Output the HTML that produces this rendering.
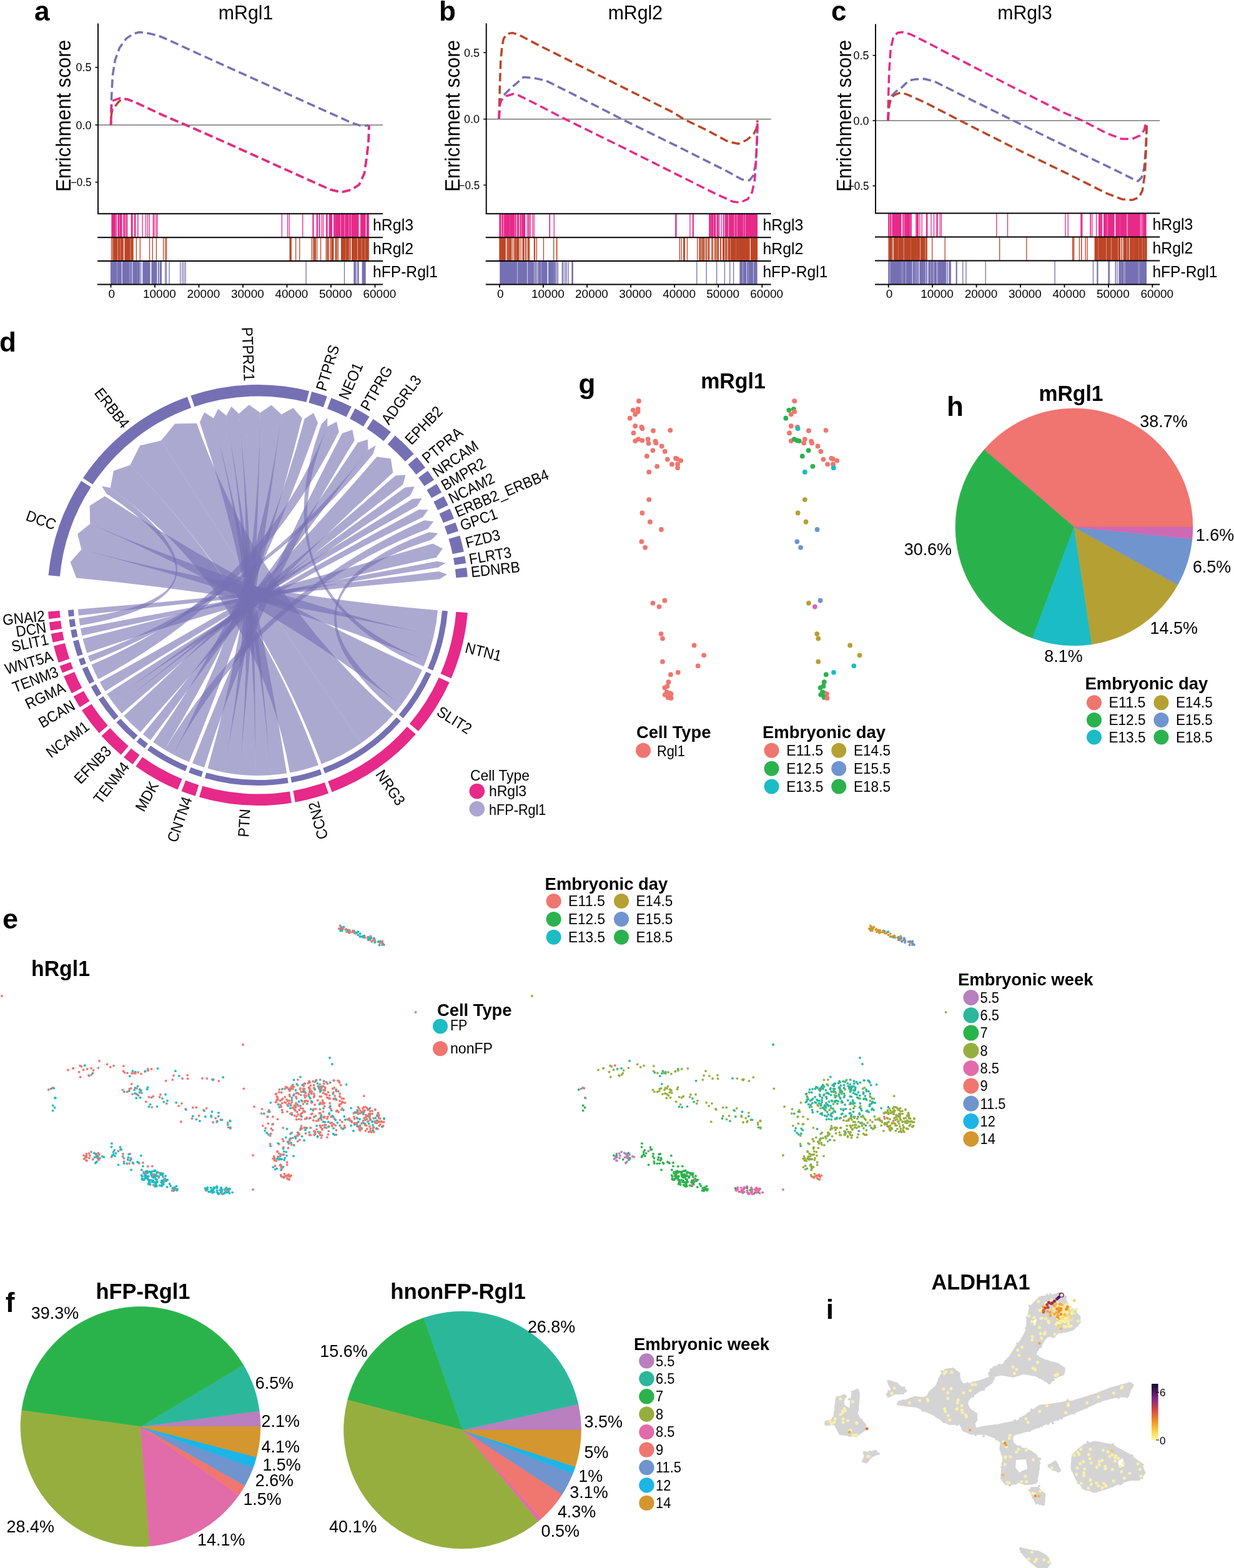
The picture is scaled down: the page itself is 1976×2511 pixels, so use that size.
<!DOCTYPE html>
<html><head><meta charset="utf-8"><title>Figure</title>
<style>html,body{margin:0;padding:0;background:#fff;}svg{display:block;}
text{font-family:"Liberation Sans",Arial,sans-serif;}</style></head>
<body><svg width="1976" height="2511" viewBox="0 0 1976 2511">
<rect width="1976" height="2511" fill="#fff"/>
<text x="55" y="33" font-size="44" font-weight="bold">a</text>
<text x="393.6" y="30.8" font-size="31.5" text-anchor="middle" textLength="87.5" lengthAdjust="spacingAndGlyphs">mRgl1</text>
<text x="113" y="185.5" font-size="33" text-anchor="middle" textLength="243" lengthAdjust="spacingAndGlyphs" transform="rotate(-90 113 185.5)">Enrichment score</text>
<line x1="157" y1="200.2" x2="613" y2="200.2" stroke="#777" stroke-width="1.6"/>
<line x1="157" y1="37.5" x2="157" y2="342.2" stroke="#000" stroke-width="1.9"/>
<line x1="152.5" y1="107.9" x2="157" y2="107.9" stroke="#000" stroke-width="1.6"/>
<text x="146.4" y="114.2" font-size="17.7" text-anchor="end" textLength="25" lengthAdjust="spacingAndGlyphs">0.5</text>
<line x1="152.5" y1="200.2" x2="157" y2="200.2" stroke="#000" stroke-width="1.6"/>
<text x="146.4" y="206.5" font-size="17.7" text-anchor="end" textLength="25" lengthAdjust="spacingAndGlyphs">0.0</text>
<line x1="152.5" y1="291.7" x2="157" y2="291.7" stroke="#000" stroke-width="1.6"/>
<text x="146.4" y="298" font-size="17.7" text-anchor="end" textLength="33.5" lengthAdjust="spacingAndGlyphs">−0.5</text>
<path d="M190.51 342.2V380.3M183.56 342.2V380.3M203.66 342.2V380.3M180.41 342.2V380.3M199.03 342.2V380.3M192.2 342.2V380.3M179.83 342.2V380.3M197.89 342.2V380.3M179.01 342.2V380.3M194.93 342.2V380.3M180.31 342.2V380.3M181.15 342.2V380.3M194.56 342.2V380.3M210.73 342.2V380.3M182.47 342.2V380.3M186.47 342.2V380.3M202.71 342.2V380.3M215.58 342.2V380.3M200.69 342.2V380.3M193.44 342.2V380.3M216.73 342.2V380.3M179.37 342.2V380.3M212 342.2V380.3M189.14 342.2V380.3M183.3 342.2V380.3M182.23 342.2V380.3M189.9 342.2V380.3M210.3 342.2V380.3M184.76 342.2V380.3M247 342.2V380.3M249.89 342.2V380.3M236.46 342.2V380.3M245.3 342.2V380.3M220.85 342.2V380.3M220.69 342.2V380.3M228.07 342.2V380.3M251.98 342.2V380.3M239.24 342.2V380.3M233.52 342.2V380.3M451.45 342.2V380.3M460.52 342.2V380.3M463.24 342.2V380.3M484.74 342.2V380.3M511.22 342.2V380.3M500.96 342.2V380.3M508.41 342.2V380.3M507.3 342.2V380.3M515.2 342.2V380.3M511.91 342.2V380.3M501.95 342.2V380.3M517.57 342.2V380.3M523.66 342.2V380.3M527.26 342.2V380.3M531.32 342.2V380.3M524.07 342.2V380.3M528.11 342.2V380.3M522.71 342.2V380.3M530.25 342.2V380.3M531.41 342.2V380.3M529.11 342.2V380.3M583.65 342.2V380.3M552.17 342.2V380.3M573.55 342.2V380.3M567.9 342.2V380.3M567.08 342.2V380.3M560.15 342.2V380.3M581.66 342.2V380.3M587.53 342.2V380.3M561.15 342.2V380.3M571.81 342.2V380.3M537.98 342.2V380.3M573.9 342.2V380.3M570.85 342.2V380.3M590.24 342.2V380.3M580.65 342.2V380.3M550.53 342.2V380.3M556.21 342.2V380.3M572.06 342.2V380.3M535.85 342.2V380.3M560.46 342.2V380.3M544 342.2V380.3M541.15 342.2V380.3M537.89 342.2V380.3M577.64 342.2V380.3M541.83 342.2V380.3M548.46 342.2V380.3M556.49 342.2V380.3M583.42 342.2V380.3M539.1 342.2V380.3M559.76 342.2V380.3M565.38 342.2V380.3M584.09 342.2V380.3M580.5 342.2V380.3M583.01 342.2V380.3M550.19 342.2V380.3M557.86 342.2V380.3M554.69 342.2V380.3M584.14 342.2V380.3M588.26 342.2V380.3M543.04 342.2V380.3M544.46 342.2V380.3M547.58 342.2V380.3M547.66 342.2V380.3M561.76 342.2V380.3M567.6 342.2V380.3M549.31 342.2V380.3M534.81 342.2V380.3M558.06 342.2V380.3M555.28 342.2V380.3M566.32 342.2V380.3M588 342.2V380.3M573.28 342.2V380.3M563.47 342.2V380.3M569.2 342.2V380.3M572.48 342.2V380.3M537.61 342.2V380.3M585 342.2V380.3M578.3 342.2V380.3M583.6 342.2V380.3M579.3 342.2V380.3M556.57 342.2V380.3M556.94 342.2V380.3M540.39 342.2V380.3M570.13 342.2V380.3M538.07 342.2V380.3M538.36 342.2V380.3M546.28 342.2V380.3M543.68 342.2V380.3M553.64 342.2V380.3M537.53 342.2V380.3M534.6 342.2V380.3M543.06 342.2V380.3M540.27 342.2V380.3M554.96 342.2V380.3M536.01 342.2V380.3M583.59 342.2V380.3M569 342.2V380.3M542.91 342.2V380.3M548.72 342.2V380.3M554.05 342.2V380.3M554.99 342.2V380.3M541.47 342.2V380.3M582.16 342.2V380.3M590.24 342.2V380.3M560.7 342.2V380.3M561.7 342.2V380.3M539.4 342.2V380.3M540.31 342.2V380.3M553.79 342.2V380.3M549.42 342.2V380.3M581.04 342.2V380.3M543.63 342.2V380.3M535.88 342.2V380.3M587.88 342.2V380.3M564.19 342.2V380.3M542.8 342.2V380.3M565.03 342.2V380.3M536.1 342.2V380.3M564.18 342.2V380.3M589.43 342.2V380.3M582.97 342.2V380.3M573.6 342.2V380.3M549.22 342.2V380.3M555.14 342.2V380.3M543.94 342.2V380.3M577.85 342.2V380.3M564.43 342.2V380.3M578.25 342.2V380.3" stroke="#E7298A" stroke-width="1.3" fill="none"/>
<path d="M189.35 380.3V418M185.52 380.3V418M206.68 380.3V418M212.91 380.3V418M208.16 380.3V418M206.48 380.3V418M206.92 380.3V418M204.1 380.3V418M185.65 380.3V418M196.11 380.3V418M190.28 380.3V418M178.54 380.3V418M178.5 380.3V418M187.55 380.3V418M186.82 380.3V418M202.4 380.3V418M211.89 380.3V418M193.58 380.3V418M211.19 380.3V418M213.02 380.3V418M211.84 380.3V418M190.61 380.3V418M185.43 380.3V418M185.66 380.3V418M184.57 380.3V418M184.85 380.3V418M199.94 380.3V418M209.87 380.3V418M207.72 380.3V418M194.74 380.3V418M200.98 380.3V418M206.25 380.3V418M180.55 380.3V418M201.25 380.3V418M210.21 380.3V418M205.63 380.3V418M204.47 380.3V418M194.69 380.3V418M183.92 380.3V418M205.87 380.3V418M189.46 380.3V418M206.29 380.3V418M212.44 380.3V418M191.73 380.3V418M191.93 380.3V418M211.54 380.3V418M203.56 380.3V418M183.61 380.3V418M182.07 380.3V418M182.93 380.3V418M210.03 380.3V418M206.5 380.3V418M182.76 380.3V418M207.22 380.3V418M212.75 380.3V418M201.13 380.3V418M190.1 380.3V418M197.23 380.3V418M224.29 380.3V418M218.4 380.3V418M266.63 380.3V418M250.43 380.3V418M244.23 380.3V418M264.75 380.3V418M239.55 380.3V418M261.63 380.3V418M479.76 380.3V418M464.15 380.3V418M465.19 380.3V418M466.23 380.3V418M464.9 380.3V418M473.68 380.3V418M501.62 380.3V418M504.55 380.3V418M499.27 380.3V418M513.55 380.3V418M503.35 380.3V418M505.26 380.3V418M507.56 380.3V418M541.05 380.3V418M530.99 380.3V418M541.33 380.3V418M532.68 380.3V418M533.31 380.3V418M533.13 380.3V418M522.63 380.3V418M531.4 380.3V418M526.05 380.3V418M522.33 380.3V418M538.87 380.3V418M525.83 380.3V418M532.09 380.3V418M537.33 380.3V418M533.82 380.3V418M529.02 380.3V418M533.03 380.3V418M533.8 380.3V418M538.56 380.3V418M524.45 380.3V418M570.95 380.3V418M556.99 380.3V418M558.26 380.3V418M580.43 380.3V418M568.59 380.3V418M571.01 380.3V418M579.89 380.3V418M586.71 380.3V418M565.71 380.3V418M573.28 380.3V418M568.49 380.3V418M568.79 380.3V418M576.87 380.3V418M566.11 380.3V418M569.74 380.3V418M567.26 380.3V418M588.01 380.3V418M577.16 380.3V418M585.1 380.3V418M588.04 380.3V418M557.48 380.3V418M570.91 380.3V418M588.09 380.3V418M583.47 380.3V418M552 380.3V418M551.31 380.3V418M565.66 380.3V418M549.11 380.3V418M556.64 380.3V418M549.14 380.3V418M575.83 380.3V418M580.96 380.3V418M586.02 380.3V418M552.78 380.3V418M577.92 380.3V418M575.42 380.3V418M552.26 380.3V418M585.38 380.3V418M589.18 380.3V418M555.69 380.3V418M588.5 380.3V418M563.69 380.3V418M567.68 380.3V418M590.18 380.3V418M583.13 380.3V418M553.09 380.3V418M565.18 380.3V418M568.94 380.3V418M561.04 380.3V418M554.63 380.3V418M560.12 380.3V418M578.19 380.3V418M546.73 380.3V418M570.67 380.3V418M565.58 380.3V418M546.67 380.3V418M560.7 380.3V418M573.79 380.3V418M568.8 380.3V418M548.74 380.3V418M589.96 380.3V418M581.16 380.3V418M589.36 380.3V418M550.55 380.3V418M557.75 380.3V418M547.63 380.3V418M580.74 380.3V418M557.97 380.3V418M551.66 380.3V418M564.77 380.3V418M586.66 380.3V418M582.53 380.3V418M557.44 380.3V418M552.55 380.3V418M587.01 380.3V418M571.41 380.3V418M577.22 380.3V418M549.87 380.3V418M548.44 380.3V418M576.67 380.3V418M564.9 380.3V418M549.1 380.3V418M587.87 380.3V418M574.26 380.3V418M581.75 380.3V418M549.61 380.3V418" stroke="#BC4526" stroke-width="1.3" fill="none"/>
<path d="M247.82 418V455.5M182.97 418V455.5M248.36 418V455.5M214.77 418V455.5M205.36 418V455.5M222.92 418V455.5M253.61 418V455.5M199.5 418V455.5M188.11 418V455.5M220.78 418V455.5M197.08 418V455.5M186.49 418V455.5M190.76 418V455.5M181.64 418V455.5M194.07 418V455.5M203.12 418V455.5M202.55 418V455.5M239.88 418V455.5M201.32 418V455.5M218.57 418V455.5M192.11 418V455.5M206 418V455.5M178.99 418V455.5M198.07 418V455.5M178.76 418V455.5M237.71 418V455.5M222.76 418V455.5M193.06 418V455.5M216.49 418V455.5M254.26 418V455.5M186.23 418V455.5M244.76 418V455.5M213 418V455.5M218.16 418V455.5M246.05 418V455.5M209.79 418V455.5M219.12 418V455.5M233.99 418V455.5M258.19 418V455.5M205.65 418V455.5M245.86 418V455.5M235.55 418V455.5M229.73 418V455.5M210.74 418V455.5M206.05 418V455.5M181.97 418V455.5M188.16 418V455.5M183.31 418V455.5M238.35 418V455.5M198.49 418V455.5M190.91 418V455.5M184.44 418V455.5M246.6 418V455.5M249 418V455.5M232.57 418V455.5M200.66 418V455.5M197.39 418V455.5M201.57 418V455.5M215.24 418V455.5M190.44 418V455.5M214.12 418V455.5M199.12 418V455.5M256.49 418V455.5M257.38 418V455.5M222.43 418V455.5M197.58 418V455.5M256.81 418V455.5M202.92 418V455.5M206.79 418V455.5M177.59 418V455.5M208.84 418V455.5M216.48 418V455.5M218.79 418V455.5M194.01 418V455.5M218.96 418V455.5M177.91 418V455.5M199.2 418V455.5M184.87 418V455.5M210.31 418V455.5M180.92 418V455.5M179.35 418V455.5M202.49 418V455.5M196.62 418V455.5M225.6 418V455.5M220.96 418V455.5M239.14 418V455.5M231.51 418V455.5M236.31 418V455.5M249.7 418V455.5M209.49 418V455.5M204.29 418V455.5M258.38 418V455.5M189.78 418V455.5M236.98 418V455.5M230.33 418V455.5M181.1 418V455.5M246.1 418V455.5M250.76 418V455.5M229.02 418V455.5M237.77 418V455.5M244.21 418V455.5M188.94 418V455.5M220.52 418V455.5M218.93 418V455.5M246.08 418V455.5M243.59 418V455.5M245.38 418V455.5M225.47 418V455.5M250.83 418V455.5M233.59 418V455.5M234.44 418V455.5M196.39 418V455.5M180.06 418V455.5M188.43 418V455.5M207.13 418V455.5M186.12 418V455.5M246.15 418V455.5M223.37 418V455.5M229.06 418V455.5M228.93 418V455.5M233.4 418V455.5M217.69 418V455.5M177.77 418V455.5M243.02 418V455.5M238.96 418V455.5M218.81 418V455.5M221.46 418V455.5M231.65 418V455.5M182.92 418V455.5M238.01 418V455.5M198.21 418V455.5M264.6 418V455.5M266.48 418V455.5M271.06 418V455.5M288.67 418V455.5M294.51 418V455.5M297.08 418V455.5M291.82 418V455.5M490.08 418V455.5M551.49 418V455.5M583.05 418V455.5M585.04 418V455.5M581.45 418V455.5M582.07 418V455.5M568.52 418V455.5M570.19 418V455.5M572.75 418V455.5M584.47 418V455.5M573.96 418V455.5M580.27 418V455.5M566.96 418V455.5M568.11 418V455.5M573.1 418V455.5M582.77 418V455.5M583.25 418V455.5M582.86 418V455.5M573.63 418V455.5" stroke="#7570B3" stroke-width="1.3" fill="none"/>
<line x1="156" y1="342.2" x2="613" y2="342.2" stroke="#000" stroke-width="2"/>
<line x1="156" y1="380.3" x2="613" y2="380.3" stroke="#000" stroke-width="2"/>
<line x1="156" y1="418" x2="613" y2="418" stroke="#000" stroke-width="2"/>
<line x1="156" y1="455.5" x2="613" y2="455.5" stroke="#000" stroke-width="2"/>
<text x="597" y="368.75" font-size="26" textLength="65" lengthAdjust="spacingAndGlyphs">hRgl3</text>
<text x="597" y="406.65" font-size="26" textLength="65" lengthAdjust="spacingAndGlyphs">hRgl2</text>
<text x="597" y="444.25" font-size="26" textLength="104" lengthAdjust="spacingAndGlyphs">hFP-Rgl1</text>
<line x1="177.5" y1="455.5" x2="177.5" y2="460.5" stroke="#000" stroke-width="1.8"/>
<text x="178.8" y="477" font-size="17.5" text-anchor="middle" textLength="10.55" lengthAdjust="spacingAndGlyphs">0</text>
<line x1="248" y1="455.5" x2="248" y2="460.5" stroke="#000" stroke-width="1.8"/>
<text x="255.4" y="477" font-size="17.5" text-anchor="middle" textLength="52.75" lengthAdjust="spacingAndGlyphs">10000</text>
<line x1="318.5" y1="455.5" x2="318.5" y2="460.5" stroke="#000" stroke-width="1.8"/>
<text x="325.9" y="477" font-size="17.5" text-anchor="middle" textLength="52.75" lengthAdjust="spacingAndGlyphs">20000</text>
<line x1="389" y1="455.5" x2="389" y2="460.5" stroke="#000" stroke-width="1.8"/>
<text x="396.4" y="477" font-size="17.5" text-anchor="middle" textLength="52.75" lengthAdjust="spacingAndGlyphs">30000</text>
<line x1="459.5" y1="455.5" x2="459.5" y2="460.5" stroke="#000" stroke-width="1.8"/>
<text x="466.9" y="477" font-size="17.5" text-anchor="middle" textLength="52.75" lengthAdjust="spacingAndGlyphs">40000</text>
<line x1="530" y1="455.5" x2="530" y2="460.5" stroke="#000" stroke-width="1.8"/>
<text x="537.4" y="477" font-size="17.5" text-anchor="middle" textLength="52.75" lengthAdjust="spacingAndGlyphs">50000</text>
<line x1="600.5" y1="455.5" x2="600.5" y2="460.5" stroke="#000" stroke-width="1.8"/>
<text x="607.9" y="477" font-size="17.5" text-anchor="middle" textLength="52.75" lengthAdjust="spacingAndGlyphs">60000</text>
<path d="M177.5 200.6 L178.3 162.1 L180.3 120.8 L184.4 96 L191.3 76.8 L202.3 61.6 L213.3 54.2 L222.9 51.5 L238.1 53.4 L254.6 57.5 L273.8 65.8 L315.1 85 L370.1 109.8 L425.2 134.6 L480.2 159.3 L535.3 184.1 L562.8 196.5 L579.3 202 L590.3 200.6" stroke="#7570B3" stroke-width="3.5" fill="none" stroke-dasharray="13.5 6.5" stroke-linejoin="round"/>
<path d="M177.5 200.6 L178.3 184.1 L180.3 173.1 L184.4 170.3 L188.5 164.8 L194 159.3 L198 158.3 L205 159.3 L218.8 164.8 L260.1 184.1 L298.6 200.6 L342.6 219.9 L397.7 244.6 L452.7 269.4 L507.7 294.2 L529.7 303.8 L546.3 307.9 L562.8 303.8 L575.2 295.6 L583.4 277.7 L587.5 250.1 L590.3 222.6 L590.8 200.6" stroke="#BC4526" stroke-width="3.5" fill="none" stroke-dasharray="13.5 6.5" stroke-linejoin="round" stroke-dashoffset="7.21"/>
<path d="M177.5 200.6 L178.9 162.1 L185.8 159.3 L192.7 157.1 L198 158 L205 159.3 L218.8 164.8 L260.1 184.1 L298.6 200.6 L342.6 219.9 L397.7 244.6 L452.7 269.4 L507.7 294.2 L529.7 303.8 L546.3 307.9 L562.8 303.8 L575.2 295.6 L583.4 277.7 L587.5 250.1 L590.3 222.6 L590.8 200.6" stroke="#E7298A" stroke-width="3.5" fill="none" stroke-dasharray="13.5 6.5" stroke-linejoin="round"/>
<text x="703" y="32.7" font-size="44" font-weight="bold">b</text>
<text x="1017.4" y="30.8" font-size="31.5" text-anchor="middle" textLength="87.5" lengthAdjust="spacingAndGlyphs">mRgl2</text>
<text x="735.7" y="185.5" font-size="33" text-anchor="middle" textLength="243" lengthAdjust="spacingAndGlyphs" transform="rotate(-90 735.7 185.5)">Enrichment score</text>
<line x1="778.7" y1="190.7" x2="1234.6" y2="190.7" stroke="#777" stroke-width="1.6"/>
<line x1="778.7" y1="37.2" x2="778.7" y2="342.2" stroke="#000" stroke-width="1.9"/>
<line x1="774.2" y1="84.3" x2="778.7" y2="84.3" stroke="#000" stroke-width="1.6"/>
<text x="768.1" y="90.6" font-size="17.7" text-anchor="end" textLength="25" lengthAdjust="spacingAndGlyphs">0.5</text>
<line x1="774.2" y1="190.7" x2="778.7" y2="190.7" stroke="#000" stroke-width="1.6"/>
<text x="768.1" y="197" font-size="17.7" text-anchor="end" textLength="25" lengthAdjust="spacingAndGlyphs">0.0</text>
<line x1="774.2" y1="296.4" x2="778.7" y2="296.4" stroke="#000" stroke-width="1.6"/>
<text x="768.1" y="302.7" font-size="17.7" text-anchor="end" textLength="33.5" lengthAdjust="spacingAndGlyphs">−0.5</text>
<path d="M820.89 342.2V380.3M818.78 342.2V380.3M818.85 342.2V380.3M804.72 342.2V380.3M836.22 342.2V380.3M808 342.2V380.3M839.65 342.2V380.3M837.95 342.2V380.3M800.61 342.2V380.3M818.55 342.2V380.3M833.22 342.2V380.3M839.24 342.2V380.3M818.17 342.2V380.3M810.82 342.2V380.3M808.43 342.2V380.3M838.33 342.2V380.3M808.46 342.2V380.3M823.53 342.2V380.3M805.66 342.2V380.3M821.2 342.2V380.3M838.62 342.2V380.3M805.29 342.2V380.3M833.23 342.2V380.3M820.57 342.2V380.3M835.94 342.2V380.3M828.48 342.2V380.3M809.3 342.2V380.3M836.38 342.2V380.3M819.66 342.2V380.3M800.91 342.2V380.3M800.05 342.2V380.3M819.88 342.2V380.3M818.22 342.2V380.3M812.17 342.2V380.3M805.62 342.2V380.3M813.88 342.2V380.3M812.74 342.2V380.3M834.05 342.2V380.3M799.97 342.2V380.3M830.41 342.2V380.3M834 342.2V380.3M804.78 342.2V380.3M837.55 342.2V380.3M828.88 342.2V380.3M836.54 342.2V380.3M811.68 342.2V380.3M815.03 342.2V380.3M815.87 342.2V380.3M840.49 342.2V380.3M823.84 342.2V380.3M814.56 342.2V380.3M817.3 342.2V380.3M811.08 342.2V380.3M801.86 342.2V380.3M804.03 342.2V380.3M833.82 342.2V380.3M811.51 342.2V380.3M837.92 342.2V380.3M810.03 342.2V380.3M810.7 342.2V380.3M820.66 342.2V380.3M807.62 342.2V380.3M815.07 342.2V380.3M838.76 342.2V380.3M835.84 342.2V380.3M832.9 342.2V380.3M825.54 342.2V380.3M837.02 342.2V380.3M838.13 342.2V380.3M822.22 342.2V380.3M829.14 342.2V380.3M801.91 342.2V380.3M829.66 342.2V380.3M818.22 342.2V380.3M830.49 342.2V380.3M826.09 342.2V380.3M811.53 342.2V380.3M801.89 342.2V380.3M837.56 342.2V380.3M805.07 342.2V380.3M819.09 342.2V380.3M813.87 342.2V380.3M812 342.2V380.3M829.93 342.2V380.3M839.58 342.2V380.3M846.37 342.2V380.3M855.25 342.2V380.3M847.28 342.2V380.3M853.03 342.2V380.3M849.38 342.2V380.3M844.29 342.2V380.3M879.96 342.2V380.3M880.41 342.2V380.3M887.26 342.2V380.3M1082.96 342.2V380.3M1081.79 342.2V380.3M1109.38 342.2V380.3M1110.26 342.2V380.3M1104.9 342.2V380.3M1138.03 342.2V380.3M1139.51 342.2V380.3M1136.66 342.2V380.3M1143.7 342.2V380.3M1136.67 342.2V380.3M1140.82 342.2V380.3M1141.36 342.2V380.3M1150.08 342.2V380.3M1158.98 342.2V380.3M1155.13 342.2V380.3M1145.69 342.2V380.3M1145.72 342.2V380.3M1148.81 342.2V380.3M1144.68 342.2V380.3M1143.6 342.2V380.3M1135.86 342.2V380.3M1141.9 342.2V380.3M1161.24 342.2V380.3M1137.65 342.2V380.3M1148.23 342.2V380.3M1151.76 342.2V380.3M1158.3 342.2V380.3M1140.17 342.2V380.3M1141.71 342.2V380.3M1174.68 342.2V380.3M1182.31 342.2V380.3M1184.64 342.2V380.3M1210.27 342.2V380.3M1204.96 342.2V380.3M1206.18 342.2V380.3M1163.24 342.2V380.3M1163.77 342.2V380.3M1197.94 342.2V380.3M1207.33 342.2V380.3M1186.02 342.2V380.3M1191.77 342.2V380.3M1162.15 342.2V380.3M1181.9 342.2V380.3M1208.9 342.2V380.3M1203.79 342.2V380.3M1205.3 342.2V380.3M1211.19 342.2V380.3M1174.68 342.2V380.3M1167.65 342.2V380.3M1169.93 342.2V380.3M1188.5 342.2V380.3M1196.55 342.2V380.3M1209.64 342.2V380.3M1198.55 342.2V380.3M1194.8 342.2V380.3M1200.73 342.2V380.3M1185.22 342.2V380.3M1189.97 342.2V380.3M1164.14 342.2V380.3M1201.61 342.2V380.3M1173.88 342.2V380.3M1208.55 342.2V380.3M1194.71 342.2V380.3M1177.47 342.2V380.3M1168.6 342.2V380.3M1174.85 342.2V380.3M1194.24 342.2V380.3M1197.39 342.2V380.3M1167.8 342.2V380.3M1165.69 342.2V380.3M1188.6 342.2V380.3M1191.55 342.2V380.3M1181.72 342.2V380.3M1173.42 342.2V380.3M1192.47 342.2V380.3M1162.67 342.2V380.3M1177.36 342.2V380.3M1185.39 342.2V380.3M1210.52 342.2V380.3M1194.66 342.2V380.3M1206.73 342.2V380.3M1186.12 342.2V380.3M1173.99 342.2V380.3M1174.61 342.2V380.3M1210.61 342.2V380.3M1197.69 342.2V380.3M1177.65 342.2V380.3M1163.24 342.2V380.3M1187.28 342.2V380.3M1196.17 342.2V380.3M1183.33 342.2V380.3M1175.12 342.2V380.3M1195.81 342.2V380.3M1208.82 342.2V380.3M1173.59 342.2V380.3M1163.86 342.2V380.3M1179.2 342.2V380.3M1183.36 342.2V380.3M1196.58 342.2V380.3M1172.14 342.2V380.3M1202.35 342.2V380.3M1199.43 342.2V380.3M1187.61 342.2V380.3M1172.5 342.2V380.3M1211.07 342.2V380.3M1177.87 342.2V380.3M1203.51 342.2V380.3M1173.79 342.2V380.3M1173.32 342.2V380.3M1200.51 342.2V380.3M1177.02 342.2V380.3M1210.17 342.2V380.3M1187.16 342.2V380.3M1171.59 342.2V380.3M1173.41 342.2V380.3M1183.18 342.2V380.3M1195.71 342.2V380.3M1210.01 342.2V380.3M1169.53 342.2V380.3M1181.99 342.2V380.3M1172.89 342.2V380.3M1211.29 342.2V380.3M1169.3 342.2V380.3M1164.76 342.2V380.3M1165.18 342.2V380.3M1181.99 342.2V380.3M1207.46 342.2V380.3M1206.72 342.2V380.3M1199.11 342.2V380.3M1212.47 342.2V380.3M1209.14 342.2V380.3M1178.75 342.2V380.3M1171.5 342.2V380.3M1209.36 342.2V380.3M1199.79 342.2V380.3M1163.75 342.2V380.3M1195.66 342.2V380.3M1181.25 342.2V380.3M1181.01 342.2V380.3M1178.88 342.2V380.3M1170.68 342.2V380.3M1162.29 342.2V380.3" stroke="#E7298A" stroke-width="1.3" fill="none"/>
<path d="M805.39 380.3V418M806.8 380.3V418M818.65 380.3V418M802.33 380.3V418M818.82 380.3V418M803.97 380.3V418M806.9 380.3V418M816.02 380.3V418M816.03 380.3V418M808.38 380.3V418M800.87 380.3V418M809.19 380.3V418M807.21 380.3V418M817.94 380.3V418M803.69 380.3V418M807.05 380.3V418M817.5 380.3V418M800.49 380.3V418M807.96 380.3V418M815.83 380.3V418M814.94 380.3V418M800.7 380.3V418M800.58 380.3V418M801.13 380.3V418M817.95 380.3V418M804.94 380.3V418M814.56 380.3V418M817.53 380.3V418M806.55 380.3V418M805.24 380.3V418M818.69 380.3V418M812 380.3V418M805.04 380.3V418M813.96 380.3V418M806.11 380.3V418M805.31 380.3V418M799.97 380.3V418M814.72 380.3V418M817.88 380.3V418M812.34 380.3V418M818.41 380.3V418M800.38 380.3V418M804.49 380.3V418M809.22 380.3V418M842.31 380.3V418M842.24 380.3V418M828.73 380.3V418M825.5 380.3V418M829.76 380.3V418M831.27 380.3V418M841.63 380.3V418M823.88 380.3V418M838.64 380.3V418M837.11 380.3V418M839.12 380.3V418M837.93 380.3V418M833.99 380.3V418M827.33 380.3V418M827.13 380.3V418M828.14 380.3V418M838.15 380.3V418M821.4 380.3V418M824.22 380.3V418M837.45 380.3V418M855.47 380.3V418M846.52 380.3V418M845 380.3V418M870.44 380.3V418M859.32 380.3V418M891.42 380.3V418M886.67 380.3V418M891.79 380.3V418M856.33 380.3V418M847.47 380.3V418M1088.36 380.3V418M1096.25 380.3V418M1100.4 380.3V418M1095.24 380.3V418M1091.07 380.3V418M1094.65 380.3V418M1147.53 380.3V418M1150.4 380.3V418M1154.33 380.3V418M1159.6 380.3V418M1149.88 380.3V418M1120.95 380.3V418M1159.28 380.3V418M1130.14 380.3V418M1144.69 380.3V418M1134.36 380.3V418M1153.8 380.3V418M1125.11 380.3V418M1127.68 380.3V418M1127.56 380.3V418M1122.66 380.3V418M1161.58 380.3V418M1145.29 380.3V418M1131.88 380.3V418M1135.59 380.3V418M1167.35 380.3V418M1141.51 380.3V418M1126.82 380.3V418M1157.55 380.3V418M1149.29 380.3V418M1167.27 380.3V418M1119.95 380.3V418M1139.78 380.3V418M1158.12 380.3V418M1159.26 380.3V418M1163.19 380.3V418M1116.65 380.3V418M1130.14 380.3V418M1120.85 380.3V418M1124.59 380.3V418M1166.31 380.3V418M1145.55 380.3V418M1164.03 380.3V418M1134.32 380.3V418M1206.59 380.3V418M1187.89 380.3V418M1179.41 380.3V418M1202.63 380.3V418M1210.16 380.3V418M1172.49 380.3V418M1194.48 380.3V418M1195.55 380.3V418M1177.51 380.3V418M1184.28 380.3V418M1174.09 380.3V418M1176.9 380.3V418M1179.18 380.3V418M1194.63 380.3V418M1196.97 380.3V418M1176.87 380.3V418M1168.26 380.3V418M1182.42 380.3V418M1198.17 380.3V418M1176.05 380.3V418M1181.75 380.3V418M1176.87 380.3V418M1203.41 380.3V418M1192.33 380.3V418M1170.59 380.3V418M1172.3 380.3V418M1185.48 380.3V418M1192.42 380.3V418M1196.41 380.3V418M1171.84 380.3V418M1175.09 380.3V418M1198.93 380.3V418M1186.13 380.3V418M1180.45 380.3V418M1181.54 380.3V418M1210.49 380.3V418M1181.76 380.3V418M1193.15 380.3V418M1183.77 380.3V418M1186.42 380.3V418M1206.51 380.3V418M1212.44 380.3V418M1184.06 380.3V418M1176.59 380.3V418M1200.4 380.3V418M1176.88 380.3V418M1168.01 380.3V418M1208.18 380.3V418M1186.75 380.3V418M1204.54 380.3V418M1185.97 380.3V418M1207.34 380.3V418M1188.42 380.3V418M1175.04 380.3V418M1168.42 380.3V418M1192.48 380.3V418M1196.48 380.3V418M1208.55 380.3V418M1171.74 380.3V418M1195.65 380.3V418M1184.38 380.3V418M1190.37 380.3V418M1174.29 380.3V418M1180.45 380.3V418M1191.12 380.3V418M1209.25 380.3V418M1172.63 380.3V418M1189.75 380.3V418M1203.84 380.3V418M1211.11 380.3V418M1176.6 380.3V418M1173.43 380.3V418M1210.04 380.3V418M1211.5 380.3V418M1189.4 380.3V418M1170.14 380.3V418M1209.28 380.3V418M1185.14 380.3V418M1208.3 380.3V418M1195.57 380.3V418M1204.73 380.3V418M1174.94 380.3V418M1202.99 380.3V418M1177.71 380.3V418M1185.89 380.3V418M1205.7 380.3V418M1204.93 380.3V418M1175.95 380.3V418M1177.53 380.3V418M1185.68 380.3V418M1190.97 380.3V418M1184.95 380.3V418M1173.27 380.3V418" stroke="#BC4526" stroke-width="1.3" fill="none"/>
<path d="M809.94 418V455.5M829.36 418V455.5M836.36 418V455.5M801.57 418V455.5M822.75 418V455.5M830.68 418V455.5M801.45 418V455.5M833.96 418V455.5M804.68 418V455.5M824.26 418V455.5M822.25 418V455.5M825.38 418V455.5M812.34 418V455.5M816.97 418V455.5M823.58 418V455.5M817.2 418V455.5M826.67 418V455.5M818.06 418V455.5M817.71 418V455.5M800.85 418V455.5M825.05 418V455.5M819.79 418V455.5M809.46 418V455.5M830.93 418V455.5M831.6 418V455.5M818.52 418V455.5M807.2 418V455.5M819.13 418V455.5M804.25 418V455.5M805.12 418V455.5M817.4 418V455.5M803.63 418V455.5M817.86 418V455.5M820.63 418V455.5M801.56 418V455.5M825.76 418V455.5M803.24 418V455.5M829.71 418V455.5M831.5 418V455.5M820.69 418V455.5M802.11 418V455.5M820.38 418V455.5M815.26 418V455.5M838.54 418V455.5M805.43 418V455.5M834.73 418V455.5M840.38 418V455.5M829.65 418V455.5M833.02 418V455.5M807.77 418V455.5M839.8 418V455.5M819.89 418V455.5M838.78 418V455.5M837.13 418V455.5M806.61 418V455.5M831.94 418V455.5M837.72 418V455.5M802.56 418V455.5M814.16 418V455.5M830.63 418V455.5M806.35 418V455.5M836.33 418V455.5M811.08 418V455.5M833.05 418V455.5M805.73 418V455.5M820.31 418V455.5M837.28 418V455.5M808.37 418V455.5M810.58 418V455.5M820.46 418V455.5M812.87 418V455.5M801.4 418V455.5M807.3 418V455.5M806.45 418V455.5M837.95 418V455.5M827.52 418V455.5M836.29 418V455.5M806.76 418V455.5M831.8 418V455.5M804.58 418V455.5M821.47 418V455.5M825.76 418V455.5M814.52 418V455.5M835.38 418V455.5M822.46 418V455.5M823.47 418V455.5M835.77 418V455.5M804.15 418V455.5M840.25 418V455.5M825.49 418V455.5M815.92 418V455.5M883.02 418V455.5M854.64 418V455.5M893.28 418V455.5M871.28 418V455.5M859.72 418V455.5M881.26 418V455.5M864.09 418V455.5M849.95 418V455.5M880.14 418V455.5M843.11 418V455.5M884.19 418V455.5M854.05 418V455.5M874.58 418V455.5M892.94 418V455.5M871.74 418V455.5M875.88 418V455.5M857.19 418V455.5M840.63 418V455.5M842.34 418V455.5M848.49 418V455.5M873.34 418V455.5M863.56 418V455.5M867.84 418V455.5M888.23 418V455.5M847.57 418V455.5M852.64 418V455.5M875.32 418V455.5M841.73 418V455.5M840.68 418V455.5M859.44 418V455.5M846.2 418V455.5M859.56 418V455.5M852.48 418V455.5M871.62 418V455.5M871.91 418V455.5M851.41 418V455.5M873.76 418V455.5M865.83 418V455.5M847.71 418V455.5M890.41 418V455.5M853.51 418V455.5M848.49 418V455.5M845.64 418V455.5M874.52 418V455.5M886.94 418V455.5M882.19 418V455.5M861.94 418V455.5M854.61 418V455.5M841.15 418V455.5M874.88 418V455.5M870.48 418V455.5M859.19 418V455.5M874.92 418V455.5M864.17 418V455.5M890.44 418V455.5M879.6 418V455.5M853.77 418V455.5M888.65 418V455.5M842.88 418V455.5M868.84 418V455.5M862.16 418V455.5M853.19 418V455.5M843.65 418V455.5M882.01 418V455.5M841.2 418V455.5M869.88 418V455.5M890.64 418V455.5M848.11 418V455.5M851.16 418V455.5M872.92 418V455.5M867.53 418V455.5M874.7 418V455.5M883.85 418V455.5M849.84 418V455.5M857.01 418V455.5M856.53 418V455.5M843.12 418V455.5M887.9 418V455.5M882.23 418V455.5M878.63 418V455.5M840.88 418V455.5M885.51 418V455.5M880.22 418V455.5M865.31 418V455.5M880.04 418V455.5M910.17 418V455.5M904.78 418V455.5M901.9 418V455.5M904.93 418V455.5M900.32 418V455.5M907.39 418V455.5M917.25 418V455.5M915.95 418V455.5M1115.79 418V455.5M1131.11 418V455.5M1147.62 418V455.5M1160.43 418V455.5M1168.76 418V455.5M1174.61 418V455.5M1199.23 418V455.5M1192 418V455.5M1202.56 418V455.5M1211.62 418V455.5M1190.65 418V455.5M1209.23 418V455.5M1184.99 418V455.5M1191.86 418V455.5M1191.18 418V455.5M1205.41 418V455.5M1211.04 418V455.5M1205.48 418V455.5M1193.73 418V455.5M1209.23 418V455.5M1193.77 418V455.5M1191.27 418V455.5M1210 418V455.5M1202.24 418V455.5M1203.98 418V455.5M1203.21 418V455.5M1212 418V455.5M1197.72 418V455.5M1208.1 418V455.5M1204.12 418V455.5M1208.6 418V455.5M1196.82 418V455.5M1204.87 418V455.5M1200.55 418V455.5M1193.19 418V455.5M1190.51 418V455.5M1202.02 418V455.5M1186.75 418V455.5M1210.09 418V455.5M1188.62 418V455.5M1185.32 418V455.5M1187.56 418V455.5M1210.6 418V455.5M1194.23 418V455.5M1188.54 418V455.5M1185.37 418V455.5M1185.73 418V455.5M1203.98 418V455.5M1202.33 418V455.5M1204.1 418V455.5M1205.22 418V455.5M1186.41 418V455.5M1201.11 418V455.5M1194.75 418V455.5M1207.48 418V455.5M1207.54 418V455.5M1209.55 418V455.5M1186.41 418V455.5M1208.89 418V455.5M1210.19 418V455.5M1211.03 418V455.5M1187.57 418V455.5M1190.33 418V455.5M1187.7 418V455.5M1185.53 418V455.5M1208.32 418V455.5M1207.32 418V455.5M1202.34 418V455.5M1207.69 418V455.5M1202.27 418V455.5M1192.62 418V455.5M1187.37 418V455.5M1187.31 418V455.5" stroke="#7570B3" stroke-width="1.3" fill="none"/>
<line x1="777.7" y1="342.2" x2="1234.6" y2="342.2" stroke="#000" stroke-width="2"/>
<line x1="777.7" y1="380.3" x2="1234.6" y2="380.3" stroke="#000" stroke-width="2"/>
<line x1="777.7" y1="418" x2="1234.6" y2="418" stroke="#000" stroke-width="2"/>
<line x1="777.7" y1="455.5" x2="1234.6" y2="455.5" stroke="#000" stroke-width="2"/>
<text x="1221.4" y="368.75" font-size="26" textLength="65" lengthAdjust="spacingAndGlyphs">hRgl3</text>
<text x="1221.4" y="406.65" font-size="26" textLength="65" lengthAdjust="spacingAndGlyphs">hRgl2</text>
<text x="1221.4" y="444.25" font-size="26" textLength="104" lengthAdjust="spacingAndGlyphs">hFP-Rgl1</text>
<line x1="799.9" y1="455.5" x2="799.9" y2="460.5" stroke="#000" stroke-width="1.8"/>
<text x="801.2" y="477" font-size="17.5" text-anchor="middle" textLength="10.55" lengthAdjust="spacingAndGlyphs">0</text>
<line x1="869.97" y1="455.5" x2="869.97" y2="460.5" stroke="#000" stroke-width="1.8"/>
<text x="877.37" y="477" font-size="17.5" text-anchor="middle" textLength="52.75" lengthAdjust="spacingAndGlyphs">10000</text>
<line x1="940.03" y1="455.5" x2="940.03" y2="460.5" stroke="#000" stroke-width="1.8"/>
<text x="947.43" y="477" font-size="17.5" text-anchor="middle" textLength="52.75" lengthAdjust="spacingAndGlyphs">20000</text>
<line x1="1010.1" y1="455.5" x2="1010.1" y2="460.5" stroke="#000" stroke-width="1.8"/>
<text x="1017.5" y="477" font-size="17.5" text-anchor="middle" textLength="52.75" lengthAdjust="spacingAndGlyphs">30000</text>
<line x1="1080.17" y1="455.5" x2="1080.17" y2="460.5" stroke="#000" stroke-width="1.8"/>
<text x="1087.57" y="477" font-size="17.5" text-anchor="middle" textLength="52.75" lengthAdjust="spacingAndGlyphs">40000</text>
<line x1="1150.23" y1="455.5" x2="1150.23" y2="460.5" stroke="#000" stroke-width="1.8"/>
<text x="1157.63" y="477" font-size="17.5" text-anchor="middle" textLength="52.75" lengthAdjust="spacingAndGlyphs">50000</text>
<line x1="1220.3" y1="455.5" x2="1220.3" y2="460.5" stroke="#000" stroke-width="1.8"/>
<text x="1227.7" y="477" font-size="17.5" text-anchor="middle" textLength="52.75" lengthAdjust="spacingAndGlyphs">60000</text>
<path d="M799.2 190.4 L800.3 164.8 L805.3 153.8 L816.3 142.8 L827.3 133.2 L838.3 123.6 L854.8 124.9 L874.1 129.1 L912.6 148.3 L995.1 190.4 L1077.7 230.9 L1160.3 272.2 L1187.8 287.3 L1200.2 288.7 L1205.7 281.8 L1209.8 263.9 L1212.5 222.6 L1213.1 195" stroke="#7570B3" stroke-width="3.5" fill="none" stroke-dasharray="13.5 6.5" stroke-linejoin="round"/>
<path d="M799.2 190.4 L800.3 140.1 L801.7 98.8 L803.9 74 L806.6 61.6 L812.1 54.2 L820.4 52.6 L830 55.3 L857.6 69.9 L912.6 97.4 L995.1 138.7 L1077.7 180 L1094.2 190.4 L1132.7 208.9 L1165.8 226.8 L1182.3 230.3 L1196 224 L1207 214.4 L1211.2 206.1 L1213.1 192.4" stroke="#BC4526" stroke-width="3.5" fill="none" stroke-dasharray="13.5 6.5" stroke-linejoin="round"/>
<path d="M799.2 190.4 L799.8 170.3 L802.5 160.7 L810.8 153.8 L821.8 150.5 L830 152.5 L857.6 166.2 L904.3 190.4 L995.1 235 L1077.7 276.3 L1146.5 310.7 L1174 323.1 L1185 324.4 L1197.4 318.9 L1204.3 307.9 L1208.4 288.7 L1211.2 250.1 L1212.5 208.9 L1213.1 195" stroke="#E7298A" stroke-width="3.5" fill="none" stroke-dasharray="13.5 6.5" stroke-linejoin="round"/>
<text x="1331" y="32.7" font-size="44" font-weight="bold">c</text>
<text x="1641" y="30.8" font-size="31.5" text-anchor="middle" textLength="87.5" lengthAdjust="spacingAndGlyphs">mRgl3</text>
<text x="1363" y="185.5" font-size="33" text-anchor="middle" textLength="243" lengthAdjust="spacingAndGlyphs" transform="rotate(-90 1363 185.5)">Enrichment score</text>
<line x1="1402" y1="193.2" x2="1857.3" y2="193.2" stroke="#777" stroke-width="1.6"/>
<line x1="1402" y1="38.4" x2="1402" y2="341.6" stroke="#000" stroke-width="1.9"/>
<line x1="1397.5" y1="88.7" x2="1402" y2="88.7" stroke="#000" stroke-width="1.6"/>
<text x="1391.4" y="95" font-size="17.7" text-anchor="end" textLength="25" lengthAdjust="spacingAndGlyphs">0.5</text>
<line x1="1397.5" y1="193.2" x2="1402" y2="193.2" stroke="#000" stroke-width="1.6"/>
<text x="1391.4" y="199.5" font-size="17.7" text-anchor="end" textLength="25" lengthAdjust="spacingAndGlyphs">0.0</text>
<line x1="1397.5" y1="297.6" x2="1402" y2="297.6" stroke="#000" stroke-width="1.6"/>
<text x="1391.4" y="303.9" font-size="17.7" text-anchor="end" textLength="33.5" lengthAdjust="spacingAndGlyphs">−0.5</text>
<path d="M1450.98 341.6V379.6M1430.35 341.6V379.6M1434.62 341.6V379.6M1438.52 341.6V379.6M1423.48 341.6V379.6M1432.28 341.6V379.6M1433.25 341.6V379.6M1449.43 341.6V379.6M1436.44 341.6V379.6M1434.68 341.6V379.6M1458.69 341.6V379.6M1441.51 341.6V379.6M1454.49 341.6V379.6M1445.79 341.6V379.6M1423.86 341.6V379.6M1438.12 341.6V379.6M1439 341.6V379.6M1451.56 341.6V379.6M1435.65 341.6V379.6M1449.01 341.6V379.6M1442.78 341.6V379.6M1430.79 341.6V379.6M1454.89 341.6V379.6M1426.09 341.6V379.6M1453.31 341.6V379.6M1429.06 341.6V379.6M1422.75 341.6V379.6M1430.24 341.6V379.6M1451.16 341.6V379.6M1459.21 341.6V379.6M1422.86 341.6V379.6M1441.03 341.6V379.6M1441.05 341.6V379.6M1452.45 341.6V379.6M1429.59 341.6V379.6M1441.17 341.6V379.6M1435.66 341.6V379.6M1453.76 341.6V379.6M1432.43 341.6V379.6M1457.94 341.6V379.6M1433.29 341.6V379.6M1430.72 341.6V379.6M1448.82 341.6V379.6M1441.31 341.6V379.6M1426.8 341.6V379.6M1446.47 341.6V379.6M1425.72 341.6V379.6M1452.12 341.6V379.6M1448.73 341.6V379.6M1452.08 341.6V379.6M1446.15 341.6V379.6M1435.98 341.6V379.6M1437.68 341.6V379.6M1437.43 341.6V379.6M1455.95 341.6V379.6M1425.92 341.6V379.6M1455.87 341.6V379.6M1423.64 341.6V379.6M1430.4 341.6V379.6M1432.53 341.6V379.6M1456.35 341.6V379.6M1441.41 341.6V379.6M1436.86 341.6V379.6M1455.71 341.6V379.6M1431.42 341.6V379.6M1439.91 341.6V379.6M1442.55 341.6V379.6M1450.87 341.6V379.6M1450.82 341.6V379.6M1446.83 341.6V379.6M1435.71 341.6V379.6M1434.9 341.6V379.6M1468.36 341.6V379.6M1505.18 341.6V379.6M1495.49 341.6V379.6M1499.77 341.6V379.6M1469.12 341.6V379.6M1483.53 341.6V379.6M1501.45 341.6V379.6M1491.05 341.6V379.6M1466.79 341.6V379.6M1484.78 341.6V379.6M1507.43 341.6V379.6M1472.78 341.6V379.6M1470.3 341.6V379.6M1476.18 341.6V379.6M1595.8 341.6V379.6M1613.51 341.6V379.6M1706.02 341.6V379.6M1710.25 341.6V379.6M1730.9 341.6V379.6M1731.46 341.6V379.6M1732.84 341.6V379.6M1745.97 341.6V379.6M1748.79 341.6V379.6M1746.45 341.6V379.6M1759.74 341.6V379.6M1755.57 341.6V379.6M1767.9 341.6V379.6M1833.38 341.6V379.6M1767.89 341.6V379.6M1789.39 341.6V379.6M1835.01 341.6V379.6M1820.64 341.6V379.6M1815.95 341.6V379.6M1793.25 341.6V379.6M1775.08 341.6V379.6M1808.7 341.6V379.6M1768.29 341.6V379.6M1775.86 341.6V379.6M1789.7 341.6V379.6M1762.74 341.6V379.6M1790.52 341.6V379.6M1820.34 341.6V379.6M1812.92 341.6V379.6M1798.24 341.6V379.6M1808.27 341.6V379.6M1795.4 341.6V379.6M1770.95 341.6V379.6M1806.09 341.6V379.6M1790.95 341.6V379.6M1816.53 341.6V379.6M1829.24 341.6V379.6M1792.87 341.6V379.6M1803.83 341.6V379.6M1817.15 341.6V379.6M1792.2 341.6V379.6M1777.55 341.6V379.6M1815.11 341.6V379.6M1827.12 341.6V379.6M1819.05 341.6V379.6M1813.42 341.6V379.6M1825.01 341.6V379.6M1811.86 341.6V379.6M1808.97 341.6V379.6M1794.69 341.6V379.6M1783.97 341.6V379.6M1807.96 341.6V379.6M1767.6 341.6V379.6M1792.08 341.6V379.6M1819.68 341.6V379.6M1814.42 341.6V379.6M1808.06 341.6V379.6M1779.18 341.6V379.6M1792.38 341.6V379.6M1794.79 341.6V379.6M1807.45 341.6V379.6M1791.3 341.6V379.6M1811.53 341.6V379.6M1830.93 341.6V379.6M1774.08 341.6V379.6M1809.95 341.6V379.6M1819.36 341.6V379.6M1789.73 341.6V379.6M1797.43 341.6V379.6M1834.31 341.6V379.6M1763.06 341.6V379.6M1801.5 341.6V379.6M1772.39 341.6V379.6M1819.64 341.6V379.6M1831.72 341.6V379.6M1799.66 341.6V379.6M1767.85 341.6V379.6M1803.87 341.6V379.6M1801.32 341.6V379.6M1814.73 341.6V379.6M1799.13 341.6V379.6M1808.79 341.6V379.6M1823.23 341.6V379.6M1799.85 341.6V379.6M1791.38 341.6V379.6M1832.28 341.6V379.6M1776.14 341.6V379.6M1812.23 341.6V379.6M1790.02 341.6V379.6M1818.19 341.6V379.6M1769.47 341.6V379.6M1835.06 341.6V379.6M1787.2 341.6V379.6M1764.46 341.6V379.6M1781.03 341.6V379.6M1790.57 341.6V379.6M1761.17 341.6V379.6M1792 341.6V379.6M1792.15 341.6V379.6M1813.28 341.6V379.6M1786.95 341.6V379.6M1780.33 341.6V379.6M1777.23 341.6V379.6M1816.57 341.6V379.6M1831.67 341.6V379.6M1800.26 341.6V379.6M1776.81 341.6V379.6M1821.14 341.6V379.6M1789.98 341.6V379.6M1776.29 341.6V379.6M1769.99 341.6V379.6M1819.24 341.6V379.6M1821.75 341.6V379.6M1808.42 341.6V379.6M1795.85 341.6V379.6M1802.92 341.6V379.6M1777.35 341.6V379.6M1833.49 341.6V379.6M1787.02 341.6V379.6M1808.76 341.6V379.6M1822.45 341.6V379.6M1822.26 341.6V379.6M1795.77 341.6V379.6M1782.55 341.6V379.6M1801.87 341.6V379.6M1769.68 341.6V379.6M1823.59 341.6V379.6M1787.15 341.6V379.6M1824.88 341.6V379.6M1780.5 341.6V379.6M1788.78 341.6V379.6M1779.45 341.6V379.6M1792.58 341.6V379.6M1774.3 341.6V379.6M1760.36 341.6V379.6M1815.07 341.6V379.6M1781.55 341.6V379.6M1778.79 341.6V379.6M1783.12 341.6V379.6M1796.64 341.6V379.6M1792.76 341.6V379.6M1808.65 341.6V379.6M1810.32 341.6V379.6M1787.73 341.6V379.6M1830.82 341.6V379.6M1825.17 341.6V379.6M1764.5 341.6V379.6M1823.15 341.6V379.6M1829.07 341.6V379.6M1819.81 341.6V379.6M1770.84 341.6V379.6M1823.41 341.6V379.6M1808.33 341.6V379.6M1761.3 341.6V379.6M1761.03 341.6V379.6M1832.57 341.6V379.6M1810.06 341.6V379.6M1779.18 341.6V379.6" stroke="#E7298A" stroke-width="1.3" fill="none"/>
<path d="M1429.06 379.6V417.6M1431.65 379.6V417.6M1437.35 379.6V417.6M1471.37 379.6V417.6M1444.42 379.6V417.6M1432.27 379.6V417.6M1479.39 379.6V417.6M1472.34 379.6V417.6M1433.23 379.6V417.6M1478.57 379.6V417.6M1460.84 379.6V417.6M1471.69 379.6V417.6M1464.61 379.6V417.6M1478.75 379.6V417.6M1472.11 379.6V417.6M1475.29 379.6V417.6M1435.08 379.6V417.6M1466.14 379.6V417.6M1455.98 379.6V417.6M1469.22 379.6V417.6M1450.2 379.6V417.6M1478.04 379.6V417.6M1457.5 379.6V417.6M1439.28 379.6V417.6M1437.38 379.6V417.6M1431.44 379.6V417.6M1453.62 379.6V417.6M1426.37 379.6V417.6M1451.99 379.6V417.6M1431.76 379.6V417.6M1453.51 379.6V417.6M1453.94 379.6V417.6M1456.53 379.6V417.6M1476.8 379.6V417.6M1423.11 379.6V417.6M1475.42 379.6V417.6M1452.04 379.6V417.6M1457.97 379.6V417.6M1464.41 379.6V417.6M1475.4 379.6V417.6M1446.21 379.6V417.6M1448.96 379.6V417.6M1482.93 379.6V417.6M1427.43 379.6V417.6M1462.64 379.6V417.6M1462.59 379.6V417.6M1424.49 379.6V417.6M1460.93 379.6V417.6M1465.5 379.6V417.6M1481.11 379.6V417.6M1443.42 379.6V417.6M1484.25 379.6V417.6M1454.72 379.6V417.6M1453.09 379.6V417.6M1478.98 379.6V417.6M1424.83 379.6V417.6M1467.73 379.6V417.6M1461.91 379.6V417.6M1443.93 379.6V417.6M1476.73 379.6V417.6M1445.66 379.6V417.6M1452.45 379.6V417.6M1455.65 379.6V417.6M1471.02 379.6V417.6M1435.91 379.6V417.6M1449.99 379.6V417.6M1449.18 379.6V417.6M1457.44 379.6V417.6M1474.54 379.6V417.6M1441.06 379.6V417.6M1474.6 379.6V417.6M1448.01 379.6V417.6M1454.29 379.6V417.6M1439.74 379.6V417.6M1454.45 379.6V417.6M1483.83 379.6V417.6M1463.74 379.6V417.6M1472.36 379.6V417.6M1443.45 379.6V417.6M1442.58 379.6V417.6M1441.46 379.6V417.6M1459.47 379.6V417.6M1462.5 379.6V417.6M1471.87 379.6V417.6M1425.21 379.6V417.6M1468.01 379.6V417.6M1478.23 379.6V417.6M1456.9 379.6V417.6M1425.82 379.6V417.6M1441.54 379.6V417.6M1423.09 379.6V417.6M1434.61 379.6V417.6M1480.47 379.6V417.6M1460.86 379.6V417.6M1463.96 379.6V417.6M1472.17 379.6V417.6M1479.75 379.6V417.6M1461.06 379.6V417.6M1461.37 379.6V417.6M1462 379.6V417.6M1466.36 379.6V417.6M1460.09 379.6V417.6M1465.4 379.6V417.6M1436.02 379.6V417.6M1464.52 379.6V417.6M1451.41 379.6V417.6M1470.52 379.6V417.6M1429.06 379.6V417.6M1434.07 379.6V417.6M1425.02 379.6V417.6M1471.26 379.6V417.6M1480.01 379.6V417.6M1463.81 379.6V417.6M1445.83 379.6V417.6M1474.28 379.6V417.6M1472.02 379.6V417.6M1457.94 379.6V417.6M1438.88 379.6V417.6M1441.64 379.6V417.6M1449.15 379.6V417.6M1492.67 379.6V417.6M1513.18 379.6V417.6M1600.69 379.6V417.6M1643.87 379.6V417.6M1717.94 379.6V417.6M1731.67 379.6V417.6M1717.53 379.6V417.6M1719.66 379.6V417.6M1738.17 379.6V417.6M1731.88 379.6V417.6M1741.07 379.6V417.6M1728.43 379.6V417.6M1754.29 379.6V417.6M1785.29 379.6V417.6M1802.32 379.6V417.6M1831.06 379.6V417.6M1834.64 379.6V417.6M1792.64 379.6V417.6M1787.4 379.6V417.6M1761.59 379.6V417.6M1806.69 379.6V417.6M1770.76 379.6V417.6M1765.73 379.6V417.6M1754.4 379.6V417.6M1753.51 379.6V417.6M1809.95 379.6V417.6M1763.23 379.6V417.6M1833.44 379.6V417.6M1760.44 379.6V417.6M1825.4 379.6V417.6M1763.83 379.6V417.6M1754.59 379.6V417.6M1812.91 379.6V417.6M1773.25 379.6V417.6M1814.09 379.6V417.6M1768.69 379.6V417.6M1757.28 379.6V417.6M1817.46 379.6V417.6M1812.43 379.6V417.6M1824.23 379.6V417.6M1813.77 379.6V417.6M1760.12 379.6V417.6M1805.37 379.6V417.6M1812.07 379.6V417.6M1791.4 379.6V417.6M1830.62 379.6V417.6M1774.23 379.6V417.6M1833.28 379.6V417.6M1812.73 379.6V417.6M1754.06 379.6V417.6M1754.33 379.6V417.6M1807.2 379.6V417.6M1821.06 379.6V417.6M1759.73 379.6V417.6M1778.97 379.6V417.6M1813.75 379.6V417.6M1766.91 379.6V417.6M1824.68 379.6V417.6M1793.54 379.6V417.6M1758.08 379.6V417.6M1783.67 379.6V417.6M1800.91 379.6V417.6M1789.58 379.6V417.6M1809.38 379.6V417.6M1765.16 379.6V417.6M1819.4 379.6V417.6M1783.31 379.6V417.6M1806.72 379.6V417.6M1805.46 379.6V417.6M1787.86 379.6V417.6M1785.18 379.6V417.6M1818.47 379.6V417.6M1831.66 379.6V417.6M1818.34 379.6V417.6M1800.23 379.6V417.6M1777.42 379.6V417.6M1758.15 379.6V417.6M1834.08 379.6V417.6M1811.57 379.6V417.6M1821.89 379.6V417.6M1780.71 379.6V417.6M1803.47 379.6V417.6M1834.37 379.6V417.6M1822.22 379.6V417.6M1803.08 379.6V417.6M1778.76 379.6V417.6M1788.74 379.6V417.6M1826.94 379.6V417.6M1784.42 379.6V417.6M1810.04 379.6V417.6M1803.14 379.6V417.6M1827.61 379.6V417.6M1820.24 379.6V417.6M1776.66 379.6V417.6M1753.25 379.6V417.6M1774.98 379.6V417.6M1788.23 379.6V417.6M1801.88 379.6V417.6M1820.94 379.6V417.6M1826.88 379.6V417.6M1756.63 379.6V417.6M1822.38 379.6V417.6M1820.59 379.6V417.6M1825.2 379.6V417.6M1800.65 379.6V417.6M1775.88 379.6V417.6M1823.87 379.6V417.6M1820.2 379.6V417.6M1810.03 379.6V417.6M1829.07 379.6V417.6M1781.94 379.6V417.6M1760.18 379.6V417.6M1799.14 379.6V417.6M1819.4 379.6V417.6M1769.77 379.6V417.6M1815.47 379.6V417.6M1830.57 379.6V417.6M1772.57 379.6V417.6M1803.56 379.6V417.6M1809.45 379.6V417.6M1791.79 379.6V417.6M1770.28 379.6V417.6M1774.29 379.6V417.6M1815.55 379.6V417.6M1818.92 379.6V417.6M1791.33 379.6V417.6M1760.4 379.6V417.6M1820.16 379.6V417.6M1817.3 379.6V417.6M1772.47 379.6V417.6M1801.29 379.6V417.6M1827.67 379.6V417.6M1826.69 379.6V417.6M1796.49 379.6V417.6M1792.73 379.6V417.6M1802.1 379.6V417.6M1768.83 379.6V417.6M1769.1 379.6V417.6M1768.13 379.6V417.6M1811.39 379.6V417.6M1783.27 379.6V417.6M1800.03 379.6V417.6M1786.57 379.6V417.6M1796.11 379.6V417.6M1765.5 379.6V417.6M1756.82 379.6V417.6M1836 379.6V417.6M1784.2 379.6V417.6M1761.93 379.6V417.6M1805.71 379.6V417.6M1818.56 379.6V417.6M1766.09 379.6V417.6M1802.76 379.6V417.6M1781.78 379.6V417.6M1796.29 379.6V417.6M1754.82 379.6V417.6M1755.9 379.6V417.6M1835.44 379.6V417.6M1825.11 379.6V417.6M1793.54 379.6V417.6M1800.26 379.6V417.6M1774.86 379.6V417.6M1817.89 379.6V417.6M1788.52 379.6V417.6M1831.79 379.6V417.6M1816.89 379.6V417.6M1821.18 379.6V417.6M1833.2 379.6V417.6M1774.23 379.6V417.6M1756.26 379.6V417.6M1769.82 379.6V417.6M1768.14 379.6V417.6" stroke="#BC4526" stroke-width="1.3" fill="none"/>
<path d="M1430.3 417.6V455.4M1427.33 417.6V455.4M1473.35 417.6V455.4M1501.83 417.6V455.4M1464.35 417.6V455.4M1508.78 417.6V455.4M1505.39 417.6V455.4M1428.53 417.6V455.4M1477.05 417.6V455.4M1458.82 417.6V455.4M1433.6 417.6V455.4M1509.88 417.6V455.4M1446.07 417.6V455.4M1474 417.6V455.4M1480.92 417.6V455.4M1509.62 417.6V455.4M1483.56 417.6V455.4M1458.43 417.6V455.4M1463.45 417.6V455.4M1437.22 417.6V455.4M1510.47 417.6V455.4M1512.83 417.6V455.4M1442.85 417.6V455.4M1426.21 417.6V455.4M1445.95 417.6V455.4M1454.69 417.6V455.4M1504.74 417.6V455.4M1504.91 417.6V455.4M1498.79 417.6V455.4M1426.98 417.6V455.4M1494.17 417.6V455.4M1487.19 417.6V455.4M1481.47 417.6V455.4M1512.26 417.6V455.4M1427.77 417.6V455.4M1435.86 417.6V455.4M1491.31 417.6V455.4M1508.07 417.6V455.4M1484.22 417.6V455.4M1449.85 417.6V455.4M1476.45 417.6V455.4M1491.58 417.6V455.4M1432.28 417.6V455.4M1452.14 417.6V455.4M1446.06 417.6V455.4M1433.98 417.6V455.4M1466.44 417.6V455.4M1438.02 417.6V455.4M1444.37 417.6V455.4M1435.71 417.6V455.4M1484.28 417.6V455.4M1423.85 417.6V455.4M1487.88 417.6V455.4M1440.43 417.6V455.4M1425.97 417.6V455.4M1507.01 417.6V455.4M1442.74 417.6V455.4M1507.58 417.6V455.4M1501.47 417.6V455.4M1503.47 417.6V455.4M1435.4 417.6V455.4M1463.35 417.6V455.4M1431.51 417.6V455.4M1507.11 417.6V455.4M1499.24 417.6V455.4M1479.81 417.6V455.4M1463.81 417.6V455.4M1453.58 417.6V455.4M1497.5 417.6V455.4M1466.1 417.6V455.4M1479.79 417.6V455.4M1435.67 417.6V455.4M1442.84 417.6V455.4M1427.86 417.6V455.4M1487.56 417.6V455.4M1472.99 417.6V455.4M1435.85 417.6V455.4M1501.83 417.6V455.4M1446.91 417.6V455.4M1460.12 417.6V455.4M1436.85 417.6V455.4M1447.34 417.6V455.4M1499 417.6V455.4M1453.1 417.6V455.4M1437.95 417.6V455.4M1467.32 417.6V455.4M1451.61 417.6V455.4M1504.78 417.6V455.4M1433.08 417.6V455.4M1511.64 417.6V455.4M1427.87 417.6V455.4M1504.04 417.6V455.4M1483.43 417.6V455.4M1441.89 417.6V455.4M1466.09 417.6V455.4M1448.71 417.6V455.4M1446.13 417.6V455.4M1441.02 417.6V455.4M1455.81 417.6V455.4M1512.76 417.6V455.4M1513.41 417.6V455.4M1506.77 417.6V455.4M1431.57 417.6V455.4M1449 417.6V455.4M1504.15 417.6V455.4M1427.92 417.6V455.4M1488.72 417.6V455.4M1449.38 417.6V455.4M1511.64 417.6V455.4M1424.16 417.6V455.4M1496.04 417.6V455.4M1453.68 417.6V455.4M1435.44 417.6V455.4M1422.87 417.6V455.4M1498.33 417.6V455.4M1470.56 417.6V455.4M1439.59 417.6V455.4M1462.26 417.6V455.4M1505.58 417.6V455.4M1442.54 417.6V455.4M1474.62 417.6V455.4M1435.25 417.6V455.4M1439.07 417.6V455.4M1492.72 417.6V455.4M1487.37 417.6V455.4M1440.58 417.6V455.4M1429.9 417.6V455.4M1430.64 417.6V455.4M1478.01 417.6V455.4M1467.73 417.6V455.4M1447.59 417.6V455.4M1441.42 417.6V455.4M1478.36 417.6V455.4M1487.02 417.6V455.4M1496.46 417.6V455.4M1475.68 417.6V455.4M1441.08 417.6V455.4M1428.67 417.6V455.4M1489.29 417.6V455.4M1459.79 417.6V455.4M1488.28 417.6V455.4M1427.73 417.6V455.4M1496.37 417.6V455.4M1453.16 417.6V455.4M1499.21 417.6V455.4M1501.27 417.6V455.4M1467.51 417.6V455.4M1424.1 417.6V455.4M1505.42 417.6V455.4M1466.01 417.6V455.4M1501.95 417.6V455.4M1446.9 417.6V455.4M1439.61 417.6V455.4M1498.28 417.6V455.4M1456.06 417.6V455.4M1437.56 417.6V455.4M1456.43 417.6V455.4M1476.76 417.6V455.4M1423.12 417.6V455.4M1469.94 417.6V455.4M1463.21 417.6V455.4M1469.56 417.6V455.4M1433.68 417.6V455.4M1487.64 417.6V455.4M1496.91 417.6V455.4M1501.35 417.6V455.4M1451.87 417.6V455.4M1487.33 417.6V455.4M1457.36 417.6V455.4M1490.98 417.6V455.4M1428.26 417.6V455.4M1502.02 417.6V455.4M1509.4 417.6V455.4M1467.67 417.6V455.4M1531.3 417.6V455.4M1531.89 417.6V455.4M1532.13 417.6V455.4M1514.29 417.6V455.4M1546.98 417.6V455.4M1521.3 417.6V455.4M1519.88 417.6V455.4M1517.12 417.6V455.4M1522.23 417.6V455.4M1541.79 417.6V455.4M1514.62 417.6V455.4M1516.91 417.6V455.4M1578.18 417.6V455.4M1689.14 417.6V455.4M1750.52 417.6V455.4M1757.89 417.6V455.4M1757.6 417.6V455.4M1756.92 417.6V455.4M1786.13 417.6V455.4M1775.98 417.6V455.4M1788.95 417.6V455.4M1786.37 417.6V455.4M1775.01 417.6V455.4M1776.33 417.6V455.4M1813.41 417.6V455.4M1813.73 417.6V455.4M1803.76 417.6V455.4M1796.66 417.6V455.4M1809.44 417.6V455.4M1797.33 417.6V455.4M1817.84 417.6V455.4M1829.98 417.6V455.4M1797.79 417.6V455.4M1816.98 417.6V455.4M1824.82 417.6V455.4M1798.56 417.6V455.4M1828.4 417.6V455.4M1833.43 417.6V455.4M1808.68 417.6V455.4M1810.11 417.6V455.4M1829.01 417.6V455.4M1814.85 417.6V455.4M1808.99 417.6V455.4M1833.59 417.6V455.4M1826.18 417.6V455.4M1806.42 417.6V455.4M1801.99 417.6V455.4M1806.26 417.6V455.4M1810.79 417.6V455.4M1835.39 417.6V455.4M1827.42 417.6V455.4M1832.31 417.6V455.4M1827.9 417.6V455.4M1829.37 417.6V455.4M1793.57 417.6V455.4M1814.48 417.6V455.4M1834.34 417.6V455.4M1833.28 417.6V455.4M1802.39 417.6V455.4M1810.19 417.6V455.4M1819.68 417.6V455.4M1807.59 417.6V455.4M1815.09 417.6V455.4M1794.28 417.6V455.4M1810.68 417.6V455.4M1813.91 417.6V455.4M1792.09 417.6V455.4M1797.44 417.6V455.4M1834.88 417.6V455.4M1826.17 417.6V455.4M1833.4 417.6V455.4M1819.7 417.6V455.4M1827.64 417.6V455.4M1831.03 417.6V455.4M1831.04 417.6V455.4M1792.7 417.6V455.4M1820.08 417.6V455.4M1803.14 417.6V455.4M1821.74 417.6V455.4M1803.48 417.6V455.4M1815.6 417.6V455.4M1832.83 417.6V455.4M1819.16 417.6V455.4M1802.45 417.6V455.4M1814.61 417.6V455.4M1810.71 417.6V455.4M1834.03 417.6V455.4M1804.12 417.6V455.4M1804.92 417.6V455.4M1820.35 417.6V455.4M1796.58 417.6V455.4M1817.95 417.6V455.4M1834.26 417.6V455.4M1814.32 417.6V455.4M1803.26 417.6V455.4M1812.18 417.6V455.4M1815.22 417.6V455.4M1797.84 417.6V455.4M1796.74 417.6V455.4M1797.08 417.6V455.4M1804.39 417.6V455.4M1809.48 417.6V455.4M1804.15 417.6V455.4M1802.13 417.6V455.4M1795.11 417.6V455.4M1815.79 417.6V455.4M1829.02 417.6V455.4M1818.66 417.6V455.4M1816.86 417.6V455.4M1820.48 417.6V455.4M1800.22 417.6V455.4M1823.18 417.6V455.4M1811.93 417.6V455.4M1815.86 417.6V455.4M1818.78 417.6V455.4M1812.3 417.6V455.4M1805.15 417.6V455.4M1802.08 417.6V455.4" stroke="#7570B3" stroke-width="1.3" fill="none"/>
<line x1="1401" y1="341.6" x2="1857.3" y2="341.6" stroke="#000" stroke-width="2"/>
<line x1="1401" y1="379.6" x2="1857.3" y2="379.6" stroke="#000" stroke-width="2"/>
<line x1="1401" y1="417.6" x2="1857.3" y2="417.6" stroke="#000" stroke-width="2"/>
<line x1="1401" y1="455.4" x2="1857.3" y2="455.4" stroke="#000" stroke-width="2"/>
<text x="1845.4" y="368.1" font-size="26" textLength="65" lengthAdjust="spacingAndGlyphs">hRgl3</text>
<text x="1845.4" y="406.1" font-size="26" textLength="65" lengthAdjust="spacingAndGlyphs">hRgl2</text>
<text x="1845.4" y="444" font-size="26" textLength="104" lengthAdjust="spacingAndGlyphs">hFP-Rgl1</text>
<line x1="1422.7" y1="455.4" x2="1422.7" y2="460.4" stroke="#000" stroke-width="1.8"/>
<text x="1424" y="477" font-size="17.5" text-anchor="middle" textLength="10.55" lengthAdjust="spacingAndGlyphs">0</text>
<line x1="1493.15" y1="455.4" x2="1493.15" y2="460.4" stroke="#000" stroke-width="1.8"/>
<text x="1500.55" y="477" font-size="17.5" text-anchor="middle" textLength="52.75" lengthAdjust="spacingAndGlyphs">10000</text>
<line x1="1563.6" y1="455.4" x2="1563.6" y2="460.4" stroke="#000" stroke-width="1.8"/>
<text x="1571" y="477" font-size="17.5" text-anchor="middle" textLength="52.75" lengthAdjust="spacingAndGlyphs">20000</text>
<line x1="1634.05" y1="455.4" x2="1634.05" y2="460.4" stroke="#000" stroke-width="1.8"/>
<text x="1641.45" y="477" font-size="17.5" text-anchor="middle" textLength="52.75" lengthAdjust="spacingAndGlyphs">30000</text>
<line x1="1704.5" y1="455.4" x2="1704.5" y2="460.4" stroke="#000" stroke-width="1.8"/>
<text x="1711.9" y="477" font-size="17.5" text-anchor="middle" textLength="52.75" lengthAdjust="spacingAndGlyphs">40000</text>
<line x1="1774.95" y1="455.4" x2="1774.95" y2="460.4" stroke="#000" stroke-width="1.8"/>
<text x="1782.35" y="477" font-size="17.5" text-anchor="middle" textLength="52.75" lengthAdjust="spacingAndGlyphs">50000</text>
<line x1="1845.4" y1="455.4" x2="1845.4" y2="460.4" stroke="#000" stroke-width="1.8"/>
<text x="1852.8" y="477" font-size="17.5" text-anchor="middle" textLength="52.75" lengthAdjust="spacingAndGlyphs">60000</text>
<path d="M1422 193.2 L1423.4 167.6 L1427.5 153.8 L1435.8 145.6 L1444 140 L1455 129.1 L1466 126.9 L1479.8 126.3 L1496.3 130.4 L1537.6 151.1 L1622.9 193.2 L1702.7 232.3 L1785.3 272.2 L1812.8 285.9 L1822.4 290 L1827.9 284.5 L1832 269.4 L1834.8 236.4 L1836.2 200.6" stroke="#7570B3" stroke-width="3.5" fill="none" stroke-dasharray="13.5 6.5" stroke-linejoin="round"/>
<path d="M1422 193.2 L1423.4 173.1 L1426.1 159.3 L1431.6 152.5 L1441.3 148.3 L1452.3 151.1 L1482.6 164.8 L1537.6 193.2 L1620.1 235 L1702.7 274.9 L1771.5 309.3 L1796.3 318.9 L1812.8 320.3 L1823.8 316.2 L1829.3 305.2 L1833.4 277.7 L1835.3 236.4 L1836.2 200.6" stroke="#BC4526" stroke-width="3.5" fill="none" stroke-dasharray="13.5 6.5" stroke-linejoin="round"/>
<path d="M1422 193.2 L1422.6 153.8 L1423.9 112.6 L1426.1 79.5 L1430.3 60.3 L1437.1 52.6 L1445.4 51.5 L1457.8 54.8 L1482.6 67.1 L1537.6 96 L1620.1 138.7 L1702.7 180 L1733 193.2 L1771.5 213 L1796.3 222.6 L1812.8 222.6 L1825.2 217.1 L1832 208.9 L1835.3 195.1" stroke="#E7298A" stroke-width="3.5" fill="none" stroke-dasharray="13.5 6.5" stroke-linejoin="round"/>
<text x="-1" y="563" font-size="44" font-weight="bold">d</text>
<g fill="#7570B3" fill-opacity="0.6">
<path d="M125.86 985.72 A289 289 0 0 1 124.89 975.67 Q413 953 702.5 914.89 L716.19 919.8 L703.89 927.55 Q413 953 125.86 985.72 Z"/>
<path d="M128.13 1001.69 A289 289 0 0 1 126.41 990.22 Q413 953 170.35 790.56 L162.85 778.5 L176.77 781.37 Q413 953 128.13 1001.69 Z"/>
<path d="M131.41 1018.01 A289 289 0 0 1 128.93 1006.16 Q413 953 699.92 898.79 L713.64 901.61 L701.64 908.83 Q413 953 131.41 1018.01 Z"/>
<path d="M139.26 1045.66 A289 289 0 0 1 132.58 1022.92 Q413 953 693.12 870.56 L708.75 878.44 L698.72 892.79 Q413 953 139.26 1045.66 Z"/>
<path d="M144.48 1059.86 A289 289 0 0 1 140.92 1050.42 Q413 953 589.54 720.41 L601.61 713.31 L597.55 726.72 Q413 953 144.48 1059.86 Z"/>
<path d="M157.36 1087.79 A289 289 0 0 1 146.39 1064.53 Q413 953 524.27 683.03 L539 675.24 L542.83 691.45 Q413 953 157.36 1087.79 Z"/>
<path d="M168.45 1107 A289 289 0 0 1 159.75 1092.23 Q413 953 660.9 798.7 L675.66 797.97 L667.89 810.54 Q413 953 168.45 1107 Z"/>
<path d="M178.6 1122.05 A289 289 0 0 1 171.18 1111.25 Q413 953 670.82 815.91 L685.6 816.2 L676.99 828.21 Q413 953 178.6 1122.05 Z"/>
<path d="M186.51 1132.51 A289 289 0 0 1 178.6 1122.05 Q413 953 648.63 780.54 L663.75 779.37 L657.34 793.11 Q413 953 186.51 1132.51 Z"/>
<path d="M194.89 1142.6 A289 289 0 0 1 186.51 1132.51 Q413 953 633.38 761.43 L649.53 760.44 L645.28 776.05 Q413 953 194.89 1142.6 Z"/>
<path d="M224.93 1172.43 A289 289 0 0 1 198.23 1146.38 Q413 953 603.41 731.62 L625.83 734.53 L629.31 756.86 Q413 953 224.93 1172.43 Z"/>
<path d="M241.1 1185.31 A289 289 0 0 1 228.78 1175.68 Q413 953 572.89 708.66 L588.81 703.77 L589.54 720.41 Q413 953 241.1 1185.31 Z"/>
<path d="M263.72 1200.46 A289 289 0 0 1 245.18 1188.28 Q413 953 487.59 670.69 L502.17 661.33 L509.03 677.24 Q413 953 263.72 1200.46 Z"/>
<path d="M277.32 1208.17 A289 289 0 0 1 263.72 1200.46 Q413 953 679.34 833.3 L694.27 835.05 L685.05 846.93 Q413 953 277.32 1208.17 Z"/>
<path d="M302.87 1220.19 A289 289 0 0 1 277.32 1208.17 Q413 953 450.61 663.43 L469.63 653.3 L483.64 669.67 Q413 953 302.87 1220.19 Z"/>
<path d="M327.06 1228.93 A289 289 0 0 1 308.02 1222.26 Q413 953 547.83 693.99 L564.35 688.2 L567.74 705.37 Q413 953 327.06 1228.93 Z"/>
<path d="M357.86 1236.69 A289 289 0 0 1 332.37 1230.52 Q413 953 416.57 661.02 L434.54 648.76 L450.61 663.43 Q413 953 357.86 1236.69 Z"/>
<path d="M382.79 1240.42 A289 289 0 0 1 357.86 1236.69 Q413 953 382.48 662.6 L398.9 648.33 L416.57 661.02 Q413 953 382.79 1240.42 Z"/>
<path d="M407.96 1241.96 A289 289 0 0 1 382.79 1240.42 Q413 953 362.29 665.44 L370.55 650.97 L382.48 662.6 Q413 953 407.96 1241.96 Z"/>
<path d="M433.16 1241.3 A289 289 0 0 1 407.96 1241.96 Q413 953 341.86 669.8 L349.33 654.72 L362.29 665.44 Q413 953 433.16 1241.3 Z"/>
<path d="M459.21 1238.28 A289 289 0 0 1 433.16 1241.3 Q413 953 319.86 676.25 L327.14 660.33 L341.86 669.8 Q413 953 459.21 1238.28 Z"/>
<path d="M509.95 1225.25 A289 289 0 0 1 464.18 1237.43 Q413 953 176.77 781.37 L181.94 753.91 L208.33 744.73 Q413 953 509.95 1225.25 Z"/>
<path d="M578.76 1189.73 A289 289 0 0 1 514.68 1223.52 Q413 953 208.33 744.73 L224.18 713.48 L258.26 705.37 Q413 953 578.76 1189.73 Z"/>
<path d="M629.78 1144.12 A289 289 0 0 1 578.76 1189.73 Q413 953 258.26 705.37 L280.25 678.4 L315.05 677.92 Q413 953 629.78 1144.12 Z"/>
<path d="M641.97 1129.33 A289 289 0 0 1 633.41 1139.92 Q413 953 687.04 852.17 L701.47 853.95 L691.18 864.22 Q413 953 641.97 1129.33 Z"/>
<path d="M675.98 1072.85 A289 289 0 0 1 641.97 1129.33 Q413 953 144.21 838.91 L143.58 810.05 L167.83 794.39 Q413 953 675.98 1072.85 Z"/>
<path d="M682.44 1057.51 A289 289 0 0 1 678.43 1067.31 Q413 953 514.78 679.31 L524.29 669.03 L524.27 683.03 Q413 953 682.44 1057.51 Z"/>
<path d="M694.59 1018.01 A289 289 0 0 1 682.44 1057.51 Q413 953 130.3 879.89 L124.19 854.96 L144.21 838.91 Q413 953 694.59 1018.01 Z"/>
<path d="M700.99 977.18 A289 289 0 0 1 694.59 1018.01 Q413 953 122.3 925.52 L112.59 900.3 L130.3 879.89 Q413 953 700.99 977.18 Z"/>
</g>
<path d="M77.5 921.29 A337 337 0 0 1 130.05 769.95 L145.58 780 A318.5 318.5 0 0 0 95.91 923.03 Z" fill="#7570B3"/>
<text x="88.98" y="840.48" font-size="24.5" text-anchor="end" textLength="48.83" lengthAdjust="spacingAndGlyphs" transform="rotate(19.15 88.98 840.48)" dy="0.36em">DCC</text>
<path d="M132.96 765.53 A337 337 0 0 1 299.95 635.53 L306.16 652.95 A318.5 318.5 0 0 0 148.33 775.82 Z" fill="#7570B3"/>
<text x="202.3" y="682.34" font-size="24.5" text-anchor="end" textLength="73.92" lengthAdjust="spacingAndGlyphs" transform="rotate(52.1 202.3 682.34)" dy="0.36em">ERBB4</text>
<path d="M305.51 633.6 A337 337 0 0 1 495.1 626.15 L490.59 644.1 A318.5 318.5 0 0 0 311.41 651.14 Z" fill="#7570B3"/>
<text x="399.53" y="610.26" font-size="24.5" text-anchor="end" textLength="86.42" lengthAdjust="spacingAndGlyphs" transform="rotate(87.75 399.53 610.26)" dy="0.36em">PTPRZ1</text>
<path d="M499.09 627.18 A337 337 0 0 1 523.83 634.75 L517.74 652.22 A318.5 318.5 0 0 0 494.36 645.07 Z" fill="#7570B3"/>
<text x="513.28" y="624.99" font-size="24.5" textLength="75.15" lengthAdjust="spacingAndGlyphs" transform="rotate(-73 513.28 624.99)" dy="0.36em">PTPRS</text>
<path d="M530.47 637.14 A337 337 0 0 1 562.84 651.15 L554.62 667.72 A318.5 318.5 0 0 0 524.02 654.48 Z" fill="#7570B3"/>
<text x="549.22" y="638.21" font-size="24.5" textLength="61.38" lengthAdjust="spacingAndGlyphs" transform="rotate(-66.6 549.22 638.21)" dy="0.36em">NEO1</text>
<path d="M568.61 654.08 A337 337 0 0 1 591.58 667.21 L581.78 682.9 A318.5 318.5 0 0 0 560.07 670.49 Z" fill="#7570B3"/>
<text x="583.2" y="655.21" font-size="24.5" textLength="77.65" lengthAdjust="spacingAndGlyphs" transform="rotate(-60.25 583.2 655.21)" dy="0.36em">PTPRG</text>
<path d="M597.53 671.01 A337 337 0 0 1 625.99 691.84 L614.3 706.18 A318.5 318.5 0 0 0 587.4 686.49 Z" fill="#7570B3"/>
<text x="615.58" y="676.21" font-size="24.5" textLength="90.19" lengthAdjust="spacingAndGlyphs" transform="rotate(-53.8 615.58 676.21)" dy="0.36em">ADGRL3</text>
<path d="M632.76 697.51 A337 337 0 0 1 662.65 726.63 L648.95 739.06 A318.5 318.5 0 0 0 620.69 711.53 Z" fill="#7570B3"/>
<text x="652.34" y="707.31" font-size="24.5" textLength="73.92" lengthAdjust="spacingAndGlyphs" transform="rotate(-45.75 652.34 707.31)" dy="0.36em">EPHB2</text>
<path d="M667.34 731.91 A337 337 0 0 1 681.07 748.78 L666.36 759.99 A318.5 318.5 0 0 0 653.38 744.05 Z" fill="#7570B3"/>
<text x="679" y="736.45" font-size="24.5" textLength="75.15" lengthAdjust="spacingAndGlyphs" transform="rotate(-39.15 679 736.45)" dy="0.36em">PTPRA</text>
<path d="M684.95 753.97 A337 337 0 0 1 694.99 768.47 L679.51 778.6 A318.5 318.5 0 0 0 670.02 764.89 Z" fill="#7570B3"/>
<text x="695" y="757.74" font-size="24.5" textLength="82.64" lengthAdjust="spacingAndGlyphs" transform="rotate(-34.7 695 757.74)" dy="0.36em">NRCAM</text>
<path d="M699.1 774.92 A337 337 0 0 1 707.17 788.59 L691.03 797.62 A318.5 318.5 0 0 0 683.4 784.69 Z" fill="#7570B3"/>
<text x="708.39" y="778.66" font-size="24.5" textLength="77.66" lengthAdjust="spacingAndGlyphs" transform="rotate(-30.55 708.39 778.66)" dy="0.36em">BMPR2</text>
<path d="M710.55 794.79 A337 337 0 0 1 717.68 808.98 L700.95 816.89 A318.5 318.5 0 0 0 694.22 803.47 Z" fill="#7570B3"/>
<text x="719.56" y="799.15" font-size="24.5" textLength="78.9" lengthAdjust="spacingAndGlyphs" transform="rotate(-26.65 719.56 799.15)" dy="0.36em">NCAM2</text>
<path d="M720.38 814.86 A337 337 0 0 1 726.98 830.58 L709.74 837.3 A318.5 318.5 0 0 0 703.51 822.44 Z" fill="#7570B3"/>
<text x="729.31" y="820.36" font-size="24.5" textLength="160.37" lengthAdjust="spacingAndGlyphs" transform="rotate(-22.75 729.31 820.36)" dy="0.36em">ERBB2_ERBB4</text>
<path d="M729.27 836.63 A337 337 0 0 1 734.05 850.54 L716.42 856.17 A318.5 318.5 0 0 0 711.91 843.02 Z" fill="#7570B3"/>
<text x="737.41" y="841.61" font-size="24.5" textLength="61.38" lengthAdjust="spacingAndGlyphs" transform="rotate(-18.95 737.41 841.61)" dy="0.36em">GPC1</text>
<path d="M736.29 857.85 A337 337 0 0 1 742.76 883.51 L724.66 887.32 A318.5 318.5 0 0 0 718.54 863.07 Z" fill="#7570B3"/>
<text x="745.59" y="869.15" font-size="24.5" textLength="56.35" lengthAdjust="spacingAndGlyphs" transform="rotate(-14.15 745.59 869.15)" dy="0.36em">FZD3</text>
<path d="M744.14 890.43 A337 337 0 0 1 746.12 902.03 L727.84 904.82 A318.5 318.5 0 0 0 725.96 893.87 Z" fill="#7570B3"/>
<text x="751.1" y="895.21" font-size="24.5" textLength="68.47" lengthAdjust="spacingAndGlyphs" transform="rotate(-9.7 751.1 895.21)" dy="0.36em">FLRT3</text>
<path d="M747.12 909.01 A337 337 0 0 1 748.72 923.63 L730.29 925.24 A318.5 318.5 0 0 0 728.78 911.43 Z" fill="#7570B3"/>
<text x="753.96" y="915.66" font-size="24.5" textLength="78.9" lengthAdjust="spacingAndGlyphs" transform="rotate(-6.25 753.96 915.66)" dy="0.36em">EDNRB</text>
<path d="M748.82 981.2 A337 337 0 0 1 722.52 1086.3 L705.53 1078.98 A318.5 318.5 0 0 0 730.38 979.65 Z" fill="#E7298A"/>
<path d="M716.93 978.52 A305 305 0 0 1 693.13 1073.64 L684.86 1070.08 A296 296 0 0 0 707.96 977.77 Z" fill="#7570B3"/>
<text x="745.74" y="1036.27" font-size="24.5" textLength="58.86" lengthAdjust="spacingAndGlyphs" transform="rotate(14.05 745.74 1036.27)" dy="0.36em">NTN1</text>
<path d="M719.66 1092.75 A337 337 0 0 1 670.02 1170.97 L655.91 1159 A318.5 318.5 0 0 0 702.82 1085.08 Z" fill="#E7298A"/>
<path d="M690.54 1079.48 A305 305 0 0 1 645.61 1150.27 L638.75 1144.45 A296 296 0 0 0 682.35 1075.75 Z" fill="#7570B3"/>
<text x="702.6" y="1136.79" font-size="24.5" textLength="60.13" lengthAdjust="spacingAndGlyphs" transform="rotate(32.4 702.6 1136.79)" dy="0.36em">SLIT2</text>
<path d="M665.79 1175.86 A337 337 0 0 1 531.57 1268.45 L525.06 1251.13 A318.5 318.5 0 0 0 651.91 1163.63 Z" fill="#E7298A"/>
<path d="M641.78 1154.7 A305 305 0 0 1 520.31 1238.5 L517.15 1230.07 A296 296 0 0 0 635.03 1148.75 Z" fill="#7570B3"/>
<text x="607.77" y="1235.34" font-size="24.5" textLength="62.62" lengthAdjust="spacingAndGlyphs" transform="rotate(55.4 607.77 1235.34)" dy="0.36em">NRG3</text>
<path d="M526.05 1270.47 A337 337 0 0 1 472.68 1284.67 L469.4 1266.47 A318.5 318.5 0 0 0 519.84 1253.05 Z" fill="#E7298A"/>
<path d="M515.31 1240.33 A305 305 0 0 1 467.01 1253.18 L465.42 1244.32 A296 296 0 0 0 512.29 1231.85 Z" fill="#7570B3"/>
<text x="501.2" y="1284.47" font-size="24.5" text-anchor="end" textLength="61.37" lengthAdjust="spacingAndGlyphs" transform="rotate(255.1 501.2 1284.47)" dy="0.36em">CCN2</text>
<path d="M466.88 1285.66 A337 337 0 0 1 318.98 1276.62 L324.14 1258.85 A318.5 318.5 0 0 0 463.92 1267.4 Z" fill="#E7298A"/>
<path d="M461.76 1254.08 A305 305 0 0 1 327.91 1245.89 L330.42 1237.25 A296 296 0 0 0 460.32 1245.19 Z" fill="#7570B3"/>
<text x="392.06" y="1295.36" font-size="24.5" text-anchor="end" textLength="45.08" lengthAdjust="spacingAndGlyphs" transform="rotate(273.5 392.06 1295.36)" dy="0.36em">PTN</text>
<path d="M312.78 1274.75 A337 337 0 0 1 290.58 1266.98 L297.3 1249.74 A318.5 318.5 0 0 0 318.29 1257.09 Z" fill="#E7298A"/>
<path d="M322.3 1244.2 A305 305 0 0 1 302.21 1237.17 L305.48 1228.78 A296 296 0 0 0 324.98 1235.61 Z" fill="#7570B3"/>
<text x="299.63" y="1276.72" font-size="24.5" text-anchor="end" textLength="75.14" lengthAdjust="spacingAndGlyphs" transform="rotate(289.3 299.63 1276.72)" dy="0.36em">CNTN4</text>
<path d="M284.58 1264.57 A337 337 0 0 1 217.3 1227.36 L228.05 1212.3 A318.5 318.5 0 0 0 291.63 1247.47 Z" fill="#E7298A"/>
<path d="M296.77 1234.99 A305 305 0 0 1 235.89 1201.31 L241.11 1193.98 A296 296 0 0 0 300.2 1226.67 Z" fill="#7570B3"/>
<text x="246.97" y="1253.14" font-size="24.5" text-anchor="end" textLength="50.09" lengthAdjust="spacingAndGlyphs" transform="rotate(298.95 246.97 1253.14)" dy="0.36em">MDK</text>
<path d="M212.54 1223.9 A337 337 0 0 1 198.19 1212.66 L209.98 1198.41 A318.5 318.5 0 0 0 223.55 1209.03 Z" fill="#E7298A"/>
<path d="M231.58 1198.18 A305 305 0 0 1 218.59 1188.01 L224.32 1181.07 A296 296 0 0 0 236.93 1190.94 Z" fill="#7570B3"/>
<text x="201.59" y="1223.1" font-size="24.5" text-anchor="end" textLength="76.39" lengthAdjust="spacingAndGlyphs" transform="rotate(308.05 201.59 1223.1)" dy="0.36em">TENM4</text>
<path d="M193.69 1208.87 A337 337 0 0 1 162.56 1178.5 L176.31 1166.12 A318.5 318.5 0 0 0 205.73 1194.83 Z" fill="#E7298A"/>
<path d="M214.51 1184.58 A305 305 0 0 1 186.34 1157.08 L193.03 1151.06 A296 296 0 0 0 220.37 1177.74 Z" fill="#7570B3"/>
<text x="173.44" y="1198.48" font-size="24.5" text-anchor="end" textLength="72.65" lengthAdjust="spacingAndGlyphs" transform="rotate(314.3 173.44 1198.48)" dy="0.36em">EFNB3</text>
<path d="M158.66 1174.09 A337 337 0 0 1 131.01 1137.53 L146.49 1127.4 A318.5 318.5 0 0 0 172.62 1161.95 Z" fill="#E7298A"/>
<path d="M182.81 1153.1 A305 305 0 0 1 157.79 1120.01 L165.32 1115.08 A296 296 0 0 0 189.61 1147.19 Z" fill="#7570B3"/>
<text x="139.43" y="1159.9" font-size="24.5" text-anchor="end" textLength="78.9" lengthAdjust="spacingAndGlyphs" transform="rotate(322.9 139.43 1159.9)" dy="0.36em">NCAM1</text>
<path d="M127.83 1132.58 A337 337 0 0 1 117.68 1115.35 L133.9 1106.44 A318.5 318.5 0 0 0 143.49 1122.72 Z" fill="#E7298A"/>
<path d="M154.91 1115.53 A305 305 0 0 1 145.73 1099.93 L153.61 1095.6 A296 296 0 0 0 162.53 1110.73 Z" fill="#7570B3"/>
<text x="117.46" y="1127.09" font-size="24.5" text-anchor="end" textLength="62.63" lengthAdjust="spacingAndGlyphs" transform="rotate(329.5 117.46 1127.09)" dy="0.36em">BCAN</text>
<path d="M114.9 1110.17 A337 337 0 0 1 102.1 1083.05 L119.17 1075.91 A318.5 318.5 0 0 0 131.26 1101.54 Z" fill="#E7298A"/>
<path d="M143.2 1095.25 A305 305 0 0 1 131.63 1070.7 L139.93 1067.23 A296 296 0 0 0 151.16 1091.05 Z" fill="#7570B3"/>
<text x="102.77" y="1099.31" font-size="24.5" text-anchor="end" textLength="67.62" lengthAdjust="spacingAndGlyphs" transform="rotate(334.75 102.77 1099.31)" dy="0.36em">RGMA</text>
<path d="M99.88 1077.6 A337 337 0 0 1 95.72 1066.6 L113.14 1060.36 A318.5 318.5 0 0 0 117.07 1070.76 Z" fill="#E7298A"/>
<path d="M129.61 1065.77 A305 305 0 0 1 125.85 1055.81 L134.32 1052.78 A296 296 0 0 0 137.98 1062.45 Z" fill="#7570B3"/>
<text x="92.14" y="1074.24" font-size="24.5" text-anchor="end" textLength="76.39" lengthAdjust="spacingAndGlyphs" transform="rotate(339.3 92.14 1074.24)" dy="0.36em">TENM3</text>
<path d="M93.79 1061.05 A337 337 0 0 1 86.01 1034.53 L103.96 1030.05 A318.5 318.5 0 0 0 111.31 1055.12 Z" fill="#E7298A"/>
<path d="M124.1 1050.79 A305 305 0 0 1 117.06 1026.79 L125.79 1024.61 A296 296 0 0 0 132.63 1047.9 Z" fill="#7570B3"/>
<text x="83.87" y="1049.56" font-size="24.5" text-anchor="end" textLength="78.89" lengthAdjust="spacingAndGlyphs" transform="rotate(343.65 83.87 1049.56)" dy="0.36em">WNT5A</text>
<path d="M84.64 1028.81 A337 337 0 0 1 81.75 1014.99 L99.94 1011.59 A318.5 318.5 0 0 0 102.66 1024.65 Z" fill="#E7298A"/>
<path d="M115.82 1021.61 A305 305 0 0 1 113.2 1009.11 L122.05 1007.45 A296 296 0 0 0 124.59 1019.59 Z" fill="#7570B3"/>
<text x="77.25" y="1023.14" font-size="24.5" text-anchor="end" textLength="60.13" lengthAdjust="spacingAndGlyphs" transform="rotate(348.2 77.25 1023.14)" dy="0.36em">SLIT1</text>
<path d="M80.82 1009.78 A337 337 0 0 1 78.81 996.4 L97.15 994.02 A318.5 318.5 0 0 0 99.05 1006.66 Z" fill="#E7298A"/>
<path d="M112.36 1004.39 A305 305 0 0 1 110.54 992.28 L119.47 991.12 A296 296 0 0 0 121.23 1002.87 Z" fill="#7570B3"/>
<text x="73.81" y="1003.99" font-size="24.5" text-anchor="end" textLength="48.83" lengthAdjust="spacingAndGlyphs" transform="rotate(351.45 73.81 1003.99)" dy="0.36em">DCN</text>
<path d="M78.17 991.15 A337 337 0 0 1 77.04 979.44 L95.48 977.99 A318.5 318.5 0 0 0 96.55 989.06 Z" fill="#E7298A"/>
<path d="M109.96 987.53 A305 305 0 0 1 108.94 976.93 L117.91 976.22 A296 296 0 0 0 118.9 986.51 Z" fill="#7570B3"/>
<text x="71.58" y="985.88" font-size="24.5" text-anchor="end" textLength="67.64" lengthAdjust="spacingAndGlyphs" transform="rotate(354.5 71.58 985.88)" dy="0.36em">GNAI2</text>
<text x="753" y="1249.6" font-size="24.5" textLength="95" lengthAdjust="spacingAndGlyphs">Cell Type</text>
<circle cx="763.8" cy="1267" r="12.3" fill="#E7298A"/>
<text x="783" y="1275.4" font-size="24.5" textLength="60" lengthAdjust="spacingAndGlyphs">hRgl3</text>
<circle cx="763.8" cy="1295.3" r="12.3" fill="#AAA6D1"/>
<text x="783" y="1304.7" font-size="24.5" textLength="91.4" lengthAdjust="spacingAndGlyphs">hFP-Rgl1</text>
<text x="926.5" y="630" font-size="44" font-weight="bold">g</text>
<text x="1174" y="621.8" font-size="35" font-weight="bold" text-anchor="middle" textLength="103.6" lengthAdjust="spacingAndGlyphs">mRgl1</text>
<circle cx="1022.94" cy="642.18" r="3.9" fill="#EF766F"/>
<circle cx="1013.77" cy="656.79" r="3.9" fill="#EF766F"/>
<circle cx="1021.58" cy="655.09" r="3.9" fill="#EF766F"/>
<circle cx="1021.58" cy="659.16" r="3.9" fill="#EF766F"/>
<circle cx="1017.16" cy="663.58" r="3.9" fill="#EF766F"/>
<circle cx="1008.67" cy="669.69" r="3.9" fill="#EF766F"/>
<circle cx="1017.16" cy="682.26" r="3.9" fill="#EF766F"/>
<circle cx="1027.35" cy="683.95" r="3.9" fill="#EF766F"/>
<circle cx="1028.37" cy="686.33" r="3.9" fill="#EF766F"/>
<circle cx="1014.45" cy="693.46" r="3.9" fill="#EF766F"/>
<circle cx="1046.03" cy="689.73" r="3.9" fill="#EF766F"/>
<circle cx="1073.2" cy="689.05" r="3.9" fill="#EF766F"/>
<circle cx="1017.16" cy="706.03" r="3.9" fill="#EF766F"/>
<circle cx="1022.26" cy="703.31" r="3.9" fill="#EF766F"/>
<circle cx="1028.37" cy="705.35" r="3.9" fill="#EF766F"/>
<circle cx="1037.54" cy="703.31" r="3.9" fill="#EF766F"/>
<circle cx="1038.56" cy="710.1" r="3.9" fill="#EF766F"/>
<circle cx="1049.42" cy="706.71" r="3.9" fill="#EF766F"/>
<circle cx="1050.44" cy="709.42" r="3.9" fill="#EF766F"/>
<circle cx="1059.61" cy="714.52" r="3.9" fill="#EF766F"/>
<circle cx="1045.35" cy="721.31" r="3.9" fill="#EF766F"/>
<circle cx="1064.71" cy="723.01" r="3.9" fill="#EF766F"/>
<circle cx="1035.84" cy="730.48" r="3.9" fill="#EF766F"/>
<circle cx="1068.78" cy="735.57" r="3.9" fill="#EF766F"/>
<circle cx="1082.03" cy="733.88" r="3.9" fill="#EF766F"/>
<circle cx="1084.4" cy="734.89" r="3.9" fill="#EF766F"/>
<circle cx="1090.18" cy="737.61" r="3.9" fill="#EF766F"/>
<circle cx="1075.91" cy="743.38" r="3.9" fill="#EF766F"/>
<circle cx="1085.08" cy="743.38" r="3.9" fill="#EF766F"/>
<circle cx="1085.08" cy="749.16" r="3.9" fill="#EF766F"/>
<circle cx="1052.14" cy="746.78" r="3.9" fill="#EF766F"/>
<circle cx="1039.24" cy="755.95" r="3.9" fill="#EF766F"/>
<circle cx="1039.24" cy="800.1" r="3.9" fill="#EF766F"/>
<circle cx="1028.37" cy="821.49" r="3.9" fill="#EF766F"/>
<circle cx="1040.93" cy="835.76" r="3.9" fill="#EF766F"/>
<circle cx="1058.93" cy="847.98" r="3.9" fill="#EF766F"/>
<circle cx="1027.35" cy="867.34" r="3.9" fill="#EF766F"/>
<circle cx="1033.12" cy="876.85" r="3.9" fill="#EF766F"/>
<circle cx="1045.35" cy="965.82" r="3.9" fill="#EF766F"/>
<circle cx="1055.54" cy="971.6" r="3.9" fill="#EF766F"/>
<circle cx="1064.37" cy="961.75" r="3.9" fill="#EF766F"/>
<circle cx="1058.59" cy="1015.06" r="3.9" fill="#EF766F"/>
<circle cx="1060.97" cy="1022.54" r="3.9" fill="#EF766F"/>
<circle cx="1111.57" cy="1033.4" r="3.9" fill="#EF766F"/>
<circle cx="1127.19" cy="1049.36" r="3.9" fill="#EF766F"/>
<circle cx="1117.68" cy="1066.34" r="3.9" fill="#EF766F"/>
<circle cx="1060.97" cy="1059.55" r="3.9" fill="#EF766F"/>
<circle cx="1073.88" cy="1080.27" r="3.9" fill="#EF766F"/>
<circle cx="1085.76" cy="1076.87" r="3.9" fill="#EF766F"/>
<circle cx="1070.48" cy="1092.15" r="3.9" fill="#EF766F"/>
<circle cx="1068.44" cy="1098.95" r="3.9" fill="#EF766F"/>
<circle cx="1064.37" cy="1101.32" r="3.9" fill="#EF766F"/>
<circle cx="1067.76" cy="1108.45" r="3.9" fill="#EF766F"/>
<circle cx="1064.71" cy="1112.53" r="3.9" fill="#EF766F"/>
<circle cx="1072.52" cy="1110.15" r="3.9" fill="#EF766F"/>
<circle cx="1074.55" cy="1111.17" r="3.9" fill="#EF766F"/>
<circle cx="1069.8" cy="1116.94" r="3.9" fill="#EF766F"/>
<circle cx="1074.55" cy="1117.96" r="3.9" fill="#EF766F"/>
<circle cx="1272.2" cy="642.18" r="3.9" fill="#EF766F"/>
<circle cx="1263.37" cy="656.79" r="3.9" fill="#2BB24E"/>
<circle cx="1270.84" cy="655.09" r="3.9" fill="#2BB24E"/>
<circle cx="1272.2" cy="659.16" r="3.9" fill="#EF766F"/>
<circle cx="1266.77" cy="663.58" r="3.9" fill="#EF766F"/>
<circle cx="1258.28" cy="669.69" r="3.9" fill="#2BB24E"/>
<circle cx="1266.77" cy="682.26" r="3.9" fill="#EF766F"/>
<circle cx="1276.96" cy="683.95" r="3.9" fill="#EF766F"/>
<circle cx="1277.64" cy="686.33" r="3.9" fill="#1CBCC4"/>
<circle cx="1264.05" cy="693.46" r="3.9" fill="#EF766F"/>
<circle cx="1294.95" cy="689.73" r="3.9" fill="#EF766F"/>
<circle cx="1322.46" cy="689.05" r="3.9" fill="#EF766F"/>
<circle cx="1266.77" cy="706.03" r="3.9" fill="#EF766F"/>
<circle cx="1271.86" cy="703.31" r="3.9" fill="#2BB24E"/>
<circle cx="1275.94" cy="705.35" r="3.9" fill="#2BB24E"/>
<circle cx="1279.67" cy="706.03" r="3.9" fill="#2BB24E"/>
<circle cx="1287.14" cy="709.42" r="3.9" fill="#EF766F"/>
<circle cx="1288.84" cy="703.31" r="3.9" fill="#EF766F"/>
<circle cx="1299.03" cy="706.71" r="3.9" fill="#EF766F"/>
<circle cx="1300.05" cy="709.42" r="3.9" fill="#EF766F"/>
<circle cx="1309.56" cy="714.52" r="3.9" fill="#EF766F"/>
<circle cx="1294.62" cy="721.31" r="3.9" fill="#2BB24E"/>
<circle cx="1314.31" cy="723.01" r="3.9" fill="#EF766F"/>
<circle cx="1284.77" cy="730.48" r="3.9" fill="#2BB24E"/>
<circle cx="1318.39" cy="735.57" r="3.9" fill="#EF766F"/>
<circle cx="1331.29" cy="733.88" r="3.9" fill="#EF766F"/>
<circle cx="1333.67" cy="734.89" r="3.9" fill="#EF766F"/>
<circle cx="1340.12" cy="737.61" r="3.9" fill="#EF766F"/>
<circle cx="1325.18" cy="743.38" r="3.9" fill="#EF766F"/>
<circle cx="1334.01" cy="743.38" r="3.9" fill="#EF766F"/>
<circle cx="1334.69" cy="749.16" r="3.9" fill="#1CBCC4"/>
<circle cx="1301.41" cy="746.78" r="3.9" fill="#2BB24E"/>
<circle cx="1288.84" cy="755.95" r="3.9" fill="#1CBCC4"/>
<circle cx="1288.84" cy="800.1" r="3.9" fill="#B5A033"/>
<circle cx="1277.64" cy="821.49" r="3.9" fill="#B5A033"/>
<circle cx="1290.54" cy="835.76" r="3.9" fill="#B5A033"/>
<circle cx="1308.54" cy="847.98" r="3.9" fill="#7094D0"/>
<circle cx="1276.28" cy="867.34" r="3.9" fill="#7094D0"/>
<circle cx="1282.05" cy="876.85" r="3.9" fill="#7094D0"/>
<circle cx="1294.95" cy="965.82" r="3.9" fill="#B5A033"/>
<circle cx="1304.8" cy="971.6" r="3.9" fill="#D566B8"/>
<circle cx="1313.63" cy="961.75" r="3.9" fill="#7094D0"/>
<circle cx="1308.2" cy="1015.06" r="3.9" fill="#B5A033"/>
<circle cx="1310.24" cy="1022.54" r="3.9" fill="#B5A033"/>
<circle cx="1361.18" cy="1033.4" r="3.9" fill="#B5A033"/>
<circle cx="1376.46" cy="1049.36" r="3.9" fill="#B5A033"/>
<circle cx="1367.29" cy="1066.34" r="3.9" fill="#1CBCC4"/>
<circle cx="1310.24" cy="1059.55" r="3.9" fill="#B5A033"/>
<circle cx="1322.8" cy="1080.27" r="3.9" fill="#2BB24E"/>
<circle cx="1335.03" cy="1076.87" r="3.9" fill="#1CBCC4"/>
<circle cx="1319.75" cy="1092.15" r="3.9" fill="#2BB24E"/>
<circle cx="1318.39" cy="1098.95" r="3.9" fill="#2BB24E"/>
<circle cx="1313.63" cy="1101.32" r="3.9" fill="#2BB24E"/>
<circle cx="1317.03" cy="1108.45" r="3.9" fill="#2BB24E"/>
<circle cx="1314.31" cy="1112.53" r="3.9" fill="#2BB24E"/>
<circle cx="1320.42" cy="1110.15" r="3.9" fill="#2BB24E"/>
<circle cx="1323.82" cy="1111.17" r="3.9" fill="#EF766F"/>
<circle cx="1319.75" cy="1116.94" r="3.9" fill="#2BB24E"/>
<circle cx="1324.5" cy="1117.96" r="3.9" fill="#EF766F"/>
<text x="1019" y="1181.6" font-size="28" font-weight="bold" textLength="119.4" lengthAdjust="spacingAndGlyphs">Cell Type</text>
<circle cx="1030" cy="1201.8" r="12" fill="#EF766F"/>
<text x="1052" y="1210.6" font-size="23.5" textLength="44.8" lengthAdjust="spacingAndGlyphs">Rgl1</text>
<text x="1221" y="1181.6" font-size="28" font-weight="bold" textLength="197" lengthAdjust="spacingAndGlyphs">Embryonic day</text>
<circle cx="1235.5" cy="1201.8" r="12" fill="#EF766F"/>
<text x="1259.3" y="1210" font-size="23.5" textLength="59" lengthAdjust="spacingAndGlyphs">E11.5</text>
<circle cx="1235.5" cy="1230.7" r="12" fill="#2BB24E"/>
<text x="1259.3" y="1238.9" font-size="23.5" textLength="59" lengthAdjust="spacingAndGlyphs">E12.5</text>
<circle cx="1235.5" cy="1259.6" r="12" fill="#1CBCC4"/>
<text x="1259.3" y="1267.8" font-size="23.5" textLength="59" lengthAdjust="spacingAndGlyphs">E13.5</text>
<circle cx="1343.2" cy="1201.8" r="12" fill="#B5A033"/>
<text x="1367" y="1210" font-size="23.5" textLength="59" lengthAdjust="spacingAndGlyphs">E14.5</text>
<circle cx="1343.2" cy="1230.7" r="12" fill="#7094D0"/>
<text x="1367" y="1238.9" font-size="23.5" textLength="59" lengthAdjust="spacingAndGlyphs">E15.5</text>
<circle cx="1343.2" cy="1259.6" r="12" fill="#2BB24E"/>
<text x="1367" y="1267.8" font-size="23.5" textLength="59" lengthAdjust="spacingAndGlyphs">E18.5</text>
<text x="1516" y="666.3" font-size="44" font-weight="bold">h</text>
<text x="1715" y="641.8" font-size="35" font-weight="bold" text-anchor="middle" textLength="103.2" lengthAdjust="spacingAndGlyphs">mRgl1</text>
<path d="M1720 844 L1910 844 A190 190 0 0 0 1575.91 720.15 Z" fill="#F07470" stroke="#F07470" stroke-width="0.6"/>
<path d="M1720 844 L1575.91 720.15 A190 190 0 0 0 1653.4 1021.94 Z" fill="#29B24B" stroke="#29B24B" stroke-width="0.6"/>
<path d="M1720 844 L1653.4 1021.94 A190 190 0 0 0 1748.54 1031.84 Z" fill="#1BBCC5" stroke="#1BBCC5" stroke-width="0.6"/>
<path d="M1720 844 L1748.54 1031.84 A190 190 0 0 0 1885.92 936.58 Z" fill="#B5A034" stroke="#B5A034" stroke-width="0.6"/>
<path d="M1720 844 L1885.92 936.58 A190 190 0 0 0 1909.04 863.07 Z" fill="#6F94CE" stroke="#6F94CE" stroke-width="0.6"/>
<path d="M1720 844 L1909.04 863.07 A190 190 0 0 0 1910 844 Z" fill="#CF69B4" stroke="#CF69B4" stroke-width="0.6"/>
<text x="1825.3" y="684" font-size="28" textLength="76.37" lengthAdjust="spacingAndGlyphs">38.7%</text>
<text x="1914.8" y="866.4" font-size="28" textLength="61.39" lengthAdjust="spacingAndGlyphs">1.6%</text>
<text x="1909.9" y="917" font-size="28" textLength="61.39" lengthAdjust="spacingAndGlyphs">6.5%</text>
<text x="1841.5" y="1014.6" font-size="28" textLength="76.37" lengthAdjust="spacingAndGlyphs">14.5%</text>
<text x="1672.3" y="1060" font-size="28" textLength="61.39" lengthAdjust="spacingAndGlyphs">8.1%</text>
<text x="1447.7" y="889.2" font-size="28" textLength="76.37" lengthAdjust="spacingAndGlyphs">30.6%</text>
<text x="1737.4" y="1104" font-size="28" font-weight="bold" textLength="197" lengthAdjust="spacingAndGlyphs">Embryonic day</text>
<circle cx="1752" cy="1125.2" r="12" fill="#EF766F"/>
<text x="1775.5" y="1133.4" font-size="23.5" textLength="59" lengthAdjust="spacingAndGlyphs">E11.5</text>
<circle cx="1752" cy="1152.9" r="12" fill="#2BB24E"/>
<text x="1775.5" y="1161.1" font-size="23.5" textLength="59" lengthAdjust="spacingAndGlyphs">E12.5</text>
<circle cx="1752" cy="1180.6" r="12" fill="#1CBCC4"/>
<text x="1775.5" y="1188.8" font-size="23.5" textLength="59" lengthAdjust="spacingAndGlyphs">E13.5</text>
<circle cx="1859.4" cy="1125.2" r="12" fill="#B5A033"/>
<text x="1882.9" y="1133.4" font-size="23.5" textLength="59" lengthAdjust="spacingAndGlyphs">E14.5</text>
<circle cx="1859.4" cy="1152.9" r="12" fill="#7094D0"/>
<text x="1882.9" y="1161.1" font-size="23.5" textLength="59" lengthAdjust="spacingAndGlyphs">E15.5</text>
<circle cx="1859.4" cy="1180.6" r="12" fill="#2BB24E"/>
<text x="1882.9" y="1188.8" font-size="23.5" textLength="59" lengthAdjust="spacingAndGlyphs">E18.5</text>
<text x="4" y="1486.5" font-size="45" font-weight="bold">e</text>
<text x="50" y="1563" font-size="35.5" font-weight="bold" textLength="94" lengthAdjust="spacingAndGlyphs">hRgl1</text>
<circle cx="564.39" cy="1492.74" r="1.9" fill="#EF766F"/>
<circle cx="577.23" cy="1499.66" r="1.9" fill="#1CBCC4"/>
<circle cx="548.04" cy="1486.99" r="1.9" fill="#1CBCC4"/>
<circle cx="550.51" cy="1484.39" r="1.9" fill="#1CBCC4"/>
<circle cx="554.36" cy="1487.85" r="1.9" fill="#EF766F"/>
<circle cx="558.89" cy="1489.98" r="1.9" fill="#EF766F"/>
<circle cx="570.89" cy="1494.12" r="1.9" fill="#1CBCC4"/>
<circle cx="565.35" cy="1490.3" r="1.9" fill="#1CBCC4"/>
<circle cx="561.06" cy="1492.89" r="1.9" fill="#EF766F"/>
<circle cx="566.8" cy="1491.59" r="1.9" fill="#1CBCC4"/>
<circle cx="544.13" cy="1488.26" r="1.9" fill="#EF766F"/>
<circle cx="568.03" cy="1494.39" r="1.9" fill="#1CBCC4"/>
<circle cx="545.38" cy="1490.48" r="1.9" fill="#1CBCC4"/>
<circle cx="557.52" cy="1490.08" r="1.9" fill="#1CBCC4"/>
<circle cx="573.43" cy="1497.29" r="1.9" fill="#1CBCC4"/>
<circle cx="581.07" cy="1500.02" r="1.9" fill="#EF766F"/>
<circle cx="598.89" cy="1503.79" r="1.9" fill="#1CBCC4"/>
<circle cx="567.07" cy="1490.8" r="1.9" fill="#EF766F"/>
<circle cx="554.89" cy="1492.34" r="1.9" fill="#EF766F"/>
<circle cx="549.39" cy="1487.11" r="1.9" fill="#EF766F"/>
<circle cx="559.2" cy="1494.02" r="1.9" fill="#EF766F"/>
<circle cx="592.8" cy="1504.29" r="1.9" fill="#1CBCC4"/>
<circle cx="558.34" cy="1492.79" r="1.9" fill="#1CBCC4"/>
<circle cx="599.14" cy="1503.13" r="1.9" fill="#EF766F"/>
<circle cx="546.63" cy="1484.55" r="1.9" fill="#1CBCC4"/>
<circle cx="588.49" cy="1501.4" r="1.9" fill="#EF766F"/>
<circle cx="547.24" cy="1488.12" r="1.9" fill="#1CBCC4"/>
<circle cx="560.04" cy="1489.77" r="1.9" fill="#EF766F"/>
<circle cx="569.39" cy="1494.71" r="1.9" fill="#EF766F"/>
<circle cx="547.72" cy="1490.23" r="1.9" fill="#1CBCC4"/>
<circle cx="581.3" cy="1499.05" r="1.9" fill="#EF766F"/>
<circle cx="593.28" cy="1499.25" r="1.9" fill="#EF766F"/>
<circle cx="570.09" cy="1493.35" r="1.9" fill="#1CBCC4"/>
<circle cx="573.57" cy="1492.28" r="1.9" fill="#1CBCC4"/>
<circle cx="589.72" cy="1500.77" r="1.9" fill="#1CBCC4"/>
<circle cx="589.52" cy="1505.09" r="1.9" fill="#1CBCC4"/>
<circle cx="576.48" cy="1500.02" r="1.9" fill="#1CBCC4"/>
<circle cx="583.38" cy="1498.36" r="1.9" fill="#1CBCC4"/>
<circle cx="582.88" cy="1499.47" r="1.9" fill="#1CBCC4"/>
<circle cx="588.3" cy="1501.33" r="1.9" fill="#EF766F"/>
<circle cx="579.89" cy="1499.8" r="1.9" fill="#1CBCC4"/>
<circle cx="542.69" cy="1487.12" r="1.9" fill="#EF766F"/>
<circle cx="593.42" cy="1502.22" r="1.9" fill="#1CBCC4"/>
<circle cx="581.46" cy="1501.1" r="1.9" fill="#1CBCC4"/>
<circle cx="591.14" cy="1505.28" r="1.9" fill="#EF766F"/>
<circle cx="573.13" cy="1492.1" r="1.9" fill="#1CBCC4"/>
<circle cx="559.74" cy="1492.28" r="1.9" fill="#EF766F"/>
<circle cx="564.8" cy="1491.86" r="1.9" fill="#EF766F"/>
<circle cx="598.21" cy="1505.86" r="1.9" fill="#EF766F"/>
<circle cx="544.68" cy="1482.44" r="1.9" fill="#EF766F"/>
<circle cx="545.53" cy="1486.1" r="1.9" fill="#EF766F"/>
<circle cx="556.83" cy="1489.94" r="1.9" fill="#1CBCC4"/>
<circle cx="576.68" cy="1495.34" r="1.9" fill="#1CBCC4"/>
<circle cx="553.05" cy="1488.78" r="1.9" fill="#EF766F"/>
<circle cx="584.25" cy="1501.52" r="1.9" fill="#EF766F"/>
<circle cx="600.47" cy="1505.91" r="1.9" fill="#EF766F"/>
<circle cx="614.92" cy="1513.09" r="1.9" fill="#1CBCC4"/>
<circle cx="598.41" cy="1504.59" r="1.9" fill="#EF766F"/>
<circle cx="612.22" cy="1507.23" r="1.9" fill="#EF766F"/>
<circle cx="594.4" cy="1501.93" r="1.9" fill="#1CBCC4"/>
<circle cx="598.75" cy="1502.28" r="1.9" fill="#1CBCC4"/>
<circle cx="607.48" cy="1513.29" r="1.9" fill="#1CBCC4"/>
<circle cx="590.1" cy="1504.48" r="1.9" fill="#1CBCC4"/>
<circle cx="590.89" cy="1502.71" r="1.9" fill="#1CBCC4"/>
<circle cx="598.25" cy="1505.16" r="1.9" fill="#EF766F"/>
<circle cx="608.68" cy="1507.45" r="1.9" fill="#1CBCC4"/>
<circle cx="613.75" cy="1512.12" r="1.9" fill="#1CBCC4"/>
<circle cx="606.24" cy="1508.07" r="1.9" fill="#1CBCC4"/>
<circle cx="595.21" cy="1507.9" r="1.9" fill="#1CBCC4"/>
<circle cx="612.33" cy="1510.27" r="1.9" fill="#1CBCC4"/>
<circle cx="600.68" cy="1507.78" r="1.9" fill="#EF766F"/>
<circle cx="600.05" cy="1509.33" r="1.9" fill="#1CBCC4"/>
<circle cx="608.41" cy="1510.02" r="1.9" fill="#EF766F"/>
<circle cx="611.94" cy="1513.11" r="1.9" fill="#EF766F"/>
<circle cx="611.05" cy="1509.28" r="1.9" fill="#EF766F"/>
<circle cx="605.58" cy="1508.18" r="1.9" fill="#1CBCC4"/>
<circle cx="595.01" cy="1507.16" r="1.9" fill="#EF766F"/>
<circle cx="512.91" cy="1740.59" r="1.9" fill="#EF766F"/>
<circle cx="499.51" cy="1748.2" r="1.9" fill="#EF766F"/>
<circle cx="490.34" cy="1754.93" r="1.9" fill="#EF766F"/>
<circle cx="459.23" cy="1741.88" r="1.9" fill="#EF766F"/>
<circle cx="498.59" cy="1784.29" r="1.9" fill="#EF766F"/>
<circle cx="464.85" cy="1774.69" r="1.9" fill="#1CBCC4"/>
<circle cx="476.69" cy="1750.08" r="1.9" fill="#1CBCC4"/>
<circle cx="456.06" cy="1743.72" r="1.9" fill="#EF766F"/>
<circle cx="486.43" cy="1779.54" r="1.9" fill="#EF766F"/>
<circle cx="461.49" cy="1770.88" r="1.9" fill="#1CBCC4"/>
<circle cx="452.53" cy="1759.45" r="1.9" fill="#EF766F"/>
<circle cx="520.08" cy="1746.29" r="1.9" fill="#EF766F"/>
<circle cx="443.28" cy="1761.41" r="1.9" fill="#EF766F"/>
<circle cx="457.81" cy="1740.57" r="1.9" fill="#EF766F"/>
<circle cx="549.37" cy="1765.3" r="1.9" fill="#EF766F"/>
<circle cx="493.1" cy="1763.58" r="1.9" fill="#EF766F"/>
<circle cx="538.45" cy="1747.43" r="1.9" fill="#EF766F"/>
<circle cx="487.65" cy="1743.82" r="1.9" fill="#EF766F"/>
<circle cx="530.79" cy="1778.28" r="1.9" fill="#1CBCC4"/>
<circle cx="485.44" cy="1767.99" r="1.9" fill="#EF766F"/>
<circle cx="533.49" cy="1751.63" r="1.9" fill="#1CBCC4"/>
<circle cx="527.48" cy="1784.62" r="1.9" fill="#EF766F"/>
<circle cx="539.88" cy="1778.48" r="1.9" fill="#EF766F"/>
<circle cx="484.94" cy="1775.35" r="1.9" fill="#EF766F"/>
<circle cx="495.96" cy="1733.43" r="1.9" fill="#EF766F"/>
<circle cx="512.73" cy="1748.24" r="1.9" fill="#1CBCC4"/>
<circle cx="477.42" cy="1770.91" r="1.9" fill="#EF766F"/>
<circle cx="512.39" cy="1776.47" r="1.9" fill="#EF766F"/>
<circle cx="441.25" cy="1765.07" r="1.9" fill="#EF766F"/>
<circle cx="487.97" cy="1735.13" r="1.9" fill="#EF766F"/>
<circle cx="451.9" cy="1744.05" r="1.9" fill="#1CBCC4"/>
<circle cx="495.46" cy="1791" r="1.9" fill="#EF766F"/>
<circle cx="511.33" cy="1782.9" r="1.9" fill="#EF766F"/>
<circle cx="495.47" cy="1742.94" r="1.9" fill="#EF766F"/>
<circle cx="487.7" cy="1763.8" r="1.9" fill="#EF766F"/>
<circle cx="471.43" cy="1770.11" r="1.9" fill="#EF766F"/>
<circle cx="523.1" cy="1753" r="1.9" fill="#EF766F"/>
<circle cx="527" cy="1759" r="1.9" fill="#1CBCC4"/>
<circle cx="544.23" cy="1762.89" r="1.9" fill="#EF766F"/>
<circle cx="467.26" cy="1761.81" r="1.9" fill="#1CBCC4"/>
<circle cx="490.84" cy="1791.3" r="1.9" fill="#1CBCC4"/>
<circle cx="451.87" cy="1766.54" r="1.9" fill="#EF766F"/>
<circle cx="445.09" cy="1760.15" r="1.9" fill="#EF766F"/>
<circle cx="516.63" cy="1762.04" r="1.9" fill="#EF766F"/>
<circle cx="486.25" cy="1778.8" r="1.9" fill="#EF766F"/>
<circle cx="468.79" cy="1737.28" r="1.9" fill="#1CBCC4"/>
<circle cx="512.18" cy="1755.85" r="1.9" fill="#EF766F"/>
<circle cx="504.02" cy="1769.14" r="1.9" fill="#EF766F"/>
<circle cx="462.47" cy="1744.86" r="1.9" fill="#1CBCC4"/>
<circle cx="447.44" cy="1744.87" r="1.9" fill="#EF766F"/>
<circle cx="450.84" cy="1761.47" r="1.9" fill="#EF766F"/>
<circle cx="517.11" cy="1767.81" r="1.9" fill="#EF766F"/>
<circle cx="496.04" cy="1745.49" r="1.9" fill="#EF766F"/>
<circle cx="451.45" cy="1777.64" r="1.9" fill="#EF766F"/>
<circle cx="464.25" cy="1755.58" r="1.9" fill="#EF766F"/>
<circle cx="481.05" cy="1770.86" r="1.9" fill="#1CBCC4"/>
<circle cx="501.33" cy="1778.2" r="1.9" fill="#1CBCC4"/>
<circle cx="484" cy="1737.59" r="1.9" fill="#1CBCC4"/>
<circle cx="448.48" cy="1762.62" r="1.9" fill="#EF766F"/>
<circle cx="472.32" cy="1777.43" r="1.9" fill="#EF766F"/>
<circle cx="517.92" cy="1739.64" r="1.9" fill="#EF766F"/>
<circle cx="520.55" cy="1751.99" r="1.9" fill="#EF766F"/>
<circle cx="523.81" cy="1757.3" r="1.9" fill="#EF766F"/>
<circle cx="502.82" cy="1788.72" r="1.9" fill="#1CBCC4"/>
<circle cx="488.25" cy="1780.49" r="1.9" fill="#EF766F"/>
<circle cx="483.12" cy="1787.97" r="1.9" fill="#1CBCC4"/>
<circle cx="481.72" cy="1753.57" r="1.9" fill="#EF766F"/>
<circle cx="485.6" cy="1743.63" r="1.9" fill="#EF766F"/>
<circle cx="499.93" cy="1783.52" r="1.9" fill="#EF766F"/>
<circle cx="524.93" cy="1788.38" r="1.9" fill="#EF766F"/>
<circle cx="498.58" cy="1765.8" r="1.9" fill="#EF766F"/>
<circle cx="512.88" cy="1782.72" r="1.9" fill="#EF766F"/>
<circle cx="447.42" cy="1772.94" r="1.9" fill="#1CBCC4"/>
<circle cx="514.36" cy="1743.07" r="1.9" fill="#EF766F"/>
<circle cx="469.05" cy="1743.72" r="1.9" fill="#EF766F"/>
<circle cx="528.14" cy="1759.36" r="1.9" fill="#EF766F"/>
<circle cx="516.95" cy="1764.36" r="1.9" fill="#EF766F"/>
<circle cx="518.88" cy="1789.91" r="1.9" fill="#EF766F"/>
<circle cx="514.42" cy="1785.82" r="1.9" fill="#1CBCC4"/>
<circle cx="513.09" cy="1765.84" r="1.9" fill="#EF766F"/>
<circle cx="488.36" cy="1757.45" r="1.9" fill="#EF766F"/>
<circle cx="460.14" cy="1741.97" r="1.9" fill="#EF766F"/>
<circle cx="476.88" cy="1738.04" r="1.9" fill="#EF766F"/>
<circle cx="491.79" cy="1767.61" r="1.9" fill="#1CBCC4"/>
<circle cx="465.72" cy="1744.33" r="1.9" fill="#EF766F"/>
<circle cx="466.75" cy="1741.38" r="1.9" fill="#EF766F"/>
<circle cx="527.74" cy="1754.35" r="1.9" fill="#EF766F"/>
<circle cx="495.88" cy="1748.48" r="1.9" fill="#1CBCC4"/>
<circle cx="478.5" cy="1764.23" r="1.9" fill="#1CBCC4"/>
<circle cx="483.56" cy="1763.49" r="1.9" fill="#EF766F"/>
<circle cx="494.51" cy="1755.05" r="1.9" fill="#1CBCC4"/>
<circle cx="511.05" cy="1743.59" r="1.9" fill="#EF766F"/>
<circle cx="467.27" cy="1782.64" r="1.9" fill="#EF766F"/>
<circle cx="502.82" cy="1742.47" r="1.9" fill="#EF766F"/>
<circle cx="532.33" cy="1786.94" r="1.9" fill="#1CBCC4"/>
<circle cx="469.28" cy="1773.62" r="1.9" fill="#EF766F"/>
<circle cx="491" cy="1789.91" r="1.9" fill="#EF766F"/>
<circle cx="472.79" cy="1778.31" r="1.9" fill="#EF766F"/>
<circle cx="463.08" cy="1762.64" r="1.9" fill="#EF766F"/>
<circle cx="536.35" cy="1755.08" r="1.9" fill="#EF766F"/>
<circle cx="474.72" cy="1759.08" r="1.9" fill="#EF766F"/>
<circle cx="520.68" cy="1741.33" r="1.9" fill="#EF766F"/>
<circle cx="481.7" cy="1774.31" r="1.9" fill="#EF766F"/>
<circle cx="494.72" cy="1733.32" r="1.9" fill="#1CBCC4"/>
<circle cx="462.5" cy="1766.97" r="1.9" fill="#EF766F"/>
<circle cx="502.65" cy="1751.34" r="1.9" fill="#EF766F"/>
<circle cx="517.54" cy="1750.13" r="1.9" fill="#EF766F"/>
<circle cx="474.96" cy="1787.88" r="1.9" fill="#EF766F"/>
<circle cx="475.84" cy="1780.84" r="1.9" fill="#EF766F"/>
<circle cx="449.2" cy="1769.52" r="1.9" fill="#EF766F"/>
<circle cx="483.95" cy="1782.15" r="1.9" fill="#EF766F"/>
<circle cx="467.2" cy="1739.74" r="1.9" fill="#EF766F"/>
<circle cx="488.51" cy="1762.95" r="1.9" fill="#EF766F"/>
<circle cx="534.7" cy="1759.43" r="1.9" fill="#EF766F"/>
<circle cx="441.52" cy="1752.17" r="1.9" fill="#EF766F"/>
<circle cx="529.64" cy="1775.51" r="1.9" fill="#EF766F"/>
<circle cx="478.3" cy="1751.86" r="1.9" fill="#EF766F"/>
<circle cx="482.81" cy="1762.32" r="1.9" fill="#1CBCC4"/>
<circle cx="511.66" cy="1743.71" r="1.9" fill="#EF766F"/>
<circle cx="503.35" cy="1754.68" r="1.9" fill="#EF766F"/>
<circle cx="497.73" cy="1776.04" r="1.9" fill="#1CBCC4"/>
<circle cx="547.75" cy="1775.1" r="1.9" fill="#EF766F"/>
<circle cx="467.09" cy="1764.99" r="1.9" fill="#EF766F"/>
<circle cx="547.31" cy="1759.04" r="1.9" fill="#EF766F"/>
<circle cx="543.47" cy="1769.68" r="1.9" fill="#EF766F"/>
<circle cx="467.63" cy="1785.08" r="1.9" fill="#1CBCC4"/>
<circle cx="510.7" cy="1741.47" r="1.9" fill="#1CBCC4"/>
<circle cx="544.23" cy="1751.52" r="1.9" fill="#EF766F"/>
<circle cx="460.42" cy="1762.68" r="1.9" fill="#EF766F"/>
<circle cx="546.95" cy="1776.91" r="1.9" fill="#EF766F"/>
<circle cx="525.08" cy="1758.33" r="1.9" fill="#EF766F"/>
<circle cx="495.17" cy="1741.34" r="1.9" fill="#EF766F"/>
<circle cx="459.19" cy="1760.88" r="1.9" fill="#EF766F"/>
<circle cx="476.86" cy="1769.77" r="1.9" fill="#EF766F"/>
<circle cx="508.72" cy="1762.21" r="1.9" fill="#EF766F"/>
<circle cx="517.53" cy="1780.34" r="1.9" fill="#EF766F"/>
<circle cx="538.5" cy="1761.15" r="1.9" fill="#EF766F"/>
<circle cx="543.69" cy="1768.65" r="1.9" fill="#EF766F"/>
<circle cx="544.66" cy="1756.37" r="1.9" fill="#EF766F"/>
<circle cx="542.03" cy="1780.91" r="1.9" fill="#EF766F"/>
<circle cx="473.95" cy="1766.61" r="1.9" fill="#EF766F"/>
<circle cx="490.86" cy="1762.62" r="1.9" fill="#EF766F"/>
<circle cx="519.39" cy="1766.54" r="1.9" fill="#EF766F"/>
<circle cx="486.31" cy="1746.16" r="1.9" fill="#EF766F"/>
<circle cx="550.04" cy="1777.62" r="1.9" fill="#1CBCC4"/>
<circle cx="533.73" cy="1749.46" r="1.9" fill="#EF766F"/>
<circle cx="532.75" cy="1743.47" r="1.9" fill="#EF766F"/>
<circle cx="474.72" cy="1750.5" r="1.9" fill="#EF766F"/>
<circle cx="533.99" cy="1760.05" r="1.9" fill="#EF766F"/>
<circle cx="544.06" cy="1755.54" r="1.9" fill="#EF766F"/>
<circle cx="552.3" cy="1766.19" r="1.9" fill="#EF766F"/>
<circle cx="460.05" cy="1780.12" r="1.9" fill="#EF766F"/>
<circle cx="513.91" cy="1745.9" r="1.9" fill="#1CBCC4"/>
<circle cx="450.3" cy="1772.51" r="1.9" fill="#EF766F"/>
<circle cx="538.59" cy="1779.48" r="1.9" fill="#EF766F"/>
<circle cx="547.88" cy="1764.15" r="1.9" fill="#EF766F"/>
<circle cx="473.62" cy="1773.63" r="1.9" fill="#EF766F"/>
<circle cx="465.57" cy="1770.16" r="1.9" fill="#1CBCC4"/>
<circle cx="513.71" cy="1787.62" r="1.9" fill="#EF766F"/>
<circle cx="471.76" cy="1786.49" r="1.9" fill="#EF766F"/>
<circle cx="515.31" cy="1739.91" r="1.9" fill="#1CBCC4"/>
<circle cx="500.11" cy="1765.13" r="1.9" fill="#EF766F"/>
<circle cx="473.4" cy="1745.93" r="1.9" fill="#1CBCC4"/>
<circle cx="470.84" cy="1776.11" r="1.9" fill="#EF766F"/>
<circle cx="504.2" cy="1744.74" r="1.9" fill="#1CBCC4"/>
<circle cx="443.31" cy="1755.99" r="1.9" fill="#EF766F"/>
<circle cx="546.61" cy="1767.33" r="1.9" fill="#EF766F"/>
<circle cx="514.49" cy="1756.08" r="1.9" fill="#EF766F"/>
<circle cx="498.9" cy="1763.51" r="1.9" fill="#1CBCC4"/>
<circle cx="497.01" cy="1790.2" r="1.9" fill="#EF766F"/>
<circle cx="457.74" cy="1766.07" r="1.9" fill="#EF766F"/>
<circle cx="527.05" cy="1782.89" r="1.9" fill="#1CBCC4"/>
<circle cx="497.2" cy="1746.23" r="1.9" fill="#EF766F"/>
<circle cx="442.8" cy="1764.09" r="1.9" fill="#EF766F"/>
<circle cx="541.76" cy="1747.65" r="1.9" fill="#EF766F"/>
<circle cx="496.89" cy="1759.05" r="1.9" fill="#EF766F"/>
<circle cx="543.71" cy="1771.24" r="1.9" fill="#EF766F"/>
<circle cx="468.57" cy="1739.21" r="1.9" fill="#EF766F"/>
<circle cx="474.91" cy="1768.37" r="1.9" fill="#EF766F"/>
<circle cx="509.4" cy="1739.3" r="1.9" fill="#1CBCC4"/>
<circle cx="470.45" cy="1740.19" r="1.9" fill="#EF766F"/>
<circle cx="487.38" cy="1753.99" r="1.9" fill="#EF766F"/>
<circle cx="444.14" cy="1757.75" r="1.9" fill="#EF766F"/>
<circle cx="456.16" cy="1756.74" r="1.9" fill="#EF766F"/>
<circle cx="464.99" cy="1783.69" r="1.9" fill="#EF766F"/>
<circle cx="474.06" cy="1756.44" r="1.9" fill="#EF766F"/>
<circle cx="525.46" cy="1749.22" r="1.9" fill="#EF766F"/>
<circle cx="467.35" cy="1758.09" r="1.9" fill="#1CBCC4"/>
<circle cx="512.22" cy="1736.61" r="1.9" fill="#EF766F"/>
<circle cx="446.8" cy="1749.16" r="1.9" fill="#EF766F"/>
<circle cx="505.46" cy="1787.01" r="1.9" fill="#EF766F"/>
<circle cx="537.26" cy="1759.36" r="1.9" fill="#1CBCC4"/>
<circle cx="481.02" cy="1742.55" r="1.9" fill="#EF766F"/>
<circle cx="464.25" cy="1742.94" r="1.9" fill="#EF766F"/>
<circle cx="488.31" cy="1791.95" r="1.9" fill="#EF766F"/>
<circle cx="463.47" cy="1753.02" r="1.9" fill="#EF766F"/>
<circle cx="482.33" cy="1748.14" r="1.9" fill="#EF766F"/>
<circle cx="470.1" cy="1754.2" r="1.9" fill="#1CBCC4"/>
<circle cx="470.99" cy="1752.36" r="1.9" fill="#EF766F"/>
<circle cx="479.4" cy="1777.46" r="1.9" fill="#EF766F"/>
<circle cx="485.82" cy="1736.92" r="1.9" fill="#1CBCC4"/>
<circle cx="528.18" cy="1766.89" r="1.9" fill="#EF766F"/>
<circle cx="456.16" cy="1765.17" r="1.9" fill="#EF766F"/>
<circle cx="487.99" cy="1764.86" r="1.9" fill="#EF766F"/>
<circle cx="468.13" cy="1774.05" r="1.9" fill="#EF766F"/>
<circle cx="464.04" cy="1746.89" r="1.9" fill="#EF766F"/>
<circle cx="481.97" cy="1783.73" r="1.9" fill="#EF766F"/>
<circle cx="480.57" cy="1744.44" r="1.9" fill="#EF766F"/>
<circle cx="511.72" cy="1768.26" r="1.9" fill="#1CBCC4"/>
<circle cx="472.78" cy="1771.15" r="1.9" fill="#1CBCC4"/>
<circle cx="517.99" cy="1774.87" r="1.9" fill="#1CBCC4"/>
<circle cx="465.64" cy="1768.24" r="1.9" fill="#EF766F"/>
<circle cx="486.87" cy="1735.62" r="1.9" fill="#EF766F"/>
<circle cx="497.82" cy="1749.81" r="1.9" fill="#EF766F"/>
<circle cx="495.88" cy="1742.83" r="1.9" fill="#EF766F"/>
<circle cx="450.8" cy="1749.43" r="1.9" fill="#EF766F"/>
<circle cx="505.5" cy="1775.87" r="1.9" fill="#EF766F"/>
<circle cx="442.45" cy="1751.69" r="1.9" fill="#EF766F"/>
<circle cx="488.28" cy="1735.41" r="1.9" fill="#EF766F"/>
<circle cx="494.32" cy="1752.26" r="1.9" fill="#EF766F"/>
<circle cx="477.28" cy="1784.87" r="1.9" fill="#EF766F"/>
<circle cx="518.06" cy="1745.93" r="1.9" fill="#EF766F"/>
<circle cx="550.26" cy="1759.39" r="1.9" fill="#EF766F"/>
<circle cx="527.71" cy="1773.36" r="1.9" fill="#EF766F"/>
<circle cx="488.41" cy="1748.77" r="1.9" fill="#1CBCC4"/>
<circle cx="481.21" cy="1786.29" r="1.9" fill="#EF766F"/>
<circle cx="498.82" cy="1751.63" r="1.9" fill="#EF766F"/>
<circle cx="458.15" cy="1741.08" r="1.9" fill="#EF766F"/>
<circle cx="502.62" cy="1757.1" r="1.9" fill="#EF766F"/>
<circle cx="514.1" cy="1767.4" r="1.9" fill="#EF766F"/>
<circle cx="508.35" cy="1734.93" r="1.9" fill="#1CBCC4"/>
<circle cx="535.12" cy="1741.91" r="1.9" fill="#EF766F"/>
<circle cx="542.71" cy="1731.19" r="1.9" fill="#EF766F"/>
<circle cx="524.47" cy="1735.39" r="1.9" fill="#EF766F"/>
<circle cx="522.38" cy="1732.74" r="1.9" fill="#EF766F"/>
<circle cx="497.44" cy="1738.27" r="1.9" fill="#EF766F"/>
<circle cx="534.33" cy="1730.26" r="1.9" fill="#EF766F"/>
<circle cx="518.65" cy="1731.25" r="1.9" fill="#1CBCC4"/>
<circle cx="520.52" cy="1743.93" r="1.9" fill="#EF766F"/>
<circle cx="502.63" cy="1742.31" r="1.9" fill="#EF766F"/>
<circle cx="538.15" cy="1744.85" r="1.9" fill="#1CBCC4"/>
<circle cx="514.44" cy="1742.14" r="1.9" fill="#EF766F"/>
<circle cx="541.09" cy="1730.5" r="1.9" fill="#EF766F"/>
<circle cx="501.17" cy="1731.69" r="1.9" fill="#EF766F"/>
<circle cx="494.36" cy="1741.75" r="1.9" fill="#EF766F"/>
<circle cx="512.77" cy="1746.67" r="1.9" fill="#1CBCC4"/>
<circle cx="534.93" cy="1730.37" r="1.9" fill="#EF766F"/>
<circle cx="493.41" cy="1734.6" r="1.9" fill="#EF766F"/>
<circle cx="518.81" cy="1735.47" r="1.9" fill="#EF766F"/>
<circle cx="543.71" cy="1733.67" r="1.9" fill="#EF766F"/>
<circle cx="512.25" cy="1741.88" r="1.9" fill="#EF766F"/>
<circle cx="495.28" cy="1731.5" r="1.9" fill="#EF766F"/>
<circle cx="502.6" cy="1737.77" r="1.9" fill="#EF766F"/>
<circle cx="486.35" cy="1739.32" r="1.9" fill="#EF766F"/>
<circle cx="504.18" cy="1732.55" r="1.9" fill="#EF766F"/>
<circle cx="506.65" cy="1729.57" r="1.9" fill="#EF766F"/>
<circle cx="545.71" cy="1737.69" r="1.9" fill="#EF766F"/>
<circle cx="512.72" cy="1729.15" r="1.9" fill="#EF766F"/>
<circle cx="528.61" cy="1733.54" r="1.9" fill="#1CBCC4"/>
<circle cx="554.6" cy="1736.86" r="1.9" fill="#1CBCC4"/>
<circle cx="481.47" cy="1806.92" r="1.9" fill="#1CBCC4"/>
<circle cx="518.37" cy="1788.39" r="1.9" fill="#EF766F"/>
<circle cx="476.82" cy="1813.55" r="1.9" fill="#1CBCC4"/>
<circle cx="540.27" cy="1797.95" r="1.9" fill="#1CBCC4"/>
<circle cx="512.55" cy="1813.4" r="1.9" fill="#EF766F"/>
<circle cx="478.22" cy="1815.02" r="1.9" fill="#EF766F"/>
<circle cx="509.34" cy="1812.3" r="1.9" fill="#1CBCC4"/>
<circle cx="531.37" cy="1797.96" r="1.9" fill="#EF766F"/>
<circle cx="501.79" cy="1794.2" r="1.9" fill="#EF766F"/>
<circle cx="495.85" cy="1817.65" r="1.9" fill="#EF766F"/>
<circle cx="487.47" cy="1805.57" r="1.9" fill="#EF766F"/>
<circle cx="519.66" cy="1801.72" r="1.9" fill="#EF766F"/>
<circle cx="552.67" cy="1793.06" r="1.9" fill="#1CBCC4"/>
<circle cx="562.8" cy="1795.04" r="1.9" fill="#1CBCC4"/>
<circle cx="513.08" cy="1813.33" r="1.9" fill="#EF766F"/>
<circle cx="538.35" cy="1817.22" r="1.9" fill="#EF766F"/>
<circle cx="489.61" cy="1815.01" r="1.9" fill="#EF766F"/>
<circle cx="495.19" cy="1813.39" r="1.9" fill="#1CBCC4"/>
<circle cx="531.43" cy="1803.15" r="1.9" fill="#EF766F"/>
<circle cx="551.03" cy="1806.08" r="1.9" fill="#EF766F"/>
<circle cx="512.17" cy="1802.4" r="1.9" fill="#EF766F"/>
<circle cx="526.54" cy="1804.37" r="1.9" fill="#EF766F"/>
<circle cx="515.84" cy="1808.96" r="1.9" fill="#EF766F"/>
<circle cx="488.96" cy="1809.39" r="1.9" fill="#1CBCC4"/>
<circle cx="504.82" cy="1815.85" r="1.9" fill="#1CBCC4"/>
<circle cx="563.38" cy="1797.04" r="1.9" fill="#EF766F"/>
<circle cx="535.81" cy="1817.32" r="1.9" fill="#1CBCC4"/>
<circle cx="523.94" cy="1821.35" r="1.9" fill="#EF766F"/>
<circle cx="537.29" cy="1793.35" r="1.9" fill="#1CBCC4"/>
<circle cx="525.38" cy="1816.67" r="1.9" fill="#EF766F"/>
<circle cx="530.22" cy="1788.48" r="1.9" fill="#EF766F"/>
<circle cx="517.66" cy="1796.5" r="1.9" fill="#1CBCC4"/>
<circle cx="544.29" cy="1802.42" r="1.9" fill="#1CBCC4"/>
<circle cx="488.34" cy="1805.95" r="1.9" fill="#EF766F"/>
<circle cx="508.49" cy="1819.63" r="1.9" fill="#1CBCC4"/>
<circle cx="491.13" cy="1806.25" r="1.9" fill="#1CBCC4"/>
<circle cx="533.68" cy="1815.59" r="1.9" fill="#1CBCC4"/>
<circle cx="534.52" cy="1800.05" r="1.9" fill="#EF766F"/>
<circle cx="504.4" cy="1812.23" r="1.9" fill="#EF766F"/>
<circle cx="535.39" cy="1791.26" r="1.9" fill="#EF766F"/>
<circle cx="514.84" cy="1793.11" r="1.9" fill="#EF766F"/>
<circle cx="528.91" cy="1798.51" r="1.9" fill="#EF766F"/>
<circle cx="538.38" cy="1809.92" r="1.9" fill="#EF766F"/>
<circle cx="509.78" cy="1794.59" r="1.9" fill="#EF766F"/>
<circle cx="547.84" cy="1796.95" r="1.9" fill="#EF766F"/>
<circle cx="558.24" cy="1792.95" r="1.9" fill="#1CBCC4"/>
<circle cx="525.76" cy="1796.56" r="1.9" fill="#1CBCC4"/>
<circle cx="552.46" cy="1805.38" r="1.9" fill="#EF766F"/>
<circle cx="511.48" cy="1814.9" r="1.9" fill="#EF766F"/>
<circle cx="480.9" cy="1809.1" r="1.9" fill="#EF766F"/>
<circle cx="559.06" cy="1790.96" r="1.9" fill="#EF766F"/>
<circle cx="496.85" cy="1806.03" r="1.9" fill="#EF766F"/>
<circle cx="497.52" cy="1806.22" r="1.9" fill="#EF766F"/>
<circle cx="551.58" cy="1802.56" r="1.9" fill="#EF766F"/>
<circle cx="507.17" cy="1802.93" r="1.9" fill="#1CBCC4"/>
<circle cx="508.51" cy="1820.76" r="1.9" fill="#1CBCC4"/>
<circle cx="531.61" cy="1801.89" r="1.9" fill="#EF766F"/>
<circle cx="504.7" cy="1813.6" r="1.9" fill="#EF766F"/>
<circle cx="512.65" cy="1817.64" r="1.9" fill="#EF766F"/>
<circle cx="516.07" cy="1802.29" r="1.9" fill="#EF766F"/>
<circle cx="506.36" cy="1795.08" r="1.9" fill="#EF766F"/>
<circle cx="533.93" cy="1806.79" r="1.9" fill="#1CBCC4"/>
<circle cx="548.95" cy="1807.87" r="1.9" fill="#1CBCC4"/>
<circle cx="514.36" cy="1789.28" r="1.9" fill="#1CBCC4"/>
<circle cx="507.01" cy="1808.53" r="1.9" fill="#EF766F"/>
<circle cx="544.46" cy="1793.84" r="1.9" fill="#EF766F"/>
<circle cx="523.83" cy="1791.54" r="1.9" fill="#EF766F"/>
<circle cx="503.38" cy="1817.51" r="1.9" fill="#EF766F"/>
<circle cx="516.06" cy="1807.7" r="1.9" fill="#EF766F"/>
<circle cx="521.66" cy="1801.48" r="1.9" fill="#EF766F"/>
<circle cx="560.59" cy="1794.85" r="1.9" fill="#EF766F"/>
<circle cx="549.61" cy="1807.87" r="1.9" fill="#1CBCC4"/>
<circle cx="519.97" cy="1788.73" r="1.9" fill="#EF766F"/>
<circle cx="562.17" cy="1802.5" r="1.9" fill="#1CBCC4"/>
<circle cx="510.08" cy="1792.19" r="1.9" fill="#EF766F"/>
<circle cx="556.11" cy="1792.72" r="1.9" fill="#EF766F"/>
<circle cx="526.02" cy="1803.97" r="1.9" fill="#1CBCC4"/>
<circle cx="503.63" cy="1816.15" r="1.9" fill="#EF766F"/>
<circle cx="513.59" cy="1805.33" r="1.9" fill="#EF766F"/>
<circle cx="512.98" cy="1790.69" r="1.9" fill="#1CBCC4"/>
<circle cx="522.75" cy="1806.16" r="1.9" fill="#EF766F"/>
<circle cx="483.72" cy="1806.98" r="1.9" fill="#EF766F"/>
<circle cx="497.57" cy="1817.57" r="1.9" fill="#EF766F"/>
<circle cx="514.48" cy="1822.07" r="1.9" fill="#EF766F"/>
<circle cx="560.05" cy="1793.3" r="1.9" fill="#EF766F"/>
<circle cx="503.02" cy="1811.76" r="1.9" fill="#EF766F"/>
<circle cx="519.89" cy="1805.58" r="1.9" fill="#1CBCC4"/>
<circle cx="482.45" cy="1803.06" r="1.9" fill="#EF766F"/>
<circle cx="515.52" cy="1818.22" r="1.9" fill="#EF766F"/>
<circle cx="533.5" cy="1788.31" r="1.9" fill="#1CBCC4"/>
<circle cx="581.79" cy="1784.13" r="1.9" fill="#1CBCC4"/>
<circle cx="600.92" cy="1776.92" r="1.9" fill="#1CBCC4"/>
<circle cx="596.52" cy="1796.26" r="1.9" fill="#1CBCC4"/>
<circle cx="603.38" cy="1798.6" r="1.9" fill="#EF766F"/>
<circle cx="584.25" cy="1799.28" r="1.9" fill="#1CBCC4"/>
<circle cx="584.97" cy="1802.33" r="1.9" fill="#EF766F"/>
<circle cx="589.17" cy="1777.34" r="1.9" fill="#EF766F"/>
<circle cx="607.27" cy="1802.8" r="1.9" fill="#EF766F"/>
<circle cx="570.27" cy="1781.81" r="1.9" fill="#1CBCC4"/>
<circle cx="585.05" cy="1793.6" r="1.9" fill="#1CBCC4"/>
<circle cx="610.8" cy="1795.55" r="1.9" fill="#EF766F"/>
<circle cx="582.03" cy="1798.68" r="1.9" fill="#1CBCC4"/>
<circle cx="601.23" cy="1790.43" r="1.9" fill="#1CBCC4"/>
<circle cx="605.68" cy="1782.22" r="1.9" fill="#EF766F"/>
<circle cx="583.86" cy="1778.26" r="1.9" fill="#EF766F"/>
<circle cx="591.88" cy="1788.8" r="1.9" fill="#EF766F"/>
<circle cx="581.6" cy="1794.92" r="1.9" fill="#EF766F"/>
<circle cx="579.14" cy="1799.1" r="1.9" fill="#EF766F"/>
<circle cx="602.19" cy="1798.19" r="1.9" fill="#EF766F"/>
<circle cx="608.76" cy="1791.34" r="1.9" fill="#EF766F"/>
<circle cx="596.07" cy="1796.49" r="1.9" fill="#1CBCC4"/>
<circle cx="587.65" cy="1792.05" r="1.9" fill="#EF766F"/>
<circle cx="569.41" cy="1781.51" r="1.9" fill="#1CBCC4"/>
<circle cx="600.47" cy="1797.61" r="1.9" fill="#EF766F"/>
<circle cx="602.48" cy="1807.62" r="1.9" fill="#EF766F"/>
<circle cx="576.56" cy="1778.42" r="1.9" fill="#EF766F"/>
<circle cx="567.25" cy="1799.75" r="1.9" fill="#EF766F"/>
<circle cx="612.07" cy="1804.58" r="1.9" fill="#EF766F"/>
<circle cx="603.51" cy="1786.89" r="1.9" fill="#1CBCC4"/>
<circle cx="578.77" cy="1780.83" r="1.9" fill="#EF766F"/>
<circle cx="577.85" cy="1782.45" r="1.9" fill="#EF766F"/>
<circle cx="590.74" cy="1783.9" r="1.9" fill="#EF766F"/>
<circle cx="587.91" cy="1807.81" r="1.9" fill="#EF766F"/>
<circle cx="608.8" cy="1800.76" r="1.9" fill="#EF766F"/>
<circle cx="590.79" cy="1799.64" r="1.9" fill="#1CBCC4"/>
<circle cx="615.03" cy="1791.84" r="1.9" fill="#1CBCC4"/>
<circle cx="588.3" cy="1787.44" r="1.9" fill="#1CBCC4"/>
<circle cx="589.85" cy="1795.66" r="1.9" fill="#EF766F"/>
<circle cx="613.2" cy="1803.47" r="1.9" fill="#EF766F"/>
<circle cx="567.6" cy="1791.71" r="1.9" fill="#EF766F"/>
<circle cx="576.9" cy="1805.8" r="1.9" fill="#EF766F"/>
<circle cx="590.56" cy="1812.71" r="1.9" fill="#EF766F"/>
<circle cx="605.56" cy="1796.6" r="1.9" fill="#EF766F"/>
<circle cx="572.42" cy="1790.98" r="1.9" fill="#EF766F"/>
<circle cx="571.89" cy="1798.14" r="1.9" fill="#EF766F"/>
<circle cx="566.86" cy="1788.39" r="1.9" fill="#EF766F"/>
<circle cx="595.93" cy="1779.22" r="1.9" fill="#EF766F"/>
<circle cx="598.1" cy="1812.25" r="1.9" fill="#1CBCC4"/>
<circle cx="588.8" cy="1796.47" r="1.9" fill="#EF766F"/>
<circle cx="593.23" cy="1811.17" r="1.9" fill="#EF766F"/>
<circle cx="600.26" cy="1795.61" r="1.9" fill="#EF766F"/>
<circle cx="586.05" cy="1785.62" r="1.9" fill="#EF766F"/>
<circle cx="606.55" cy="1786.26" r="1.9" fill="#EF766F"/>
<circle cx="579.71" cy="1798.29" r="1.9" fill="#EF766F"/>
<circle cx="572.41" cy="1779.88" r="1.9" fill="#EF766F"/>
<circle cx="582.6" cy="1781.06" r="1.9" fill="#EF766F"/>
<circle cx="592.96" cy="1783.57" r="1.9" fill="#1CBCC4"/>
<circle cx="576.61" cy="1782.58" r="1.9" fill="#EF766F"/>
<circle cx="597.59" cy="1806.13" r="1.9" fill="#EF766F"/>
<circle cx="606.31" cy="1785.5" r="1.9" fill="#EF766F"/>
<circle cx="579.23" cy="1807.79" r="1.9" fill="#1CBCC4"/>
<circle cx="567.89" cy="1800.86" r="1.9" fill="#1CBCC4"/>
<circle cx="606.85" cy="1791.08" r="1.9" fill="#EF766F"/>
<circle cx="603.49" cy="1794.4" r="1.9" fill="#1CBCC4"/>
<circle cx="590.77" cy="1788.28" r="1.9" fill="#EF766F"/>
<circle cx="572.38" cy="1777.94" r="1.9" fill="#1CBCC4"/>
<circle cx="614.89" cy="1790.97" r="1.9" fill="#1CBCC4"/>
<circle cx="598.74" cy="1812.64" r="1.9" fill="#EF766F"/>
<circle cx="597.17" cy="1809.8" r="1.9" fill="#1CBCC4"/>
<circle cx="588.34" cy="1787.52" r="1.9" fill="#EF766F"/>
<circle cx="573.68" cy="1783.93" r="1.9" fill="#EF766F"/>
<circle cx="575.13" cy="1775.06" r="1.9" fill="#EF766F"/>
<circle cx="591.91" cy="1803.99" r="1.9" fill="#EF766F"/>
<circle cx="567.98" cy="1781.38" r="1.9" fill="#1CBCC4"/>
<circle cx="592.57" cy="1779.66" r="1.9" fill="#EF766F"/>
<circle cx="576.63" cy="1802.53" r="1.9" fill="#1CBCC4"/>
<circle cx="593.28" cy="1807.63" r="1.9" fill="#EF766F"/>
<circle cx="587.63" cy="1774.38" r="1.9" fill="#EF766F"/>
<circle cx="605.04" cy="1783.94" r="1.9" fill="#EF766F"/>
<circle cx="606.5" cy="1795.88" r="1.9" fill="#EF766F"/>
<circle cx="582.39" cy="1773.04" r="1.9" fill="#EF766F"/>
<circle cx="582.98" cy="1790.66" r="1.9" fill="#EF766F"/>
<circle cx="579.42" cy="1806.73" r="1.9" fill="#EF766F"/>
<circle cx="592.49" cy="1791.83" r="1.9" fill="#EF766F"/>
<circle cx="571.33" cy="1790.07" r="1.9" fill="#1CBCC4"/>
<circle cx="570.3" cy="1798.6" r="1.9" fill="#EF766F"/>
<circle cx="580.89" cy="1775.02" r="1.9" fill="#EF766F"/>
<circle cx="593.29" cy="1793.47" r="1.9" fill="#1CBCC4"/>
<circle cx="591.41" cy="1783.87" r="1.9" fill="#EF766F"/>
<circle cx="590.77" cy="1776.48" r="1.9" fill="#EF766F"/>
<circle cx="594.53" cy="1812.89" r="1.9" fill="#EF766F"/>
<circle cx="573.07" cy="1803.38" r="1.9" fill="#1CBCC4"/>
<circle cx="612.19" cy="1797.07" r="1.9" fill="#EF766F"/>
<circle cx="614.66" cy="1796.94" r="1.9" fill="#EF766F"/>
<circle cx="608.79" cy="1796.44" r="1.9" fill="#EF766F"/>
<circle cx="571.97" cy="1803.39" r="1.9" fill="#1CBCC4"/>
<circle cx="611.72" cy="1804.35" r="1.9" fill="#1CBCC4"/>
<circle cx="604.98" cy="1807.88" r="1.9" fill="#EF766F"/>
<circle cx="580.93" cy="1781.01" r="1.9" fill="#1CBCC4"/>
<circle cx="591.74" cy="1786.94" r="1.9" fill="#1CBCC4"/>
<circle cx="600.98" cy="1777.25" r="1.9" fill="#EF766F"/>
<circle cx="581.74" cy="1778.79" r="1.9" fill="#EF766F"/>
<circle cx="567.76" cy="1798.29" r="1.9" fill="#EF766F"/>
<circle cx="602.83" cy="1806.85" r="1.9" fill="#1CBCC4"/>
<circle cx="613.49" cy="1802.79" r="1.9" fill="#EF766F"/>
<circle cx="585.23" cy="1772.78" r="1.9" fill="#EF766F"/>
<circle cx="573.97" cy="1796.41" r="1.9" fill="#1CBCC4"/>
<circle cx="592.15" cy="1785.9" r="1.9" fill="#EF766F"/>
<circle cx="596.86" cy="1801.78" r="1.9" fill="#1CBCC4"/>
<circle cx="575.31" cy="1808.77" r="1.9" fill="#EF766F"/>
<circle cx="606.28" cy="1789.1" r="1.9" fill="#EF766F"/>
<circle cx="592.56" cy="1774.58" r="1.9" fill="#1CBCC4"/>
<circle cx="586.81" cy="1802.37" r="1.9" fill="#EF766F"/>
<circle cx="596.25" cy="1783.6" r="1.9" fill="#EF766F"/>
<circle cx="566.31" cy="1782.95" r="1.9" fill="#EF766F"/>
<circle cx="598.29" cy="1790.99" r="1.9" fill="#EF766F"/>
<circle cx="585.37" cy="1810.83" r="1.9" fill="#EF766F"/>
<circle cx="598.41" cy="1805.14" r="1.9" fill="#EF766F"/>
<circle cx="575.99" cy="1792.2" r="1.9" fill="#1CBCC4"/>
<circle cx="571.02" cy="1800.46" r="1.9" fill="#EF766F"/>
<circle cx="448.73" cy="1856.44" r="1.9" fill="#1CBCC4"/>
<circle cx="438.64" cy="1851.81" r="1.9" fill="#EF766F"/>
<circle cx="457.79" cy="1821.55" r="1.9" fill="#1CBCC4"/>
<circle cx="476.74" cy="1827.87" r="1.9" fill="#EF766F"/>
<circle cx="446.85" cy="1831.99" r="1.9" fill="#EF766F"/>
<circle cx="445.07" cy="1853.08" r="1.9" fill="#1CBCC4"/>
<circle cx="477.67" cy="1815.62" r="1.9" fill="#EF766F"/>
<circle cx="470.03" cy="1851.37" r="1.9" fill="#1CBCC4"/>
<circle cx="440.61" cy="1867.01" r="1.9" fill="#EF766F"/>
<circle cx="475.95" cy="1819.02" r="1.9" fill="#EF766F"/>
<circle cx="449.86" cy="1883.12" r="1.9" fill="#1CBCC4"/>
<circle cx="453.94" cy="1837.29" r="1.9" fill="#EF766F"/>
<circle cx="454.55" cy="1848.85" r="1.9" fill="#EF766F"/>
<circle cx="443.19" cy="1871.37" r="1.9" fill="#1CBCC4"/>
<circle cx="437.31" cy="1869.05" r="1.9" fill="#1CBCC4"/>
<circle cx="456.09" cy="1854.55" r="1.9" fill="#1CBCC4"/>
<circle cx="449.46" cy="1865.15" r="1.9" fill="#EF766F"/>
<circle cx="462.65" cy="1831.4" r="1.9" fill="#EF766F"/>
<circle cx="463.9" cy="1824.62" r="1.9" fill="#EF766F"/>
<circle cx="473.58" cy="1822.82" r="1.9" fill="#1CBCC4"/>
<circle cx="440.72" cy="1872.61" r="1.9" fill="#1CBCC4"/>
<circle cx="440.07" cy="1857.01" r="1.9" fill="#1CBCC4"/>
<circle cx="454.89" cy="1843.88" r="1.9" fill="#1CBCC4"/>
<circle cx="451.33" cy="1856.31" r="1.9" fill="#1CBCC4"/>
<circle cx="459.02" cy="1850.54" r="1.9" fill="#1CBCC4"/>
<circle cx="468.83" cy="1822.42" r="1.9" fill="#EF766F"/>
<circle cx="433.21" cy="1835.16" r="1.9" fill="#1CBCC4"/>
<circle cx="462.49" cy="1830.39" r="1.9" fill="#EF766F"/>
<circle cx="450.03" cy="1848.85" r="1.9" fill="#EF766F"/>
<circle cx="458.44" cy="1844.91" r="1.9" fill="#1CBCC4"/>
<circle cx="476.98" cy="1818.48" r="1.9" fill="#EF766F"/>
<circle cx="487.06" cy="1826.14" r="1.9" fill="#1CBCC4"/>
<circle cx="453.55" cy="1839.4" r="1.9" fill="#1CBCC4"/>
<circle cx="467.18" cy="1813.97" r="1.9" fill="#EF766F"/>
<circle cx="463.73" cy="1826.61" r="1.9" fill="#EF766F"/>
<circle cx="432.6" cy="1831.9" r="1.9" fill="#EF766F"/>
<circle cx="459.76" cy="1865.47" r="1.9" fill="#EF766F"/>
<circle cx="465.43" cy="1823.08" r="1.9" fill="#1CBCC4"/>
<circle cx="460.76" cy="1828.46" r="1.9" fill="#1CBCC4"/>
<circle cx="466.15" cy="1830.12" r="1.9" fill="#1CBCC4"/>
<circle cx="459.71" cy="1861.26" r="1.9" fill="#EF766F"/>
<circle cx="483.56" cy="1819.83" r="1.9" fill="#1CBCC4"/>
<circle cx="452.7" cy="1869.41" r="1.9" fill="#EF766F"/>
<circle cx="470.85" cy="1833.95" r="1.9" fill="#1CBCC4"/>
<circle cx="453.11" cy="1849.2" r="1.9" fill="#EF766F"/>
<circle cx="466.96" cy="1833.07" r="1.9" fill="#EF766F"/>
<circle cx="448.69" cy="1851.28" r="1.9" fill="#1CBCC4"/>
<circle cx="446.85" cy="1856.86" r="1.9" fill="#1CBCC4"/>
<circle cx="444.24" cy="1844.64" r="1.9" fill="#EF766F"/>
<circle cx="444.22" cy="1843.74" r="1.9" fill="#EF766F"/>
<circle cx="450.96" cy="1871.83" r="1.9" fill="#EF766F"/>
<circle cx="442.38" cy="1859.11" r="1.9" fill="#EF766F"/>
<circle cx="443.78" cy="1855.67" r="1.9" fill="#1CBCC4"/>
<circle cx="445.03" cy="1830.85" r="1.9" fill="#1CBCC4"/>
<circle cx="453.46" cy="1868.69" r="1.9" fill="#1CBCC4"/>
<circle cx="447.13" cy="1856.42" r="1.9" fill="#EF766F"/>
<circle cx="479.13" cy="1816.63" r="1.9" fill="#EF766F"/>
<circle cx="455.29" cy="1857.52" r="1.9" fill="#1CBCC4"/>
<circle cx="437.18" cy="1855.47" r="1.9" fill="#EF766F"/>
<circle cx="448.61" cy="1866.16" r="1.9" fill="#EF766F"/>
<circle cx="453.92" cy="1827.49" r="1.9" fill="#EF766F"/>
<circle cx="448.08" cy="1855.53" r="1.9" fill="#1CBCC4"/>
<circle cx="450.08" cy="1873.71" r="1.9" fill="#1CBCC4"/>
<circle cx="445.53" cy="1852.16" r="1.9" fill="#EF766F"/>
<circle cx="450.11" cy="1867.33" r="1.9" fill="#EF766F"/>
<circle cx="461.45" cy="1838.48" r="1.9" fill="#EF766F"/>
<circle cx="465.14" cy="1815.66" r="1.9" fill="#1CBCC4"/>
<circle cx="439.52" cy="1854.76" r="1.9" fill="#EF766F"/>
<circle cx="452.25" cy="1824.1" r="1.9" fill="#EF766F"/>
<circle cx="450.43" cy="1869.59" r="1.9" fill="#EF766F"/>
<circle cx="472.61" cy="1820.16" r="1.9" fill="#1CBCC4"/>
<circle cx="439.34" cy="1858.43" r="1.9" fill="#EF766F"/>
<circle cx="447.09" cy="1847.39" r="1.9" fill="#EF766F"/>
<circle cx="449.68" cy="1881.62" r="1.9" fill="#EF766F"/>
<circle cx="455.33" cy="1879.86" r="1.9" fill="#EF766F"/>
<circle cx="429.56" cy="1780.38" r="1.9" fill="#EF766F"/>
<circle cx="427.23" cy="1814.26" r="1.9" fill="#1CBCC4"/>
<circle cx="434.26" cy="1807.45" r="1.9" fill="#EF766F"/>
<circle cx="419.55" cy="1776.09" r="1.9" fill="#EF766F"/>
<circle cx="437.05" cy="1788.33" r="1.9" fill="#EF766F"/>
<circle cx="436.31" cy="1800.69" r="1.9" fill="#1CBCC4"/>
<circle cx="418.7" cy="1783.05" r="1.9" fill="#EF766F"/>
<circle cx="420.81" cy="1802.86" r="1.9" fill="#EF766F"/>
<circle cx="428.85" cy="1788.03" r="1.9" fill="#EF766F"/>
<circle cx="428.19" cy="1788.73" r="1.9" fill="#EF766F"/>
<circle cx="430.76" cy="1777.83" r="1.9" fill="#EF766F"/>
<circle cx="437.31" cy="1799.91" r="1.9" fill="#EF766F"/>
<circle cx="425.2" cy="1806.65" r="1.9" fill="#EF766F"/>
<circle cx="422.83" cy="1783.4" r="1.9" fill="#1CBCC4"/>
<circle cx="432.79" cy="1818.79" r="1.9" fill="#EF766F"/>
<circle cx="436.47" cy="1809.87" r="1.9" fill="#EF766F"/>
<circle cx="433.77" cy="1815.49" r="1.9" fill="#EF766F"/>
<circle cx="429.85" cy="1816.84" r="1.9" fill="#1CBCC4"/>
<circle cx="462.81" cy="1888.68" r="1.9" fill="#EF766F"/>
<circle cx="461.15" cy="1882.05" r="1.9" fill="#EF766F"/>
<circle cx="462.32" cy="1883.24" r="1.9" fill="#EF766F"/>
<circle cx="454.45" cy="1884.58" r="1.9" fill="#EF766F"/>
<circle cx="455.73" cy="1883.92" r="1.9" fill="#EF766F"/>
<circle cx="466.28" cy="1882.59" r="1.9" fill="#EF766F"/>
<circle cx="462.48" cy="1881.52" r="1.9" fill="#EF766F"/>
<circle cx="459.67" cy="1886.78" r="1.9" fill="#EF766F"/>
<circle cx="458.58" cy="1883.54" r="1.9" fill="#EF766F"/>
<circle cx="464.35" cy="1884.7" r="1.9" fill="#EF766F"/>
<circle cx="454.65" cy="1885.93" r="1.9" fill="#EF766F"/>
<circle cx="458.45" cy="1882.47" r="1.9" fill="#EF766F"/>
<circle cx="463.14" cy="1888.74" r="1.9" fill="#EF766F"/>
<circle cx="451.64" cy="1884.68" r="1.9" fill="#EF766F"/>
<circle cx="460.86" cy="1887.85" r="1.9" fill="#EF766F"/>
<circle cx="462.55" cy="1881.2" r="1.9" fill="#EF766F"/>
<circle cx="505.99" cy="1730.37" r="1.9" fill="#1CBCC4"/>
<circle cx="470.44" cy="1729.44" r="1.9" fill="#1CBCC4"/>
<circle cx="572.96" cy="1781.49" r="1.9" fill="#EF766F"/>
<circle cx="459.53" cy="1807.93" r="1.9" fill="#1CBCC4"/>
<circle cx="407.05" cy="1772.17" r="1.9" fill="#EF766F"/>
<circle cx="501.8" cy="1776.25" r="1.9" fill="#EF766F"/>
<circle cx="520.32" cy="1796.84" r="1.9" fill="#1CBCC4"/>
<circle cx="460.11" cy="1769.68" r="1.9" fill="#EF766F"/>
<circle cx="479.96" cy="1825.47" r="1.9" fill="#EF766F"/>
<circle cx="496.16" cy="1757.88" r="1.9" fill="#1CBCC4"/>
<circle cx="480.93" cy="1724.53" r="1.9" fill="#1CBCC4"/>
<circle cx="433.34" cy="1765.8" r="1.9" fill="#1CBCC4"/>
<circle cx="489.45" cy="1750.41" r="1.9" fill="#EF766F"/>
<circle cx="573.3" cy="1772.95" r="1.9" fill="#EF766F"/>
<circle cx="574.18" cy="1804.9" r="1.9" fill="#EF766F"/>
<circle cx="445.63" cy="1768.51" r="1.9" fill="#1CBCC4"/>
<circle cx="582.75" cy="1755.22" r="1.9" fill="#EF766F"/>
<circle cx="528.88" cy="1771.41" r="1.9" fill="#1CBCC4"/>
<circle cx="519.65" cy="1771.45" r="1.9" fill="#EF766F"/>
<circle cx="444.61" cy="1792.19" r="1.9" fill="#EF766F"/>
<circle cx="585.26" cy="1789.17" r="1.9" fill="#EF766F"/>
<circle cx="576.66" cy="1810.39" r="1.9" fill="#EF766F"/>
<circle cx="431.59" cy="1780.56" r="1.9" fill="#1CBCC4"/>
<circle cx="452.27" cy="1781.23" r="1.9" fill="#EF766F"/>
<circle cx="546.31" cy="1806.12" r="1.9" fill="#EF766F"/>
<circle cx="537.33" cy="1802.31" r="1.9" fill="#EF766F"/>
<circle cx="562.01" cy="1774.56" r="1.9" fill="#1CBCC4"/>
<circle cx="475.1" cy="1736.12" r="1.9" fill="#1CBCC4"/>
<circle cx="429.44" cy="1799.32" r="1.9" fill="#EF766F"/>
<circle cx="551.28" cy="1788.01" r="1.9" fill="#1CBCC4"/>
<circle cx="482.28" cy="1792.8" r="1.9" fill="#EF766F"/>
<circle cx="474.57" cy="1792.67" r="1.9" fill="#EF766F"/>
<circle cx="565.89" cy="1810.97" r="1.9" fill="#1CBCC4"/>
<circle cx="478.35" cy="1792.12" r="1.9" fill="#EF766F"/>
<circle cx="424.12" cy="1810.82" r="1.9" fill="#1CBCC4"/>
<circle cx="476.88" cy="1729.04" r="1.9" fill="#EF766F"/>
<circle cx="453.38" cy="1806.09" r="1.9" fill="#EF766F"/>
<circle cx="472.03" cy="1771.81" r="1.9" fill="#EF766F"/>
<circle cx="485.66" cy="1748.39" r="1.9" fill="#1CBCC4"/>
<circle cx="526.37" cy="1811.31" r="1.9" fill="#EF766F"/>
<circle cx="149.6" cy="1714.04" r="1.9" fill="#EF766F"/>
<circle cx="232.3" cy="1716.12" r="1.9" fill="#EF766F"/>
<circle cx="212.37" cy="1715.27" r="1.9" fill="#1CBCC4"/>
<circle cx="276.35" cy="1729.03" r="1.9" fill="#EF766F"/>
<circle cx="139.69" cy="1711.99" r="1.9" fill="#EF766F"/>
<circle cx="280.98" cy="1715.14" r="1.9" fill="#1CBCC4"/>
<circle cx="242.71" cy="1711.98" r="1.9" fill="#EF766F"/>
<circle cx="216.79" cy="1716.77" r="1.9" fill="#1CBCC4"/>
<circle cx="331.43" cy="1727.08" r="1.9" fill="#EF766F"/>
<circle cx="157.35" cy="1710.12" r="1.9" fill="#EF766F"/>
<circle cx="265.57" cy="1730.78" r="1.9" fill="#EF766F"/>
<circle cx="340.86" cy="1729.5" r="1.9" fill="#EF766F"/>
<circle cx="126.61" cy="1716.76" r="1.9" fill="#EF766F"/>
<circle cx="221.18" cy="1717.1" r="1.9" fill="#EF766F"/>
<circle cx="300.6" cy="1727.52" r="1.9" fill="#EF766F"/>
<circle cx="286.79" cy="1723.08" r="1.9" fill="#1CBCC4"/>
<circle cx="159.03" cy="1698.96" r="1.9" fill="#EF766F"/>
<circle cx="341.81" cy="1728.55" r="1.9" fill="#EF766F"/>
<circle cx="182.05" cy="1706.68" r="1.9" fill="#EF766F"/>
<circle cx="207.83" cy="1723.28" r="1.9" fill="#1CBCC4"/>
<circle cx="225.88" cy="1719.65" r="1.9" fill="#EF766F"/>
<circle cx="300.14" cy="1721.81" r="1.9" fill="#EF766F"/>
<circle cx="117.16" cy="1710.55" r="1.9" fill="#EF766F"/>
<circle cx="237.03" cy="1714.46" r="1.9" fill="#EF766F"/>
<circle cx="210.97" cy="1718.97" r="1.9" fill="#EF766F"/>
<circle cx="216.72" cy="1718.88" r="1.9" fill="#EF766F"/>
<circle cx="171.6" cy="1704.39" r="1.9" fill="#EF766F"/>
<circle cx="197.9" cy="1707.05" r="1.9" fill="#EF766F"/>
<circle cx="199.41" cy="1717.7" r="1.9" fill="#EF766F"/>
<circle cx="357.25" cy="1725.25" r="1.9" fill="#1CBCC4"/>
<circle cx="390.35" cy="1743.36" r="1.9" fill="#EF766F"/>
<circle cx="236.75" cy="1711.91" r="1.9" fill="#EF766F"/>
<circle cx="350.43" cy="1731.1" r="1.9" fill="#EF766F"/>
<circle cx="232.43" cy="1715.3" r="1.9" fill="#1CBCC4"/>
<circle cx="176.66" cy="1708.94" r="1.9" fill="#EF766F"/>
<circle cx="116.97" cy="1710.94" r="1.9" fill="#EF766F"/>
<circle cx="197.47" cy="1715.36" r="1.9" fill="#EF766F"/>
<circle cx="214.33" cy="1718.29" r="1.9" fill="#EF766F"/>
<circle cx="145.99" cy="1710.79" r="1.9" fill="#EF766F"/>
<circle cx="203.88" cy="1718.37" r="1.9" fill="#EF766F"/>
<circle cx="323.98" cy="1726.92" r="1.9" fill="#EF766F"/>
<circle cx="252.41" cy="1711.11" r="1.9" fill="#1CBCC4"/>
<circle cx="292.02" cy="1727.25" r="1.9" fill="#EF766F"/>
<circle cx="340" cy="1728.63" r="1.9" fill="#1CBCC4"/>
<circle cx="278.07" cy="1722.47" r="1.9" fill="#EF766F"/>
<circle cx="365.64" cy="1805.35" r="1.9" fill="#EF766F"/>
<circle cx="282.15" cy="1765.8" r="1.9" fill="#1CBCC4"/>
<circle cx="236.48" cy="1741.37" r="1.9" fill="#1CBCC4"/>
<circle cx="210.82" cy="1735.94" r="1.9" fill="#EF766F"/>
<circle cx="297.07" cy="1775.8" r="1.9" fill="#EF766F"/>
<circle cx="353.39" cy="1793.25" r="1.9" fill="#EF766F"/>
<circle cx="318.58" cy="1786.81" r="1.9" fill="#EF766F"/>
<circle cx="259.9" cy="1759.06" r="1.9" fill="#1CBCC4"/>
<circle cx="341.01" cy="1797.27" r="1.9" fill="#EF766F"/>
<circle cx="289.82" cy="1796.47" r="1.9" fill="#EF766F"/>
<circle cx="218.21" cy="1758.5" r="1.9" fill="#1CBCC4"/>
<circle cx="240.66" cy="1768.71" r="1.9" fill="#1CBCC4"/>
<circle cx="235.58" cy="1744.37" r="1.9" fill="#1CBCC4"/>
<circle cx="327.27" cy="1778.92" r="1.9" fill="#EF766F"/>
<circle cx="307.52" cy="1791.13" r="1.9" fill="#EF766F"/>
<circle cx="238.38" cy="1772.45" r="1.9" fill="#1CBCC4"/>
<circle cx="349.96" cy="1782.07" r="1.9" fill="#1CBCC4"/>
<circle cx="330.66" cy="1774.87" r="1.9" fill="#EF766F"/>
<circle cx="308.84" cy="1787.39" r="1.9" fill="#1CBCC4"/>
<circle cx="308.79" cy="1773.72" r="1.9" fill="#EF766F"/>
<circle cx="220.55" cy="1739.53" r="1.9" fill="#1CBCC4"/>
<circle cx="224.6" cy="1757.68" r="1.9" fill="#1CBCC4"/>
<circle cx="196.43" cy="1745.37" r="1.9" fill="#EF766F"/>
<circle cx="265.07" cy="1752.74" r="1.9" fill="#1CBCC4"/>
<circle cx="338.21" cy="1786.69" r="1.9" fill="#1CBCC4"/>
<circle cx="266.68" cy="1767.13" r="1.9" fill="#EF766F"/>
<circle cx="349.85" cy="1787.57" r="1.9" fill="#1CBCC4"/>
<circle cx="345.27" cy="1790.65" r="1.9" fill="#EF766F"/>
<circle cx="314.26" cy="1773.49" r="1.9" fill="#EF766F"/>
<circle cx="326.18" cy="1777.8" r="1.9" fill="#1CBCC4"/>
<circle cx="338.47" cy="1788.29" r="1.9" fill="#1CBCC4"/>
<circle cx="198.91" cy="1748.47" r="1.9" fill="#1CBCC4"/>
<circle cx="245.3" cy="1755.77" r="1.9" fill="#EF766F"/>
<circle cx="215.03" cy="1745.33" r="1.9" fill="#1CBCC4"/>
<circle cx="368.94" cy="1807.06" r="1.9" fill="#EF766F"/>
<circle cx="255.6" cy="1756.81" r="1.9" fill="#EF766F"/>
<circle cx="242.47" cy="1757.63" r="1.9" fill="#EF766F"/>
<circle cx="339.37" cy="1780.51" r="1.9" fill="#1CBCC4"/>
<circle cx="328.86" cy="1788.14" r="1.9" fill="#1CBCC4"/>
<circle cx="368.79" cy="1795.45" r="1.9" fill="#1CBCC4"/>
<circle cx="314.47" cy="1792.55" r="1.9" fill="#1CBCC4"/>
<circle cx="364.69" cy="1800.88" r="1.9" fill="#1CBCC4"/>
<circle cx="233.78" cy="1764.33" r="1.9" fill="#EF766F"/>
<circle cx="368.21" cy="1794.77" r="1.9" fill="#1CBCC4"/>
<circle cx="347.27" cy="1796.75" r="1.9" fill="#EF766F"/>
<circle cx="368.88" cy="1805.58" r="1.9" fill="#1CBCC4"/>
<circle cx="347.78" cy="1795.42" r="1.9" fill="#1CBCC4"/>
<circle cx="286.16" cy="1771.06" r="1.9" fill="#EF766F"/>
<circle cx="355.52" cy="1793.41" r="1.9" fill="#1CBCC4"/>
<circle cx="256.92" cy="1752.92" r="1.9" fill="#EF766F"/>
<circle cx="243.22" cy="1773.06" r="1.9" fill="#EF766F"/>
<circle cx="262.16" cy="1764.67" r="1.9" fill="#1CBCC4"/>
<circle cx="364.72" cy="1797.83" r="1.9" fill="#EF766F"/>
<circle cx="290.96" cy="1767.12" r="1.9" fill="#EF766F"/>
<circle cx="238.42" cy="1756.81" r="1.9" fill="#EF766F"/>
<circle cx="268.02" cy="1762.57" r="1.9" fill="#1CBCC4"/>
<circle cx="226.82" cy="1750.03" r="1.9" fill="#1CBCC4"/>
<circle cx="319.94" cy="1795.18" r="1.9" fill="#1CBCC4"/>
<circle cx="251.54" cy="1772.09" r="1.9" fill="#1CBCC4"/>
<circle cx="297.86" cy="1777.06" r="1.9" fill="#1CBCC4"/>
<circle cx="225.65" cy="1745.95" r="1.9" fill="#EF766F"/>
<circle cx="206.7" cy="1747.07" r="1.9" fill="#1CBCC4"/>
<circle cx="203.7" cy="1748.48" r="1.9" fill="#EF766F"/>
<circle cx="223.62" cy="1744.67" r="1.9" fill="#1CBCC4"/>
<circle cx="212.01" cy="1752.09" r="1.9" fill="#EF766F"/>
<circle cx="216.02" cy="1751.01" r="1.9" fill="#1CBCC4"/>
<circle cx="207.26" cy="1743.79" r="1.9" fill="#EF766F"/>
<circle cx="216.49" cy="1742.25" r="1.9" fill="#1CBCC4"/>
<circle cx="225.67" cy="1746.46" r="1.9" fill="#1CBCC4"/>
<circle cx="221.33" cy="1754.19" r="1.9" fill="#EF766F"/>
<circle cx="223.5" cy="1749.49" r="1.9" fill="#EF766F"/>
<circle cx="218.99" cy="1742.92" r="1.9" fill="#EF766F"/>
<circle cx="219.02" cy="1752.21" r="1.9" fill="#1CBCC4"/>
<circle cx="209.51" cy="1743.01" r="1.9" fill="#EF766F"/>
<circle cx="148.38" cy="1718.63" r="1.9" fill="#1CBCC4"/>
<circle cx="146.45" cy="1721.12" r="1.9" fill="#EF766F"/>
<circle cx="128.67" cy="1724.73" r="1.9" fill="#EF766F"/>
<circle cx="142.85" cy="1722.65" r="1.9" fill="#1CBCC4"/>
<circle cx="135.84" cy="1706.27" r="1.9" fill="#1CBCC4"/>
<circle cx="130.29" cy="1707.92" r="1.9" fill="#EF766F"/>
<circle cx="128.08" cy="1706.6" r="1.9" fill="#EF766F"/>
<circle cx="141.97" cy="1722.07" r="1.9" fill="#EF766F"/>
<circle cx="133.49" cy="1713.16" r="1.9" fill="#EF766F"/>
<circle cx="108.96" cy="1713.5" r="1.9" fill="#EF766F"/>
<circle cx="87.7" cy="1758.08" r="1.9" fill="#1CBCC4"/>
<circle cx="84.69" cy="1770.29" r="1.9" fill="#1CBCC4"/>
<circle cx="77.72" cy="1745" r="1.9" fill="#EF766F"/>
<circle cx="86.43" cy="1742.75" r="1.9" fill="#1CBCC4"/>
<circle cx="81.64" cy="1743.57" r="1.9" fill="#1CBCC4"/>
<circle cx="87.54" cy="1773.67" r="1.9" fill="#1CBCC4"/>
<circle cx="88.84" cy="1758.45" r="1.9" fill="#1CBCC4"/>
<circle cx="84.26" cy="1741.98" r="1.9" fill="#EF766F"/>
<circle cx="84.63" cy="1778.54" r="1.9" fill="#1CBCC4"/>
<circle cx="154.99" cy="1849.21" r="1.9" fill="#EF766F"/>
<circle cx="153.75" cy="1847.84" r="1.9" fill="#EF766F"/>
<circle cx="137.83" cy="1858.1" r="1.9" fill="#EF766F"/>
<circle cx="153.52" cy="1861.7" r="1.9" fill="#1CBCC4"/>
<circle cx="144.01" cy="1850.59" r="1.9" fill="#EF766F"/>
<circle cx="154.83" cy="1860.28" r="1.9" fill="#1CBCC4"/>
<circle cx="133.94" cy="1850.34" r="1.9" fill="#EF766F"/>
<circle cx="151.6" cy="1853.36" r="1.9" fill="#1CBCC4"/>
<circle cx="156.06" cy="1854.15" r="1.9" fill="#EF766F"/>
<circle cx="137.2" cy="1851.79" r="1.9" fill="#1CBCC4"/>
<circle cx="142.97" cy="1854.49" r="1.9" fill="#EF766F"/>
<circle cx="139.06" cy="1858.78" r="1.9" fill="#EF766F"/>
<circle cx="142.47" cy="1847.06" r="1.9" fill="#EF766F"/>
<circle cx="150.8" cy="1846.44" r="1.9" fill="#1CBCC4"/>
<circle cx="154.24" cy="1852.61" r="1.9" fill="#1CBCC4"/>
<circle cx="148.77" cy="1856.77" r="1.9" fill="#EF766F"/>
<circle cx="152.91" cy="1862.49" r="1.9" fill="#1CBCC4"/>
<circle cx="159.12" cy="1848.77" r="1.9" fill="#EF766F"/>
<circle cx="157.97" cy="1857.38" r="1.9" fill="#EF766F"/>
<circle cx="166.39" cy="1852.91" r="1.9" fill="#1CBCC4"/>
<circle cx="146.08" cy="1844.74" r="1.9" fill="#EF766F"/>
<circle cx="157.43" cy="1855.32" r="1.9" fill="#1CBCC4"/>
<circle cx="158.23" cy="1855.08" r="1.9" fill="#1CBCC4"/>
<circle cx="155.68" cy="1854.2" r="1.9" fill="#EF766F"/>
<circle cx="156.92" cy="1851.56" r="1.9" fill="#1CBCC4"/>
<circle cx="138.66" cy="1853.23" r="1.9" fill="#EF766F"/>
<circle cx="157.22" cy="1846.4" r="1.9" fill="#EF766F"/>
<circle cx="163.89" cy="1851.97" r="1.9" fill="#1CBCC4"/>
<circle cx="138.57" cy="1850.11" r="1.9" fill="#EF766F"/>
<circle cx="136.88" cy="1853.78" r="1.9" fill="#EF766F"/>
<circle cx="159.94" cy="1854.99" r="1.9" fill="#EF766F"/>
<circle cx="153.36" cy="1848.42" r="1.9" fill="#EF766F"/>
<circle cx="134.58" cy="1855.96" r="1.9" fill="#EF766F"/>
<circle cx="138.42" cy="1847.64" r="1.9" fill="#EF766F"/>
<circle cx="153.45" cy="1848.41" r="1.9" fill="#1CBCC4"/>
<circle cx="228.95" cy="1861.99" r="1.9" fill="#EF766F"/>
<circle cx="198.72" cy="1863" r="1.9" fill="#1CBCC4"/>
<circle cx="197.04" cy="1847.9" r="1.9" fill="#EF766F"/>
<circle cx="196.68" cy="1851.79" r="1.9" fill="#1CBCC4"/>
<circle cx="236.82" cy="1867.93" r="1.9" fill="#EF766F"/>
<circle cx="183.31" cy="1841.96" r="1.9" fill="#1CBCC4"/>
<circle cx="209.7" cy="1856.61" r="1.9" fill="#1CBCC4"/>
<circle cx="178.58" cy="1852.76" r="1.9" fill="#EF766F"/>
<circle cx="220" cy="1860.73" r="1.9" fill="#1CBCC4"/>
<circle cx="198.46" cy="1854.85" r="1.9" fill="#EF766F"/>
<circle cx="179.71" cy="1850.67" r="1.9" fill="#1CBCC4"/>
<circle cx="183.95" cy="1851.19" r="1.9" fill="#1CBCC4"/>
<circle cx="189.26" cy="1843.4" r="1.9" fill="#EF766F"/>
<circle cx="205.5" cy="1853.34" r="1.9" fill="#1CBCC4"/>
<circle cx="181.61" cy="1844.95" r="1.9" fill="#1CBCC4"/>
<circle cx="213.52" cy="1863.34" r="1.9" fill="#EF766F"/>
<circle cx="178.88" cy="1831.18" r="1.9" fill="#1CBCC4"/>
<circle cx="208.34" cy="1847.84" r="1.9" fill="#EF766F"/>
<circle cx="229.02" cy="1867.62" r="1.9" fill="#1CBCC4"/>
<circle cx="210.06" cy="1873.5" r="1.9" fill="#1CBCC4"/>
<circle cx="226.8" cy="1873.44" r="1.9" fill="#1CBCC4"/>
<circle cx="178.43" cy="1836.79" r="1.9" fill="#1CBCC4"/>
<circle cx="207.18" cy="1863.11" r="1.9" fill="#EF766F"/>
<circle cx="204.81" cy="1857.01" r="1.9" fill="#1CBCC4"/>
<circle cx="203.39" cy="1863.36" r="1.9" fill="#1CBCC4"/>
<circle cx="206.24" cy="1848.4" r="1.9" fill="#1CBCC4"/>
<circle cx="189.53" cy="1865.38" r="1.9" fill="#1CBCC4"/>
<circle cx="185.71" cy="1846.78" r="1.9" fill="#1CBCC4"/>
<circle cx="192.51" cy="1837.11" r="1.9" fill="#1CBCC4"/>
<circle cx="222.74" cy="1862.83" r="1.9" fill="#EF766F"/>
<circle cx="194.45" cy="1840.86" r="1.9" fill="#1CBCC4"/>
<circle cx="221.94" cy="1861.85" r="1.9" fill="#1CBCC4"/>
<circle cx="181.79" cy="1848.55" r="1.9" fill="#1CBCC4"/>
<circle cx="209.51" cy="1854.64" r="1.9" fill="#EF766F"/>
<circle cx="243.88" cy="1867.58" r="1.9" fill="#EF766F"/>
<circle cx="212.6" cy="1861.98" r="1.9" fill="#1CBCC4"/>
<circle cx="208.43" cy="1858.41" r="1.9" fill="#1CBCC4"/>
<circle cx="192.93" cy="1840.92" r="1.9" fill="#1CBCC4"/>
<circle cx="198.4" cy="1860.05" r="1.9" fill="#EF766F"/>
<circle cx="225.83" cy="1850.7" r="1.9" fill="#1CBCC4"/>
<circle cx="254.69" cy="1884.05" r="1.9" fill="#1CBCC4"/>
<circle cx="249.29" cy="1888.14" r="1.9" fill="#1CBCC4"/>
<circle cx="237.74" cy="1883.88" r="1.9" fill="#EF766F"/>
<circle cx="260.86" cy="1884.78" r="1.9" fill="#1CBCC4"/>
<circle cx="230.01" cy="1877.02" r="1.9" fill="#EF766F"/>
<circle cx="258.51" cy="1899.07" r="1.9" fill="#1CBCC4"/>
<circle cx="230.58" cy="1879.34" r="1.9" fill="#1CBCC4"/>
<circle cx="236.92" cy="1888.78" r="1.9" fill="#1CBCC4"/>
<circle cx="227.7" cy="1884" r="1.9" fill="#1CBCC4"/>
<circle cx="240.65" cy="1897.06" r="1.9" fill="#1CBCC4"/>
<circle cx="265.03" cy="1883.21" r="1.9" fill="#1CBCC4"/>
<circle cx="248.16" cy="1899.57" r="1.9" fill="#1CBCC4"/>
<circle cx="266.1" cy="1891.24" r="1.9" fill="#1CBCC4"/>
<circle cx="250.06" cy="1897.37" r="1.9" fill="#1CBCC4"/>
<circle cx="245.97" cy="1885.81" r="1.9" fill="#1CBCC4"/>
<circle cx="233.75" cy="1876.8" r="1.9" fill="#1CBCC4"/>
<circle cx="246.48" cy="1893.25" r="1.9" fill="#1CBCC4"/>
<circle cx="250.54" cy="1892.21" r="1.9" fill="#1CBCC4"/>
<circle cx="238.21" cy="1893.94" r="1.9" fill="#1CBCC4"/>
<circle cx="256.94" cy="1881.01" r="1.9" fill="#1CBCC4"/>
<circle cx="242.95" cy="1882.64" r="1.9" fill="#1CBCC4"/>
<circle cx="233.25" cy="1880.63" r="1.9" fill="#1CBCC4"/>
<circle cx="239.36" cy="1890.66" r="1.9" fill="#1CBCC4"/>
<circle cx="261.75" cy="1896.48" r="1.9" fill="#1CBCC4"/>
<circle cx="265.87" cy="1889.72" r="1.9" fill="#1CBCC4"/>
<circle cx="242.39" cy="1881.14" r="1.9" fill="#1CBCC4"/>
<circle cx="260.67" cy="1879.21" r="1.9" fill="#1CBCC4"/>
<circle cx="260.64" cy="1894.22" r="1.9" fill="#1CBCC4"/>
<circle cx="234.95" cy="1886.92" r="1.9" fill="#1CBCC4"/>
<circle cx="246.37" cy="1880.69" r="1.9" fill="#1CBCC4"/>
<circle cx="242.29" cy="1878.81" r="1.9" fill="#1CBCC4"/>
<circle cx="238.25" cy="1890.66" r="1.9" fill="#1CBCC4"/>
<circle cx="257.16" cy="1878.75" r="1.9" fill="#1CBCC4"/>
<circle cx="240.81" cy="1876.79" r="1.9" fill="#1CBCC4"/>
<circle cx="226.69" cy="1882.22" r="1.9" fill="#1CBCC4"/>
<circle cx="228.22" cy="1888.11" r="1.9" fill="#1CBCC4"/>
<circle cx="247.97" cy="1881.8" r="1.9" fill="#1CBCC4"/>
<circle cx="248.84" cy="1884.1" r="1.9" fill="#1CBCC4"/>
<circle cx="240.1" cy="1893.95" r="1.9" fill="#1CBCC4"/>
<circle cx="251.01" cy="1878.78" r="1.9" fill="#1CBCC4"/>
<circle cx="247.32" cy="1893.35" r="1.9" fill="#1CBCC4"/>
<circle cx="232.1" cy="1886.83" r="1.9" fill="#1CBCC4"/>
<circle cx="228.77" cy="1889.19" r="1.9" fill="#1CBCC4"/>
<circle cx="258.82" cy="1890.72" r="1.9" fill="#1CBCC4"/>
<circle cx="262.79" cy="1892.42" r="1.9" fill="#EF766F"/>
<circle cx="257.38" cy="1879.14" r="1.9" fill="#1CBCC4"/>
<circle cx="242.11" cy="1889.8" r="1.9" fill="#1CBCC4"/>
<circle cx="234.66" cy="1883.41" r="1.9" fill="#1CBCC4"/>
<circle cx="258.41" cy="1881.07" r="1.9" fill="#1CBCC4"/>
<circle cx="250.09" cy="1894.13" r="1.9" fill="#1CBCC4"/>
<circle cx="242.93" cy="1883.1" r="1.9" fill="#1CBCC4"/>
<circle cx="247.21" cy="1880.91" r="1.9" fill="#1CBCC4"/>
<circle cx="262.3" cy="1891.29" r="1.9" fill="#1CBCC4"/>
<circle cx="250.89" cy="1899.61" r="1.9" fill="#1CBCC4"/>
<circle cx="248.06" cy="1884.91" r="1.9" fill="#1CBCC4"/>
<circle cx="259.42" cy="1890.75" r="1.9" fill="#1CBCC4"/>
<circle cx="260.04" cy="1894.56" r="1.9" fill="#1CBCC4"/>
<circle cx="233.43" cy="1883.59" r="1.9" fill="#1CBCC4"/>
<circle cx="239.2" cy="1876.47" r="1.9" fill="#1CBCC4"/>
<circle cx="252.07" cy="1892.84" r="1.9" fill="#1CBCC4"/>
<circle cx="244.03" cy="1885.03" r="1.9" fill="#EF766F"/>
<circle cx="243.89" cy="1892.81" r="1.9" fill="#1CBCC4"/>
<circle cx="227.15" cy="1887.93" r="1.9" fill="#1CBCC4"/>
<circle cx="229.08" cy="1888.77" r="1.9" fill="#1CBCC4"/>
<circle cx="251.26" cy="1891.82" r="1.9" fill="#1CBCC4"/>
<circle cx="259.52" cy="1879.89" r="1.9" fill="#1CBCC4"/>
<circle cx="261.11" cy="1894.27" r="1.9" fill="#1CBCC4"/>
<circle cx="259.01" cy="1899.44" r="1.9" fill="#1CBCC4"/>
<circle cx="234.29" cy="1878.75" r="1.9" fill="#EF766F"/>
<circle cx="231.01" cy="1889.01" r="1.9" fill="#1CBCC4"/>
<circle cx="252.6" cy="1877.33" r="1.9" fill="#1CBCC4"/>
<circle cx="259.34" cy="1897.29" r="1.9" fill="#1CBCC4"/>
<circle cx="245.74" cy="1885.21" r="1.9" fill="#1CBCC4"/>
<circle cx="247.76" cy="1899.07" r="1.9" fill="#1CBCC4"/>
<circle cx="264.11" cy="1887.45" r="1.9" fill="#1CBCC4"/>
<circle cx="249" cy="1899.91" r="1.9" fill="#1CBCC4"/>
<circle cx="260.26" cy="1881.63" r="1.9" fill="#1CBCC4"/>
<circle cx="236.45" cy="1878.11" r="1.9" fill="#1CBCC4"/>
<circle cx="250.42" cy="1883.09" r="1.9" fill="#1CBCC4"/>
<circle cx="255.53" cy="1898.34" r="1.9" fill="#1CBCC4"/>
<circle cx="237.95" cy="1883.57" r="1.9" fill="#1CBCC4"/>
<circle cx="247.95" cy="1875.15" r="1.9" fill="#1CBCC4"/>
<circle cx="251.15" cy="1889.25" r="1.9" fill="#1CBCC4"/>
<circle cx="249.29" cy="1882.35" r="1.9" fill="#1CBCC4"/>
<circle cx="247.18" cy="1883.46" r="1.9" fill="#1CBCC4"/>
<circle cx="236.76" cy="1887.14" r="1.9" fill="#1CBCC4"/>
<circle cx="233.79" cy="1886" r="1.9" fill="#1CBCC4"/>
<circle cx="245.54" cy="1897.7" r="1.9" fill="#EF766F"/>
<circle cx="242.57" cy="1879.53" r="1.9" fill="#1CBCC4"/>
<circle cx="254.17" cy="1885.89" r="1.9" fill="#EF766F"/>
<circle cx="249.42" cy="1883.36" r="1.9" fill="#1CBCC4"/>
<circle cx="268.21" cy="1889.46" r="1.9" fill="#1CBCC4"/>
<circle cx="244.87" cy="1890.4" r="1.9" fill="#1CBCC4"/>
<circle cx="238.93" cy="1889.63" r="1.9" fill="#1CBCC4"/>
<circle cx="251.05" cy="1877.09" r="1.9" fill="#1CBCC4"/>
<circle cx="258.1" cy="1893.59" r="1.9" fill="#1CBCC4"/>
<circle cx="245.54" cy="1880.93" r="1.9" fill="#EF766F"/>
<circle cx="260.57" cy="1880.41" r="1.9" fill="#1CBCC4"/>
<circle cx="234.45" cy="1886.19" r="1.9" fill="#1CBCC4"/>
<circle cx="243.04" cy="1876.26" r="1.9" fill="#1CBCC4"/>
<circle cx="249.14" cy="1896.15" r="1.9" fill="#1CBCC4"/>
<circle cx="237.84" cy="1896.18" r="1.9" fill="#1CBCC4"/>
<circle cx="248.5" cy="1874.34" r="1.9" fill="#1CBCC4"/>
<circle cx="231.56" cy="1883.09" r="1.9" fill="#1CBCC4"/>
<circle cx="251.81" cy="1883.22" r="1.9" fill="#1CBCC4"/>
<circle cx="261.85" cy="1889.6" r="1.9" fill="#1CBCC4"/>
<circle cx="255.16" cy="1878.29" r="1.9" fill="#EF766F"/>
<circle cx="246.08" cy="1875.25" r="1.9" fill="#1CBCC4"/>
<circle cx="235.85" cy="1875.35" r="1.9" fill="#1CBCC4"/>
<circle cx="233.72" cy="1875.88" r="1.9" fill="#1CBCC4"/>
<circle cx="263.49" cy="1889.6" r="1.9" fill="#EF766F"/>
<circle cx="267.76" cy="1900.9" r="1.9" fill="#1CBCC4"/>
<circle cx="276.29" cy="1902.73" r="1.9" fill="#1CBCC4"/>
<circle cx="281.88" cy="1903.98" r="1.9" fill="#EF766F"/>
<circle cx="284.09" cy="1904.43" r="1.9" fill="#1CBCC4"/>
<circle cx="273.23" cy="1899.01" r="1.9" fill="#1CBCC4"/>
<circle cx="275.42" cy="1906.59" r="1.9" fill="#EF766F"/>
<circle cx="278" cy="1907.01" r="1.9" fill="#1CBCC4"/>
<circle cx="278.71" cy="1903.89" r="1.9" fill="#1CBCC4"/>
<circle cx="279.32" cy="1905.7" r="1.9" fill="#EF766F"/>
<circle cx="282.48" cy="1899.53" r="1.9" fill="#1CBCC4"/>
<circle cx="279.72" cy="1901.72" r="1.9" fill="#1CBCC4"/>
<circle cx="283.22" cy="1906.27" r="1.9" fill="#1CBCC4"/>
<circle cx="279.16" cy="1902" r="1.9" fill="#1CBCC4"/>
<circle cx="271.49" cy="1895.91" r="1.9" fill="#1CBCC4"/>
<circle cx="355.43" cy="1907.84" r="1.9" fill="#1CBCC4"/>
<circle cx="349.81" cy="1911.88" r="1.9" fill="#1CBCC4"/>
<circle cx="364.8" cy="1909.31" r="1.9" fill="#1CBCC4"/>
<circle cx="336.86" cy="1908.69" r="1.9" fill="#1CBCC4"/>
<circle cx="348.9" cy="1910.6" r="1.9" fill="#1CBCC4"/>
<circle cx="339.9" cy="1906.49" r="1.9" fill="#1CBCC4"/>
<circle cx="340.32" cy="1910.04" r="1.9" fill="#1CBCC4"/>
<circle cx="330.44" cy="1905.81" r="1.9" fill="#1CBCC4"/>
<circle cx="361.01" cy="1904.32" r="1.9" fill="#1CBCC4"/>
<circle cx="338.4" cy="1905.84" r="1.9" fill="#1CBCC4"/>
<circle cx="330.04" cy="1906.49" r="1.9" fill="#1CBCC4"/>
<circle cx="350.15" cy="1911.8" r="1.9" fill="#1CBCC4"/>
<circle cx="367.55" cy="1910.84" r="1.9" fill="#1CBCC4"/>
<circle cx="349.14" cy="1911.23" r="1.9" fill="#1CBCC4"/>
<circle cx="356.23" cy="1912" r="1.9" fill="#1CBCC4"/>
<circle cx="347.79" cy="1909.29" r="1.9" fill="#1CBCC4"/>
<circle cx="353.86" cy="1909.04" r="1.9" fill="#1CBCC4"/>
<circle cx="341.22" cy="1904.2" r="1.9" fill="#1CBCC4"/>
<circle cx="329.48" cy="1905.96" r="1.9" fill="#EF766F"/>
<circle cx="355.68" cy="1904.87" r="1.9" fill="#1CBCC4"/>
<circle cx="355.01" cy="1911.43" r="1.9" fill="#EF766F"/>
<circle cx="347.45" cy="1900.78" r="1.9" fill="#1CBCC4"/>
<circle cx="359.65" cy="1905.1" r="1.9" fill="#1CBCC4"/>
<circle cx="332.38" cy="1901.67" r="1.9" fill="#1CBCC4"/>
<circle cx="362.79" cy="1909.72" r="1.9" fill="#1CBCC4"/>
<circle cx="332.21" cy="1904.81" r="1.9" fill="#1CBCC4"/>
<circle cx="347.58" cy="1906.32" r="1.9" fill="#1CBCC4"/>
<circle cx="342.28" cy="1903.52" r="1.9" fill="#1CBCC4"/>
<circle cx="343.95" cy="1902" r="1.9" fill="#1CBCC4"/>
<circle cx="366.15" cy="1906.67" r="1.9" fill="#1CBCC4"/>
<circle cx="354.16" cy="1903.42" r="1.9" fill="#1CBCC4"/>
<circle cx="330.17" cy="1903.71" r="1.9" fill="#1CBCC4"/>
<circle cx="342.58" cy="1901.71" r="1.9" fill="#1CBCC4"/>
<circle cx="337.73" cy="1902.08" r="1.9" fill="#1CBCC4"/>
<circle cx="358.51" cy="1911.42" r="1.9" fill="#1CBCC4"/>
<circle cx="341.07" cy="1905.32" r="1.9" fill="#1CBCC4"/>
<circle cx="347.1" cy="1899.8" r="1.9" fill="#1CBCC4"/>
<circle cx="368.18" cy="1904.1" r="1.9" fill="#1CBCC4"/>
<circle cx="347.4" cy="1902.41" r="1.9" fill="#1CBCC4"/>
<circle cx="360" cy="1909.72" r="1.9" fill="#1CBCC4"/>
<circle cx="372.11" cy="1909.57" r="1.9" fill="#1CBCC4"/>
<circle cx="352.15" cy="1906.02" r="1.9" fill="#1CBCC4"/>
<circle cx="365.42" cy="1904.24" r="1.9" fill="#EF766F"/>
<circle cx="361.33" cy="1908.94" r="1.9" fill="#1CBCC4"/>
<circle cx="340.05" cy="1908.4" r="1.9" fill="#1CBCC4"/>
<circle cx="350.82" cy="1911.11" r="1.9" fill="#1CBCC4"/>
<circle cx="367.19" cy="1903.59" r="1.9" fill="#1CBCC4"/>
<circle cx="328.45" cy="1902.92" r="1.9" fill="#1CBCC4"/>
<circle cx="365.21" cy="1907.08" r="1.9" fill="#1CBCC4"/>
<circle cx="363.25" cy="1904.67" r="1.9" fill="#1CBCC4"/>
<circle cx="354.13" cy="1901.86" r="1.9" fill="#1CBCC4"/>
<circle cx="361.8" cy="1905.91" r="1.9" fill="#EF766F"/>
<circle cx="362.4" cy="1902.02" r="1.9" fill="#1CBCC4"/>
<circle cx="334.04" cy="1908.4" r="1.9" fill="#1CBCC4"/>
<circle cx="342.8" cy="1908.87" r="1.9" fill="#1CBCC4"/>
<circle cx="3" cy="1595" r="1.9" fill="#EF766F"/>
<circle cx="665.6" cy="1621" r="1.9" fill="#EF766F"/>
<circle cx="389" cy="1673" r="1.9" fill="#EF766F"/>
<circle cx="405" cy="1905" r="1.9" fill="#EF766F"/>
<circle cx="405" cy="1850" r="1.9" fill="#EF766F"/>
<circle cx="532" cy="1704" r="1.9" fill="#1CBCC4"/>
<circle cx="528" cy="1694" r="1.9" fill="#1CBCC4"/>
<circle cx="1413.39" cy="1492.74" r="1.9" fill="#D4962E"/>
<circle cx="1426.23" cy="1499.66" r="1.9" fill="#D4962E"/>
<circle cx="1397.04" cy="1486.99" r="1.9" fill="#D4962E"/>
<circle cx="1399.51" cy="1484.39" r="1.9" fill="#D4962E"/>
<circle cx="1403.36" cy="1487.85" r="1.9" fill="#D4962E"/>
<circle cx="1407.89" cy="1489.98" r="1.9" fill="#D4962E"/>
<circle cx="1419.89" cy="1494.12" r="1.9" fill="#D4962E"/>
<circle cx="1414.35" cy="1490.3" r="1.9" fill="#D4962E"/>
<circle cx="1410.06" cy="1492.89" r="1.9" fill="#D4962E"/>
<circle cx="1415.8" cy="1491.59" r="1.9" fill="#D4962E"/>
<circle cx="1393.13" cy="1488.26" r="1.9" fill="#1CB5E6"/>
<circle cx="1417.03" cy="1494.39" r="1.9" fill="#D4962E"/>
<circle cx="1394.38" cy="1490.48" r="1.9" fill="#D4962E"/>
<circle cx="1406.52" cy="1490.08" r="1.9" fill="#D4962E"/>
<circle cx="1422.43" cy="1497.29" r="1.9" fill="#D4962E"/>
<circle cx="1430.07" cy="1500.02" r="1.9" fill="#D4962E"/>
<circle cx="1447.89" cy="1503.79" r="1.9" fill="#D4962E"/>
<circle cx="1416.07" cy="1490.8" r="1.9" fill="#1CB5E6"/>
<circle cx="1403.89" cy="1492.34" r="1.9" fill="#D4962E"/>
<circle cx="1398.39" cy="1487.11" r="1.9" fill="#D4962E"/>
<circle cx="1408.2" cy="1494.02" r="1.9" fill="#D4962E"/>
<circle cx="1441.8" cy="1504.29" r="1.9" fill="#D4962E"/>
<circle cx="1407.34" cy="1492.79" r="1.9" fill="#D4962E"/>
<circle cx="1448.14" cy="1503.13" r="1.9" fill="#D4962E"/>
<circle cx="1395.63" cy="1484.55" r="1.9" fill="#D4962E"/>
<circle cx="1437.49" cy="1501.4" r="1.9" fill="#D4962E"/>
<circle cx="1396.24" cy="1488.12" r="1.9" fill="#D4962E"/>
<circle cx="1409.04" cy="1489.77" r="1.9" fill="#D4962E"/>
<circle cx="1418.39" cy="1494.71" r="1.9" fill="#D4962E"/>
<circle cx="1396.72" cy="1490.23" r="1.9" fill="#D4962E"/>
<circle cx="1430.3" cy="1499.05" r="1.9" fill="#D4962E"/>
<circle cx="1442.28" cy="1499.25" r="1.9" fill="#D4962E"/>
<circle cx="1419.09" cy="1493.35" r="1.9" fill="#D4962E"/>
<circle cx="1422.57" cy="1492.28" r="1.9" fill="#D4962E"/>
<circle cx="1438.72" cy="1500.77" r="1.9" fill="#1CB5E6"/>
<circle cx="1438.52" cy="1505.09" r="1.9" fill="#D4962E"/>
<circle cx="1425.48" cy="1500.02" r="1.9" fill="#D4962E"/>
<circle cx="1432.38" cy="1498.36" r="1.9" fill="#D4962E"/>
<circle cx="1431.88" cy="1499.47" r="1.9" fill="#D4962E"/>
<circle cx="1437.3" cy="1501.33" r="1.9" fill="#D4962E"/>
<circle cx="1428.89" cy="1499.8" r="1.9" fill="#D4962E"/>
<circle cx="1391.69" cy="1487.12" r="1.9" fill="#D4962E"/>
<circle cx="1442.42" cy="1502.22" r="1.9" fill="#D4962E"/>
<circle cx="1430.46" cy="1501.1" r="1.9" fill="#1CB5E6"/>
<circle cx="1440.14" cy="1505.28" r="1.9" fill="#D4962E"/>
<circle cx="1422.13" cy="1492.1" r="1.9" fill="#1CB5E6"/>
<circle cx="1408.74" cy="1492.28" r="1.9" fill="#D4962E"/>
<circle cx="1413.8" cy="1491.86" r="1.9" fill="#D4962E"/>
<circle cx="1447.21" cy="1505.86" r="1.9" fill="#1CB5E6"/>
<circle cx="1393.68" cy="1482.44" r="1.9" fill="#D4962E"/>
<circle cx="1394.53" cy="1486.1" r="1.9" fill="#D4962E"/>
<circle cx="1405.83" cy="1489.94" r="1.9" fill="#D4962E"/>
<circle cx="1425.68" cy="1495.34" r="1.9" fill="#D4962E"/>
<circle cx="1402.05" cy="1488.78" r="1.9" fill="#D4962E"/>
<circle cx="1433.25" cy="1501.52" r="1.9" fill="#D4962E"/>
<circle cx="1449.47" cy="1505.91" r="1.9" fill="#6F94CE"/>
<circle cx="1463.92" cy="1513.09" r="1.9" fill="#6F94CE"/>
<circle cx="1447.41" cy="1504.59" r="1.9" fill="#6F94CE"/>
<circle cx="1461.22" cy="1507.23" r="1.9" fill="#6F94CE"/>
<circle cx="1443.4" cy="1501.93" r="1.9" fill="#6F94CE"/>
<circle cx="1447.75" cy="1502.28" r="1.9" fill="#6F94CE"/>
<circle cx="1456.48" cy="1513.29" r="1.9" fill="#6F94CE"/>
<circle cx="1439.1" cy="1504.48" r="1.9" fill="#6F94CE"/>
<circle cx="1439.89" cy="1502.71" r="1.9" fill="#6F94CE"/>
<circle cx="1447.25" cy="1505.16" r="1.9" fill="#6F94CE"/>
<circle cx="1457.68" cy="1507.45" r="1.9" fill="#6F94CE"/>
<circle cx="1462.75" cy="1512.12" r="1.9" fill="#6F94CE"/>
<circle cx="1455.24" cy="1508.07" r="1.9" fill="#6F94CE"/>
<circle cx="1444.21" cy="1507.9" r="1.9" fill="#6F94CE"/>
<circle cx="1461.33" cy="1510.27" r="1.9" fill="#6F94CE"/>
<circle cx="1449.68" cy="1507.78" r="1.9" fill="#D4962E"/>
<circle cx="1449.05" cy="1509.33" r="1.9" fill="#6F94CE"/>
<circle cx="1457.41" cy="1510.02" r="1.9" fill="#D4962E"/>
<circle cx="1460.94" cy="1513.11" r="1.9" fill="#6F94CE"/>
<circle cx="1460.05" cy="1509.28" r="1.9" fill="#6F94CE"/>
<circle cx="1454.58" cy="1508.18" r="1.9" fill="#6F94CE"/>
<circle cx="1444.01" cy="1507.16" r="1.9" fill="#6F94CE"/>
<circle cx="1361.91" cy="1740.59" r="1.9" fill="#2BB89A"/>
<circle cx="1348.51" cy="1748.2" r="1.9" fill="#2BB89A"/>
<circle cx="1339.34" cy="1754.93" r="1.9" fill="#2BB89A"/>
<circle cx="1308.23" cy="1741.88" r="1.9" fill="#2BB89A"/>
<circle cx="1347.59" cy="1784.29" r="1.9" fill="#2BB89A"/>
<circle cx="1313.85" cy="1774.69" r="1.9" fill="#96AE3E"/>
<circle cx="1325.69" cy="1750.08" r="1.9" fill="#2BB89A"/>
<circle cx="1305.06" cy="1743.72" r="1.9" fill="#2BB89A"/>
<circle cx="1335.43" cy="1779.54" r="1.9" fill="#2BB89A"/>
<circle cx="1310.49" cy="1770.88" r="1.9" fill="#96AE3E"/>
<circle cx="1301.53" cy="1759.45" r="1.9" fill="#2BB89A"/>
<circle cx="1369.08" cy="1746.29" r="1.9" fill="#2BB89A"/>
<circle cx="1292.28" cy="1761.41" r="1.9" fill="#2BB89A"/>
<circle cx="1306.81" cy="1740.57" r="1.9" fill="#2BB89A"/>
<circle cx="1398.37" cy="1765.3" r="1.9" fill="#2BB89A"/>
<circle cx="1342.1" cy="1763.58" r="1.9" fill="#2BB89A"/>
<circle cx="1387.45" cy="1747.43" r="1.9" fill="#2BB89A"/>
<circle cx="1336.65" cy="1743.82" r="1.9" fill="#2BB89A"/>
<circle cx="1379.79" cy="1778.28" r="1.9" fill="#2BB89A"/>
<circle cx="1334.44" cy="1767.99" r="1.9" fill="#96AE3E"/>
<circle cx="1382.49" cy="1751.63" r="1.9" fill="#2BB89A"/>
<circle cx="1376.48" cy="1784.62" r="1.9" fill="#2BB89A"/>
<circle cx="1388.88" cy="1778.48" r="1.9" fill="#2BB89A"/>
<circle cx="1333.94" cy="1775.35" r="1.9" fill="#2BB89A"/>
<circle cx="1344.96" cy="1733.43" r="1.9" fill="#2BB89A"/>
<circle cx="1361.73" cy="1748.24" r="1.9" fill="#2BB89A"/>
<circle cx="1326.42" cy="1770.91" r="1.9" fill="#2BB89A"/>
<circle cx="1361.39" cy="1776.47" r="1.9" fill="#96AE3E"/>
<circle cx="1290.25" cy="1765.07" r="1.9" fill="#2BB89A"/>
<circle cx="1336.97" cy="1735.13" r="1.9" fill="#2BB89A"/>
<circle cx="1300.9" cy="1744.05" r="1.9" fill="#2BB89A"/>
<circle cx="1344.46" cy="1791" r="1.9" fill="#96AE3E"/>
<circle cx="1360.33" cy="1782.9" r="1.9" fill="#2BB89A"/>
<circle cx="1344.47" cy="1742.94" r="1.9" fill="#2BB89A"/>
<circle cx="1336.7" cy="1763.8" r="1.9" fill="#2BB89A"/>
<circle cx="1320.43" cy="1770.11" r="1.9" fill="#2BB89A"/>
<circle cx="1372.1" cy="1753" r="1.9" fill="#2BB89A"/>
<circle cx="1376" cy="1759" r="1.9" fill="#2BB89A"/>
<circle cx="1393.23" cy="1762.89" r="1.9" fill="#96AE3E"/>
<circle cx="1316.26" cy="1761.81" r="1.9" fill="#2BB89A"/>
<circle cx="1339.84" cy="1791.3" r="1.9" fill="#2BB89A"/>
<circle cx="1300.87" cy="1766.54" r="1.9" fill="#2BB89A"/>
<circle cx="1294.09" cy="1760.15" r="1.9" fill="#2BB89A"/>
<circle cx="1365.63" cy="1762.04" r="1.9" fill="#2BB89A"/>
<circle cx="1335.25" cy="1778.8" r="1.9" fill="#96AE3E"/>
<circle cx="1317.79" cy="1737.28" r="1.9" fill="#2BB89A"/>
<circle cx="1361.18" cy="1755.85" r="1.9" fill="#2BB89A"/>
<circle cx="1353.02" cy="1769.14" r="1.9" fill="#2BB89A"/>
<circle cx="1311.47" cy="1744.86" r="1.9" fill="#96AE3E"/>
<circle cx="1296.44" cy="1744.87" r="1.9" fill="#2BB89A"/>
<circle cx="1299.84" cy="1761.47" r="1.9" fill="#2BB89A"/>
<circle cx="1366.11" cy="1767.81" r="1.9" fill="#2BB89A"/>
<circle cx="1345.04" cy="1745.49" r="1.9" fill="#2BB89A"/>
<circle cx="1300.45" cy="1777.64" r="1.9" fill="#2BB89A"/>
<circle cx="1313.25" cy="1755.58" r="1.9" fill="#2BB89A"/>
<circle cx="1330.05" cy="1770.86" r="1.9" fill="#2BB89A"/>
<circle cx="1350.33" cy="1778.2" r="1.9" fill="#2BB89A"/>
<circle cx="1333" cy="1737.59" r="1.9" fill="#2BB89A"/>
<circle cx="1297.48" cy="1762.62" r="1.9" fill="#2BB89A"/>
<circle cx="1321.32" cy="1777.43" r="1.9" fill="#2BB89A"/>
<circle cx="1366.92" cy="1739.64" r="1.9" fill="#2BB89A"/>
<circle cx="1369.55" cy="1751.99" r="1.9" fill="#2BB89A"/>
<circle cx="1372.81" cy="1757.3" r="1.9" fill="#2BB89A"/>
<circle cx="1351.82" cy="1788.72" r="1.9" fill="#96AE3E"/>
<circle cx="1337.25" cy="1780.49" r="1.9" fill="#2BB89A"/>
<circle cx="1332.12" cy="1787.97" r="1.9" fill="#2BB89A"/>
<circle cx="1330.72" cy="1753.57" r="1.9" fill="#2BB89A"/>
<circle cx="1334.6" cy="1743.63" r="1.9" fill="#2BB89A"/>
<circle cx="1348.93" cy="1783.52" r="1.9" fill="#2BB89A"/>
<circle cx="1373.93" cy="1788.38" r="1.9" fill="#2BB89A"/>
<circle cx="1347.58" cy="1765.8" r="1.9" fill="#96AE3E"/>
<circle cx="1361.88" cy="1782.72" r="1.9" fill="#2BB89A"/>
<circle cx="1296.42" cy="1772.94" r="1.9" fill="#2BB89A"/>
<circle cx="1363.36" cy="1743.07" r="1.9" fill="#2BB89A"/>
<circle cx="1318.05" cy="1743.72" r="1.9" fill="#2BB89A"/>
<circle cx="1377.14" cy="1759.36" r="1.9" fill="#96AE3E"/>
<circle cx="1365.95" cy="1764.36" r="1.9" fill="#2BB89A"/>
<circle cx="1367.88" cy="1789.91" r="1.9" fill="#2BB89A"/>
<circle cx="1363.42" cy="1785.82" r="1.9" fill="#2BB89A"/>
<circle cx="1362.09" cy="1765.84" r="1.9" fill="#2BB89A"/>
<circle cx="1337.36" cy="1757.45" r="1.9" fill="#2BB89A"/>
<circle cx="1309.14" cy="1741.97" r="1.9" fill="#2BB89A"/>
<circle cx="1325.88" cy="1738.04" r="1.9" fill="#2BB89A"/>
<circle cx="1340.79" cy="1767.61" r="1.9" fill="#2BB89A"/>
<circle cx="1314.72" cy="1744.33" r="1.9" fill="#2BB89A"/>
<circle cx="1315.75" cy="1741.38" r="1.9" fill="#2BB89A"/>
<circle cx="1376.74" cy="1754.35" r="1.9" fill="#2BB89A"/>
<circle cx="1344.88" cy="1748.48" r="1.9" fill="#96AE3E"/>
<circle cx="1327.5" cy="1764.23" r="1.9" fill="#2BB89A"/>
<circle cx="1332.56" cy="1763.49" r="1.9" fill="#2BB89A"/>
<circle cx="1343.51" cy="1755.05" r="1.9" fill="#2BB89A"/>
<circle cx="1360.05" cy="1743.59" r="1.9" fill="#2BB89A"/>
<circle cx="1316.27" cy="1782.64" r="1.9" fill="#2BB89A"/>
<circle cx="1351.82" cy="1742.47" r="1.9" fill="#2BB89A"/>
<circle cx="1381.33" cy="1786.94" r="1.9" fill="#2BB89A"/>
<circle cx="1318.28" cy="1773.62" r="1.9" fill="#2BB89A"/>
<circle cx="1340" cy="1789.91" r="1.9" fill="#2BB89A"/>
<circle cx="1321.79" cy="1778.31" r="1.9" fill="#96AE3E"/>
<circle cx="1312.08" cy="1762.64" r="1.9" fill="#2BB89A"/>
<circle cx="1385.35" cy="1755.08" r="1.9" fill="#2BB89A"/>
<circle cx="1323.72" cy="1759.08" r="1.9" fill="#2BB89A"/>
<circle cx="1369.68" cy="1741.33" r="1.9" fill="#2BB89A"/>
<circle cx="1330.7" cy="1774.31" r="1.9" fill="#2BB89A"/>
<circle cx="1343.72" cy="1733.32" r="1.9" fill="#2BB89A"/>
<circle cx="1311.5" cy="1766.97" r="1.9" fill="#2BB89A"/>
<circle cx="1351.65" cy="1751.34" r="1.9" fill="#2BB89A"/>
<circle cx="1366.54" cy="1750.13" r="1.9" fill="#2BB89A"/>
<circle cx="1323.96" cy="1787.88" r="1.9" fill="#2BB89A"/>
<circle cx="1324.84" cy="1780.84" r="1.9" fill="#2BB89A"/>
<circle cx="1298.2" cy="1769.52" r="1.9" fill="#2BB89A"/>
<circle cx="1332.95" cy="1782.15" r="1.9" fill="#2BB89A"/>
<circle cx="1316.2" cy="1739.74" r="1.9" fill="#2BB89A"/>
<circle cx="1337.51" cy="1762.95" r="1.9" fill="#2BB89A"/>
<circle cx="1383.7" cy="1759.43" r="1.9" fill="#2BB89A"/>
<circle cx="1290.52" cy="1752.17" r="1.9" fill="#96AE3E"/>
<circle cx="1378.64" cy="1775.51" r="1.9" fill="#2BB89A"/>
<circle cx="1327.3" cy="1751.86" r="1.9" fill="#2BB89A"/>
<circle cx="1331.81" cy="1762.32" r="1.9" fill="#2BB89A"/>
<circle cx="1360.66" cy="1743.71" r="1.9" fill="#96AE3E"/>
<circle cx="1352.35" cy="1754.68" r="1.9" fill="#2BB89A"/>
<circle cx="1346.73" cy="1776.04" r="1.9" fill="#2BB89A"/>
<circle cx="1396.75" cy="1775.1" r="1.9" fill="#2BB89A"/>
<circle cx="1316.09" cy="1764.99" r="1.9" fill="#2BB89A"/>
<circle cx="1396.31" cy="1759.04" r="1.9" fill="#2BB89A"/>
<circle cx="1392.47" cy="1769.68" r="1.9" fill="#2BB89A"/>
<circle cx="1316.63" cy="1785.08" r="1.9" fill="#2BB89A"/>
<circle cx="1359.7" cy="1741.47" r="1.9" fill="#2BB89A"/>
<circle cx="1393.23" cy="1751.52" r="1.9" fill="#2BB89A"/>
<circle cx="1309.42" cy="1762.68" r="1.9" fill="#2BB89A"/>
<circle cx="1395.95" cy="1776.91" r="1.9" fill="#2BB89A"/>
<circle cx="1374.08" cy="1758.33" r="1.9" fill="#2BB89A"/>
<circle cx="1344.17" cy="1741.34" r="1.9" fill="#2BB89A"/>
<circle cx="1308.19" cy="1760.88" r="1.9" fill="#2BB89A"/>
<circle cx="1325.86" cy="1769.77" r="1.9" fill="#2BB89A"/>
<circle cx="1357.72" cy="1762.21" r="1.9" fill="#2BB89A"/>
<circle cx="1366.53" cy="1780.34" r="1.9" fill="#2BB89A"/>
<circle cx="1387.5" cy="1761.15" r="1.9" fill="#2BB89A"/>
<circle cx="1392.69" cy="1768.65" r="1.9" fill="#2BB89A"/>
<circle cx="1393.66" cy="1756.37" r="1.9" fill="#2BB89A"/>
<circle cx="1391.03" cy="1780.91" r="1.9" fill="#2BB89A"/>
<circle cx="1322.95" cy="1766.61" r="1.9" fill="#2BB89A"/>
<circle cx="1339.86" cy="1762.62" r="1.9" fill="#2BB89A"/>
<circle cx="1368.39" cy="1766.54" r="1.9" fill="#2BB89A"/>
<circle cx="1335.31" cy="1746.16" r="1.9" fill="#96AE3E"/>
<circle cx="1399.04" cy="1777.62" r="1.9" fill="#2BB89A"/>
<circle cx="1382.73" cy="1749.46" r="1.9" fill="#2BB89A"/>
<circle cx="1381.75" cy="1743.47" r="1.9" fill="#96AE3E"/>
<circle cx="1323.72" cy="1750.5" r="1.9" fill="#2BB89A"/>
<circle cx="1382.99" cy="1760.05" r="1.9" fill="#2BB89A"/>
<circle cx="1393.06" cy="1755.54" r="1.9" fill="#96AE3E"/>
<circle cx="1401.3" cy="1766.19" r="1.9" fill="#2BB89A"/>
<circle cx="1309.05" cy="1780.12" r="1.9" fill="#2BB89A"/>
<circle cx="1362.91" cy="1745.9" r="1.9" fill="#2BB89A"/>
<circle cx="1299.3" cy="1772.51" r="1.9" fill="#96AE3E"/>
<circle cx="1387.59" cy="1779.48" r="1.9" fill="#2BB89A"/>
<circle cx="1396.88" cy="1764.15" r="1.9" fill="#2BB89A"/>
<circle cx="1322.62" cy="1773.63" r="1.9" fill="#2BB89A"/>
<circle cx="1314.57" cy="1770.16" r="1.9" fill="#2BB89A"/>
<circle cx="1362.71" cy="1787.62" r="1.9" fill="#2BB89A"/>
<circle cx="1320.76" cy="1786.49" r="1.9" fill="#2BB89A"/>
<circle cx="1364.31" cy="1739.91" r="1.9" fill="#2BB89A"/>
<circle cx="1349.11" cy="1765.13" r="1.9" fill="#2BB89A"/>
<circle cx="1322.4" cy="1745.93" r="1.9" fill="#2BB89A"/>
<circle cx="1319.84" cy="1776.11" r="1.9" fill="#2BB89A"/>
<circle cx="1353.2" cy="1744.74" r="1.9" fill="#96AE3E"/>
<circle cx="1292.31" cy="1755.99" r="1.9" fill="#2BB89A"/>
<circle cx="1395.61" cy="1767.33" r="1.9" fill="#2BB89A"/>
<circle cx="1363.49" cy="1756.08" r="1.9" fill="#2BB89A"/>
<circle cx="1347.9" cy="1763.51" r="1.9" fill="#2BB89A"/>
<circle cx="1346.01" cy="1790.2" r="1.9" fill="#2BB89A"/>
<circle cx="1306.74" cy="1766.07" r="1.9" fill="#2BB89A"/>
<circle cx="1376.05" cy="1782.89" r="1.9" fill="#2BB89A"/>
<circle cx="1346.2" cy="1746.23" r="1.9" fill="#2BB89A"/>
<circle cx="1291.8" cy="1764.09" r="1.9" fill="#2BB89A"/>
<circle cx="1390.76" cy="1747.65" r="1.9" fill="#2BB89A"/>
<circle cx="1345.89" cy="1759.05" r="1.9" fill="#2BB89A"/>
<circle cx="1392.71" cy="1771.24" r="1.9" fill="#2BB89A"/>
<circle cx="1317.57" cy="1739.21" r="1.9" fill="#2BB89A"/>
<circle cx="1323.91" cy="1768.37" r="1.9" fill="#2BB89A"/>
<circle cx="1358.4" cy="1739.3" r="1.9" fill="#2BB89A"/>
<circle cx="1319.45" cy="1740.19" r="1.9" fill="#2BB89A"/>
<circle cx="1336.38" cy="1753.99" r="1.9" fill="#96AE3E"/>
<circle cx="1293.14" cy="1757.75" r="1.9" fill="#96AE3E"/>
<circle cx="1305.16" cy="1756.74" r="1.9" fill="#2BB89A"/>
<circle cx="1313.99" cy="1783.69" r="1.9" fill="#2BB89A"/>
<circle cx="1323.06" cy="1756.44" r="1.9" fill="#2BB89A"/>
<circle cx="1374.46" cy="1749.22" r="1.9" fill="#2BB89A"/>
<circle cx="1316.35" cy="1758.09" r="1.9" fill="#2BB89A"/>
<circle cx="1361.22" cy="1736.61" r="1.9" fill="#2BB89A"/>
<circle cx="1295.8" cy="1749.16" r="1.9" fill="#2BB89A"/>
<circle cx="1354.46" cy="1787.01" r="1.9" fill="#2BB89A"/>
<circle cx="1386.26" cy="1759.36" r="1.9" fill="#2BB89A"/>
<circle cx="1330.02" cy="1742.55" r="1.9" fill="#2BB89A"/>
<circle cx="1313.25" cy="1742.94" r="1.9" fill="#2BB89A"/>
<circle cx="1337.31" cy="1791.95" r="1.9" fill="#2BB89A"/>
<circle cx="1312.47" cy="1753.02" r="1.9" fill="#2BB89A"/>
<circle cx="1331.33" cy="1748.14" r="1.9" fill="#2BB89A"/>
<circle cx="1319.1" cy="1754.2" r="1.9" fill="#2BB89A"/>
<circle cx="1319.99" cy="1752.36" r="1.9" fill="#96AE3E"/>
<circle cx="1328.4" cy="1777.46" r="1.9" fill="#96AE3E"/>
<circle cx="1334.82" cy="1736.92" r="1.9" fill="#2BB89A"/>
<circle cx="1377.18" cy="1766.89" r="1.9" fill="#2BB89A"/>
<circle cx="1305.16" cy="1765.17" r="1.9" fill="#2BB89A"/>
<circle cx="1336.99" cy="1764.86" r="1.9" fill="#2BB89A"/>
<circle cx="1317.13" cy="1774.05" r="1.9" fill="#2BB89A"/>
<circle cx="1313.04" cy="1746.89" r="1.9" fill="#2BB89A"/>
<circle cx="1330.97" cy="1783.73" r="1.9" fill="#2BB89A"/>
<circle cx="1329.57" cy="1744.44" r="1.9" fill="#2BB89A"/>
<circle cx="1360.72" cy="1768.26" r="1.9" fill="#96AE3E"/>
<circle cx="1321.78" cy="1771.15" r="1.9" fill="#2BB89A"/>
<circle cx="1366.99" cy="1774.87" r="1.9" fill="#2BB89A"/>
<circle cx="1314.64" cy="1768.24" r="1.9" fill="#2BB89A"/>
<circle cx="1335.87" cy="1735.62" r="1.9" fill="#2BB89A"/>
<circle cx="1346.82" cy="1749.81" r="1.9" fill="#2BB89A"/>
<circle cx="1344.88" cy="1742.83" r="1.9" fill="#2BB89A"/>
<circle cx="1299.8" cy="1749.43" r="1.9" fill="#2BB89A"/>
<circle cx="1354.5" cy="1775.87" r="1.9" fill="#2BB89A"/>
<circle cx="1291.45" cy="1751.69" r="1.9" fill="#2BB89A"/>
<circle cx="1337.28" cy="1735.41" r="1.9" fill="#2BB89A"/>
<circle cx="1343.32" cy="1752.26" r="1.9" fill="#2BB89A"/>
<circle cx="1326.28" cy="1784.87" r="1.9" fill="#2BB89A"/>
<circle cx="1367.06" cy="1745.93" r="1.9" fill="#2BB89A"/>
<circle cx="1399.26" cy="1759.39" r="1.9" fill="#96AE3E"/>
<circle cx="1376.71" cy="1773.36" r="1.9" fill="#2BB89A"/>
<circle cx="1337.41" cy="1748.77" r="1.9" fill="#2BB89A"/>
<circle cx="1330.21" cy="1786.29" r="1.9" fill="#2BB89A"/>
<circle cx="1347.82" cy="1751.63" r="1.9" fill="#96AE3E"/>
<circle cx="1307.15" cy="1741.08" r="1.9" fill="#2BB89A"/>
<circle cx="1351.62" cy="1757.1" r="1.9" fill="#2BB89A"/>
<circle cx="1363.1" cy="1767.4" r="1.9" fill="#2BB89A"/>
<circle cx="1357.35" cy="1734.93" r="1.9" fill="#2BB89A"/>
<circle cx="1384.12" cy="1741.91" r="1.9" fill="#96AE3E"/>
<circle cx="1391.71" cy="1731.19" r="1.9" fill="#2BB89A"/>
<circle cx="1373.47" cy="1735.39" r="1.9" fill="#2BB89A"/>
<circle cx="1371.38" cy="1732.74" r="1.9" fill="#2BB89A"/>
<circle cx="1346.44" cy="1738.27" r="1.9" fill="#2BB89A"/>
<circle cx="1383.33" cy="1730.26" r="1.9" fill="#2BB89A"/>
<circle cx="1367.65" cy="1731.25" r="1.9" fill="#2BB89A"/>
<circle cx="1369.52" cy="1743.93" r="1.9" fill="#2BB89A"/>
<circle cx="1351.63" cy="1742.31" r="1.9" fill="#2BB89A"/>
<circle cx="1387.15" cy="1744.85" r="1.9" fill="#2BB89A"/>
<circle cx="1363.44" cy="1742.14" r="1.9" fill="#2BB89A"/>
<circle cx="1390.09" cy="1730.5" r="1.9" fill="#2BB89A"/>
<circle cx="1350.17" cy="1731.69" r="1.9" fill="#2BB89A"/>
<circle cx="1343.36" cy="1741.75" r="1.9" fill="#2BB89A"/>
<circle cx="1361.77" cy="1746.67" r="1.9" fill="#2BB89A"/>
<circle cx="1383.93" cy="1730.37" r="1.9" fill="#2BB89A"/>
<circle cx="1342.41" cy="1734.6" r="1.9" fill="#2BB89A"/>
<circle cx="1367.81" cy="1735.47" r="1.9" fill="#2BB89A"/>
<circle cx="1392.71" cy="1733.67" r="1.9" fill="#2BB89A"/>
<circle cx="1361.25" cy="1741.88" r="1.9" fill="#2BB89A"/>
<circle cx="1344.28" cy="1731.5" r="1.9" fill="#2BB89A"/>
<circle cx="1351.6" cy="1737.77" r="1.9" fill="#2BB89A"/>
<circle cx="1335.35" cy="1739.32" r="1.9" fill="#2BB89A"/>
<circle cx="1353.18" cy="1732.55" r="1.9" fill="#2BB89A"/>
<circle cx="1355.65" cy="1729.57" r="1.9" fill="#2BB89A"/>
<circle cx="1394.71" cy="1737.69" r="1.9" fill="#2BB89A"/>
<circle cx="1361.72" cy="1729.15" r="1.9" fill="#2BB89A"/>
<circle cx="1377.61" cy="1733.54" r="1.9" fill="#2BB89A"/>
<circle cx="1403.6" cy="1736.86" r="1.9" fill="#2BB89A"/>
<circle cx="1330.47" cy="1806.92" r="1.9" fill="#96AE3E"/>
<circle cx="1367.37" cy="1788.39" r="1.9" fill="#2BB89A"/>
<circle cx="1325.82" cy="1813.55" r="1.9" fill="#96AE3E"/>
<circle cx="1389.27" cy="1797.95" r="1.9" fill="#96AE3E"/>
<circle cx="1361.55" cy="1813.4" r="1.9" fill="#96AE3E"/>
<circle cx="1327.22" cy="1815.02" r="1.9" fill="#96AE3E"/>
<circle cx="1358.34" cy="1812.3" r="1.9" fill="#96AE3E"/>
<circle cx="1380.37" cy="1797.96" r="1.9" fill="#96AE3E"/>
<circle cx="1350.79" cy="1794.2" r="1.9" fill="#96AE3E"/>
<circle cx="1344.85" cy="1817.65" r="1.9" fill="#96AE3E"/>
<circle cx="1336.47" cy="1805.57" r="1.9" fill="#96AE3E"/>
<circle cx="1368.66" cy="1801.72" r="1.9" fill="#96AE3E"/>
<circle cx="1401.67" cy="1793.06" r="1.9" fill="#96AE3E"/>
<circle cx="1411.8" cy="1795.04" r="1.9" fill="#96AE3E"/>
<circle cx="1362.08" cy="1813.33" r="1.9" fill="#96AE3E"/>
<circle cx="1387.35" cy="1817.22" r="1.9" fill="#96AE3E"/>
<circle cx="1338.61" cy="1815.01" r="1.9" fill="#96AE3E"/>
<circle cx="1344.19" cy="1813.39" r="1.9" fill="#96AE3E"/>
<circle cx="1380.43" cy="1803.15" r="1.9" fill="#96AE3E"/>
<circle cx="1400.03" cy="1806.08" r="1.9" fill="#96AE3E"/>
<circle cx="1361.17" cy="1802.4" r="1.9" fill="#96AE3E"/>
<circle cx="1375.54" cy="1804.37" r="1.9" fill="#96AE3E"/>
<circle cx="1364.84" cy="1808.96" r="1.9" fill="#96AE3E"/>
<circle cx="1337.96" cy="1809.39" r="1.9" fill="#96AE3E"/>
<circle cx="1353.82" cy="1815.85" r="1.9" fill="#96AE3E"/>
<circle cx="1412.38" cy="1797.04" r="1.9" fill="#96AE3E"/>
<circle cx="1384.81" cy="1817.32" r="1.9" fill="#96AE3E"/>
<circle cx="1372.94" cy="1821.35" r="1.9" fill="#96AE3E"/>
<circle cx="1386.29" cy="1793.35" r="1.9" fill="#96AE3E"/>
<circle cx="1374.38" cy="1816.67" r="1.9" fill="#96AE3E"/>
<circle cx="1379.22" cy="1788.48" r="1.9" fill="#96AE3E"/>
<circle cx="1366.66" cy="1796.5" r="1.9" fill="#96AE3E"/>
<circle cx="1393.29" cy="1802.42" r="1.9" fill="#96AE3E"/>
<circle cx="1337.34" cy="1805.95" r="1.9" fill="#96AE3E"/>
<circle cx="1357.49" cy="1819.63" r="1.9" fill="#96AE3E"/>
<circle cx="1340.13" cy="1806.25" r="1.9" fill="#96AE3E"/>
<circle cx="1382.68" cy="1815.59" r="1.9" fill="#96AE3E"/>
<circle cx="1383.52" cy="1800.05" r="1.9" fill="#96AE3E"/>
<circle cx="1353.4" cy="1812.23" r="1.9" fill="#96AE3E"/>
<circle cx="1384.39" cy="1791.26" r="1.9" fill="#96AE3E"/>
<circle cx="1363.84" cy="1793.11" r="1.9" fill="#96AE3E"/>
<circle cx="1377.91" cy="1798.51" r="1.9" fill="#2BB89A"/>
<circle cx="1387.38" cy="1809.92" r="1.9" fill="#96AE3E"/>
<circle cx="1358.78" cy="1794.59" r="1.9" fill="#96AE3E"/>
<circle cx="1396.84" cy="1796.95" r="1.9" fill="#96AE3E"/>
<circle cx="1407.24" cy="1792.95" r="1.9" fill="#96AE3E"/>
<circle cx="1374.76" cy="1796.56" r="1.9" fill="#96AE3E"/>
<circle cx="1401.46" cy="1805.38" r="1.9" fill="#96AE3E"/>
<circle cx="1360.48" cy="1814.9" r="1.9" fill="#96AE3E"/>
<circle cx="1329.9" cy="1809.1" r="1.9" fill="#96AE3E"/>
<circle cx="1408.06" cy="1790.96" r="1.9" fill="#96AE3E"/>
<circle cx="1345.85" cy="1806.03" r="1.9" fill="#96AE3E"/>
<circle cx="1346.52" cy="1806.22" r="1.9" fill="#96AE3E"/>
<circle cx="1400.58" cy="1802.56" r="1.9" fill="#96AE3E"/>
<circle cx="1356.17" cy="1802.93" r="1.9" fill="#96AE3E"/>
<circle cx="1357.51" cy="1820.76" r="1.9" fill="#96AE3E"/>
<circle cx="1380.61" cy="1801.89" r="1.9" fill="#96AE3E"/>
<circle cx="1353.7" cy="1813.6" r="1.9" fill="#2BB89A"/>
<circle cx="1361.65" cy="1817.64" r="1.9" fill="#96AE3E"/>
<circle cx="1365.07" cy="1802.29" r="1.9" fill="#96AE3E"/>
<circle cx="1355.36" cy="1795.08" r="1.9" fill="#96AE3E"/>
<circle cx="1382.93" cy="1806.79" r="1.9" fill="#96AE3E"/>
<circle cx="1397.95" cy="1807.87" r="1.9" fill="#96AE3E"/>
<circle cx="1363.36" cy="1789.28" r="1.9" fill="#96AE3E"/>
<circle cx="1356.01" cy="1808.53" r="1.9" fill="#96AE3E"/>
<circle cx="1393.46" cy="1793.84" r="1.9" fill="#96AE3E"/>
<circle cx="1372.83" cy="1791.54" r="1.9" fill="#96AE3E"/>
<circle cx="1352.38" cy="1817.51" r="1.9" fill="#96AE3E"/>
<circle cx="1365.06" cy="1807.7" r="1.9" fill="#96AE3E"/>
<circle cx="1370.66" cy="1801.48" r="1.9" fill="#96AE3E"/>
<circle cx="1409.59" cy="1794.85" r="1.9" fill="#96AE3E"/>
<circle cx="1398.61" cy="1807.87" r="1.9" fill="#96AE3E"/>
<circle cx="1368.97" cy="1788.73" r="1.9" fill="#96AE3E"/>
<circle cx="1411.17" cy="1802.5" r="1.9" fill="#96AE3E"/>
<circle cx="1359.08" cy="1792.19" r="1.9" fill="#96AE3E"/>
<circle cx="1405.11" cy="1792.72" r="1.9" fill="#96AE3E"/>
<circle cx="1375.02" cy="1803.97" r="1.9" fill="#96AE3E"/>
<circle cx="1352.63" cy="1816.15" r="1.9" fill="#96AE3E"/>
<circle cx="1362.59" cy="1805.33" r="1.9" fill="#96AE3E"/>
<circle cx="1361.98" cy="1790.69" r="1.9" fill="#96AE3E"/>
<circle cx="1371.75" cy="1806.16" r="1.9" fill="#96AE3E"/>
<circle cx="1332.72" cy="1806.98" r="1.9" fill="#96AE3E"/>
<circle cx="1346.57" cy="1817.57" r="1.9" fill="#96AE3E"/>
<circle cx="1363.48" cy="1822.07" r="1.9" fill="#96AE3E"/>
<circle cx="1409.05" cy="1793.3" r="1.9" fill="#96AE3E"/>
<circle cx="1352.02" cy="1811.76" r="1.9" fill="#96AE3E"/>
<circle cx="1368.89" cy="1805.58" r="1.9" fill="#96AE3E"/>
<circle cx="1331.45" cy="1803.06" r="1.9" fill="#96AE3E"/>
<circle cx="1364.52" cy="1818.22" r="1.9" fill="#96AE3E"/>
<circle cx="1382.5" cy="1788.31" r="1.9" fill="#96AE3E"/>
<circle cx="1430.79" cy="1784.13" r="1.9" fill="#96AE3E"/>
<circle cx="1449.92" cy="1776.92" r="1.9" fill="#96AE3E"/>
<circle cx="1445.52" cy="1796.26" r="1.9" fill="#96AE3E"/>
<circle cx="1452.38" cy="1798.6" r="1.9" fill="#96AE3E"/>
<circle cx="1433.25" cy="1799.28" r="1.9" fill="#96AE3E"/>
<circle cx="1433.97" cy="1802.33" r="1.9" fill="#96AE3E"/>
<circle cx="1438.17" cy="1777.34" r="1.9" fill="#96AE3E"/>
<circle cx="1456.27" cy="1802.8" r="1.9" fill="#96AE3E"/>
<circle cx="1419.27" cy="1781.81" r="1.9" fill="#96AE3E"/>
<circle cx="1434.05" cy="1793.6" r="1.9" fill="#96AE3E"/>
<circle cx="1459.8" cy="1795.55" r="1.9" fill="#96AE3E"/>
<circle cx="1431.03" cy="1798.68" r="1.9" fill="#96AE3E"/>
<circle cx="1450.23" cy="1790.43" r="1.9" fill="#96AE3E"/>
<circle cx="1454.68" cy="1782.22" r="1.9" fill="#96AE3E"/>
<circle cx="1432.86" cy="1778.26" r="1.9" fill="#96AE3E"/>
<circle cx="1440.88" cy="1788.8" r="1.9" fill="#96AE3E"/>
<circle cx="1430.6" cy="1794.92" r="1.9" fill="#F07670"/>
<circle cx="1428.14" cy="1799.1" r="1.9" fill="#96AE3E"/>
<circle cx="1451.19" cy="1798.19" r="1.9" fill="#96AE3E"/>
<circle cx="1457.76" cy="1791.34" r="1.9" fill="#96AE3E"/>
<circle cx="1445.07" cy="1796.49" r="1.9" fill="#96AE3E"/>
<circle cx="1436.65" cy="1792.05" r="1.9" fill="#96AE3E"/>
<circle cx="1418.41" cy="1781.51" r="1.9" fill="#96AE3E"/>
<circle cx="1449.47" cy="1797.61" r="1.9" fill="#96AE3E"/>
<circle cx="1451.48" cy="1807.62" r="1.9" fill="#96AE3E"/>
<circle cx="1425.56" cy="1778.42" r="1.9" fill="#96AE3E"/>
<circle cx="1416.25" cy="1799.75" r="1.9" fill="#96AE3E"/>
<circle cx="1461.07" cy="1804.58" r="1.9" fill="#96AE3E"/>
<circle cx="1452.51" cy="1786.89" r="1.9" fill="#96AE3E"/>
<circle cx="1427.77" cy="1780.83" r="1.9" fill="#96AE3E"/>
<circle cx="1426.85" cy="1782.45" r="1.9" fill="#96AE3E"/>
<circle cx="1439.74" cy="1783.9" r="1.9" fill="#96AE3E"/>
<circle cx="1436.91" cy="1807.81" r="1.9" fill="#96AE3E"/>
<circle cx="1457.8" cy="1800.76" r="1.9" fill="#96AE3E"/>
<circle cx="1439.79" cy="1799.64" r="1.9" fill="#96AE3E"/>
<circle cx="1464.03" cy="1791.84" r="1.9" fill="#96AE3E"/>
<circle cx="1437.3" cy="1787.44" r="1.9" fill="#96AE3E"/>
<circle cx="1438.85" cy="1795.66" r="1.9" fill="#96AE3E"/>
<circle cx="1462.2" cy="1803.47" r="1.9" fill="#96AE3E"/>
<circle cx="1416.6" cy="1791.71" r="1.9" fill="#F07670"/>
<circle cx="1425.9" cy="1805.8" r="1.9" fill="#96AE3E"/>
<circle cx="1439.56" cy="1812.71" r="1.9" fill="#96AE3E"/>
<circle cx="1454.56" cy="1796.6" r="1.9" fill="#96AE3E"/>
<circle cx="1421.42" cy="1790.98" r="1.9" fill="#96AE3E"/>
<circle cx="1420.89" cy="1798.14" r="1.9" fill="#96AE3E"/>
<circle cx="1415.86" cy="1788.39" r="1.9" fill="#F07670"/>
<circle cx="1444.93" cy="1779.22" r="1.9" fill="#96AE3E"/>
<circle cx="1447.1" cy="1812.25" r="1.9" fill="#96AE3E"/>
<circle cx="1437.8" cy="1796.47" r="1.9" fill="#96AE3E"/>
<circle cx="1442.23" cy="1811.17" r="1.9" fill="#96AE3E"/>
<circle cx="1449.26" cy="1795.61" r="1.9" fill="#96AE3E"/>
<circle cx="1435.05" cy="1785.62" r="1.9" fill="#96AE3E"/>
<circle cx="1455.55" cy="1786.26" r="1.9" fill="#96AE3E"/>
<circle cx="1428.71" cy="1798.29" r="1.9" fill="#96AE3E"/>
<circle cx="1421.41" cy="1779.88" r="1.9" fill="#96AE3E"/>
<circle cx="1431.6" cy="1781.06" r="1.9" fill="#96AE3E"/>
<circle cx="1441.96" cy="1783.57" r="1.9" fill="#96AE3E"/>
<circle cx="1425.61" cy="1782.58" r="1.9" fill="#96AE3E"/>
<circle cx="1446.59" cy="1806.13" r="1.9" fill="#96AE3E"/>
<circle cx="1455.31" cy="1785.5" r="1.9" fill="#96AE3E"/>
<circle cx="1428.23" cy="1807.79" r="1.9" fill="#96AE3E"/>
<circle cx="1416.89" cy="1800.86" r="1.9" fill="#96AE3E"/>
<circle cx="1455.85" cy="1791.08" r="1.9" fill="#96AE3E"/>
<circle cx="1452.49" cy="1794.4" r="1.9" fill="#96AE3E"/>
<circle cx="1439.77" cy="1788.28" r="1.9" fill="#96AE3E"/>
<circle cx="1421.38" cy="1777.94" r="1.9" fill="#96AE3E"/>
<circle cx="1463.89" cy="1790.97" r="1.9" fill="#96AE3E"/>
<circle cx="1447.74" cy="1812.64" r="1.9" fill="#96AE3E"/>
<circle cx="1446.17" cy="1809.8" r="1.9" fill="#96AE3E"/>
<circle cx="1437.34" cy="1787.52" r="1.9" fill="#96AE3E"/>
<circle cx="1422.68" cy="1783.93" r="1.9" fill="#96AE3E"/>
<circle cx="1424.13" cy="1775.06" r="1.9" fill="#96AE3E"/>
<circle cx="1440.91" cy="1803.99" r="1.9" fill="#96AE3E"/>
<circle cx="1416.98" cy="1781.38" r="1.9" fill="#96AE3E"/>
<circle cx="1441.57" cy="1779.66" r="1.9" fill="#96AE3E"/>
<circle cx="1425.63" cy="1802.53" r="1.9" fill="#96AE3E"/>
<circle cx="1442.28" cy="1807.63" r="1.9" fill="#96AE3E"/>
<circle cx="1436.63" cy="1774.38" r="1.9" fill="#96AE3E"/>
<circle cx="1454.04" cy="1783.94" r="1.9" fill="#96AE3E"/>
<circle cx="1455.5" cy="1795.88" r="1.9" fill="#96AE3E"/>
<circle cx="1431.39" cy="1773.04" r="1.9" fill="#96AE3E"/>
<circle cx="1431.98" cy="1790.66" r="1.9" fill="#96AE3E"/>
<circle cx="1428.42" cy="1806.73" r="1.9" fill="#96AE3E"/>
<circle cx="1441.49" cy="1791.83" r="1.9" fill="#96AE3E"/>
<circle cx="1420.33" cy="1790.07" r="1.9" fill="#96AE3E"/>
<circle cx="1419.3" cy="1798.6" r="1.9" fill="#96AE3E"/>
<circle cx="1429.89" cy="1775.02" r="1.9" fill="#96AE3E"/>
<circle cx="1442.29" cy="1793.47" r="1.9" fill="#96AE3E"/>
<circle cx="1440.41" cy="1783.87" r="1.9" fill="#96AE3E"/>
<circle cx="1439.77" cy="1776.48" r="1.9" fill="#96AE3E"/>
<circle cx="1443.53" cy="1812.89" r="1.9" fill="#96AE3E"/>
<circle cx="1422.07" cy="1803.38" r="1.9" fill="#96AE3E"/>
<circle cx="1461.19" cy="1797.07" r="1.9" fill="#96AE3E"/>
<circle cx="1463.66" cy="1796.94" r="1.9" fill="#96AE3E"/>
<circle cx="1457.79" cy="1796.44" r="1.9" fill="#96AE3E"/>
<circle cx="1420.97" cy="1803.39" r="1.9" fill="#F07670"/>
<circle cx="1460.72" cy="1804.35" r="1.9" fill="#96AE3E"/>
<circle cx="1453.98" cy="1807.88" r="1.9" fill="#96AE3E"/>
<circle cx="1429.93" cy="1781.01" r="1.9" fill="#96AE3E"/>
<circle cx="1440.74" cy="1786.94" r="1.9" fill="#96AE3E"/>
<circle cx="1449.98" cy="1777.25" r="1.9" fill="#96AE3E"/>
<circle cx="1430.74" cy="1778.79" r="1.9" fill="#96AE3E"/>
<circle cx="1416.76" cy="1798.29" r="1.9" fill="#96AE3E"/>
<circle cx="1451.83" cy="1806.85" r="1.9" fill="#96AE3E"/>
<circle cx="1462.49" cy="1802.79" r="1.9" fill="#96AE3E"/>
<circle cx="1434.23" cy="1772.78" r="1.9" fill="#96AE3E"/>
<circle cx="1422.97" cy="1796.41" r="1.9" fill="#96AE3E"/>
<circle cx="1441.15" cy="1785.9" r="1.9" fill="#96AE3E"/>
<circle cx="1445.86" cy="1801.78" r="1.9" fill="#96AE3E"/>
<circle cx="1424.31" cy="1808.77" r="1.9" fill="#96AE3E"/>
<circle cx="1455.28" cy="1789.1" r="1.9" fill="#96AE3E"/>
<circle cx="1441.56" cy="1774.58" r="1.9" fill="#96AE3E"/>
<circle cx="1435.81" cy="1802.37" r="1.9" fill="#96AE3E"/>
<circle cx="1445.25" cy="1783.6" r="1.9" fill="#96AE3E"/>
<circle cx="1415.31" cy="1782.95" r="1.9" fill="#96AE3E"/>
<circle cx="1447.29" cy="1790.99" r="1.9" fill="#96AE3E"/>
<circle cx="1434.37" cy="1810.83" r="1.9" fill="#96AE3E"/>
<circle cx="1447.41" cy="1805.14" r="1.9" fill="#96AE3E"/>
<circle cx="1424.99" cy="1792.2" r="1.9" fill="#96AE3E"/>
<circle cx="1420.02" cy="1800.46" r="1.9" fill="#96AE3E"/>
<circle cx="1297.73" cy="1856.44" r="1.9" fill="#96AE3E"/>
<circle cx="1287.64" cy="1851.81" r="1.9" fill="#96AE3E"/>
<circle cx="1306.79" cy="1821.55" r="1.9" fill="#96AE3E"/>
<circle cx="1325.74" cy="1827.87" r="1.9" fill="#96AE3E"/>
<circle cx="1295.85" cy="1831.99" r="1.9" fill="#96AE3E"/>
<circle cx="1294.07" cy="1853.08" r="1.9" fill="#96AE3E"/>
<circle cx="1326.67" cy="1815.62" r="1.9" fill="#96AE3E"/>
<circle cx="1319.03" cy="1851.37" r="1.9" fill="#96AE3E"/>
<circle cx="1289.61" cy="1867.01" r="1.9" fill="#96AE3E"/>
<circle cx="1324.95" cy="1819.02" r="1.9" fill="#96AE3E"/>
<circle cx="1298.86" cy="1883.12" r="1.9" fill="#96AE3E"/>
<circle cx="1302.94" cy="1837.29" r="1.9" fill="#96AE3E"/>
<circle cx="1303.55" cy="1848.85" r="1.9" fill="#96AE3E"/>
<circle cx="1292.19" cy="1871.37" r="1.9" fill="#2BB89A"/>
<circle cx="1286.31" cy="1869.05" r="1.9" fill="#96AE3E"/>
<circle cx="1305.09" cy="1854.55" r="1.9" fill="#96AE3E"/>
<circle cx="1298.46" cy="1865.15" r="1.9" fill="#2BB89A"/>
<circle cx="1311.65" cy="1831.4" r="1.9" fill="#96AE3E"/>
<circle cx="1312.9" cy="1824.62" r="1.9" fill="#2BB89A"/>
<circle cx="1322.58" cy="1822.82" r="1.9" fill="#96AE3E"/>
<circle cx="1289.72" cy="1872.61" r="1.9" fill="#96AE3E"/>
<circle cx="1289.07" cy="1857.01" r="1.9" fill="#96AE3E"/>
<circle cx="1303.89" cy="1843.88" r="1.9" fill="#96AE3E"/>
<circle cx="1300.33" cy="1856.31" r="1.9" fill="#96AE3E"/>
<circle cx="1308.02" cy="1850.54" r="1.9" fill="#96AE3E"/>
<circle cx="1317.83" cy="1822.42" r="1.9" fill="#96AE3E"/>
<circle cx="1282.21" cy="1835.16" r="1.9" fill="#2BB89A"/>
<circle cx="1311.49" cy="1830.39" r="1.9" fill="#96AE3E"/>
<circle cx="1299.03" cy="1848.85" r="1.9" fill="#96AE3E"/>
<circle cx="1307.44" cy="1844.91" r="1.9" fill="#96AE3E"/>
<circle cx="1325.98" cy="1818.48" r="1.9" fill="#96AE3E"/>
<circle cx="1336.06" cy="1826.14" r="1.9" fill="#96AE3E"/>
<circle cx="1302.55" cy="1839.4" r="1.9" fill="#96AE3E"/>
<circle cx="1316.18" cy="1813.97" r="1.9" fill="#96AE3E"/>
<circle cx="1312.73" cy="1826.61" r="1.9" fill="#96AE3E"/>
<circle cx="1281.6" cy="1831.9" r="1.9" fill="#96AE3E"/>
<circle cx="1308.76" cy="1865.47" r="1.9" fill="#96AE3E"/>
<circle cx="1314.43" cy="1823.08" r="1.9" fill="#96AE3E"/>
<circle cx="1309.76" cy="1828.46" r="1.9" fill="#96AE3E"/>
<circle cx="1315.15" cy="1830.12" r="1.9" fill="#96AE3E"/>
<circle cx="1308.71" cy="1861.26" r="1.9" fill="#96AE3E"/>
<circle cx="1332.56" cy="1819.83" r="1.9" fill="#96AE3E"/>
<circle cx="1301.7" cy="1869.41" r="1.9" fill="#96AE3E"/>
<circle cx="1319.85" cy="1833.95" r="1.9" fill="#96AE3E"/>
<circle cx="1302.11" cy="1849.2" r="1.9" fill="#96AE3E"/>
<circle cx="1315.96" cy="1833.07" r="1.9" fill="#96AE3E"/>
<circle cx="1297.69" cy="1851.28" r="1.9" fill="#96AE3E"/>
<circle cx="1295.85" cy="1856.86" r="1.9" fill="#96AE3E"/>
<circle cx="1293.24" cy="1844.64" r="1.9" fill="#96AE3E"/>
<circle cx="1293.22" cy="1843.74" r="1.9" fill="#96AE3E"/>
<circle cx="1299.96" cy="1871.83" r="1.9" fill="#96AE3E"/>
<circle cx="1291.38" cy="1859.11" r="1.9" fill="#96AE3E"/>
<circle cx="1292.78" cy="1855.67" r="1.9" fill="#96AE3E"/>
<circle cx="1294.03" cy="1830.85" r="1.9" fill="#96AE3E"/>
<circle cx="1302.46" cy="1868.69" r="1.9" fill="#96AE3E"/>
<circle cx="1296.13" cy="1856.42" r="1.9" fill="#2BB89A"/>
<circle cx="1328.13" cy="1816.63" r="1.9" fill="#96AE3E"/>
<circle cx="1304.29" cy="1857.52" r="1.9" fill="#96AE3E"/>
<circle cx="1286.18" cy="1855.47" r="1.9" fill="#96AE3E"/>
<circle cx="1297.61" cy="1866.16" r="1.9" fill="#96AE3E"/>
<circle cx="1302.92" cy="1827.49" r="1.9" fill="#96AE3E"/>
<circle cx="1297.08" cy="1855.53" r="1.9" fill="#96AE3E"/>
<circle cx="1299.08" cy="1873.71" r="1.9" fill="#96AE3E"/>
<circle cx="1294.53" cy="1852.16" r="1.9" fill="#96AE3E"/>
<circle cx="1299.11" cy="1867.33" r="1.9" fill="#96AE3E"/>
<circle cx="1310.45" cy="1838.48" r="1.9" fill="#96AE3E"/>
<circle cx="1314.14" cy="1815.66" r="1.9" fill="#96AE3E"/>
<circle cx="1288.52" cy="1854.76" r="1.9" fill="#96AE3E"/>
<circle cx="1301.25" cy="1824.1" r="1.9" fill="#96AE3E"/>
<circle cx="1299.43" cy="1869.59" r="1.9" fill="#96AE3E"/>
<circle cx="1321.61" cy="1820.16" r="1.9" fill="#96AE3E"/>
<circle cx="1288.34" cy="1858.43" r="1.9" fill="#96AE3E"/>
<circle cx="1296.09" cy="1847.39" r="1.9" fill="#96AE3E"/>
<circle cx="1298.68" cy="1881.62" r="1.9" fill="#96AE3E"/>
<circle cx="1304.33" cy="1879.86" r="1.9" fill="#96AE3E"/>
<circle cx="1278.56" cy="1780.38" r="1.9" fill="#2BB89A"/>
<circle cx="1276.23" cy="1814.26" r="1.9" fill="#2BB89A"/>
<circle cx="1283.26" cy="1807.45" r="1.9" fill="#2BB89A"/>
<circle cx="1268.55" cy="1776.09" r="1.9" fill="#96AE3E"/>
<circle cx="1286.05" cy="1788.33" r="1.9" fill="#96AE3E"/>
<circle cx="1285.31" cy="1800.69" r="1.9" fill="#96AE3E"/>
<circle cx="1267.7" cy="1783.05" r="1.9" fill="#96AE3E"/>
<circle cx="1269.81" cy="1802.86" r="1.9" fill="#96AE3E"/>
<circle cx="1277.85" cy="1788.03" r="1.9" fill="#96AE3E"/>
<circle cx="1277.19" cy="1788.73" r="1.9" fill="#96AE3E"/>
<circle cx="1279.76" cy="1777.83" r="1.9" fill="#96AE3E"/>
<circle cx="1286.31" cy="1799.91" r="1.9" fill="#96AE3E"/>
<circle cx="1274.2" cy="1806.65" r="1.9" fill="#2BB89A"/>
<circle cx="1271.83" cy="1783.4" r="1.9" fill="#2BB89A"/>
<circle cx="1281.79" cy="1818.79" r="1.9" fill="#96AE3E"/>
<circle cx="1285.47" cy="1809.87" r="1.9" fill="#2BB89A"/>
<circle cx="1282.77" cy="1815.49" r="1.9" fill="#2BB89A"/>
<circle cx="1278.85" cy="1816.84" r="1.9" fill="#2BB89A"/>
<circle cx="1311.81" cy="1888.68" r="1.9" fill="#F07670"/>
<circle cx="1310.15" cy="1882.05" r="1.9" fill="#F07670"/>
<circle cx="1311.32" cy="1883.24" r="1.9" fill="#F07670"/>
<circle cx="1303.45" cy="1884.58" r="1.9" fill="#96AE3E"/>
<circle cx="1304.73" cy="1883.92" r="1.9" fill="#F07670"/>
<circle cx="1315.28" cy="1882.59" r="1.9" fill="#F07670"/>
<circle cx="1311.48" cy="1881.52" r="1.9" fill="#F07670"/>
<circle cx="1308.67" cy="1886.78" r="1.9" fill="#96AE3E"/>
<circle cx="1307.58" cy="1883.54" r="1.9" fill="#F07670"/>
<circle cx="1313.35" cy="1884.7" r="1.9" fill="#F07670"/>
<circle cx="1303.65" cy="1885.93" r="1.9" fill="#F07670"/>
<circle cx="1307.45" cy="1882.47" r="1.9" fill="#F07670"/>
<circle cx="1312.14" cy="1888.74" r="1.9" fill="#F07670"/>
<circle cx="1300.64" cy="1884.68" r="1.9" fill="#F07670"/>
<circle cx="1309.86" cy="1887.85" r="1.9" fill="#F07670"/>
<circle cx="1311.55" cy="1881.2" r="1.9" fill="#F07670"/>
<circle cx="1354.99" cy="1730.37" r="1.9" fill="#96AE3E"/>
<circle cx="1319.44" cy="1729.44" r="1.9" fill="#96AE3E"/>
<circle cx="1421.96" cy="1781.49" r="1.9" fill="#96AE3E"/>
<circle cx="1308.53" cy="1807.93" r="1.9" fill="#2BB89A"/>
<circle cx="1256.05" cy="1772.17" r="1.9" fill="#96AE3E"/>
<circle cx="1350.8" cy="1776.25" r="1.9" fill="#2BB89A"/>
<circle cx="1369.32" cy="1796.84" r="1.9" fill="#96AE3E"/>
<circle cx="1309.11" cy="1769.68" r="1.9" fill="#96AE3E"/>
<circle cx="1328.96" cy="1825.47" r="1.9" fill="#2BB89A"/>
<circle cx="1345.16" cy="1757.88" r="1.9" fill="#2BB89A"/>
<circle cx="1329.93" cy="1724.53" r="1.9" fill="#2BB89A"/>
<circle cx="1282.34" cy="1765.8" r="1.9" fill="#96AE3E"/>
<circle cx="1338.45" cy="1750.41" r="1.9" fill="#96AE3E"/>
<circle cx="1422.3" cy="1772.95" r="1.9" fill="#2BB89A"/>
<circle cx="1423.18" cy="1804.9" r="1.9" fill="#96AE3E"/>
<circle cx="1294.63" cy="1768.51" r="1.9" fill="#2BB89A"/>
<circle cx="1431.75" cy="1755.22" r="1.9" fill="#96AE3E"/>
<circle cx="1377.88" cy="1771.41" r="1.9" fill="#96AE3E"/>
<circle cx="1368.65" cy="1771.45" r="1.9" fill="#96AE3E"/>
<circle cx="1293.61" cy="1792.19" r="1.9" fill="#96AE3E"/>
<circle cx="1434.26" cy="1789.17" r="1.9" fill="#96AE3E"/>
<circle cx="1425.66" cy="1810.39" r="1.9" fill="#96AE3E"/>
<circle cx="1280.59" cy="1780.56" r="1.9" fill="#96AE3E"/>
<circle cx="1301.27" cy="1781.23" r="1.9" fill="#2BB89A"/>
<circle cx="1395.31" cy="1806.12" r="1.9" fill="#2BB89A"/>
<circle cx="1386.33" cy="1802.31" r="1.9" fill="#2BB89A"/>
<circle cx="1411.01" cy="1774.56" r="1.9" fill="#2BB89A"/>
<circle cx="1324.1" cy="1736.12" r="1.9" fill="#96AE3E"/>
<circle cx="1278.44" cy="1799.32" r="1.9" fill="#96AE3E"/>
<circle cx="1400.28" cy="1788.01" r="1.9" fill="#96AE3E"/>
<circle cx="1331.28" cy="1792.8" r="1.9" fill="#2BB89A"/>
<circle cx="1323.57" cy="1792.67" r="1.9" fill="#2BB89A"/>
<circle cx="1414.89" cy="1810.97" r="1.9" fill="#96AE3E"/>
<circle cx="1327.35" cy="1792.12" r="1.9" fill="#2BB89A"/>
<circle cx="1273.12" cy="1810.82" r="1.9" fill="#2BB89A"/>
<circle cx="1325.88" cy="1729.04" r="1.9" fill="#96AE3E"/>
<circle cx="1302.38" cy="1806.09" r="1.9" fill="#96AE3E"/>
<circle cx="1321.03" cy="1771.81" r="1.9" fill="#2BB89A"/>
<circle cx="1334.66" cy="1748.39" r="1.9" fill="#2BB89A"/>
<circle cx="1375.37" cy="1811.31" r="1.9" fill="#2BB89A"/>
<circle cx="998.6" cy="1714.04" r="1.9" fill="#96AE3E"/>
<circle cx="1081.3" cy="1716.12" r="1.9" fill="#96AE3E"/>
<circle cx="1061.37" cy="1715.27" r="1.9" fill="#2BB89A"/>
<circle cx="1125.35" cy="1729.03" r="1.9" fill="#96AE3E"/>
<circle cx="988.69" cy="1711.99" r="1.9" fill="#2BB89A"/>
<circle cx="1129.98" cy="1715.14" r="1.9" fill="#96AE3E"/>
<circle cx="1091.71" cy="1711.98" r="1.9" fill="#96AE3E"/>
<circle cx="1065.79" cy="1716.77" r="1.9" fill="#96AE3E"/>
<circle cx="1180.43" cy="1727.08" r="1.9" fill="#96AE3E"/>
<circle cx="1006.35" cy="1710.12" r="1.9" fill="#96AE3E"/>
<circle cx="1114.57" cy="1730.78" r="1.9" fill="#2BB89A"/>
<circle cx="1189.86" cy="1729.5" r="1.9" fill="#2BB89A"/>
<circle cx="975.61" cy="1716.76" r="1.9" fill="#96AE3E"/>
<circle cx="1070.18" cy="1717.1" r="1.9" fill="#96AE3E"/>
<circle cx="1149.6" cy="1727.52" r="1.9" fill="#96AE3E"/>
<circle cx="1135.79" cy="1723.08" r="1.9" fill="#96AE3E"/>
<circle cx="1008.03" cy="1698.96" r="1.9" fill="#2BB89A"/>
<circle cx="1190.81" cy="1728.55" r="1.9" fill="#96AE3E"/>
<circle cx="1031.05" cy="1706.68" r="1.9" fill="#96AE3E"/>
<circle cx="1056.83" cy="1723.28" r="1.9" fill="#2BB89A"/>
<circle cx="1074.88" cy="1719.65" r="1.9" fill="#96AE3E"/>
<circle cx="1149.14" cy="1721.81" r="1.9" fill="#96AE3E"/>
<circle cx="966.16" cy="1710.55" r="1.9" fill="#96AE3E"/>
<circle cx="1086.03" cy="1714.46" r="1.9" fill="#96AE3E"/>
<circle cx="1059.97" cy="1718.97" r="1.9" fill="#2BB89A"/>
<circle cx="1065.72" cy="1718.88" r="1.9" fill="#2BB89A"/>
<circle cx="1020.6" cy="1704.39" r="1.9" fill="#96AE3E"/>
<circle cx="1046.9" cy="1707.05" r="1.9" fill="#96AE3E"/>
<circle cx="1048.41" cy="1717.7" r="1.9" fill="#2BB89A"/>
<circle cx="1206.25" cy="1725.25" r="1.9" fill="#96AE3E"/>
<circle cx="1239.35" cy="1743.36" r="1.9" fill="#96AE3E"/>
<circle cx="1085.75" cy="1711.91" r="1.9" fill="#2BB89A"/>
<circle cx="1199.43" cy="1731.1" r="1.9" fill="#96AE3E"/>
<circle cx="1081.43" cy="1715.3" r="1.9" fill="#96AE3E"/>
<circle cx="1025.66" cy="1708.94" r="1.9" fill="#96AE3E"/>
<circle cx="965.97" cy="1710.94" r="1.9" fill="#96AE3E"/>
<circle cx="1046.47" cy="1715.36" r="1.9" fill="#96AE3E"/>
<circle cx="1063.33" cy="1718.29" r="1.9" fill="#96AE3E"/>
<circle cx="994.99" cy="1710.79" r="1.9" fill="#2BB89A"/>
<circle cx="1052.88" cy="1718.37" r="1.9" fill="#96AE3E"/>
<circle cx="1172.98" cy="1726.92" r="1.9" fill="#2BB89A"/>
<circle cx="1101.41" cy="1711.11" r="1.9" fill="#96AE3E"/>
<circle cx="1141.02" cy="1727.25" r="1.9" fill="#96AE3E"/>
<circle cx="1189" cy="1728.63" r="1.9" fill="#96AE3E"/>
<circle cx="1127.07" cy="1722.47" r="1.9" fill="#96AE3E"/>
<circle cx="1214.64" cy="1805.35" r="1.9" fill="#2BB89A"/>
<circle cx="1131.15" cy="1765.8" r="1.9" fill="#96AE3E"/>
<circle cx="1085.48" cy="1741.37" r="1.9" fill="#96AE3E"/>
<circle cx="1059.82" cy="1735.94" r="1.9" fill="#2BB89A"/>
<circle cx="1146.07" cy="1775.8" r="1.9" fill="#96AE3E"/>
<circle cx="1202.39" cy="1793.25" r="1.9" fill="#96AE3E"/>
<circle cx="1167.58" cy="1786.81" r="1.9" fill="#96AE3E"/>
<circle cx="1108.9" cy="1759.06" r="1.9" fill="#2BB89A"/>
<circle cx="1190.01" cy="1797.27" r="1.9" fill="#96AE3E"/>
<circle cx="1138.82" cy="1796.47" r="1.9" fill="#96AE3E"/>
<circle cx="1067.21" cy="1758.5" r="1.9" fill="#96AE3E"/>
<circle cx="1089.66" cy="1768.71" r="1.9" fill="#96AE3E"/>
<circle cx="1084.58" cy="1744.37" r="1.9" fill="#96AE3E"/>
<circle cx="1176.27" cy="1778.92" r="1.9" fill="#96AE3E"/>
<circle cx="1156.52" cy="1791.13" r="1.9" fill="#2BB89A"/>
<circle cx="1087.38" cy="1772.45" r="1.9" fill="#2BB89A"/>
<circle cx="1198.96" cy="1782.07" r="1.9" fill="#96AE3E"/>
<circle cx="1179.66" cy="1774.87" r="1.9" fill="#96AE3E"/>
<circle cx="1157.84" cy="1787.39" r="1.9" fill="#96AE3E"/>
<circle cx="1157.79" cy="1773.72" r="1.9" fill="#96AE3E"/>
<circle cx="1069.55" cy="1739.53" r="1.9" fill="#96AE3E"/>
<circle cx="1073.6" cy="1757.68" r="1.9" fill="#96AE3E"/>
<circle cx="1045.43" cy="1745.37" r="1.9" fill="#96AE3E"/>
<circle cx="1114.07" cy="1752.74" r="1.9" fill="#96AE3E"/>
<circle cx="1187.21" cy="1786.69" r="1.9" fill="#96AE3E"/>
<circle cx="1115.68" cy="1767.13" r="1.9" fill="#96AE3E"/>
<circle cx="1198.85" cy="1787.57" r="1.9" fill="#2BB89A"/>
<circle cx="1194.27" cy="1790.65" r="1.9" fill="#96AE3E"/>
<circle cx="1163.26" cy="1773.49" r="1.9" fill="#96AE3E"/>
<circle cx="1175.18" cy="1777.8" r="1.9" fill="#2BB89A"/>
<circle cx="1187.47" cy="1788.29" r="1.9" fill="#96AE3E"/>
<circle cx="1047.91" cy="1748.47" r="1.9" fill="#96AE3E"/>
<circle cx="1094.3" cy="1755.77" r="1.9" fill="#96AE3E"/>
<circle cx="1064.03" cy="1745.33" r="1.9" fill="#96AE3E"/>
<circle cx="1217.94" cy="1807.06" r="1.9" fill="#96AE3E"/>
<circle cx="1104.6" cy="1756.81" r="1.9" fill="#96AE3E"/>
<circle cx="1091.47" cy="1757.63" r="1.9" fill="#96AE3E"/>
<circle cx="1188.37" cy="1780.51" r="1.9" fill="#2BB89A"/>
<circle cx="1177.86" cy="1788.14" r="1.9" fill="#2BB89A"/>
<circle cx="1217.79" cy="1795.45" r="1.9" fill="#96AE3E"/>
<circle cx="1163.47" cy="1792.55" r="1.9" fill="#96AE3E"/>
<circle cx="1213.69" cy="1800.88" r="1.9" fill="#96AE3E"/>
<circle cx="1082.78" cy="1764.33" r="1.9" fill="#96AE3E"/>
<circle cx="1217.21" cy="1794.77" r="1.9" fill="#96AE3E"/>
<circle cx="1196.27" cy="1796.75" r="1.9" fill="#96AE3E"/>
<circle cx="1217.88" cy="1805.58" r="1.9" fill="#96AE3E"/>
<circle cx="1196.78" cy="1795.42" r="1.9" fill="#96AE3E"/>
<circle cx="1135.16" cy="1771.06" r="1.9" fill="#96AE3E"/>
<circle cx="1204.52" cy="1793.41" r="1.9" fill="#2BB89A"/>
<circle cx="1105.92" cy="1752.92" r="1.9" fill="#96AE3E"/>
<circle cx="1092.22" cy="1773.06" r="1.9" fill="#2BB89A"/>
<circle cx="1111.16" cy="1764.67" r="1.9" fill="#2BB89A"/>
<circle cx="1213.72" cy="1797.83" r="1.9" fill="#96AE3E"/>
<circle cx="1139.96" cy="1767.12" r="1.9" fill="#96AE3E"/>
<circle cx="1087.42" cy="1756.81" r="1.9" fill="#96AE3E"/>
<circle cx="1117.02" cy="1762.57" r="1.9" fill="#96AE3E"/>
<circle cx="1075.82" cy="1750.03" r="1.9" fill="#96AE3E"/>
<circle cx="1168.94" cy="1795.18" r="1.9" fill="#2BB89A"/>
<circle cx="1100.54" cy="1772.09" r="1.9" fill="#2BB89A"/>
<circle cx="1146.86" cy="1777.06" r="1.9" fill="#96AE3E"/>
<circle cx="1074.65" cy="1745.95" r="1.9" fill="#96AE3E"/>
<circle cx="1055.7" cy="1747.07" r="1.9" fill="#96AE3E"/>
<circle cx="1052.7" cy="1748.48" r="1.9" fill="#96AE3E"/>
<circle cx="1072.62" cy="1744.67" r="1.9" fill="#96AE3E"/>
<circle cx="1061.01" cy="1752.09" r="1.9" fill="#96AE3E"/>
<circle cx="1065.02" cy="1751.01" r="1.9" fill="#96AE3E"/>
<circle cx="1056.26" cy="1743.79" r="1.9" fill="#96AE3E"/>
<circle cx="1065.49" cy="1742.25" r="1.9" fill="#96AE3E"/>
<circle cx="1074.67" cy="1746.46" r="1.9" fill="#96AE3E"/>
<circle cx="1070.33" cy="1754.19" r="1.9" fill="#96AE3E"/>
<circle cx="1072.5" cy="1749.49" r="1.9" fill="#96AE3E"/>
<circle cx="1067.99" cy="1742.92" r="1.9" fill="#96AE3E"/>
<circle cx="1068.02" cy="1752.21" r="1.9" fill="#96AE3E"/>
<circle cx="1058.51" cy="1743.01" r="1.9" fill="#96AE3E"/>
<circle cx="997.38" cy="1718.63" r="1.9" fill="#96AE3E"/>
<circle cx="995.45" cy="1721.12" r="1.9" fill="#96AE3E"/>
<circle cx="977.67" cy="1724.73" r="1.9" fill="#96AE3E"/>
<circle cx="991.85" cy="1722.65" r="1.9" fill="#96AE3E"/>
<circle cx="984.84" cy="1706.27" r="1.9" fill="#F07670"/>
<circle cx="979.29" cy="1707.92" r="1.9" fill="#96AE3E"/>
<circle cx="977.08" cy="1706.6" r="1.9" fill="#96AE3E"/>
<circle cx="990.97" cy="1722.07" r="1.9" fill="#96AE3E"/>
<circle cx="982.49" cy="1713.16" r="1.9" fill="#96AE3E"/>
<circle cx="957.96" cy="1713.5" r="1.9" fill="#96AE3E"/>
<circle cx="936.7" cy="1758.08" r="1.9" fill="#2AB34B"/>
<circle cx="933.69" cy="1770.29" r="1.9" fill="#2AB34B"/>
<circle cx="926.72" cy="1745" r="1.9" fill="#2AB34B"/>
<circle cx="935.43" cy="1742.75" r="1.9" fill="#B97FBF"/>
<circle cx="930.64" cy="1743.57" r="1.9" fill="#B97FBF"/>
<circle cx="936.54" cy="1773.67" r="1.9" fill="#2AB34B"/>
<circle cx="937.84" cy="1758.45" r="1.9" fill="#B97FBF"/>
<circle cx="933.26" cy="1741.98" r="1.9" fill="#B97FBF"/>
<circle cx="933.63" cy="1778.54" r="1.9" fill="#2AB34B"/>
<circle cx="1003.99" cy="1849.21" r="1.9" fill="#B97FBF"/>
<circle cx="1002.75" cy="1847.84" r="1.9" fill="#2AB34B"/>
<circle cx="986.83" cy="1858.1" r="1.9" fill="#B97FBF"/>
<circle cx="1002.52" cy="1861.7" r="1.9" fill="#B97FBF"/>
<circle cx="993.01" cy="1850.59" r="1.9" fill="#B97FBF"/>
<circle cx="1003.83" cy="1860.28" r="1.9" fill="#B97FBF"/>
<circle cx="982.94" cy="1850.34" r="1.9" fill="#2AB34B"/>
<circle cx="1000.6" cy="1853.36" r="1.9" fill="#B97FBF"/>
<circle cx="1005.06" cy="1854.15" r="1.9" fill="#B97FBF"/>
<circle cx="986.2" cy="1851.79" r="1.9" fill="#2AB34B"/>
<circle cx="991.97" cy="1854.49" r="1.9" fill="#B97FBF"/>
<circle cx="988.06" cy="1858.78" r="1.9" fill="#B97FBF"/>
<circle cx="991.47" cy="1847.06" r="1.9" fill="#B97FBF"/>
<circle cx="999.8" cy="1846.44" r="1.9" fill="#B97FBF"/>
<circle cx="1003.24" cy="1852.61" r="1.9" fill="#B97FBF"/>
<circle cx="997.77" cy="1856.77" r="1.9" fill="#2AB34B"/>
<circle cx="1001.91" cy="1862.49" r="1.9" fill="#B97FBF"/>
<circle cx="1008.12" cy="1848.77" r="1.9" fill="#B97FBF"/>
<circle cx="1006.97" cy="1857.38" r="1.9" fill="#2AB34B"/>
<circle cx="1015.39" cy="1852.91" r="1.9" fill="#B97FBF"/>
<circle cx="995.08" cy="1844.74" r="1.9" fill="#B97FBF"/>
<circle cx="1006.43" cy="1855.32" r="1.9" fill="#B97FBF"/>
<circle cx="1007.23" cy="1855.08" r="1.9" fill="#B97FBF"/>
<circle cx="1004.68" cy="1854.2" r="1.9" fill="#B97FBF"/>
<circle cx="1005.92" cy="1851.56" r="1.9" fill="#B97FBF"/>
<circle cx="987.66" cy="1853.23" r="1.9" fill="#B97FBF"/>
<circle cx="1006.22" cy="1846.4" r="1.9" fill="#2AB34B"/>
<circle cx="1012.89" cy="1851.97" r="1.9" fill="#B97FBF"/>
<circle cx="987.57" cy="1850.11" r="1.9" fill="#2AB34B"/>
<circle cx="985.88" cy="1853.78" r="1.9" fill="#B97FBF"/>
<circle cx="1008.94" cy="1854.99" r="1.9" fill="#2AB34B"/>
<circle cx="1002.36" cy="1848.42" r="1.9" fill="#2AB34B"/>
<circle cx="983.58" cy="1855.96" r="1.9" fill="#B97FBF"/>
<circle cx="987.42" cy="1847.64" r="1.9" fill="#B97FBF"/>
<circle cx="1002.45" cy="1848.41" r="1.9" fill="#B97FBF"/>
<circle cx="1077.95" cy="1861.99" r="1.9" fill="#2AB34B"/>
<circle cx="1047.72" cy="1863" r="1.9" fill="#2AB34B"/>
<circle cx="1046.04" cy="1847.9" r="1.9" fill="#2AB34B"/>
<circle cx="1045.68" cy="1851.79" r="1.9" fill="#2AB34B"/>
<circle cx="1085.82" cy="1867.93" r="1.9" fill="#2AB34B"/>
<circle cx="1032.31" cy="1841.96" r="1.9" fill="#2AB34B"/>
<circle cx="1058.7" cy="1856.61" r="1.9" fill="#2AB34B"/>
<circle cx="1027.58" cy="1852.76" r="1.9" fill="#2AB34B"/>
<circle cx="1069" cy="1860.73" r="1.9" fill="#2AB34B"/>
<circle cx="1047.46" cy="1854.85" r="1.9" fill="#2AB34B"/>
<circle cx="1028.71" cy="1850.67" r="1.9" fill="#2AB34B"/>
<circle cx="1032.95" cy="1851.19" r="1.9" fill="#2AB34B"/>
<circle cx="1038.26" cy="1843.4" r="1.9" fill="#B97FBF"/>
<circle cx="1054.5" cy="1853.34" r="1.9" fill="#2AB34B"/>
<circle cx="1030.61" cy="1844.95" r="1.9" fill="#2AB34B"/>
<circle cx="1062.52" cy="1863.34" r="1.9" fill="#2AB34B"/>
<circle cx="1027.88" cy="1831.18" r="1.9" fill="#2AB34B"/>
<circle cx="1057.34" cy="1847.84" r="1.9" fill="#2AB34B"/>
<circle cx="1078.02" cy="1867.62" r="1.9" fill="#2AB34B"/>
<circle cx="1059.06" cy="1873.5" r="1.9" fill="#2AB34B"/>
<circle cx="1075.8" cy="1873.44" r="1.9" fill="#2AB34B"/>
<circle cx="1027.43" cy="1836.79" r="1.9" fill="#2AB34B"/>
<circle cx="1056.18" cy="1863.11" r="1.9" fill="#2AB34B"/>
<circle cx="1053.81" cy="1857.01" r="1.9" fill="#2AB34B"/>
<circle cx="1052.39" cy="1863.36" r="1.9" fill="#2AB34B"/>
<circle cx="1055.24" cy="1848.4" r="1.9" fill="#2AB34B"/>
<circle cx="1038.53" cy="1865.38" r="1.9" fill="#2AB34B"/>
<circle cx="1034.71" cy="1846.78" r="1.9" fill="#2AB34B"/>
<circle cx="1041.51" cy="1837.11" r="1.9" fill="#2AB34B"/>
<circle cx="1071.74" cy="1862.83" r="1.9" fill="#2AB34B"/>
<circle cx="1043.45" cy="1840.86" r="1.9" fill="#2AB34B"/>
<circle cx="1070.94" cy="1861.85" r="1.9" fill="#2AB34B"/>
<circle cx="1030.79" cy="1848.55" r="1.9" fill="#2AB34B"/>
<circle cx="1058.51" cy="1854.64" r="1.9" fill="#2AB34B"/>
<circle cx="1092.88" cy="1867.58" r="1.9" fill="#2AB34B"/>
<circle cx="1061.6" cy="1861.98" r="1.9" fill="#2AB34B"/>
<circle cx="1057.43" cy="1858.41" r="1.9" fill="#2AB34B"/>
<circle cx="1041.93" cy="1840.92" r="1.9" fill="#2AB34B"/>
<circle cx="1047.4" cy="1860.05" r="1.9" fill="#2AB34B"/>
<circle cx="1074.83" cy="1850.7" r="1.9" fill="#2AB34B"/>
<circle cx="1103.69" cy="1884.05" r="1.9" fill="#2AB34B"/>
<circle cx="1098.29" cy="1888.14" r="1.9" fill="#2AB34B"/>
<circle cx="1086.74" cy="1883.88" r="1.9" fill="#2AB34B"/>
<circle cx="1109.86" cy="1884.78" r="1.9" fill="#2AB34B"/>
<circle cx="1079.01" cy="1877.02" r="1.9" fill="#2AB34B"/>
<circle cx="1107.51" cy="1899.07" r="1.9" fill="#2AB34B"/>
<circle cx="1079.58" cy="1879.34" r="1.9" fill="#2AB34B"/>
<circle cx="1085.92" cy="1888.78" r="1.9" fill="#2AB34B"/>
<circle cx="1076.7" cy="1884" r="1.9" fill="#2AB34B"/>
<circle cx="1089.65" cy="1897.06" r="1.9" fill="#2AB34B"/>
<circle cx="1114.03" cy="1883.21" r="1.9" fill="#2AB34B"/>
<circle cx="1097.16" cy="1899.57" r="1.9" fill="#2AB34B"/>
<circle cx="1115.1" cy="1891.24" r="1.9" fill="#2AB34B"/>
<circle cx="1099.06" cy="1897.37" r="1.9" fill="#2AB34B"/>
<circle cx="1094.97" cy="1885.81" r="1.9" fill="#2AB34B"/>
<circle cx="1082.75" cy="1876.8" r="1.9" fill="#2AB34B"/>
<circle cx="1095.48" cy="1893.25" r="1.9" fill="#2AB34B"/>
<circle cx="1099.54" cy="1892.21" r="1.9" fill="#2AB34B"/>
<circle cx="1087.21" cy="1893.94" r="1.9" fill="#2AB34B"/>
<circle cx="1105.94" cy="1881.01" r="1.9" fill="#2AB34B"/>
<circle cx="1091.95" cy="1882.64" r="1.9" fill="#2AB34B"/>
<circle cx="1082.25" cy="1880.63" r="1.9" fill="#2AB34B"/>
<circle cx="1088.36" cy="1890.66" r="1.9" fill="#E26BAA"/>
<circle cx="1110.75" cy="1896.48" r="1.9" fill="#2AB34B"/>
<circle cx="1114.87" cy="1889.72" r="1.9" fill="#2AB34B"/>
<circle cx="1091.39" cy="1881.14" r="1.9" fill="#2AB34B"/>
<circle cx="1109.67" cy="1879.21" r="1.9" fill="#2AB34B"/>
<circle cx="1109.64" cy="1894.22" r="1.9" fill="#2AB34B"/>
<circle cx="1083.95" cy="1886.92" r="1.9" fill="#2AB34B"/>
<circle cx="1095.37" cy="1880.69" r="1.9" fill="#2AB34B"/>
<circle cx="1091.29" cy="1878.81" r="1.9" fill="#2AB34B"/>
<circle cx="1087.25" cy="1890.66" r="1.9" fill="#2AB34B"/>
<circle cx="1106.16" cy="1878.75" r="1.9" fill="#2AB34B"/>
<circle cx="1089.81" cy="1876.79" r="1.9" fill="#2AB34B"/>
<circle cx="1075.69" cy="1882.22" r="1.9" fill="#2AB34B"/>
<circle cx="1077.22" cy="1888.11" r="1.9" fill="#2AB34B"/>
<circle cx="1096.97" cy="1881.8" r="1.9" fill="#2AB34B"/>
<circle cx="1097.84" cy="1884.1" r="1.9" fill="#2AB34B"/>
<circle cx="1089.1" cy="1893.95" r="1.9" fill="#2AB34B"/>
<circle cx="1100.01" cy="1878.78" r="1.9" fill="#2AB34B"/>
<circle cx="1096.32" cy="1893.35" r="1.9" fill="#2AB34B"/>
<circle cx="1081.1" cy="1886.83" r="1.9" fill="#2AB34B"/>
<circle cx="1077.77" cy="1889.19" r="1.9" fill="#2AB34B"/>
<circle cx="1107.82" cy="1890.72" r="1.9" fill="#2AB34B"/>
<circle cx="1111.79" cy="1892.42" r="1.9" fill="#2AB34B"/>
<circle cx="1106.38" cy="1879.14" r="1.9" fill="#2AB34B"/>
<circle cx="1091.11" cy="1889.8" r="1.9" fill="#2AB34B"/>
<circle cx="1083.66" cy="1883.41" r="1.9" fill="#2AB34B"/>
<circle cx="1107.41" cy="1881.07" r="1.9" fill="#E26BAA"/>
<circle cx="1099.09" cy="1894.13" r="1.9" fill="#2AB34B"/>
<circle cx="1091.93" cy="1883.1" r="1.9" fill="#2AB34B"/>
<circle cx="1096.21" cy="1880.91" r="1.9" fill="#2AB34B"/>
<circle cx="1111.3" cy="1891.29" r="1.9" fill="#2AB34B"/>
<circle cx="1099.89" cy="1899.61" r="1.9" fill="#2AB34B"/>
<circle cx="1097.06" cy="1884.91" r="1.9" fill="#2AB34B"/>
<circle cx="1108.42" cy="1890.75" r="1.9" fill="#2AB34B"/>
<circle cx="1109.04" cy="1894.56" r="1.9" fill="#2AB34B"/>
<circle cx="1082.43" cy="1883.59" r="1.9" fill="#2AB34B"/>
<circle cx="1088.2" cy="1876.47" r="1.9" fill="#2AB34B"/>
<circle cx="1101.07" cy="1892.84" r="1.9" fill="#2AB34B"/>
<circle cx="1093.03" cy="1885.03" r="1.9" fill="#2AB34B"/>
<circle cx="1092.89" cy="1892.81" r="1.9" fill="#2AB34B"/>
<circle cx="1076.15" cy="1887.93" r="1.9" fill="#2AB34B"/>
<circle cx="1078.08" cy="1888.77" r="1.9" fill="#2AB34B"/>
<circle cx="1100.26" cy="1891.82" r="1.9" fill="#2AB34B"/>
<circle cx="1108.52" cy="1879.89" r="1.9" fill="#2AB34B"/>
<circle cx="1110.11" cy="1894.27" r="1.9" fill="#2AB34B"/>
<circle cx="1108.01" cy="1899.44" r="1.9" fill="#2AB34B"/>
<circle cx="1083.29" cy="1878.75" r="1.9" fill="#2AB34B"/>
<circle cx="1080.01" cy="1889.01" r="1.9" fill="#2AB34B"/>
<circle cx="1101.6" cy="1877.33" r="1.9" fill="#2AB34B"/>
<circle cx="1108.34" cy="1897.29" r="1.9" fill="#E26BAA"/>
<circle cx="1094.74" cy="1885.21" r="1.9" fill="#2AB34B"/>
<circle cx="1096.76" cy="1899.07" r="1.9" fill="#2AB34B"/>
<circle cx="1113.11" cy="1887.45" r="1.9" fill="#2AB34B"/>
<circle cx="1098" cy="1899.91" r="1.9" fill="#2AB34B"/>
<circle cx="1109.26" cy="1881.63" r="1.9" fill="#2AB34B"/>
<circle cx="1085.45" cy="1878.11" r="1.9" fill="#2AB34B"/>
<circle cx="1099.42" cy="1883.09" r="1.9" fill="#2AB34B"/>
<circle cx="1104.53" cy="1898.34" r="1.9" fill="#2AB34B"/>
<circle cx="1086.95" cy="1883.57" r="1.9" fill="#2AB34B"/>
<circle cx="1096.95" cy="1875.15" r="1.9" fill="#2AB34B"/>
<circle cx="1100.15" cy="1889.25" r="1.9" fill="#2AB34B"/>
<circle cx="1098.29" cy="1882.35" r="1.9" fill="#2AB34B"/>
<circle cx="1096.18" cy="1883.46" r="1.9" fill="#2AB34B"/>
<circle cx="1085.76" cy="1887.14" r="1.9" fill="#2AB34B"/>
<circle cx="1082.79" cy="1886" r="1.9" fill="#2AB34B"/>
<circle cx="1094.54" cy="1897.7" r="1.9" fill="#2AB34B"/>
<circle cx="1091.57" cy="1879.53" r="1.9" fill="#2AB34B"/>
<circle cx="1103.17" cy="1885.89" r="1.9" fill="#2AB34B"/>
<circle cx="1098.42" cy="1883.36" r="1.9" fill="#2AB34B"/>
<circle cx="1117.21" cy="1889.46" r="1.9" fill="#2AB34B"/>
<circle cx="1093.87" cy="1890.4" r="1.9" fill="#2AB34B"/>
<circle cx="1087.93" cy="1889.63" r="1.9" fill="#2AB34B"/>
<circle cx="1100.05" cy="1877.09" r="1.9" fill="#2AB34B"/>
<circle cx="1107.1" cy="1893.59" r="1.9" fill="#2AB34B"/>
<circle cx="1094.54" cy="1880.93" r="1.9" fill="#2AB34B"/>
<circle cx="1109.57" cy="1880.41" r="1.9" fill="#2AB34B"/>
<circle cx="1083.45" cy="1886.19" r="1.9" fill="#2AB34B"/>
<circle cx="1092.04" cy="1876.26" r="1.9" fill="#2AB34B"/>
<circle cx="1098.14" cy="1896.15" r="1.9" fill="#2AB34B"/>
<circle cx="1086.84" cy="1896.18" r="1.9" fill="#2AB34B"/>
<circle cx="1097.5" cy="1874.34" r="1.9" fill="#2AB34B"/>
<circle cx="1080.56" cy="1883.09" r="1.9" fill="#2AB34B"/>
<circle cx="1100.81" cy="1883.22" r="1.9" fill="#2AB34B"/>
<circle cx="1110.85" cy="1889.6" r="1.9" fill="#2AB34B"/>
<circle cx="1104.16" cy="1878.29" r="1.9" fill="#2AB34B"/>
<circle cx="1095.08" cy="1875.25" r="1.9" fill="#2AB34B"/>
<circle cx="1084.85" cy="1875.35" r="1.9" fill="#2AB34B"/>
<circle cx="1082.72" cy="1875.88" r="1.9" fill="#2AB34B"/>
<circle cx="1112.49" cy="1889.6" r="1.9" fill="#E26BAA"/>
<circle cx="1116.76" cy="1900.9" r="1.9" fill="#2AB34B"/>
<circle cx="1125.29" cy="1902.73" r="1.9" fill="#2AB34B"/>
<circle cx="1130.88" cy="1903.98" r="1.9" fill="#2AB34B"/>
<circle cx="1133.09" cy="1904.43" r="1.9" fill="#2AB34B"/>
<circle cx="1122.23" cy="1899.01" r="1.9" fill="#2AB34B"/>
<circle cx="1124.42" cy="1906.59" r="1.9" fill="#2AB34B"/>
<circle cx="1127" cy="1907.01" r="1.9" fill="#2AB34B"/>
<circle cx="1127.71" cy="1903.89" r="1.9" fill="#2AB34B"/>
<circle cx="1128.32" cy="1905.7" r="1.9" fill="#2AB34B"/>
<circle cx="1131.48" cy="1899.53" r="1.9" fill="#2AB34B"/>
<circle cx="1128.72" cy="1901.72" r="1.9" fill="#2AB34B"/>
<circle cx="1132.22" cy="1906.27" r="1.9" fill="#2AB34B"/>
<circle cx="1128.16" cy="1902" r="1.9" fill="#2AB34B"/>
<circle cx="1120.49" cy="1895.91" r="1.9" fill="#2AB34B"/>
<circle cx="1204.43" cy="1907.84" r="1.9" fill="#E26BAA"/>
<circle cx="1198.81" cy="1911.88" r="1.9" fill="#E26BAA"/>
<circle cx="1213.8" cy="1909.31" r="1.9" fill="#2AB34B"/>
<circle cx="1185.86" cy="1908.69" r="1.9" fill="#E26BAA"/>
<circle cx="1197.9" cy="1910.6" r="1.9" fill="#E26BAA"/>
<circle cx="1188.9" cy="1906.49" r="1.9" fill="#E26BAA"/>
<circle cx="1189.32" cy="1910.04" r="1.9" fill="#2AB34B"/>
<circle cx="1179.44" cy="1905.81" r="1.9" fill="#2AB34B"/>
<circle cx="1210.01" cy="1904.32" r="1.9" fill="#E26BAA"/>
<circle cx="1187.4" cy="1905.84" r="1.9" fill="#E26BAA"/>
<circle cx="1179.04" cy="1906.49" r="1.9" fill="#E26BAA"/>
<circle cx="1199.15" cy="1911.8" r="1.9" fill="#E26BAA"/>
<circle cx="1216.55" cy="1910.84" r="1.9" fill="#E26BAA"/>
<circle cx="1198.14" cy="1911.23" r="1.9" fill="#E26BAA"/>
<circle cx="1205.23" cy="1912" r="1.9" fill="#E26BAA"/>
<circle cx="1196.79" cy="1909.29" r="1.9" fill="#E26BAA"/>
<circle cx="1202.86" cy="1909.04" r="1.9" fill="#E26BAA"/>
<circle cx="1190.22" cy="1904.2" r="1.9" fill="#E26BAA"/>
<circle cx="1178.48" cy="1905.96" r="1.9" fill="#E26BAA"/>
<circle cx="1204.68" cy="1904.87" r="1.9" fill="#E26BAA"/>
<circle cx="1204.01" cy="1911.43" r="1.9" fill="#E26BAA"/>
<circle cx="1196.45" cy="1900.78" r="1.9" fill="#E26BAA"/>
<circle cx="1208.65" cy="1905.1" r="1.9" fill="#E26BAA"/>
<circle cx="1181.38" cy="1901.67" r="1.9" fill="#E26BAA"/>
<circle cx="1211.79" cy="1909.72" r="1.9" fill="#E26BAA"/>
<circle cx="1181.21" cy="1904.81" r="1.9" fill="#E26BAA"/>
<circle cx="1196.58" cy="1906.32" r="1.9" fill="#E26BAA"/>
<circle cx="1191.28" cy="1903.52" r="1.9" fill="#E26BAA"/>
<circle cx="1192.95" cy="1902" r="1.9" fill="#E26BAA"/>
<circle cx="1215.15" cy="1906.67" r="1.9" fill="#E26BAA"/>
<circle cx="1203.16" cy="1903.42" r="1.9" fill="#E26BAA"/>
<circle cx="1179.17" cy="1903.71" r="1.9" fill="#E26BAA"/>
<circle cx="1191.58" cy="1901.71" r="1.9" fill="#E26BAA"/>
<circle cx="1186.73" cy="1902.08" r="1.9" fill="#E26BAA"/>
<circle cx="1207.51" cy="1911.42" r="1.9" fill="#E26BAA"/>
<circle cx="1190.07" cy="1905.32" r="1.9" fill="#E26BAA"/>
<circle cx="1196.1" cy="1899.8" r="1.9" fill="#E26BAA"/>
<circle cx="1217.18" cy="1904.1" r="1.9" fill="#E26BAA"/>
<circle cx="1196.4" cy="1902.41" r="1.9" fill="#2AB34B"/>
<circle cx="1209" cy="1909.72" r="1.9" fill="#2AB34B"/>
<circle cx="1221.11" cy="1909.57" r="1.9" fill="#E26BAA"/>
<circle cx="1201.15" cy="1906.02" r="1.9" fill="#2AB34B"/>
<circle cx="1214.42" cy="1904.24" r="1.9" fill="#E26BAA"/>
<circle cx="1210.33" cy="1908.94" r="1.9" fill="#E26BAA"/>
<circle cx="1189.05" cy="1908.4" r="1.9" fill="#E26BAA"/>
<circle cx="1199.82" cy="1911.11" r="1.9" fill="#E26BAA"/>
<circle cx="1216.19" cy="1903.59" r="1.9" fill="#E26BAA"/>
<circle cx="1177.45" cy="1902.92" r="1.9" fill="#2AB34B"/>
<circle cx="1214.21" cy="1907.08" r="1.9" fill="#E26BAA"/>
<circle cx="1212.25" cy="1904.67" r="1.9" fill="#E26BAA"/>
<circle cx="1203.13" cy="1901.86" r="1.9" fill="#E26BAA"/>
<circle cx="1210.8" cy="1905.91" r="1.9" fill="#E26BAA"/>
<circle cx="1211.4" cy="1902.02" r="1.9" fill="#E26BAA"/>
<circle cx="1183.04" cy="1908.4" r="1.9" fill="#E26BAA"/>
<circle cx="1191.8" cy="1908.87" r="1.9" fill="#E26BAA"/>
<circle cx="852" cy="1595" r="1.9" fill="#96AE3E"/>
<circle cx="1514.6" cy="1621" r="1.9" fill="#96AE3E"/>
<circle cx="1238" cy="1673" r="1.9" fill="#2AB34B"/>
<circle cx="1254" cy="1905" r="1.9" fill="#F07670"/>
<circle cx="1254" cy="1850" r="1.9" fill="#96AE3E"/>
<circle cx="1381" cy="1704" r="1.9" fill="#2BB89A"/>
<circle cx="1377" cy="1694" r="1.9" fill="#2BB89A"/>
<text x="700" y="1626.6" font-size="28" font-weight="bold" textLength="119.5" lengthAdjust="spacingAndGlyphs">Cell Type</text>
<circle cx="705" cy="1643.5" r="12" fill="#1CBCC4"/>
<text x="721" y="1650" font-size="23.5" textLength="27.3" lengthAdjust="spacingAndGlyphs">FP</text>
<circle cx="705" cy="1679.3" r="12" fill="#EF766F"/>
<text x="721" y="1686.7" font-size="23.5" textLength="68" lengthAdjust="spacingAndGlyphs">nonFP</text>
<text x="872.6" y="1425" font-size="28" font-weight="bold" textLength="196.7" lengthAdjust="spacingAndGlyphs">Embryonic day</text>
<circle cx="886.6" cy="1443" r="12" fill="#EF766F"/>
<text x="910" y="1451.2" font-size="23.5" textLength="59" lengthAdjust="spacingAndGlyphs">E11.5</text>
<circle cx="886.6" cy="1471.9" r="12" fill="#2BB24E"/>
<text x="910" y="1480.1" font-size="23.5" textLength="59" lengthAdjust="spacingAndGlyphs">E12.5</text>
<circle cx="886.6" cy="1500.8" r="12" fill="#1CBCC4"/>
<text x="910" y="1509" font-size="23.5" textLength="59" lengthAdjust="spacingAndGlyphs">E13.5</text>
<circle cx="995" cy="1443" r="12" fill="#B5A033"/>
<text x="1018.4" y="1451.2" font-size="23.5" textLength="59" lengthAdjust="spacingAndGlyphs">E14.5</text>
<circle cx="995" cy="1471.9" r="12" fill="#7094D0"/>
<text x="1018.4" y="1480.1" font-size="23.5" textLength="59" lengthAdjust="spacingAndGlyphs">E15.5</text>
<circle cx="995" cy="1500.8" r="12" fill="#2BB24E"/>
<text x="1018.4" y="1509" font-size="23.5" textLength="59" lengthAdjust="spacingAndGlyphs">E18.5</text>
<text x="1534" y="1577.5" font-size="28" font-weight="bold" textLength="216.4" lengthAdjust="spacingAndGlyphs">Embryonic week</text>
<circle cx="1554.9" cy="1597.5" r="12.5" fill="#B97FBF"/>
<text x="1569.5" y="1605.7" font-size="23.5" textLength="30.38" lengthAdjust="spacingAndGlyphs">5.5</text>
<circle cx="1554.9" cy="1625.8" r="12.5" fill="#2BB89A"/>
<text x="1569.5" y="1634" font-size="23.5" textLength="30.38" lengthAdjust="spacingAndGlyphs">6.5</text>
<circle cx="1554.9" cy="1654.1" r="12.5" fill="#2AB34B"/>
<text x="1569.5" y="1662.3" font-size="23.5" textLength="12.15" lengthAdjust="spacingAndGlyphs">7</text>
<circle cx="1554.9" cy="1682.4" r="12.5" fill="#96AE3E"/>
<text x="1569.5" y="1690.6" font-size="23.5" textLength="12.15" lengthAdjust="spacingAndGlyphs">8</text>
<circle cx="1554.9" cy="1710.7" r="12.5" fill="#E26BAA"/>
<text x="1569.5" y="1718.9" font-size="23.5" textLength="30.38" lengthAdjust="spacingAndGlyphs">8.5</text>
<circle cx="1554.9" cy="1739" r="12.5" fill="#F07670"/>
<text x="1569.5" y="1747.2" font-size="23.5" textLength="12.15" lengthAdjust="spacingAndGlyphs">9</text>
<circle cx="1554.9" cy="1767.3" r="12.5" fill="#6F94CE"/>
<text x="1569.5" y="1775.5" font-size="23.5" textLength="40.91" lengthAdjust="spacingAndGlyphs">11.5</text>
<circle cx="1554.9" cy="1795.6" r="12.5" fill="#1CB5E6"/>
<text x="1569.5" y="1803.8" font-size="23.5" textLength="24.31" lengthAdjust="spacingAndGlyphs">12</text>
<circle cx="1554.9" cy="1823.9" r="12.5" fill="#D4962E"/>
<text x="1569.5" y="1832.1" font-size="23.5" textLength="24.31" lengthAdjust="spacingAndGlyphs">14</text>
<text x="8.8" y="2100.5" font-size="44" font-weight="bold">f</text>
<text x="229" y="2080" font-size="35" font-weight="bold" text-anchor="middle" textLength="151" lengthAdjust="spacingAndGlyphs">hFP-Rgl1</text>
<path d="M225 2284.5 L417 2284.5 A192 192 0 0 0 415.33 2259.26 Z" fill="#B97FBF" stroke="#B97FBF" stroke-width="0.6"/>
<path d="M225 2284.5 L415.33 2259.26 A192 192 0 0 0 389.7 2185.82 Z" fill="#2BB89A" stroke="#2BB89A" stroke-width="0.6"/>
<path d="M225 2284.5 L389.7 2185.82 A192 192 0 0 0 34.75 2258.67 Z" fill="#2AB34B" stroke="#2AB34B" stroke-width="0.6"/>
<path d="M225 2284.5 L34.75 2258.67 A192 192 0 0 0 239.75 2475.93 Z" fill="#96AE3E" stroke="#96AE3E" stroke-width="0.6"/>
<path d="M225 2284.5 L239.75 2475.93 A192 192 0 0 0 382.5 2394.31 Z" fill="#E26BAA" stroke="#E26BAA" stroke-width="0.6"/>
<path d="M225 2284.5 L382.5 2394.31 A192 192 0 0 0 392.12 2379.02 Z" fill="#F07670" stroke="#F07670" stroke-width="0.6"/>
<path d="M225 2284.5 L392.12 2379.02 A192 192 0 0 0 405.26 2350.61 Z" fill="#6F94CE" stroke="#6F94CE" stroke-width="0.6"/>
<path d="M225 2284.5 L405.26 2350.61 A192 192 0 0 0 410.68 2333.37 Z" fill="#1CB5E6" stroke="#1CB5E6" stroke-width="0.6"/>
<path d="M225 2284.5 L410.68 2333.37 A192 192 0 0 0 417 2284.5 Z" fill="#D4962E" stroke="#D4962E" stroke-width="0.6"/>
<text x="733.6" y="2080" font-size="35" font-weight="bold" text-anchor="middle" textLength="216.7" lengthAdjust="spacingAndGlyphs">hnonFP-Rgl1</text>
<path d="M740.5 2290 L930.5 2290 A190 190 0 0 0 925.92 2248.51 Z" fill="#B97FBF" stroke="#B97FBF" stroke-width="0.6"/>
<path d="M740.5 2290 L925.92 2248.51 A190 190 0 0 0 678.05 2110.56 Z" fill="#2BB89A" stroke="#2BB89A" stroke-width="0.6"/>
<path d="M740.5 2290 L678.05 2110.56 A190 190 0 0 0 556.63 2242.12 Z" fill="#2AB34B" stroke="#2AB34B" stroke-width="0.6"/>
<path d="M740.5 2290 L556.63 2242.12 A190 190 0 0 0 862.4 2435.74 Z" fill="#96AE3E" stroke="#96AE3E" stroke-width="0.6"/>
<path d="M740.5 2290 L862.4 2435.74 A190 190 0 0 0 866.92 2431.84 Z" fill="#E26BAA" stroke="#E26BAA" stroke-width="0.6"/>
<path d="M740.5 2290 L866.92 2431.84 A190 190 0 0 0 900.22 2392.9 Z" fill="#F07670" stroke="#F07670" stroke-width="0.6"/>
<path d="M740.5 2290 L900.22 2392.9 A190 190 0 0 0 917.13 2360.01 Z" fill="#6F94CE" stroke="#6F94CE" stroke-width="0.6"/>
<path d="M740.5 2290 L917.13 2360.01 A190 190 0 0 0 921.18 2348.77 Z" fill="#1CB5E6" stroke="#1CB5E6" stroke-width="0.6"/>
<path d="M740.5 2290 L921.18 2348.77 A190 190 0 0 0 930.5 2290 Z" fill="#D4962E" stroke="#D4962E" stroke-width="0.6"/>
<text x="49.8" y="2112.2" font-size="28" textLength="76.37" lengthAdjust="spacingAndGlyphs">39.3%</text>
<text x="408.7" y="2223.5" font-size="28" textLength="61.39" lengthAdjust="spacingAndGlyphs">6.5%</text>
<text x="418.6" y="2285" font-size="28" textLength="61.39" lengthAdjust="spacingAndGlyphs">2.1%</text>
<text x="418.6" y="2326" font-size="28" textLength="61.39" lengthAdjust="spacingAndGlyphs">4.1%</text>
<text x="420.4" y="2355" font-size="28" textLength="61.39" lengthAdjust="spacingAndGlyphs">1.5%</text>
<text x="408.7" y="2380.4" font-size="28" textLength="61.39" lengthAdjust="spacingAndGlyphs">2.6%</text>
<text x="389.4" y="2409.7" font-size="28" textLength="61.39" lengthAdjust="spacingAndGlyphs">1.5%</text>
<text x="316" y="2475.2" font-size="28" textLength="76.37" lengthAdjust="spacingAndGlyphs">14.1%</text>
<text x="10.5" y="2453.6" font-size="28" textLength="76.37" lengthAdjust="spacingAndGlyphs">28.4%</text>
<text x="844.9" y="2134" font-size="28" textLength="76.37" lengthAdjust="spacingAndGlyphs">26.8%</text>
<text x="512.3" y="2172.5" font-size="28" textLength="76.37" lengthAdjust="spacingAndGlyphs">15.6%</text>
<text x="935.6" y="2286" font-size="28" textLength="61.39" lengthAdjust="spacingAndGlyphs">3.5%</text>
<text x="935.6" y="2334.7" font-size="28" textLength="38.93" lengthAdjust="spacingAndGlyphs">5%</text>
<text x="926.3" y="2372.8" font-size="28" textLength="38.93" lengthAdjust="spacingAndGlyphs">1%</text>
<text x="912.2" y="2399" font-size="28" textLength="61.39" lengthAdjust="spacingAndGlyphs">3.1%</text>
<text x="892.9" y="2430" font-size="28" textLength="61.39" lengthAdjust="spacingAndGlyphs">4.3%</text>
<text x="866.5" y="2460.6" font-size="28" textLength="61.39" lengthAdjust="spacingAndGlyphs">0.5%</text>
<text x="527" y="2453.6" font-size="28" textLength="76.37" lengthAdjust="spacingAndGlyphs">40.1%</text>
<text x="1015" y="2162" font-size="28" font-weight="bold" textLength="217" lengthAdjust="spacingAndGlyphs">Embryonic week</text>
<circle cx="1035.4" cy="2179.4" r="12.2" fill="#B97FBF"/>
<text x="1050" y="2187.6" font-size="23.5" textLength="30.38" lengthAdjust="spacingAndGlyphs">5.5</text>
<circle cx="1035.4" cy="2207.84" r="12.2" fill="#2BB89A"/>
<text x="1050" y="2216.04" font-size="23.5" textLength="30.38" lengthAdjust="spacingAndGlyphs">6.5</text>
<circle cx="1035.4" cy="2236.28" r="12.2" fill="#2AB34B"/>
<text x="1050" y="2244.48" font-size="23.5" textLength="12.15" lengthAdjust="spacingAndGlyphs">7</text>
<circle cx="1035.4" cy="2264.72" r="12.2" fill="#96AE3E"/>
<text x="1050" y="2272.92" font-size="23.5" textLength="12.15" lengthAdjust="spacingAndGlyphs">8</text>
<circle cx="1035.4" cy="2293.16" r="12.2" fill="#E26BAA"/>
<text x="1050" y="2301.36" font-size="23.5" textLength="30.38" lengthAdjust="spacingAndGlyphs">8.5</text>
<circle cx="1035.4" cy="2321.6" r="12.2" fill="#F07670"/>
<text x="1050" y="2329.8" font-size="23.5" textLength="12.15" lengthAdjust="spacingAndGlyphs">9</text>
<circle cx="1035.4" cy="2350.04" r="12.2" fill="#6F94CE"/>
<text x="1050" y="2358.24" font-size="23.5" textLength="40.91" lengthAdjust="spacingAndGlyphs">11.5</text>
<circle cx="1035.4" cy="2378.48" r="12.2" fill="#1CB5E6"/>
<text x="1050" y="2386.68" font-size="23.5" textLength="24.31" lengthAdjust="spacingAndGlyphs">12</text>
<circle cx="1035.4" cy="2406.92" r="12.2" fill="#D4962E"/>
<text x="1050" y="2415.12" font-size="23.5" textLength="24.31" lengthAdjust="spacingAndGlyphs">14</text>
<text x="1322.8" y="2111.5" font-size="44" font-weight="bold">i</text>
<text x="1570.5" y="2065" font-size="35" font-weight="bold" text-anchor="middle" textLength="158" lengthAdjust="spacingAndGlyphs">ALDH1A1</text>
<path d="M1667.1 2077.6 L1683 2075.8 L1698.8 2070.5 L1702.3 2074 L1709.3 2089.9 L1718.1 2098.6 L1728.6 2109.2 L1727.7 2118 L1718.1 2128.5 L1705.8 2132 L1693.5 2133.8 L1686.5 2140.8 L1679.4 2137.3 L1672.4 2144.3 L1665.4 2154.9 L1658.4 2165.4 L1658.4 2172.4 L1674.2 2179.4 L1693.5 2184.7 L1704 2191.7 L1702.3 2200.5 L1686.5 2205.8 L1681.2 2214.6 L1672.4 2209.3 L1658.4 2202.3 L1639 2198.8 L1621.5 2204 L1603.9 2200.5 L1588.1 2204 L1583.7 2200.5 L1591.6 2190 L1605.7 2186.5 L1618 2172.4 L1626.7 2158.4 L1637.3 2144.3 L1644.3 2130.3 L1646.1 2112.7 L1649.6 2095.1 L1658.4 2084.6 Z" fill="#D4D4D4" stroke="#D4D4D4" stroke-width="4" stroke-linejoin="round"/>
<path d="M1513.8 2194.1 L1526 2192.3 L1534.8 2199.3 L1536.6 2209.9 L1541.9 2218.4 L1555.9 2215.9 L1573.5 2210.6 L1584 2206.9 L1588 2203 L1591 2207 L1587.5 2214.1 L1570 2225.7 L1559.4 2232.7 L1552.4 2238 L1547.1 2246.7 L1552.4 2257.3 L1562.9 2264.3 L1562.9 2274.9 L1557.7 2280.1 L1562.9 2288.9 L1568.2 2292.2 L1555.9 2295.9 L1543.6 2290.7 L1538.4 2280.1 L1520.8 2280.1 L1510.2 2274.9 L1494.4 2264.3 L1482.1 2259 L1468.1 2252 L1450.5 2250.3 L1438.2 2248.5 L1440 2245 L1450.5 2243.2 L1464.6 2238 L1483.9 2239.7 L1489.2 2229.2 L1499.7 2220.4 L1503.2 2211.6 L1508.5 2201.1 Z" fill="#D4D4D4" stroke="#D4D4D4" stroke-width="4" stroke-linejoin="round"/>
<path d="M1560 2289 L1577.6 2285 L1595.1 2283.1 L1630.3 2276 L1665.4 2251.5 L1683 2249.7 L1718.1 2244.4 L1753.2 2233.9 L1779.6 2223.4 L1809.4 2215.5 L1813.8 2218.1 L1809.4 2225.1 L1805.9 2235.7 L1788.4 2235.7 L1762 2242.7 L1735.7 2255 L1709.3 2265.5 L1683 2276 L1665.4 2283.1 L1647.8 2290.1 L1621.5 2297.1 L1619.7 2302.4 L1621.5 2311.2 L1630.3 2318.2 L1647.8 2323.5 L1658.4 2330.5 L1663.6 2341 L1661.9 2358.6 L1658.4 2374.4 L1644.3 2376.2 L1630.3 2372.7 L1621.5 2376.2 L1610.9 2376.2 L1603.9 2367.4 L1605.7 2349.8 L1607.4 2334 L1602.2 2320 L1603.9 2309.4 L1595.1 2302.4 L1577.6 2295.4 L1562 2296 Z" fill="#D4D4D4" stroke="#D4D4D4" stroke-width="4" stroke-linejoin="round"/>
<path d="M1651.3 2383.2 L1661.9 2383.2 L1672.4 2393.7 L1670.7 2409.6 L1658.4 2404.3 L1653.1 2393.7 Z" fill="#D4D4D4" stroke="#D4D4D4" stroke-width="4" stroke-linejoin="round"/>
<path d="M1718.1 2330.5 L1735.7 2314.7 L1753.2 2309.4 L1779.6 2314.7 L1805.9 2328.7 L1827 2344.6 L1832.3 2358.6 L1823.5 2369.2 L1809.4 2369.2 L1788.4 2376.2 L1770.8 2383.2 L1753.2 2388.5 L1735.7 2383.2 L1723.4 2367.4 L1716.3 2349.8 Z" fill="#D4D4D4" stroke="#D4D4D4" stroke-width="4" stroke-linejoin="round"/>
<path d="M1339.9 2239.7 L1352.2 2234.5 L1348.6 2250.3 L1357.4 2255.5 L1362.7 2257.3 L1362.7 2246.7 L1366.2 2229.2 L1373.2 2225.7 L1375 2232.7 L1373.2 2253.8 L1371.5 2264.3 L1376.7 2273.1 L1385.5 2281.9 L1385.5 2288.9 L1376.7 2294.2 L1371.5 2299.4 L1359.2 2297.7 L1345.1 2295.9 L1341.6 2288.9 L1336.3 2278.4 L1332.8 2281 L1322.3 2281 L1322.3 2276.6 L1332.8 2274.9 L1336.3 2267.8 L1338.1 2257.3 L1339 2246.7 Z" fill="#D4D4D4" stroke="#D4D4D4" stroke-width="4" stroke-linejoin="round"/>
<path d="M1383.8 2325.8 L1390.8 2327.5 L1401.3 2324 L1404.9 2327.5 L1394.3 2332.8 L1387.3 2341.6 L1382 2339.8 L1385.5 2332.8 Z" fill="#D4D4D4" stroke="#D4D4D4" stroke-width="4" stroke-linejoin="round"/>
<path d="M1422.4 2211.6 L1433 2215.1 L1443.5 2222.2 L1450.5 2227.4 L1443.5 2230.9 L1433 2230.9 L1422.4 2236.2 L1420.7 2232.7 L1429.4 2225.7 L1424.2 2216.9 Z" fill="#D4D4D4" stroke="#D4D4D4" stroke-width="4" stroke-linejoin="round"/>
<path d="M1634 2480 L1648 2483 L1664 2486 L1675 2492 L1681 2503 L1676 2510 L1664 2511 L1650 2500 L1640 2490 Z" fill="#D4D4D4" stroke="#D4D4D4" stroke-width="4" stroke-linejoin="round"/>
<path d="M1679.4 2348 L1690 2341 L1697 2355 L1686.5 2353.3 Z" fill="#D4D4D4" stroke="#D4D4D4" stroke-width="4" stroke-linejoin="round"/>
<path d="M1627 2338 L1643 2337 L1645 2352 L1632 2358 L1626 2350 Z" fill="#fff"/>
<path d="M1652 2116 L1660 2112 L1658 2122 Z" fill="#fff"/>
<path d="M1790 2340 L1798 2335 L1800 2348 L1792 2350 Z" fill="#fff"/>
<circle cx="1676.87" cy="2073.81" r="2" fill="#D4D4D4"/>
<circle cx="1681.87" cy="2072.52" r="2" fill="#D4D4D4"/>
<circle cx="1664.05" cy="2078.32" r="2" fill="#D4D4D4"/>
<circle cx="1693.85" cy="2071.93" r="2" fill="#D4D4D4"/>
<circle cx="1690.45" cy="2075.19" r="2" fill="#D4D4D4"/>
<circle cx="1693.11" cy="2072.84" r="2" fill="#D4D4D4"/>
<circle cx="1706.47" cy="2077.16" r="2" fill="#D4D4D4"/>
<circle cx="1703.66" cy="2075.75" r="2" fill="#D4D4D4"/>
<circle cx="1706.68" cy="2083.88" r="2" fill="#D4D4D4"/>
<circle cx="1717.23" cy="2098.49" r="2" fill="#D4D4D4"/>
<circle cx="1718.81" cy="2097.56" r="2" fill="#D4D4D4"/>
<circle cx="1726.01" cy="2108.24" r="2" fill="#D4D4D4"/>
<circle cx="1722.39" cy="2099.94" r="2" fill="#D4D4D4"/>
<circle cx="1728.72" cy="2116.92" r="2" fill="#D4D4D4"/>
<circle cx="1724.66" cy="2122.52" r="2" fill="#D4D4D4"/>
<circle cx="1726.43" cy="2120.62" r="2" fill="#D4D4D4"/>
<circle cx="1717.46" cy="2127.29" r="2" fill="#D4D4D4"/>
<circle cx="1715" cy="2128.02" r="2" fill="#D4D4D4"/>
<circle cx="1699.59" cy="2132.84" r="2" fill="#D4D4D4"/>
<circle cx="1705.42" cy="2132.05" r="2" fill="#D4D4D4"/>
<circle cx="1688.41" cy="2138.81" r="2" fill="#D4D4D4"/>
<circle cx="1679.59" cy="2139.51" r="2" fill="#D4D4D4"/>
<circle cx="1680.24" cy="2137.64" r="2" fill="#D4D4D4"/>
<circle cx="1666.54" cy="2156.8" r="2" fill="#D4D4D4"/>
<circle cx="1667.18" cy="2153.66" r="2" fill="#D4D4D4"/>
<circle cx="1660.35" cy="2158.22" r="2" fill="#D4D4D4"/>
<circle cx="1664.62" cy="2153.36" r="2" fill="#D4D4D4"/>
<circle cx="1661.93" cy="2172.24" r="2" fill="#D4D4D4"/>
<circle cx="1658.73" cy="2174.77" r="2" fill="#D4D4D4"/>
<circle cx="1671.08" cy="2181.7" r="2" fill="#D4D4D4"/>
<circle cx="1666.51" cy="2177.43" r="2" fill="#D4D4D4"/>
<circle cx="1678.38" cy="2180.74" r="2" fill="#D4D4D4"/>
<circle cx="1688.39" cy="2183.03" r="2" fill="#D4D4D4"/>
<circle cx="1676.98" cy="2179.5" r="2" fill="#D4D4D4"/>
<circle cx="1682.19" cy="2183.56" r="2" fill="#D4D4D4"/>
<circle cx="1700.67" cy="2190.92" r="2" fill="#D4D4D4"/>
<circle cx="1694.42" cy="2184.9" r="2" fill="#D4D4D4"/>
<circle cx="1703.58" cy="2195.37" r="2" fill="#D4D4D4"/>
<circle cx="1692.75" cy="2203.72" r="2" fill="#D4D4D4"/>
<circle cx="1691.1" cy="2205.67" r="2" fill="#D4D4D4"/>
<circle cx="1700.64" cy="2200.25" r="2" fill="#D4D4D4"/>
<circle cx="1687.03" cy="2209.77" r="2" fill="#D4D4D4"/>
<circle cx="1679.66" cy="2214.89" r="2" fill="#D4D4D4"/>
<circle cx="1673.55" cy="2210.9" r="2" fill="#D4D4D4"/>
<circle cx="1678.53" cy="2213.62" r="2" fill="#D4D4D4"/>
<circle cx="1660.6" cy="2201.86" r="2" fill="#D4D4D4"/>
<circle cx="1665.07" cy="2206.36" r="2" fill="#D4D4D4"/>
<circle cx="1669.19" cy="2204.44" r="2" fill="#D4D4D4"/>
<circle cx="1651.97" cy="2198.51" r="2" fill="#D4D4D4"/>
<circle cx="1643.62" cy="2197.7" r="2" fill="#D4D4D4"/>
<circle cx="1651.01" cy="2199.86" r="2" fill="#D4D4D4"/>
<circle cx="1630.78" cy="2199.04" r="2" fill="#D4D4D4"/>
<circle cx="1635.9" cy="2199.6" r="2" fill="#D4D4D4"/>
<circle cx="1630.72" cy="2201.96" r="2" fill="#D4D4D4"/>
<circle cx="1616.3" cy="2201.65" r="2" fill="#D4D4D4"/>
<circle cx="1605.52" cy="2199" r="2" fill="#D4D4D4"/>
<circle cx="1613.86" cy="2200.85" r="2" fill="#D4D4D4"/>
<circle cx="1589.12" cy="2205.73" r="2" fill="#D4D4D4"/>
<circle cx="1588.61" cy="2199.75" r="2" fill="#D4D4D4"/>
<circle cx="1586.96" cy="2203.64" r="2" fill="#D4D4D4"/>
<circle cx="1589.2" cy="2200.4" r="2" fill="#D4D4D4"/>
<circle cx="1586.61" cy="2193.26" r="2" fill="#D4D4D4"/>
<circle cx="1590.7" cy="2195.13" r="2" fill="#D4D4D4"/>
<circle cx="1599" cy="2186.61" r="2" fill="#D4D4D4"/>
<circle cx="1600.72" cy="2185.71" r="2" fill="#D4D4D4"/>
<circle cx="1615.43" cy="2176.5" r="2" fill="#D4D4D4"/>
<circle cx="1610.51" cy="2179.43" r="2" fill="#D4D4D4"/>
<circle cx="1613.84" cy="2176.51" r="2" fill="#D4D4D4"/>
<circle cx="1622.18" cy="2166.29" r="2" fill="#D4D4D4"/>
<circle cx="1618.77" cy="2171.4" r="2" fill="#D4D4D4"/>
<circle cx="1621.32" cy="2170.07" r="2" fill="#D4D4D4"/>
<circle cx="1629.2" cy="2151.74" r="2" fill="#D4D4D4"/>
<circle cx="1629.27" cy="2155.02" r="2" fill="#D4D4D4"/>
<circle cx="1630.72" cy="2154.2" r="2" fill="#D4D4D4"/>
<circle cx="1638.82" cy="2141.42" r="2" fill="#D4D4D4"/>
<circle cx="1637.05" cy="2143.36" r="2" fill="#D4D4D4"/>
<circle cx="1640.06" cy="2138.34" r="2" fill="#D4D4D4"/>
<circle cx="1646.68" cy="2112.01" r="2" fill="#D4D4D4"/>
<circle cx="1644.86" cy="2114.87" r="2" fill="#D4D4D4"/>
<circle cx="1642.96" cy="2126.7" r="2" fill="#D4D4D4"/>
<circle cx="1651.46" cy="2095.44" r="2" fill="#D4D4D4"/>
<circle cx="1647.38" cy="2106.48" r="2" fill="#D4D4D4"/>
<circle cx="1644.58" cy="2109.97" r="2" fill="#D4D4D4"/>
<circle cx="1648.67" cy="2091.33" r="2" fill="#D4D4D4"/>
<circle cx="1651.93" cy="2091.6" r="2" fill="#D4D4D4"/>
<circle cx="1662.38" cy="2082.31" r="2" fill="#D4D4D4"/>
<circle cx="1668.49" cy="2076.83" r="2" fill="#D4D4D4"/>
<circle cx="1518.71" cy="2193.42" r="2" fill="#D4D4D4"/>
<circle cx="1517.05" cy="2197.27" r="2" fill="#D4D4D4"/>
<circle cx="1529.94" cy="2197.41" r="2" fill="#D4D4D4"/>
<circle cx="1525.9" cy="2192.03" r="2" fill="#D4D4D4"/>
<circle cx="1535.88" cy="2199.65" r="2" fill="#D4D4D4"/>
<circle cx="1533.65" cy="2199.2" r="2" fill="#D4D4D4"/>
<circle cx="1541.78" cy="2216.75" r="2" fill="#D4D4D4"/>
<circle cx="1540.55" cy="2215.89" r="2" fill="#D4D4D4"/>
<circle cx="1544.68" cy="2216.6" r="2" fill="#D4D4D4"/>
<circle cx="1548.96" cy="2215.29" r="2" fill="#D4D4D4"/>
<circle cx="1558.06" cy="2214.01" r="2" fill="#D4D4D4"/>
<circle cx="1564.64" cy="2214.15" r="2" fill="#D4D4D4"/>
<circle cx="1563.84" cy="2213.41" r="2" fill="#D4D4D4"/>
<circle cx="1580.98" cy="2207.62" r="2" fill="#D4D4D4"/>
<circle cx="1572.94" cy="2210.59" r="2" fill="#D4D4D4"/>
<circle cx="1587.31" cy="2203.36" r="2" fill="#D4D4D4"/>
<circle cx="1588.57" cy="2206.98" r="2" fill="#D4D4D4"/>
<circle cx="1587.36" cy="2210.76" r="2" fill="#D4D4D4"/>
<circle cx="1570.42" cy="2225.66" r="2" fill="#D4D4D4"/>
<circle cx="1573.01" cy="2225.17" r="2" fill="#D4D4D4"/>
<circle cx="1575.59" cy="2224.88" r="2" fill="#D4D4D4"/>
<circle cx="1574.22" cy="2222.66" r="2" fill="#D4D4D4"/>
<circle cx="1562.43" cy="2230.72" r="2" fill="#D4D4D4"/>
<circle cx="1563.25" cy="2228.51" r="2" fill="#D4D4D4"/>
<circle cx="1558.22" cy="2236.09" r="2" fill="#D4D4D4"/>
<circle cx="1549.08" cy="2245.51" r="2" fill="#D4D4D4"/>
<circle cx="1548.63" cy="2242.99" r="2" fill="#D4D4D4"/>
<circle cx="1546.52" cy="2242.87" r="2" fill="#D4D4D4"/>
<circle cx="1552.25" cy="2256.83" r="2" fill="#D4D4D4"/>
<circle cx="1561.66" cy="2265.32" r="2" fill="#D4D4D4"/>
<circle cx="1562.21" cy="2263.18" r="2" fill="#D4D4D4"/>
<circle cx="1563.64" cy="2266.98" r="2" fill="#D4D4D4"/>
<circle cx="1562.14" cy="2271.23" r="2" fill="#D4D4D4"/>
<circle cx="1560.35" cy="2278.33" r="2" fill="#D4D4D4"/>
<circle cx="1560.14" cy="2283.66" r="2" fill="#D4D4D4"/>
<circle cx="1560.54" cy="2282.09" r="2" fill="#D4D4D4"/>
<circle cx="1562.43" cy="2289.89" r="2" fill="#D4D4D4"/>
<circle cx="1557.28" cy="2294.65" r="2" fill="#D4D4D4"/>
<circle cx="1565.78" cy="2294.38" r="2" fill="#D4D4D4"/>
<circle cx="1552.83" cy="2293.81" r="2" fill="#D4D4D4"/>
<circle cx="1542.74" cy="2290.46" r="2" fill="#D4D4D4"/>
<circle cx="1541.14" cy="2287.54" r="2" fill="#D4D4D4"/>
<circle cx="1538.9" cy="2282.66" r="2" fill="#D4D4D4"/>
<circle cx="1532.58" cy="2281.87" r="2" fill="#D4D4D4"/>
<circle cx="1534.74" cy="2277.97" r="2" fill="#D4D4D4"/>
<circle cx="1536.58" cy="2279.53" r="2" fill="#D4D4D4"/>
<circle cx="1518.56" cy="2278.83" r="2" fill="#D4D4D4"/>
<circle cx="1510.19" cy="2275.7" r="2" fill="#D4D4D4"/>
<circle cx="1499.98" cy="2266.9" r="2" fill="#D4D4D4"/>
<circle cx="1511.51" cy="2277.33" r="2" fill="#D4D4D4"/>
<circle cx="1499.56" cy="2268.41" r="2" fill="#D4D4D4"/>
<circle cx="1481.02" cy="2256.75" r="2" fill="#D4D4D4"/>
<circle cx="1491.69" cy="2262.57" r="2" fill="#D4D4D4"/>
<circle cx="1477.78" cy="2259.15" r="2" fill="#D4D4D4"/>
<circle cx="1476.61" cy="2257.09" r="2" fill="#D4D4D4"/>
<circle cx="1468.84" cy="2251.01" r="2" fill="#D4D4D4"/>
<circle cx="1461.55" cy="2249.81" r="2" fill="#D4D4D4"/>
<circle cx="1455.46" cy="2249.9" r="2" fill="#D4D4D4"/>
<circle cx="1461.46" cy="2251.55" r="2" fill="#D4D4D4"/>
<circle cx="1451.06" cy="2250.71" r="2" fill="#D4D4D4"/>
<circle cx="1444.59" cy="2249.39" r="2" fill="#D4D4D4"/>
<circle cx="1446.54" cy="2242.82" r="2" fill="#D4D4D4"/>
<circle cx="1443.83" cy="2244.38" r="2" fill="#D4D4D4"/>
<circle cx="1453.47" cy="2243.62" r="2" fill="#D4D4D4"/>
<circle cx="1456.57" cy="2240.61" r="2" fill="#D4D4D4"/>
<circle cx="1453.93" cy="2242.76" r="2" fill="#D4D4D4"/>
<circle cx="1470.3" cy="2240.2" r="2" fill="#D4D4D4"/>
<circle cx="1466.5" cy="2237.4" r="2" fill="#D4D4D4"/>
<circle cx="1481.85" cy="2237.52" r="2" fill="#D4D4D4"/>
<circle cx="1487.11" cy="2234.49" r="2" fill="#D4D4D4"/>
<circle cx="1486.87" cy="2234.85" r="2" fill="#D4D4D4"/>
<circle cx="1497.38" cy="2223.64" r="2" fill="#D4D4D4"/>
<circle cx="1489.54" cy="2229.58" r="2" fill="#D4D4D4"/>
<circle cx="1502.51" cy="2216.63" r="2" fill="#D4D4D4"/>
<circle cx="1503.65" cy="2208.57" r="2" fill="#D4D4D4"/>
<circle cx="1506.9" cy="2203.03" r="2" fill="#D4D4D4"/>
<circle cx="1508.1" cy="2196.27" r="2" fill="#D4D4D4"/>
<circle cx="1567.67" cy="2288.14" r="2" fill="#D4D4D4"/>
<circle cx="1562.53" cy="2289.95" r="2" fill="#D4D4D4"/>
<circle cx="1569.04" cy="2287.89" r="2" fill="#D4D4D4"/>
<circle cx="1593.54" cy="2282.95" r="2" fill="#D4D4D4"/>
<circle cx="1582.14" cy="2286.21" r="2" fill="#D4D4D4"/>
<circle cx="1586.65" cy="2283.87" r="2" fill="#D4D4D4"/>
<circle cx="1605.1" cy="2281.84" r="2" fill="#D4D4D4"/>
<circle cx="1597.16" cy="2284.21" r="2" fill="#D4D4D4"/>
<circle cx="1606.26" cy="2281.06" r="2" fill="#D4D4D4"/>
<circle cx="1630.07" cy="2277.82" r="2" fill="#D4D4D4"/>
<circle cx="1608.65" cy="2280.12" r="2" fill="#D4D4D4"/>
<circle cx="1607.61" cy="2282.05" r="2" fill="#D4D4D4"/>
<circle cx="1625.12" cy="2274.85" r="2" fill="#D4D4D4"/>
<circle cx="1639.68" cy="2270.95" r="2" fill="#D4D4D4"/>
<circle cx="1646.06" cy="2263.45" r="2" fill="#D4D4D4"/>
<circle cx="1651.74" cy="2257.41" r="2" fill="#D4D4D4"/>
<circle cx="1638.43" cy="2269.35" r="2" fill="#D4D4D4"/>
<circle cx="1639.13" cy="2271.37" r="2" fill="#D4D4D4"/>
<circle cx="1633.77" cy="2271.11" r="2" fill="#D4D4D4"/>
<circle cx="1641.71" cy="2268.79" r="2" fill="#D4D4D4"/>
<circle cx="1640.26" cy="2270.8" r="2" fill="#D4D4D4"/>
<circle cx="1675.57" cy="2251" r="2" fill="#D4D4D4"/>
<circle cx="1678.69" cy="2250.54" r="2" fill="#D4D4D4"/>
<circle cx="1669.95" cy="2251.47" r="2" fill="#D4D4D4"/>
<circle cx="1696.78" cy="2249.78" r="2" fill="#D4D4D4"/>
<circle cx="1704.25" cy="2245.42" r="2" fill="#D4D4D4"/>
<circle cx="1708.22" cy="2244.94" r="2" fill="#D4D4D4"/>
<circle cx="1709.58" cy="2242.28" r="2" fill="#D4D4D4"/>
<circle cx="1708.2" cy="2244.71" r="2" fill="#D4D4D4"/>
<circle cx="1710.92" cy="2245.93" r="2" fill="#D4D4D4"/>
<circle cx="1685.88" cy="2250.37" r="2" fill="#D4D4D4"/>
<circle cx="1741.7" cy="2237.83" r="2" fill="#D4D4D4"/>
<circle cx="1744.58" cy="2236.26" r="2" fill="#D4D4D4"/>
<circle cx="1720.84" cy="2244.9" r="2" fill="#D4D4D4"/>
<circle cx="1750.24" cy="2234.72" r="2" fill="#D4D4D4"/>
<circle cx="1724.93" cy="2242.59" r="2" fill="#D4D4D4"/>
<circle cx="1731.68" cy="2241.09" r="2" fill="#D4D4D4"/>
<circle cx="1747.03" cy="2235.05" r="2" fill="#D4D4D4"/>
<circle cx="1768.32" cy="2230.41" r="2" fill="#D4D4D4"/>
<circle cx="1767.45" cy="2228.21" r="2" fill="#D4D4D4"/>
<circle cx="1754.96" cy="2235.7" r="2" fill="#D4D4D4"/>
<circle cx="1763.89" cy="2229.71" r="2" fill="#D4D4D4"/>
<circle cx="1775.17" cy="2225.12" r="2" fill="#D4D4D4"/>
<circle cx="1807.92" cy="2215.34" r="2" fill="#D4D4D4"/>
<circle cx="1803.43" cy="2217.21" r="2" fill="#D4D4D4"/>
<circle cx="1810.67" cy="2216.08" r="2" fill="#D4D4D4"/>
<circle cx="1795.07" cy="2218.58" r="2" fill="#D4D4D4"/>
<circle cx="1785.86" cy="2222.69" r="2" fill="#D4D4D4"/>
<circle cx="1794.8" cy="2220.91" r="2" fill="#D4D4D4"/>
<circle cx="1809.79" cy="2217.04" r="2" fill="#D4D4D4"/>
<circle cx="1811.05" cy="2222.51" r="2" fill="#D4D4D4"/>
<circle cx="1806.56" cy="2232.14" r="2" fill="#D4D4D4"/>
<circle cx="1806.07" cy="2233.94" r="2" fill="#D4D4D4"/>
<circle cx="1804.87" cy="2237.09" r="2" fill="#D4D4D4"/>
<circle cx="1790.99" cy="2238.24" r="2" fill="#D4D4D4"/>
<circle cx="1799" cy="2232.97" r="2" fill="#D4D4D4"/>
<circle cx="1772.4" cy="2238.68" r="2" fill="#D4D4D4"/>
<circle cx="1786.15" cy="2235.62" r="2" fill="#D4D4D4"/>
<circle cx="1782.52" cy="2237.83" r="2" fill="#D4D4D4"/>
<circle cx="1787.13" cy="2237.25" r="2" fill="#D4D4D4"/>
<circle cx="1775.39" cy="2237.58" r="2" fill="#D4D4D4"/>
<circle cx="1737.53" cy="2251.66" r="2" fill="#D4D4D4"/>
<circle cx="1742.88" cy="2249.59" r="2" fill="#D4D4D4"/>
<circle cx="1739.68" cy="2254.05" r="2" fill="#D4D4D4"/>
<circle cx="1742.92" cy="2250.89" r="2" fill="#D4D4D4"/>
<circle cx="1761.16" cy="2244.39" r="2" fill="#D4D4D4"/>
<circle cx="1720.52" cy="2258.72" r="2" fill="#D4D4D4"/>
<circle cx="1728.69" cy="2257.7" r="2" fill="#D4D4D4"/>
<circle cx="1719.05" cy="2263.62" r="2" fill="#D4D4D4"/>
<circle cx="1721.1" cy="2261.18" r="2" fill="#D4D4D4"/>
<circle cx="1718.84" cy="2260.13" r="2" fill="#D4D4D4"/>
<circle cx="1693.69" cy="2273.66" r="2" fill="#D4D4D4"/>
<circle cx="1686.01" cy="2278.97" r="2" fill="#D4D4D4"/>
<circle cx="1694.9" cy="2271.28" r="2" fill="#D4D4D4"/>
<circle cx="1699.99" cy="2271.56" r="2" fill="#D4D4D4"/>
<circle cx="1687.39" cy="2273.84" r="2" fill="#D4D4D4"/>
<circle cx="1677.97" cy="2280.19" r="2" fill="#D4D4D4"/>
<circle cx="1672.95" cy="2278.51" r="2" fill="#D4D4D4"/>
<circle cx="1667.69" cy="2283.54" r="2" fill="#D4D4D4"/>
<circle cx="1658.39" cy="2282.75" r="2" fill="#D4D4D4"/>
<circle cx="1660.74" cy="2282.38" r="2" fill="#D4D4D4"/>
<circle cx="1663.24" cy="2285.42" r="2" fill="#D4D4D4"/>
<circle cx="1627.71" cy="2294.24" r="2" fill="#D4D4D4"/>
<circle cx="1635.2" cy="2293.85" r="2" fill="#D4D4D4"/>
<circle cx="1623.61" cy="2297.59" r="2" fill="#D4D4D4"/>
<circle cx="1632.82" cy="2294.14" r="2" fill="#D4D4D4"/>
<circle cx="1648.44" cy="2291.59" r="2" fill="#D4D4D4"/>
<circle cx="1620.81" cy="2301.19" r="2" fill="#D4D4D4"/>
<circle cx="1619.38" cy="2305.81" r="2" fill="#D4D4D4"/>
<circle cx="1629.51" cy="2316.95" r="2" fill="#D4D4D4"/>
<circle cx="1630.11" cy="2316.69" r="2" fill="#D4D4D4"/>
<circle cx="1643.08" cy="2319.99" r="2" fill="#D4D4D4"/>
<circle cx="1633.37" cy="2316.7" r="2" fill="#D4D4D4"/>
<circle cx="1639.44" cy="2321.31" r="2" fill="#D4D4D4"/>
<circle cx="1650.18" cy="2325.07" r="2" fill="#D4D4D4"/>
<circle cx="1656.32" cy="2329.36" r="2" fill="#D4D4D4"/>
<circle cx="1663.32" cy="2335.76" r="2" fill="#D4D4D4"/>
<circle cx="1665.45" cy="2336.26" r="2" fill="#D4D4D4"/>
<circle cx="1663.22" cy="2351.85" r="2" fill="#D4D4D4"/>
<circle cx="1664.36" cy="2343.21" r="2" fill="#D4D4D4"/>
<circle cx="1660.77" cy="2348.17" r="2" fill="#D4D4D4"/>
<circle cx="1660.62" cy="2371.1" r="2" fill="#D4D4D4"/>
<circle cx="1659.47" cy="2367.72" r="2" fill="#D4D4D4"/>
<circle cx="1658.21" cy="2369.65" r="2" fill="#D4D4D4"/>
<circle cx="1654.93" cy="2374.45" r="2" fill="#D4D4D4"/>
<circle cx="1657.53" cy="2372.14" r="2" fill="#D4D4D4"/>
<circle cx="1641.43" cy="2376.31" r="2" fill="#D4D4D4"/>
<circle cx="1639.07" cy="2371.61" r="2" fill="#D4D4D4"/>
<circle cx="1626.49" cy="2375.74" r="2" fill="#D4D4D4"/>
<circle cx="1614.59" cy="2374.29" r="2" fill="#D4D4D4"/>
<circle cx="1616.85" cy="2378.69" r="2" fill="#D4D4D4"/>
<circle cx="1608.75" cy="2372.12" r="2" fill="#D4D4D4"/>
<circle cx="1608.94" cy="2373.6" r="2" fill="#D4D4D4"/>
<circle cx="1605.8" cy="2363.6" r="2" fill="#D4D4D4"/>
<circle cx="1604.24" cy="2349.69" r="2" fill="#D4D4D4"/>
<circle cx="1606.76" cy="2351.73" r="2" fill="#D4D4D4"/>
<circle cx="1609.63" cy="2337.07" r="2" fill="#D4D4D4"/>
<circle cx="1607.45" cy="2344.21" r="2" fill="#D4D4D4"/>
<circle cx="1605.14" cy="2343.77" r="2" fill="#D4D4D4"/>
<circle cx="1607.92" cy="2337.24" r="2" fill="#D4D4D4"/>
<circle cx="1604.47" cy="2327.91" r="2" fill="#D4D4D4"/>
<circle cx="1604.87" cy="2316.4" r="2" fill="#D4D4D4"/>
<circle cx="1604.48" cy="2315.11" r="2" fill="#D4D4D4"/>
<circle cx="1595.2" cy="2304.75" r="2" fill="#D4D4D4"/>
<circle cx="1594.65" cy="2301.4" r="2" fill="#D4D4D4"/>
<circle cx="1597.01" cy="2302.53" r="2" fill="#D4D4D4"/>
<circle cx="1589.84" cy="2297.51" r="2" fill="#D4D4D4"/>
<circle cx="1575.04" cy="2299.86" r="2" fill="#D4D4D4"/>
<circle cx="1566.46" cy="2295.32" r="2" fill="#D4D4D4"/>
<circle cx="1561.88" cy="2297.75" r="2" fill="#D4D4D4"/>
<circle cx="1562.42" cy="2297.53" r="2" fill="#D4D4D4"/>
<circle cx="1560.25" cy="2294.34" r="2" fill="#D4D4D4"/>
<circle cx="1659.02" cy="2383.84" r="2" fill="#D4D4D4"/>
<circle cx="1657.47" cy="2383.86" r="2" fill="#D4D4D4"/>
<circle cx="1672.07" cy="2391.97" r="2" fill="#D4D4D4"/>
<circle cx="1663.9" cy="2380.03" r="2" fill="#D4D4D4"/>
<circle cx="1672.1" cy="2404.06" r="2" fill="#D4D4D4"/>
<circle cx="1671.18" cy="2408.19" r="2" fill="#D4D4D4"/>
<circle cx="1671.02" cy="2397.15" r="2" fill="#D4D4D4"/>
<circle cx="1659.62" cy="2407.46" r="2" fill="#D4D4D4"/>
<circle cx="1664.78" cy="2408.33" r="2" fill="#D4D4D4"/>
<circle cx="1655.29" cy="2397.25" r="2" fill="#D4D4D4"/>
<circle cx="1653.97" cy="2398.5" r="2" fill="#D4D4D4"/>
<circle cx="1648.84" cy="2386.77" r="2" fill="#D4D4D4"/>
<circle cx="1651.6" cy="2390.68" r="2" fill="#D4D4D4"/>
<circle cx="1727.6" cy="2321.09" r="2" fill="#D4D4D4"/>
<circle cx="1726.52" cy="2322.71" r="2" fill="#D4D4D4"/>
<circle cx="1730.12" cy="2319.18" r="2" fill="#D4D4D4"/>
<circle cx="1728.98" cy="2320.36" r="2" fill="#D4D4D4"/>
<circle cx="1745.9" cy="2312.4" r="2" fill="#D4D4D4"/>
<circle cx="1743" cy="2313.04" r="2" fill="#D4D4D4"/>
<circle cx="1741.66" cy="2309.49" r="2" fill="#D4D4D4"/>
<circle cx="1760.65" cy="2310.92" r="2" fill="#D4D4D4"/>
<circle cx="1782.19" cy="2312.98" r="2" fill="#D4D4D4"/>
<circle cx="1762.91" cy="2314.01" r="2" fill="#D4D4D4"/>
<circle cx="1752.92" cy="2310.59" r="2" fill="#D4D4D4"/>
<circle cx="1764.55" cy="2314.4" r="2" fill="#D4D4D4"/>
<circle cx="1784.79" cy="2317.99" r="2" fill="#D4D4D4"/>
<circle cx="1782.19" cy="2318.04" r="2" fill="#D4D4D4"/>
<circle cx="1794.92" cy="2324.21" r="2" fill="#D4D4D4"/>
<circle cx="1782.34" cy="2316.26" r="2" fill="#D4D4D4"/>
<circle cx="1784.53" cy="2316.48" r="2" fill="#D4D4D4"/>
<circle cx="1812.24" cy="2330.67" r="2" fill="#D4D4D4"/>
<circle cx="1812.43" cy="2331.02" r="2" fill="#D4D4D4"/>
<circle cx="1813.32" cy="2334.06" r="2" fill="#D4D4D4"/>
<circle cx="1812.61" cy="2331.76" r="2" fill="#D4D4D4"/>
<circle cx="1825.19" cy="2343.7" r="2" fill="#D4D4D4"/>
<circle cx="1827.15" cy="2343.41" r="2" fill="#D4D4D4"/>
<circle cx="1829.74" cy="2345.49" r="2" fill="#D4D4D4"/>
<circle cx="1828.24" cy="2363.53" r="2" fill="#D4D4D4"/>
<circle cx="1828.89" cy="2366.45" r="2" fill="#D4D4D4"/>
<circle cx="1814.07" cy="2368.51" r="2" fill="#D4D4D4"/>
<circle cx="1810.54" cy="2369.55" r="2" fill="#D4D4D4"/>
<circle cx="1795.5" cy="2374.3" r="2" fill="#D4D4D4"/>
<circle cx="1797.86" cy="2369.87" r="2" fill="#D4D4D4"/>
<circle cx="1796.21" cy="2375.16" r="2" fill="#D4D4D4"/>
<circle cx="1793.51" cy="2376.83" r="2" fill="#D4D4D4"/>
<circle cx="1783.82" cy="2378.09" r="2" fill="#D4D4D4"/>
<circle cx="1771.84" cy="2381.19" r="2" fill="#D4D4D4"/>
<circle cx="1780.79" cy="2380.33" r="2" fill="#D4D4D4"/>
<circle cx="1767.13" cy="2384.26" r="2" fill="#D4D4D4"/>
<circle cx="1768.88" cy="2384.15" r="2" fill="#D4D4D4"/>
<circle cx="1761.75" cy="2383.95" r="2" fill="#D4D4D4"/>
<circle cx="1751.26" cy="2388.91" r="2" fill="#D4D4D4"/>
<circle cx="1739.32" cy="2385.5" r="2" fill="#D4D4D4"/>
<circle cx="1737.96" cy="2384.6" r="2" fill="#D4D4D4"/>
<circle cx="1726.49" cy="2374.67" r="2" fill="#D4D4D4"/>
<circle cx="1728.05" cy="2373.09" r="2" fill="#D4D4D4"/>
<circle cx="1726.7" cy="2369.74" r="2" fill="#D4D4D4"/>
<circle cx="1734.29" cy="2382.91" r="2" fill="#D4D4D4"/>
<circle cx="1716.89" cy="2353.85" r="2" fill="#D4D4D4"/>
<circle cx="1719.57" cy="2355.92" r="2" fill="#D4D4D4"/>
<circle cx="1717.57" cy="2354.45" r="2" fill="#D4D4D4"/>
<circle cx="1718.55" cy="2335.96" r="2" fill="#D4D4D4"/>
<circle cx="1717.84" cy="2348.58" r="2" fill="#D4D4D4"/>
<circle cx="1717.26" cy="2336.37" r="2" fill="#D4D4D4"/>
<circle cx="1344.6" cy="2238.17" r="2" fill="#D4D4D4"/>
<circle cx="1340.37" cy="2237.86" r="2" fill="#D4D4D4"/>
<circle cx="1350.24" cy="2248.73" r="2" fill="#D4D4D4"/>
<circle cx="1354.04" cy="2236.42" r="2" fill="#D4D4D4"/>
<circle cx="1348.27" cy="2248.63" r="2" fill="#D4D4D4"/>
<circle cx="1352.31" cy="2252.81" r="2" fill="#D4D4D4"/>
<circle cx="1353.39" cy="2253.93" r="2" fill="#D4D4D4"/>
<circle cx="1363.42" cy="2254.94" r="2" fill="#D4D4D4"/>
<circle cx="1364.75" cy="2253.9" r="2" fill="#D4D4D4"/>
<circle cx="1362.09" cy="2255.94" r="2" fill="#D4D4D4"/>
<circle cx="1364.6" cy="2229" r="2" fill="#D4D4D4"/>
<circle cx="1359.83" cy="2240.67" r="2" fill="#D4D4D4"/>
<circle cx="1364.65" cy="2240.96" r="2" fill="#D4D4D4"/>
<circle cx="1371.06" cy="2227.42" r="2" fill="#D4D4D4"/>
<circle cx="1373.6" cy="2234.56" r="2" fill="#D4D4D4"/>
<circle cx="1374.37" cy="2244.24" r="2" fill="#D4D4D4"/>
<circle cx="1371.72" cy="2252.86" r="2" fill="#D4D4D4"/>
<circle cx="1371.77" cy="2251.27" r="2" fill="#D4D4D4"/>
<circle cx="1374.45" cy="2237.54" r="2" fill="#D4D4D4"/>
<circle cx="1372.51" cy="2256.7" r="2" fill="#D4D4D4"/>
<circle cx="1373.65" cy="2257.42" r="2" fill="#D4D4D4"/>
<circle cx="1379.44" cy="2273.84" r="2" fill="#D4D4D4"/>
<circle cx="1372.52" cy="2266.04" r="2" fill="#D4D4D4"/>
<circle cx="1378.47" cy="2275.01" r="2" fill="#D4D4D4"/>
<circle cx="1377.91" cy="2273.86" r="2" fill="#D4D4D4"/>
<circle cx="1385.48" cy="2287.37" r="2" fill="#D4D4D4"/>
<circle cx="1384.9" cy="2288.43" r="2" fill="#D4D4D4"/>
<circle cx="1377.74" cy="2294.67" r="2" fill="#D4D4D4"/>
<circle cx="1370.33" cy="2297.74" r="2" fill="#D4D4D4"/>
<circle cx="1359.92" cy="2299.16" r="2" fill="#D4D4D4"/>
<circle cx="1361.77" cy="2299.07" r="2" fill="#D4D4D4"/>
<circle cx="1354.13" cy="2296.84" r="2" fill="#D4D4D4"/>
<circle cx="1350.07" cy="2294.1" r="2" fill="#D4D4D4"/>
<circle cx="1346.31" cy="2295.44" r="2" fill="#D4D4D4"/>
<circle cx="1336.25" cy="2278.61" r="2" fill="#D4D4D4"/>
<circle cx="1336.55" cy="2278.88" r="2" fill="#D4D4D4"/>
<circle cx="1322.75" cy="2280.92" r="2" fill="#D4D4D4"/>
<circle cx="1326.6" cy="2280.15" r="2" fill="#D4D4D4"/>
<circle cx="1330.15" cy="2275.78" r="2" fill="#D4D4D4"/>
<circle cx="1330.63" cy="2274.91" r="2" fill="#D4D4D4"/>
<circle cx="1333.92" cy="2271.2" r="2" fill="#D4D4D4"/>
<circle cx="1339.56" cy="2265.2" r="2" fill="#D4D4D4"/>
<circle cx="1337.77" cy="2263.39" r="2" fill="#D4D4D4"/>
<circle cx="1337.78" cy="2252.37" r="2" fill="#D4D4D4"/>
<circle cx="1340.54" cy="2254.54" r="2" fill="#D4D4D4"/>
<circle cx="1339.45" cy="2240.86" r="2" fill="#D4D4D4"/>
<circle cx="1386" cy="2328.83" r="2" fill="#D4D4D4"/>
<circle cx="1392.64" cy="2324.75" r="2" fill="#D4D4D4"/>
<circle cx="1395.26" cy="2325.45" r="2" fill="#D4D4D4"/>
<circle cx="1402.69" cy="2324.2" r="2" fill="#D4D4D4"/>
<circle cx="1406.84" cy="2328.03" r="2" fill="#D4D4D4"/>
<circle cx="1402.22" cy="2328.48" r="2" fill="#D4D4D4"/>
<circle cx="1386.88" cy="2340.13" r="2" fill="#D4D4D4"/>
<circle cx="1394.85" cy="2330.56" r="2" fill="#D4D4D4"/>
<circle cx="1385.05" cy="2338.69" r="2" fill="#D4D4D4"/>
<circle cx="1385.74" cy="2333.11" r="2" fill="#D4D4D4"/>
<circle cx="1388.85" cy="2329.65" r="2" fill="#D4D4D4"/>
<circle cx="1425.79" cy="2212.86" r="2" fill="#D4D4D4"/>
<circle cx="1423.02" cy="2212.42" r="2" fill="#D4D4D4"/>
<circle cx="1436.9" cy="2216.7" r="2" fill="#D4D4D4"/>
<circle cx="1435.95" cy="2215.75" r="2" fill="#D4D4D4"/>
<circle cx="1447.71" cy="2222.15" r="2" fill="#D4D4D4"/>
<circle cx="1445.99" cy="2231.3" r="2" fill="#D4D4D4"/>
<circle cx="1438.47" cy="2231.09" r="2" fill="#D4D4D4"/>
<circle cx="1438.97" cy="2228.61" r="2" fill="#D4D4D4"/>
<circle cx="1422.84" cy="2233.14" r="2" fill="#D4D4D4"/>
<circle cx="1426.08" cy="2234.19" r="2" fill="#D4D4D4"/>
<circle cx="1423.14" cy="2227.93" r="2" fill="#D4D4D4"/>
<circle cx="1428.01" cy="2224.94" r="2" fill="#D4D4D4"/>
<circle cx="1427.88" cy="2225.03" r="2" fill="#D4D4D4"/>
<circle cx="1425.97" cy="2218.73" r="2" fill="#D4D4D4"/>
<circle cx="1424.01" cy="2212.87" r="2" fill="#D4D4D4"/>
<circle cx="1634.2" cy="2479.41" r="2" fill="#D4D4D4"/>
<circle cx="1635.97" cy="2480.6" r="2" fill="#D4D4D4"/>
<circle cx="1649.75" cy="2483.77" r="2" fill="#D4D4D4"/>
<circle cx="1644.51" cy="2481.85" r="2" fill="#D4D4D4"/>
<circle cx="1659.77" cy="2488.53" r="2" fill="#D4D4D4"/>
<circle cx="1664.98" cy="2486.62" r="2" fill="#D4D4D4"/>
<circle cx="1662.62" cy="2484.84" r="2" fill="#D4D4D4"/>
<circle cx="1678.41" cy="2495.7" r="2" fill="#D4D4D4"/>
<circle cx="1679.06" cy="2500.94" r="2" fill="#D4D4D4"/>
<circle cx="1678.7" cy="2504.91" r="2" fill="#D4D4D4"/>
<circle cx="1666.29" cy="2512.07" r="2" fill="#D4D4D4"/>
<circle cx="1667.88" cy="2511.62" r="2" fill="#D4D4D4"/>
<circle cx="1659.9" cy="2506.85" r="2" fill="#D4D4D4"/>
<circle cx="1662.49" cy="2508.44" r="2" fill="#D4D4D4"/>
<circle cx="1661.13" cy="2505.43" r="2" fill="#D4D4D4"/>
<circle cx="1646.57" cy="2496.21" r="2" fill="#D4D4D4"/>
<circle cx="1646.68" cy="2495.87" r="2" fill="#D4D4D4"/>
<circle cx="1634.22" cy="2480.51" r="2" fill="#D4D4D4"/>
<circle cx="1635.33" cy="2485.18" r="2" fill="#D4D4D4"/>
<circle cx="1680.71" cy="2348.56" r="2" fill="#D4D4D4"/>
<circle cx="1679.64" cy="2346.51" r="2" fill="#D4D4D4"/>
<circle cx="1693.1" cy="2345.75" r="2" fill="#D4D4D4"/>
<circle cx="1696.34" cy="2354.69" r="2" fill="#D4D4D4"/>
<circle cx="1693.03" cy="2345.62" r="2" fill="#D4D4D4"/>
<circle cx="1693.98" cy="2356.61" r="2" fill="#D4D4D4"/>
<circle cx="1694.59" cy="2355.94" r="2" fill="#D4D4D4"/>
<circle cx="1683.53" cy="2350.04" r="2" fill="#D4D4D4"/>
<circle cx="1622" cy="2188.95" r="2.5" fill="#F8F1A9"/>
<circle cx="1656.5" cy="2120.47" r="2.5" fill="#F8F1A9"/>
<circle cx="1657.14" cy="2192.38" r="2.5" fill="#F8F1A9"/>
<circle cx="1666.25" cy="2135.55" r="2.5" fill="#F8F1A9"/>
<circle cx="1711.06" cy="2114.6" r="2.5" fill="#F8F1A9"/>
<circle cx="1636.62" cy="2157.43" r="2.5" fill="#F8F1A9"/>
<circle cx="1669.26" cy="2095.77" r="2.5" fill="#F8F1A9"/>
<circle cx="1648.31" cy="2176.26" r="2.5" fill="#F8F1A9"/>
<circle cx="1693.16" cy="2200.94" r="2.5" fill="#F8F1A9"/>
<circle cx="1674.49" cy="2111.5" r="2.5" fill="#F8F1A9"/>
<circle cx="1631.83" cy="2170.44" r="2.5" fill="#F8F1A9"/>
<circle cx="1657.61" cy="2193.48" r="2.5" fill="#F8F1A9"/>
<circle cx="1706.5" cy="2096.06" r="2.5" fill="#F8F1A9"/>
<circle cx="1652.46" cy="2116.55" r="2.5" fill="#F8F1A9"/>
<circle cx="1674.26" cy="2086.54" r="2.5" fill="#F8F1A9"/>
<circle cx="1711.97" cy="2123.89" r="2.5" fill="#F8F1A9"/>
<circle cx="1689.07" cy="2136.46" r="2.5" fill="#F8F1A9"/>
<circle cx="1673.46" cy="2133.52" r="2.5" fill="#F8F1A9"/>
<circle cx="1672.6" cy="2135.99" r="2.5" fill="#F8F1A9"/>
<circle cx="1667.88" cy="2143.07" r="2.5" fill="#F8F1A9"/>
<circle cx="1672.35" cy="2093.89" r="2.5" fill="#F8F1A9"/>
<circle cx="1656.08" cy="2109.89" r="2.5" fill="#F8F1A9"/>
<circle cx="1697.89" cy="2102.35" r="2.5" fill="#F8F1A9"/>
<circle cx="1726.32" cy="2115.43" r="2.5" fill="#F8F1A9"/>
<circle cx="1690.95" cy="2203.12" r="2.5" fill="#F8F1A9"/>
<circle cx="1627.85" cy="2192.92" r="2.5" fill="#F8F1A9"/>
<circle cx="1689.69" cy="2201.88" r="2.5" fill="#F8F1A9"/>
<circle cx="1664.43" cy="2125.74" r="2.5" fill="#F8F1A9"/>
<circle cx="1666.76" cy="2111.2" r="2.5" fill="#F8F1A9"/>
<circle cx="1654.26" cy="2191.1" r="2.5" fill="#F8F1A9"/>
<circle cx="1629.66" cy="2161.91" r="2.5" fill="#F8F1A9"/>
<circle cx="1668.37" cy="2111.1" r="2.5" fill="#F8F1A9"/>
<circle cx="1689.57" cy="2100.25" r="2.5" fill="#F8F1A9"/>
<circle cx="1683.8" cy="2081.89" r="2.5" fill="#F8F1A9"/>
<circle cx="1662.71" cy="2084.21" r="2.5" fill="#F8F1A9"/>
<circle cx="1691.17" cy="2120.44" r="2.5" fill="#F8F1A9"/>
<circle cx="1652.55" cy="2145.72" r="2.5" fill="#F8F1A9"/>
<circle cx="1705.24" cy="2114.04" r="2.5" fill="#F8F1A9"/>
<circle cx="1678.67" cy="2115.49" r="2.5" fill="#F8F1A9"/>
<circle cx="1664.88" cy="2098.56" r="2.5" fill="#F8F1A9"/>
<circle cx="1624.43" cy="2199.46" r="2.5" fill="#F8F1A9"/>
<circle cx="1647.76" cy="2107.61" r="2.5" fill="#F8F1A9"/>
<circle cx="1653.28" cy="2140.41" r="2.5" fill="#F8F1A9"/>
<circle cx="1661.57" cy="2181.53" r="2.5" fill="#F8F1A9"/>
<circle cx="1679.66" cy="2118.18" r="2.5" fill="#F8F1A9"/>
<circle cx="1542.76" cy="2230.4" r="2.5" fill="#F8F1A9"/>
<circle cx="1532.39" cy="2255.93" r="2.5" fill="#F8F1A9"/>
<circle cx="1546.35" cy="2265.79" r="2.5" fill="#F8F1A9"/>
<circle cx="1532.04" cy="2256.58" r="2.5" fill="#F8F1A9"/>
<circle cx="1472.85" cy="2243.28" r="2.5" fill="#F8F1A9"/>
<circle cx="1518.23" cy="2267.12" r="2.5" fill="#F8F1A9"/>
<circle cx="1520.67" cy="2274.1" r="2.5" fill="#F8F1A9"/>
<circle cx="1512.54" cy="2256.06" r="2.5" fill="#F8F1A9"/>
<circle cx="1553.73" cy="2226.86" r="2.5" fill="#F8F1A9"/>
<circle cx="1540.19" cy="2258.34" r="2.5" fill="#F8F1A9"/>
<circle cx="1513.61" cy="2260.41" r="2.5" fill="#F8F1A9"/>
<circle cx="1524.04" cy="2197.39" r="2.5" fill="#F8F1A9"/>
<circle cx="1514.54" cy="2196.69" r="2.5" fill="#F8F1A9"/>
<circle cx="1562.26" cy="2217.31" r="2.5" fill="#F8F1A9"/>
<circle cx="1540.19" cy="2251.18" r="2.5" fill="#F8F1A9"/>
<circle cx="1534.31" cy="2241.89" r="2.5" fill="#F8F1A9"/>
<circle cx="1456.15" cy="2246.56" r="2.5" fill="#F8F1A9"/>
<circle cx="1547.65" cy="2268.68" r="2.5" fill="#F8F1A9"/>
<circle cx="1485.09" cy="2240.55" r="2.5" fill="#F8F1A9"/>
<circle cx="1522.9" cy="2223.86" r="2.5" fill="#F8F1A9"/>
<circle cx="1517.75" cy="2239.28" r="2.5" fill="#F8F1A9"/>
<circle cx="1510.83" cy="2224.17" r="2.5" fill="#F8F1A9"/>
<circle cx="1557.01" cy="2217.61" r="2.5" fill="#F8F1A9"/>
<circle cx="1533.13" cy="2246.55" r="2.5" fill="#F8F1A9"/>
<circle cx="1541.08" cy="2261.94" r="2.5" fill="#F8F1A9"/>
<circle cx="1517.85" cy="2230.29" r="2.5" fill="#F8F1A9"/>
<circle cx="1486.12" cy="2243.36" r="2.5" fill="#F8F1A9"/>
<circle cx="1511.99" cy="2199.41" r="2.5" fill="#F8F1A9"/>
<circle cx="1706.74" cy="2262.32" r="2.5" fill="#F8F1A9"/>
<circle cx="1710.62" cy="2249.08" r="2.5" fill="#F8F1A9"/>
<circle cx="1758.97" cy="2237.04" r="2.5" fill="#F8F1A9"/>
<circle cx="1635.45" cy="2373.06" r="2.5" fill="#F8F1A9"/>
<circle cx="1641.94" cy="2364.04" r="2.5" fill="#F8F1A9"/>
<circle cx="1630.96" cy="2320.87" r="2.5" fill="#F8F1A9"/>
<circle cx="1617.11" cy="2298.45" r="2.5" fill="#F8F1A9"/>
<circle cx="1796.71" cy="2220.47" r="2.5" fill="#F8F1A9"/>
<circle cx="1783.45" cy="2230.79" r="2.5" fill="#F8F1A9"/>
<circle cx="1609.81" cy="2334.32" r="2.5" fill="#F8F1A9"/>
<circle cx="1664.69" cy="2260.3" r="2.5" fill="#F8F1A9"/>
<circle cx="1795.7" cy="2222.97" r="2.5" fill="#F8F1A9"/>
<circle cx="1676.53" cy="2251.01" r="2.5" fill="#F8F1A9"/>
<circle cx="1740.68" cy="2246.59" r="2.5" fill="#F8F1A9"/>
<circle cx="1615.65" cy="2374.45" r="2.5" fill="#F8F1A9"/>
<circle cx="1606.62" cy="2308.83" r="2.5" fill="#F8F1A9"/>
<circle cx="1643.86" cy="2372.7" r="2.5" fill="#F8F1A9"/>
<circle cx="1654.34" cy="2337.65" r="2.5" fill="#F8F1A9"/>
<circle cx="1617.98" cy="2332.99" r="2.5" fill="#F8F1A9"/>
<circle cx="1627.67" cy="2325.15" r="2.5" fill="#F8F1A9"/>
<circle cx="1642.86" cy="2271.91" r="2.5" fill="#F8F1A9"/>
<circle cx="1609.01" cy="2345.23" r="2.5" fill="#F8F1A9"/>
<circle cx="1643.3" cy="2322.27" r="2.5" fill="#F8F1A9"/>
<circle cx="1646.08" cy="2278.11" r="2.5" fill="#F8F1A9"/>
<circle cx="1710.48" cy="2250.86" r="2.5" fill="#F8F1A9"/>
<circle cx="1611.38" cy="2316.78" r="2.5" fill="#F8F1A9"/>
<circle cx="1613.3" cy="2374" r="2.5" fill="#F8F1A9"/>
<circle cx="1609.97" cy="2332.77" r="2.5" fill="#F8F1A9"/>
<circle cx="1710.86" cy="2248.3" r="2.5" fill="#F8F1A9"/>
<circle cx="1616.17" cy="2303.16" r="2.5" fill="#F8F1A9"/>
<circle cx="1656.83" cy="2392.25" r="2.5" fill="#F8F1A9"/>
<circle cx="1653.54" cy="2391.54" r="2.5" fill="#F8F1A9"/>
<circle cx="1665.98" cy="2388.07" r="2.5" fill="#F8F1A9"/>
<circle cx="1766.35" cy="2322.62" r="2.5" fill="#F8F1A9"/>
<circle cx="1745.26" cy="2335.89" r="2.5" fill="#F8F1A9"/>
<circle cx="1735.54" cy="2363.17" r="2.5" fill="#F8F1A9"/>
<circle cx="1776.94" cy="2332.41" r="2.5" fill="#F8F1A9"/>
<circle cx="1745.84" cy="2320.65" r="2.5" fill="#F8F1A9"/>
<circle cx="1729.57" cy="2344.1" r="2.5" fill="#F8F1A9"/>
<circle cx="1724.99" cy="2350.74" r="2.5" fill="#F8F1A9"/>
<circle cx="1745.92" cy="2370.48" r="2.5" fill="#F8F1A9"/>
<circle cx="1747.26" cy="2377.12" r="2.5" fill="#F8F1A9"/>
<circle cx="1742.7" cy="2382.89" r="2.5" fill="#F8F1A9"/>
<circle cx="1771.03" cy="2379.37" r="2.5" fill="#F8F1A9"/>
<circle cx="1770.14" cy="2352.19" r="2.5" fill="#F8F1A9"/>
<circle cx="1746.31" cy="2369.32" r="2.5" fill="#F8F1A9"/>
<circle cx="1758.96" cy="2379.31" r="2.5" fill="#F8F1A9"/>
<circle cx="1798.37" cy="2343.33" r="2.5" fill="#F8F1A9"/>
<circle cx="1719.91" cy="2330.65" r="2.5" fill="#F8F1A9"/>
<circle cx="1764.7" cy="2338.69" r="2.5" fill="#F8F1A9"/>
<circle cx="1770.54" cy="2380" r="2.5" fill="#F8F1A9"/>
<circle cx="1826.86" cy="2363.87" r="2.5" fill="#F8F1A9"/>
<circle cx="1795.94" cy="2357.08" r="2.5" fill="#F8F1A9"/>
<circle cx="1769.69" cy="2348.6" r="2.5" fill="#F8F1A9"/>
<circle cx="1825.28" cy="2353.04" r="2.5" fill="#F8F1A9"/>
<circle cx="1785.7" cy="2333.73" r="2.5" fill="#F8F1A9"/>
<circle cx="1793.35" cy="2348.04" r="2.5" fill="#F8F1A9"/>
<circle cx="1755.64" cy="2374.8" r="2.5" fill="#F8F1A9"/>
<circle cx="1781.06" cy="2329.71" r="2.5" fill="#F8F1A9"/>
<circle cx="1727.98" cy="2329.18" r="2.5" fill="#F8F1A9"/>
<circle cx="1731.07" cy="2320.76" r="2.5" fill="#F8F1A9"/>
<circle cx="1735.66" cy="2358.43" r="2.5" fill="#F8F1A9"/>
<circle cx="1731.44" cy="2375.32" r="2.5" fill="#F8F1A9"/>
<circle cx="1800.51" cy="2367.19" r="2.5" fill="#F8F1A9"/>
<circle cx="1747.32" cy="2342.84" r="2.5" fill="#F8F1A9"/>
<circle cx="1760.36" cy="2340.41" r="2.5" fill="#F8F1A9"/>
<circle cx="1822.13" cy="2343.89" r="2.5" fill="#F8F1A9"/>
<circle cx="1809" cy="2359.29" r="2.5" fill="#F8F1A9"/>
<circle cx="1725.89" cy="2326.05" r="2.5" fill="#F8F1A9"/>
<circle cx="1783.33" cy="2371.84" r="2.5" fill="#F8F1A9"/>
<circle cx="1743.34" cy="2329.15" r="2.5" fill="#F8F1A9"/>
<circle cx="1760.04" cy="2345.71" r="2.5" fill="#F8F1A9"/>
<circle cx="1765.02" cy="2382.56" r="2.5" fill="#F8F1A9"/>
<circle cx="1786.84" cy="2331.4" r="2.5" fill="#F8F1A9"/>
<circle cx="1756.22" cy="2349.56" r="2.5" fill="#F8F1A9"/>
<circle cx="1734.93" cy="2340.41" r="2.5" fill="#F8F1A9"/>
<circle cx="1723.83" cy="2361.32" r="2.5" fill="#F8F1A9"/>
<circle cx="1785.57" cy="2339.83" r="2.5" fill="#F8F1A9"/>
<circle cx="1781.25" cy="2353.34" r="2.5" fill="#F8F1A9"/>
<circle cx="1736.77" cy="2352.14" r="2.5" fill="#F8F1A9"/>
<circle cx="1773.98" cy="2325.01" r="2.5" fill="#F8F1A9"/>
<circle cx="1767.67" cy="2375.54" r="2.5" fill="#F8F1A9"/>
<circle cx="1790.71" cy="2335.43" r="2.5" fill="#F8F1A9"/>
<circle cx="1337.38" cy="2272.15" r="2.5" fill="#F8F1A9"/>
<circle cx="1352.07" cy="2255.68" r="2.5" fill="#F8F1A9"/>
<circle cx="1361.94" cy="2290.43" r="2.5" fill="#F8F1A9"/>
<circle cx="1345.86" cy="2265.35" r="2.5" fill="#F8F1A9"/>
<circle cx="1357.82" cy="2274.88" r="2.5" fill="#F8F1A9"/>
<circle cx="1365.34" cy="2244.87" r="2.5" fill="#F8F1A9"/>
<circle cx="1353.34" cy="2258.97" r="2.5" fill="#F8F1A9"/>
<circle cx="1331.31" cy="2280.15" r="2.5" fill="#F8F1A9"/>
<circle cx="1345.76" cy="2240.08" r="2.5" fill="#F8F1A9"/>
<circle cx="1371.36" cy="2298.04" r="2.5" fill="#F8F1A9"/>
<circle cx="1335.42" cy="2277.8" r="2.5" fill="#F8F1A9"/>
<circle cx="1360.01" cy="2291.65" r="2.5" fill="#F8F1A9"/>
<circle cx="1350.22" cy="2277.69" r="2.5" fill="#F8F1A9"/>
<circle cx="1366.61" cy="2298.58" r="2.5" fill="#F8F1A9"/>
<circle cx="1371.75" cy="2278.42" r="2.5" fill="#F8F1A9"/>
<circle cx="1350.1" cy="2272.29" r="2.5" fill="#F8F1A9"/>
<circle cx="1328.96" cy="2276.05" r="2.5" fill="#F8F1A9"/>
<circle cx="1349.37" cy="2259.82" r="2.5" fill="#F8F1A9"/>
<circle cx="1371.69" cy="2279.2" r="2.5" fill="#F8F1A9"/>
<circle cx="1349.46" cy="2261.87" r="2.5" fill="#F8F1A9"/>
<circle cx="1391.06" cy="2332.19" r="2.5" fill="#F8F1A9"/>
<circle cx="1389.46" cy="2332.25" r="2.5" fill="#F8F1A9"/>
<circle cx="1432.04" cy="2223.08" r="2.5" fill="#F8F1A9"/>
<circle cx="1428.11" cy="2231.2" r="2.5" fill="#F8F1A9"/>
<circle cx="1652.41" cy="2485.66" r="2.5" fill="#F8F1A9"/>
<circle cx="1671.75" cy="2497.9" r="2.5" fill="#F8F1A9"/>
<circle cx="1657.11" cy="2500.89" r="2.5" fill="#F8F1A9"/>
<circle cx="1659.56" cy="2496.94" r="2.5" fill="#F8F1A9"/>
<circle cx="1647.41" cy="2496.56" r="2.5" fill="#F8F1A9"/>
<circle cx="1679.4" cy="2501.62" r="2.5" fill="#F8F1A9"/>
<circle cx="1684.07" cy="2350.57" r="2.5" fill="#F8F1A9"/>
<circle cx="1697.62" cy="2099.64" r="2.3" fill="#FBEFA0"/>
<circle cx="1693.7" cy="2118.26" r="2.3" fill="#F7D060"/>
<circle cx="1689.51" cy="2096.42" r="2.3" fill="#F9E58A"/>
<circle cx="1709.48" cy="2106.68" r="2.3" fill="#F9E58A"/>
<circle cx="1720.48" cy="2082.67" r="2.3" fill="#F7D060"/>
<circle cx="1704.1" cy="2097.05" r="2.3" fill="#F7D060"/>
<circle cx="1706.33" cy="2099.98" r="2.3" fill="#FCF3B5"/>
<circle cx="1724.1" cy="2096.15" r="2.3" fill="#FBEFA0"/>
<circle cx="1704.84" cy="2115.76" r="2.3" fill="#FBEFA0"/>
<circle cx="1707.42" cy="2091.38" r="2.3" fill="#FBEFA0"/>
<circle cx="1697.78" cy="2127.11" r="2.3" fill="#FBEFA0"/>
<circle cx="1700.11" cy="2098.97" r="2.3" fill="#FBEFA0"/>
<circle cx="1694.99" cy="2123.14" r="2.3" fill="#F7D060"/>
<circle cx="1706.65" cy="2124.28" r="2.3" fill="#FBEFA0"/>
<circle cx="1699.32" cy="2090.02" r="2.3" fill="#FCF3B5"/>
<circle cx="1707.99" cy="2095.94" r="2.3" fill="#F7D060"/>
<circle cx="1704.99" cy="2105.29" r="2.3" fill="#FCF3B5"/>
<circle cx="1717.59" cy="2098.82" r="2.3" fill="#FBEFA0"/>
<circle cx="1706.17" cy="2101.54" r="2.3" fill="#FBEFA0"/>
<circle cx="1704.91" cy="2107.44" r="2.3" fill="#FBEFA0"/>
<circle cx="1701.79" cy="2095.14" r="2.3" fill="#FCF3B5"/>
<circle cx="1695.93" cy="2105.24" r="2.3" fill="#F7D060"/>
<circle cx="1714.42" cy="2095.97" r="2.3" fill="#FCF3B5"/>
<circle cx="1702.63" cy="2101.5" r="2.3" fill="#F9E58A"/>
<circle cx="1693.09" cy="2118.3" r="2.3" fill="#FCF3B5"/>
<circle cx="1702.9" cy="2089.31" r="2.3" fill="#F9E58A"/>
<circle cx="1700.06" cy="2104.2" r="2.3" fill="#FCF3B5"/>
<circle cx="1711.03" cy="2118.66" r="2.3" fill="#FBEFA0"/>
<circle cx="1700.59" cy="2115.33" r="2.3" fill="#FCF3B5"/>
<circle cx="1716.59" cy="2113.47" r="2.3" fill="#F9E58A"/>
<circle cx="1715.33" cy="2123.44" r="2.3" fill="#FCF3B5"/>
<circle cx="1703.15" cy="2112.64" r="2.3" fill="#F7D060"/>
<circle cx="1701.43" cy="2098.86" r="2.3" fill="#FBEFA0"/>
<circle cx="1694.91" cy="2098.54" r="2.3" fill="#F7D060"/>
<circle cx="1691.45" cy="2105.67" r="2.3" fill="#F9E58A"/>
<circle cx="1705.26" cy="2125.47" r="2.3" fill="#FBEFA0"/>
<circle cx="1704.56" cy="2100.88" r="2.3" fill="#FBEFA0"/>
<circle cx="1705.77" cy="2098.31" r="2.3" fill="#FBEFA0"/>
<circle cx="1704.29" cy="2114.7" r="2.3" fill="#F7D060"/>
<circle cx="1701.11" cy="2105.58" r="2.3" fill="#F9E58A"/>
<circle cx="1713.51" cy="2105.44" r="2.3" fill="#F7D060"/>
<circle cx="1703.87" cy="2102.76" r="2.3" fill="#FCF3B5"/>
<circle cx="1696.48" cy="2098.35" r="2.3" fill="#FBEFA0"/>
<circle cx="1705.42" cy="2090.25" r="2.3" fill="#F9E58A"/>
<circle cx="1705.83" cy="2116.99" r="2.3" fill="#FCF3B5"/>
<circle cx="1705.76" cy="2101.46" r="2.3" fill="#F9E58A"/>
<circle cx="1705.21" cy="2114.47" r="2.3" fill="#F9E58A"/>
<circle cx="1701.62" cy="2107.26" r="2.3" fill="#F9E58A"/>
<circle cx="1706.23" cy="2110.14" r="2.3" fill="#FCF3B5"/>
<circle cx="1700.63" cy="2096.48" r="2.3" fill="#F7D060"/>
<circle cx="1695.84" cy="2091.4" r="2.3" fill="#FBEFA0"/>
<circle cx="1683.91" cy="2101.04" r="2.3" fill="#F7D060"/>
<circle cx="1702.21" cy="2116.16" r="2.3" fill="#FBEFA0"/>
<circle cx="1703.34" cy="2100.48" r="2.3" fill="#FBEFA0"/>
<circle cx="1699.09" cy="2094.25" r="2.3" fill="#F9E58A"/>
<circle cx="1697.76" cy="2098.09" r="2.3" fill="#F7D060"/>
<circle cx="1691.05" cy="2112.96" r="2.3" fill="#F7D060"/>
<circle cx="1711.01" cy="2121.07" r="2.3" fill="#FBEFA0"/>
<circle cx="1696.59" cy="2118.81" r="2.3" fill="#FCF3B5"/>
<circle cx="1701.09" cy="2097.82" r="2.3" fill="#F7D060"/>
<circle cx="1700.8" cy="2104.26" r="2.3" fill="#FBEFA0"/>
<circle cx="1703.43" cy="2097.69" r="2.3" fill="#FBEFA0"/>
<circle cx="1710.02" cy="2114.4" r="2.3" fill="#FCF3B5"/>
<circle cx="1719.8" cy="2103.18" r="2.3" fill="#F9E58A"/>
<circle cx="1710.24" cy="2110.6" r="2.3" fill="#F9E58A"/>
<circle cx="1687.34" cy="2105.49" r="2.3" fill="#FBEFA0"/>
<circle cx="1706.06" cy="2106.54" r="2.3" fill="#FBEFA0"/>
<circle cx="1699.38" cy="2112.03" r="2.3" fill="#FCF3B5"/>
<circle cx="1708.77" cy="2113.27" r="2.3" fill="#FBEFA0"/>
<circle cx="1697.26" cy="2117.66" r="2.3" fill="#FBEFA0"/>
<circle cx="1710.12" cy="2107.75" r="2.3" fill="#F9E58A"/>
<circle cx="1709.19" cy="2101.61" r="2.3" fill="#FBEFA0"/>
<circle cx="1701.51" cy="2110.6" r="2.3" fill="#F9E58A"/>
<circle cx="1708.57" cy="2087.39" r="2.3" fill="#F9E58A"/>
<circle cx="1694.05" cy="2085.68" r="2.3" fill="#FBEFA0"/>
<circle cx="1708.77" cy="2096.82" r="2.3" fill="#FCF3B5"/>
<circle cx="1699.09" cy="2116.16" r="2.3" fill="#FBEFA0"/>
<circle cx="1698.16" cy="2110.01" r="2.3" fill="#FCF3B5"/>
<circle cx="1689.33" cy="2105.02" r="2.3" fill="#FBEFA0"/>
<circle cx="1692.8" cy="2095.87" r="2.3" fill="#FCF3B5"/>
<circle cx="1715.72" cy="2099.57" r="2.3" fill="#F9E58A"/>
<circle cx="1701.09" cy="2106.24" r="2.3" fill="#FCF3B5"/>
<circle cx="1711.22" cy="2098.46" r="2.3" fill="#F7D060"/>
<circle cx="1697.4" cy="2114.15" r="2.3" fill="#FBEFA0"/>
<circle cx="1716.12" cy="2103.59" r="2.3" fill="#FCF3B5"/>
<circle cx="1694.26" cy="2103.58" r="2.3" fill="#FBEFA0"/>
<circle cx="1701.08" cy="2097.11" r="2.3" fill="#F9E58A"/>
<circle cx="1699.91" cy="2091.93" r="2.3" fill="#FCF3B5"/>
<circle cx="1706.88" cy="2106.5" r="2.3" fill="#F7D060"/>
<circle cx="1688.46" cy="2083.58" r="2.3" fill="#F7D060"/>
<circle cx="1710.56" cy="2090.95" r="2.3" fill="#FCF3B5"/>
<circle cx="1704.44" cy="2111.39" r="2.3" fill="#F9E58A"/>
<circle cx="1693.31" cy="2111.72" r="2.3" fill="#FCF3B5"/>
<circle cx="1701.33" cy="2110.99" r="2.3" fill="#F7D060"/>
<circle cx="1704.39" cy="2113.09" r="2.3" fill="#FBEFA0"/>
<circle cx="1694.26" cy="2091.88" r="2.3" fill="#FBEFA0"/>
<circle cx="1694.92" cy="2100.09" r="2.3" fill="#FBEFA0"/>
<circle cx="1691.65" cy="2102.52" r="2.3" fill="#F7D060"/>
<circle cx="1707.31" cy="2099.12" r="2.3" fill="#FBEFA0"/>
<circle cx="1687.19" cy="2095.87" r="2.3" fill="#F9E58A"/>
<circle cx="1697.39" cy="2097.35" r="2.3" fill="#FCF3B5"/>
<circle cx="1700.66" cy="2097.56" r="2.3" fill="#F9E58A"/>
<circle cx="1710.69" cy="2113.2" r="2.3" fill="#F9E58A"/>
<circle cx="1698.12" cy="2104.71" r="2.3" fill="#F7D060"/>
<circle cx="1701.46" cy="2103.53" r="2.3" fill="#FBEFA0"/>
<circle cx="1706.09" cy="2090.3" r="2.3" fill="#FBEFA0"/>
<circle cx="1704.04" cy="2123.86" r="2.3" fill="#FBEFA0"/>
<circle cx="1704.9" cy="2106.56" r="2.3" fill="#F7D060"/>
<circle cx="1703.91" cy="2095.89" r="2.3" fill="#FBEFA0"/>
<circle cx="1699.96" cy="2112.22" r="2.3" fill="#F9E58A"/>
<circle cx="1678.3" cy="2088.04" r="2.3" fill="#F2A33A"/>
<circle cx="1698.42" cy="2127.6" r="2.3" fill="#F6B845"/>
<circle cx="1697.36" cy="2088.59" r="2.3" fill="#F2A33A"/>
<circle cx="1681.36" cy="2101.87" r="2.3" fill="#F2A33A"/>
<circle cx="1708.79" cy="2095.34" r="2.3" fill="#F2A33A"/>
<circle cx="1700.78" cy="2089.77" r="2.3" fill="#F6B845"/>
<circle cx="1693.65" cy="2095.89" r="2.3" fill="#EE8A2E"/>
<circle cx="1691.3" cy="2101.43" r="2.3" fill="#F6B845"/>
<circle cx="1688.61" cy="2091.96" r="2.3" fill="#F6B845"/>
<circle cx="1695.92" cy="2111.71" r="2.3" fill="#F6B845"/>
<circle cx="1690.82" cy="2087.58" r="2.3" fill="#F6B845"/>
<circle cx="1677.4" cy="2099.93" r="2.3" fill="#F2A33A"/>
<circle cx="1704.67" cy="2105.23" r="2.3" fill="#F6B845"/>
<circle cx="1693.42" cy="2102.48" r="2.3" fill="#F2A33A"/>
<circle cx="1686.84" cy="2089.4" r="2.3" fill="#F2A33A"/>
<circle cx="1681.78" cy="2106.72" r="2.3" fill="#F2A33A"/>
<circle cx="1695.53" cy="2093.75" r="2.3" fill="#F6B845"/>
<circle cx="1695.81" cy="2100.17" r="2.3" fill="#EE8A2E"/>
<circle cx="1709.42" cy="2092.78" r="2.3" fill="#EE8A2E"/>
<circle cx="1670.44" cy="2092.95" r="2.3" fill="#F2A33A"/>
<circle cx="1707.36" cy="2096.78" r="2.3" fill="#EE8A2E"/>
<circle cx="1693.37" cy="2108.88" r="2.3" fill="#EE8A2E"/>
<circle cx="1695.32" cy="2095.96" r="2.3" fill="#F2A33A"/>
<circle cx="1692.38" cy="2096.29" r="2.3" fill="#EE8A2E"/>
<circle cx="1699.05" cy="2104.6" r="2.3" fill="#EE8A2E"/>
<circle cx="1694.29" cy="2106.89" r="2.3" fill="#F2A33A"/>
<circle cx="1677.33" cy="2092.86" r="2.3" fill="#F2A33A"/>
<circle cx="1688.34" cy="2104.56" r="2.3" fill="#F2A33A"/>
<circle cx="1698.53" cy="2097.65" r="2.3" fill="#EE8A2E"/>
<circle cx="1698.98" cy="2095.58" r="2.3" fill="#EE8A2E"/>
<circle cx="1670.8" cy="2101.41" r="2.4" fill="#E0612F"/>
<circle cx="1670.97" cy="2098.03" r="2.4" fill="#E0612F"/>
<circle cx="1671.35" cy="2099.24" r="2.4" fill="#E0612F"/>
<circle cx="1673.69" cy="2094.69" r="2.4" fill="#C63A3A"/>
<circle cx="1678.17" cy="2093.81" r="2.4" fill="#C63A3A"/>
<circle cx="1676.59" cy="2089.3" r="2.4" fill="#C63A3A"/>
<circle cx="1679.48" cy="2085.8" r="2.4" fill="#A52C52"/>
<circle cx="1683.17" cy="2087.6" r="2.4" fill="#A52C52"/>
<circle cx="1684.98" cy="2086.62" r="2.4" fill="#A52C52"/>
<circle cx="1688.44" cy="2083.76" r="2.4" fill="#7A1F6B"/>
<circle cx="1692.67" cy="2079.98" r="2.4" fill="#7A1F6B"/>
<circle cx="1692.49" cy="2080.25" r="2.4" fill="#7A1F6B"/>
<circle cx="1695.08" cy="2077.81" r="2.4" fill="#4A1266"/>
<circle cx="1695.94" cy="2077.06" r="2.4" fill="#4A1266"/>
<circle cx="1698.49" cy="2074.54" r="2.4" fill="#4A1266"/>
<circle cx="1697.98" cy="2072.91" r="2.4" fill="#4A1266"/>
<circle cx="1700" cy="2074" r="3.2" fill="#FCF3D0" stroke="#5A1A66" stroke-width="1.3"/>
<circle cx="1664.5" cy="2151.3" r="2.3" fill="#F2A33A"/>
<circle cx="1609" cy="2311" r="2.3" fill="#EE8A2E"/>
<circle cx="1611" cy="2314" r="2.3" fill="#F2A33A"/>
<circle cx="1781" cy="2323.5" r="2.3" fill="#F6C845"/>
<circle cx="1658" cy="2395.5" r="2.3" fill="#EE8A2E"/>
<circle cx="1664" cy="2396" r="2.3" fill="#F6B845"/>
<circle cx="1388.2" cy="2288" r="2.3" fill="#E06A2E"/>
<circle cx="1360" cy="2293.3" r="2.3" fill="#F2A33A"/>
<circle cx="1553.3" cy="2290.3" r="2.3" fill="#F2A33A"/>
<circle cx="1606" cy="2362" r="2.3" fill="#F6B845"/>
<defs><linearGradient id="cb" x1="0" y1="1" x2="0" y2="0"><stop offset="0" stop-color="#FCFBB0"/><stop offset="0.15" stop-color="#F9D84A"/><stop offset="0.35" stop-color="#F38B25"/><stop offset="0.55" stop-color="#CF4446"/><stop offset="0.75" stop-color="#7E2482"/><stop offset="1" stop-color="#0E0A2A"/></linearGradient></defs>
<rect x="1844" y="2216" width="10.6" height="90.6" fill="url(#cb)"/>
<line x1="1851" y1="2229.6" x2="1856" y2="2229.6" stroke="#000" stroke-width="1"/>
<line x1="1851" y1="2306" x2="1856" y2="2306" stroke="#000" stroke-width="1"/>
<text x="1857" y="2236" font-size="17">6</text>
<text x="1857" y="2312.5" font-size="17">0</text>
</svg></body></html>
